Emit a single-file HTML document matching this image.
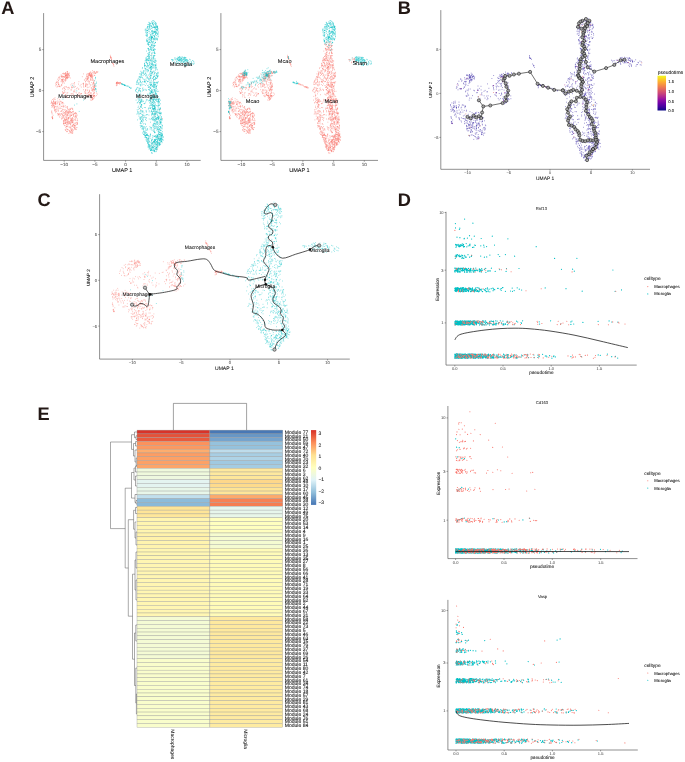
<!DOCTYPE html>
<html><head><meta charset="utf-8"><title>Figure</title>
<style>html,body{margin:0;padding:0;background:#fff}svg{display:block}</style></head>
<body>
<svg width="685" height="762" viewBox="0 0 685 762" text-rendering="geometricPrecision" font-family='"Liberation Sans", Arial, sans-serif'>
<rect width="685" height="762" fill="#fff"/>
<g style="mix-blend-mode:multiply">
<text x="1.2" y="14.0" font-size="18.20" text-anchor="start" fill="#231815" stroke="#231815" stroke-width="0.04" font-weight="bold" >A</text>
<text x="397.8" y="14.2" font-size="18.20" text-anchor="start" fill="#231815" stroke="#231815" stroke-width="0.04" font-weight="bold" >B</text>
<text x="37.6" y="206.3" font-size="18.20" text-anchor="start" fill="#231815" stroke="#231815" stroke-width="0.04" font-weight="bold" >C</text>
<text x="397.8" y="206.0" font-size="18.20" text-anchor="start" fill="#231815" stroke="#231815" stroke-width="0.04" font-weight="bold" >D</text>
<text x="37.6" y="419.8" font-size="18.20" text-anchor="start" fill="#231815" stroke="#231815" stroke-width="0.04" font-weight="bold" >E</text>
<path d="M43.6 13.1V160.4H200.7" stroke="#444" stroke-width="0.6" fill="none"/><text x="64.2" y="166.0" font-size="4.60" text-anchor="middle" fill="#4d4d4d" stroke="#4d4d4d" stroke-width="0.04" font-weight="normal" >−10</text><text x="94.9" y="166.0" font-size="4.60" text-anchor="middle" fill="#4d4d4d" stroke="#4d4d4d" stroke-width="0.04" font-weight="normal" >−5</text><text x="125.6" y="166.0" font-size="4.60" text-anchor="middle" fill="#4d4d4d" stroke="#4d4d4d" stroke-width="0.04" font-weight="normal" >0</text><text x="156.3" y="166.0" font-size="4.60" text-anchor="middle" fill="#4d4d4d" stroke="#4d4d4d" stroke-width="0.04" font-weight="normal" >5</text><text x="187.0" y="166.0" font-size="4.60" text-anchor="middle" fill="#4d4d4d" stroke="#4d4d4d" stroke-width="0.04" font-weight="normal" >10</text><text x="41.2" y="133.3" font-size="4.60" text-anchor="end" fill="#4d4d4d" stroke="#4d4d4d" stroke-width="0.04" font-weight="normal" >−5</text><text x="41.2" y="92.3" font-size="4.60" text-anchor="end" fill="#4d4d4d" stroke="#4d4d4d" stroke-width="0.04" font-weight="normal" >0</text><text x="41.2" y="51.3" font-size="4.60" text-anchor="end" fill="#4d4d4d" stroke="#4d4d4d" stroke-width="0.04" font-weight="normal" >5</text><path d="M64.2 160.4v1.4M94.9 160.4v1.4M125.6 160.4v1.4M156.3 160.4v1.4M187.0 160.4v1.4M43.6 131.6h-1.4M43.6 90.6h-1.4M43.6 49.6h-1.4" stroke="#444" stroke-width="0.5" fill="none"/><text x="122.2" y="172.1" font-size="5.50" text-anchor="middle" fill="#000" stroke="#000" stroke-width="0.04" font-weight="normal" >UMAP 1</text><text transform="translate(33.8 87.0) rotate(-90)" font-size="5.50" text-anchor="middle" stroke="#000" stroke-width="0.04">UMAP 2</text><path d="M59.1 77.1h0M61.3 76.8h0M58.0 86.2h0M63.2 77.6h0M61.3 75.9h0M65.9 80.5h0M63.0 82.1h0M67.4 73.3h0M58.4 82.6h0M56.4 82.5h0M62.8 80.7h0M57.3 82.9h0M61.1 74.8h0M66.8 79.0h0M62.5 73.6h0M60.2 86.7h0M59.2 77.5h0M59.3 86.6h0M63.3 73.8h0M66.9 77.8h0M56.8 81.3h0M61.7 85.3h0M64.5 83.1h0M61.8 80.1h0M61.2 81.0h0M64.7 74.2h0M57.3 86.2h0M58.4 84.5h0M66.5 77.5h0M61.5 79.7h0M63.9 73.9h0M55.6 83.2h0M65.3 81.2h0M65.6 75.9h0M67.2 73.3h0M66.5 75.2h0M59.0 84.4h0M62.6 80.8h0M56.4 84.7h0M62.4 79.4h0M61.1 85.8h0M62.2 79.2h0M56.1 84.5h0M62.0 76.3h0M66.4 77.2h0M57.7 81.8h0M62.3 82.1h0M62.7 76.6h0M59.2 86.3h0M58.5 77.9h0M63.6 76.6h0M59.8 79.2h0M67.6 71.5h0M59.0 86.2h0M57.0 87.2h0M66.0 78.7h0M67.8 72.8h0M56.5 82.8h0M68.3 73.7h0M58.4 80.2h0M65.3 75.2h0M64.9 80.4h0M64.0 76.5h0M62.6 81.0h0M58.5 84.3h0M68.3 77.3h0M58.6 83.8h0M61.7 84.4h0M60.0 76.3h0M64.6 77.4h0M62.1 76.2h0M65.7 79.3h0M61.8 85.0h0M55.7 85.8h0M61.8 79.7h0M65.8 73.6h0M62.6 79.6h0M61.6 76.9h0M66.4 78.1h0M65.9 78.0h0M62.0 76.0h0M60.0 78.4h0M62.8 83.4h0M63.8 81.1h0M65.9 74.6h0M64.8 79.6h0M65.5 79.9h0M59.6 86.1h0M63.5 79.0h0M69.4 73.1h0M62.2 77.3h0M68.7 74.8h0M65.6 78.6h0M61.1 81.7h0M65.7 72.5h0M67.7 75.0h0M63.4 81.7h0M58.5 80.8h0M57.7 79.2h0M68.3 74.8h0M67.9 74.6h0M65.5 78.0h0M65.6 73.1h0M67.2 74.1h0M67.5 75.6h0M67.4 76.6h0M69.1 75.5h0M67.4 78.4h0M67.5 77.1h0M66.1 73.9h0M65.0 76.2h0M68.1 73.7h0M66.1 75.3h0M67.5 77.9h0M63.2 79.4h0M68.0 75.7h0M64.6 77.0h0M66.3 76.5h0M66.9 71.8h0M65.6 75.6h0M65.6 77.0h0M65.4 76.3h0M66.0 75.2h0M67.3 77.5h0M70.3 78.0h0M67.6 71.8h0M65.7 73.4h0M69.5 75.2h0M63.7 73.2h0M67.1 76.8h0M69.2 77.2h0M68.8 76.9h0M67.9 77.8h0M66.3 77.5h0M65.7 75.5h0M66.7 75.5h0M69.2 76.1h0M63.7 76.4h0M67.1 74.0h0M68.8 74.1h0M66.6 74.7h0M64.4 73.5h0M67.7 74.9h0M66.3 75.7h0M65.8 74.8h0M76.5 92.9h0M77.3 87.8h0M80.9 93.9h0M83.5 83.4h0M69.4 88.2h0M66.2 86.5h0M73.8 91.0h0M72.4 87.6h0M79.0 94.8h0M78.7 89.2h0M73.4 95.3h0M83.8 87.2h0M76.4 88.7h0M79.4 95.6h0M64.6 88.1h0M62.9 92.7h0M81.3 93.7h0M73.5 94.1h0M63.8 93.1h0M70.9 84.9h0M83.5 85.0h0M82.9 83.7h0M81.3 87.1h0M63.8 87.5h0M83.4 89.7h0M80.1 85.8h0M65.0 92.3h0M65.4 96.8h0M85.4 90.0h0M78.8 89.0h0M71.1 93.9h0M65.4 94.8h0M72.0 97.7h0M65.4 89.4h0M77.1 95.0h0M74.9 89.9h0M75.4 86.6h0M63.0 93.4h0M71.7 86.8h0M81.1 84.4h0M64.6 88.7h0M66.9 95.1h0M63.1 92.9h0M66.2 87.3h0M67.8 92.7h0M64.4 92.0h0M85.5 86.5h0M73.6 91.9h0M78.6 96.5h0M64.3 90.4h0M67.7 97.5h0M74.5 82.5h0M74.5 91.2h0M70.9 89.9h0M67.4 96.9h0M71.9 93.8h0M62.7 89.1h0M78.9 81.7h0M85.8 90.2h0M80.2 94.1h0M67.7 87.7h0M64.9 86.6h0M81.3 93.5h0M75.0 92.1h0M72.0 83.7h0M78.4 93.1h0M71.8 87.9h0M79.5 92.8h0M83.6 83.3h0M85.8 89.7h0M68.8 87.3h0M85.7 91.0h0M74.2 84.0h0M68.8 87.7h0M74.3 87.3h0M65.6 95.0h0M74.1 86.0h0M70.9 95.5h0M72.2 93.8h0M76.5 95.6h0M71.5 89.9h0M68.1 89.3h0M73.9 83.7h0M62.4 91.6h0M63.5 93.2h0M72.9 86.0h0M67.0 93.1h0M78.5 84.1h0M62.9 88.4h0M71.8 87.4h0M89.2 94.8h0M85.7 78.2h0M88.2 87.3h0M89.0 94.0h0M87.5 84.3h0M85.7 84.7h0M93.8 82.7h0M92.6 79.9h0M87.0 95.2h0M93.4 80.0h0M90.4 79.7h0M85.5 85.4h0M91.3 88.4h0M92.4 86.2h0M89.8 95.3h0M86.0 78.7h0M91.2 77.1h0M85.5 81.3h0M90.3 85.1h0M88.1 76.8h0M87.7 96.7h0M85.1 93.6h0M89.9 86.9h0M87.7 79.4h0M85.5 81.9h0M88.6 95.4h0M89.0 75.5h0M89.1 84.1h0M94.6 87.6h0M86.8 79.7h0M93.1 94.3h0M84.8 80.0h0M92.0 90.5h0M91.8 96.3h0M88.0 78.3h0M90.9 84.9h0M87.7 90.7h0M86.8 78.8h0M86.6 77.0h0M88.4 92.6h0M84.3 80.0h0M88.6 80.2h0M92.8 95.1h0M90.4 95.3h0M90.8 95.6h0M87.4 79.5h0M93.3 87.3h0M85.6 86.6h0M87.4 78.3h0M92.5 77.7h0M90.9 95.8h0M87.6 96.5h0M92.5 89.0h0M91.7 82.5h0M93.3 83.0h0M93.4 93.5h0M89.0 76.1h0M87.7 81.1h0M92.7 78.5h0M83.6 86.2h0M90.4 76.3h0M93.7 82.4h0M93.7 88.9h0M91.9 79.3h0M86.6 80.6h0M90.6 76.5h0M90.8 93.0h0M89.5 91.0h0M93.9 91.6h0M83.6 84.3h0M89.5 90.2h0M91.0 96.0h0M91.5 94.0h0M90.9 80.4h0M85.7 85.7h0M87.8 89.8h0M87.7 78.6h0M89.6 91.4h0M85.9 93.4h0M90.9 97.0h0M89.0 92.6h0M86.3 83.7h0M92.2 80.4h0M89.2 82.1h0M86.9 86.0h0M91.4 87.6h0M90.5 75.7h0M90.7 93.8h0M88.9 75.5h0M84.5 91.8h0M91.7 89.9h0M86.8 84.5h0M89.3 83.2h0M87.2 76.6h0M89.0 94.8h0M86.5 95.7h0M85.8 93.0h0M89.6 81.3h0M89.2 94.4h0M91.0 92.5h0M87.1 85.1h0M88.7 81.7h0M85.2 92.3h0M90.1 95.5h0M85.4 83.9h0M87.2 87.7h0M89.0 92.1h0M92.4 90.0h0M93.5 81.2h0M87.7 93.2h0M92.3 75.0h0M86.7 76.1h0M88.9 74.5h0M91.4 77.4h0M91.5 75.5h0M87.1 73.9h0M87.9 77.5h0M91.6 73.8h0M88.1 73.5h0M92.2 76.3h0M94.6 75.5h0M90.3 79.7h0M91.3 76.5h0M90.8 78.5h0M92.6 72.8h0M94.4 80.7h0M91.2 74.8h0M82.3 76.7h0M89.5 72.8h0M87.7 75.0h0M89.6 74.7h0M88.8 73.8h0M92.2 77.8h0M92.5 76.7h0M89.1 73.3h0M90.0 74.3h0M91.7 74.3h0M88.5 77.1h0M91.5 74.0h0M90.7 75.7h0M91.9 75.4h0M86.4 74.8h0M91.0 74.0h0M87.6 76.7h0M90.6 76.1h0M89.6 73.6h0M90.8 72.0h0M90.5 72.3h0M92.4 70.7h0M89.9 75.5h0M93.0 76.2h0M88.7 74.9h0M90.8 77.8h0M90.5 75.9h0M89.8 75.0h0M89.4 73.4h0M91.1 75.6h0M90.1 73.4h0M91.8 73.0h0M89.6 75.0h0M94.8 75.3h0M94.0 73.7h0M88.9 77.8h0M91.5 76.5h0M88.2 78.4h0M92.8 75.1h0M90.0 74.5h0M90.5 75.1h0M91.2 75.7h0M83.6 73.9h0M94.4 90.0h0M93.3 83.9h0M92.9 89.6h0M94.3 95.4h0M94.8 83.6h0M94.6 86.3h0M93.8 85.8h0M96.4 93.0h0M93.8 93.0h0M94.4 90.0h0M92.7 84.2h0M94.8 86.6h0M94.3 92.9h0M92.5 91.0h0M93.3 89.4h0M96.4 95.6h0M94.7 85.3h0M94.6 92.8h0M94.8 85.2h0M93.1 95.6h0M93.2 88.0h0M93.3 95.9h0M93.6 90.2h0M94.2 95.6h0M94.9 89.3h0M94.8 84.8h0M95.1 86.5h0M97.3 94.1h0M93.4 82.9h0M94.2 87.3h0M94.7 89.8h0M93.4 89.0h0M93.7 86.4h0M94.4 87.2h0M93.1 84.0h0M91.5 95.6h0M93.6 96.6h0M92.8 99.1h0M91.0 97.6h0M91.6 96.1h0M90.4 100.0h0M92.4 97.9h0M93.5 96.0h0M94.1 96.1h0M95.1 96.2h0M94.4 95.8h0M92.4 99.5h0M91.2 98.6h0M92.9 99.2h0M92.3 97.4h0M92.2 99.8h0M92.2 98.0h0M94.4 97.8h0M93.3 98.6h0M93.8 96.3h0M90.8 95.6h0M94.6 95.7h0M92.4 97.8h0M91.7 100.3h0M92.9 97.9h0M94.0 73.1h0M94.6 72.1h0M97.9 71.8h0M95.4 73.5h0M93.6 72.0h0M94.2 71.4h0M96.9 71.8h0M96.0 73.0h0M96.8 71.5h0M97.1 72.6h0M95.2 72.4h0M94.2 72.0h0M96.8 72.4h0M95.2 73.4h0M61.7 106.5h0M62.3 118.3h0M64.4 115.6h0M67.3 106.8h0M59.4 104.4h0M63.4 120.4h0M55.8 103.7h0M59.6 113.4h0M61.4 101.8h0M62.2 117.4h0M62.4 114.3h0M59.8 117.3h0M65.1 119.3h0M57.8 101.0h0M55.5 103.9h0M61.7 118.9h0M57.5 113.4h0M58.9 107.7h0M71.6 119.2h0M66.0 107.6h0M57.4 103.8h0M61.0 111.5h0M63.0 112.8h0M65.1 114.3h0M59.3 104.1h0M68.2 119.1h0M59.5 104.5h0M68.4 109.6h0M67.0 119.4h0M68.3 113.6h0M55.7 102.5h0M60.7 114.0h0M54.7 107.7h0M63.1 115.8h0M55.8 104.7h0M56.0 101.4h0M60.2 101.6h0M56.2 108.1h0M52.8 103.6h0M55.7 103.8h0M54.5 110.9h0M57.9 106.1h0M56.5 111.6h0M55.9 103.7h0M60.3 115.4h0M63.9 109.4h0M59.8 103.5h0M61.8 106.2h0M65.5 120.3h0M52.5 104.3h0M68.7 121.4h0M51.7 102.4h0M66.4 118.0h0M58.2 114.4h0M67.1 122.4h0M62.2 103.9h0M68.8 118.4h0M62.2 102.9h0M61.1 111.3h0M52.7 106.6h0M59.8 102.9h0M70.5 114.8h0M65.6 113.5h0M68.8 117.8h0M53.8 103.8h0M52.5 103.2h0M69.5 114.0h0M70.0 117.7h0M71.6 120.2h0M56.3 106.7h0M59.4 114.5h0M67.1 122.0h0M55.7 102.1h0M58.5 114.5h0M64.9 106.7h0M72.1 118.9h0M53.1 104.4h0M60.7 101.2h0M60.7 108.0h0M68.0 113.0h0M55.6 111.6h0M63.7 115.3h0M58.0 115.1h0M70.7 113.0h0M63.8 103.8h0M67.5 108.6h0M66.8 116.3h0M60.0 106.0h0M70.4 112.1h0M62.0 116.7h0M67.4 107.2h0M70.3 116.0h0M57.8 98.7h0M63.4 111.8h0M54.1 99.3h0M55.2 99.5h0M61.5 103.0h0M57.5 106.9h0M61.2 114.1h0M59.6 99.7h0M63.2 105.7h0M53.7 107.9h0M55.0 97.8h0M63.3 107.1h0M63.8 113.5h0M62.9 109.7h0M58.0 102.1h0M62.7 102.4h0M61.8 118.8h0M55.4 109.8h0M62.1 111.0h0M63.0 106.6h0M62.2 114.3h0M58.5 110.2h0M65.4 111.9h0M62.4 109.2h0M63.2 118.0h0M57.3 102.9h0M66.7 110.8h0M66.7 112.0h0M62.7 102.6h0M56.9 109.3h0M65.5 111.4h0M66.3 110.9h0M63.3 116.0h0M63.5 106.2h0M57.1 110.8h0M62.5 115.4h0M58.7 114.9h0M58.0 108.9h0M53.9 98.5h0M55.7 112.7h0M59.1 102.0h0M59.3 116.2h0M58.6 111.2h0M67.1 112.7h0M71.3 120.6h0M56.0 109.9h0M53.8 100.1h0M52.7 105.8h0M54.8 109.9h0M55.7 102.2h0M67.6 112.2h0M59.2 108.6h0M62.9 102.4h0M53.5 101.1h0M64.3 112.7h0M69.6 121.5h0M65.7 109.8h0M70.7 120.8h0M61.4 113.6h0M61.0 108.5h0M52.0 103.1h0M67.0 106.8h0M68.9 117.7h0M52.5 99.5h0M64.9 112.5h0M64.7 110.1h0M72.1 118.0h0M51.5 102.0h0M54.9 110.0h0M66.8 117.3h0M65.2 105.6h0M61.8 110.5h0M55.6 106.5h0M71.1 120.0h0M60.0 104.6h0M65.1 114.5h0M58.3 113.5h0M55.1 110.1h0M69.7 131.8h0M72.3 108.4h0M68.6 129.9h0M68.2 123.1h0M72.3 120.7h0M72.7 111.8h0M71.1 115.5h0M65.5 112.1h0M76.1 129.6h0M69.3 130.5h0M64.9 119.6h0M68.4 118.3h0M77.2 118.7h0M71.6 112.6h0M75.3 128.8h0M67.2 115.0h0M69.7 109.3h0M73.0 122.6h0M71.9 108.2h0M72.6 131.3h0M67.5 115.7h0M67.5 114.6h0M68.9 115.7h0M70.0 111.6h0M70.1 108.6h0M69.6 112.1h0M66.5 119.3h0M65.9 117.8h0M75.4 119.9h0M66.9 115.7h0M72.9 129.5h0M70.8 132.1h0M75.0 113.0h0M71.0 118.8h0M65.7 130.2h0M67.6 126.6h0M75.3 118.2h0M68.7 112.2h0M63.6 121.8h0M70.0 123.4h0M64.4 125.6h0M66.9 129.4h0M74.7 127.2h0M74.0 126.8h0M72.3 111.8h0M74.8 129.0h0M71.8 112.4h0M77.7 120.7h0M71.7 130.6h0M74.8 125.9h0M76.2 113.4h0M70.7 123.1h0M76.8 114.9h0M75.1 125.6h0M68.0 119.8h0M64.5 120.1h0M73.8 124.5h0M68.9 112.4h0M65.4 123.4h0M76.5 113.3h0M73.3 111.2h0M65.8 122.8h0M74.6 128.8h0M66.5 113.2h0M73.5 120.8h0M71.1 112.9h0M67.6 120.9h0M73.0 119.2h0M73.3 115.0h0M70.9 118.4h0M72.4 125.7h0M67.8 118.4h0M74.1 113.5h0M66.0 122.9h0M68.5 122.9h0M65.2 129.7h0M70.2 132.3h0M65.1 125.4h0M76.3 117.6h0M65.4 127.2h0M68.1 124.5h0M64.4 121.1h0M73.4 114.7h0M71.6 115.3h0M67.9 126.0h0M71.5 132.8h0M74.9 117.2h0M71.1 133.2h0M63.6 117.0h0M65.7 130.1h0M71.8 129.8h0M75.4 116.0h0M69.9 131.1h0M70.6 124.9h0M64.4 118.7h0M70.3 109.2h0M67.7 123.6h0M67.0 124.9h0M65.8 115.0h0M63.5 123.0h0M70.3 128.8h0M72.5 132.8h0M72.5 122.1h0M76.0 122.5h0M74.6 119.9h0M76.3 127.8h0M73.0 124.8h0M72.9 121.0h0M71.8 128.8h0M76.7 124.7h0M76.9 122.3h0M73.5 115.2h0M75.2 113.2h0M68.0 122.8h0M74.9 125.4h0M63.9 123.4h0M67.7 121.2h0M72.9 126.0h0M66.8 124.9h0M72.2 126.4h0M66.4 126.7h0M65.9 121.9h0M65.0 120.8h0M70.9 122.8h0M75.4 112.7h0M68.2 113.9h0M72.2 119.0h0M67.5 129.6h0M68.1 117.8h0M73.4 124.7h0M67.2 111.3h0M72.4 122.7h0M67.9 109.1h0M74.1 123.2h0M75.3 127.0h0M70.0 116.5h0M63.4 123.5h0M77.1 115.2h0M66.3 128.3h0M69.0 127.1h0M66.3 119.0h0M65.5 116.8h0M66.8 120.7h0M72.0 130.7h0M72.8 109.1h0M72.1 125.3h0M69.9 127.6h0M64.9 113.2h0M77.4 122.9h0M69.5 122.2h0M68.3 121.2h0M64.8 122.9h0M67.0 110.9h0M63.5 123.2h0M72.9 118.3h0M66.7 126.5h0M67.8 113.0h0M67.0 131.2h0M66.6 126.5h0M72.1 121.1h0M70.5 124.5h0M75.9 120.5h0M72.6 117.6h0M65.4 120.7h0M65.2 123.4h0M65.5 119.6h0M70.0 130.9h0M71.5 121.6h0M76.3 116.8h0M69.7 122.7h0M69.4 111.9h0M68.4 117.7h0M75.1 123.3h0M76.7 116.1h0M72.5 109.4h0M63.7 121.2h0M70.6 131.9h0M75.8 123.8h0M77.2 122.9h0M72.4 122.5h0M70.9 123.2h0M64.1 117.2h0M69.3 110.1h0M73.8 127.5h0M70.6 127.6h0M68.9 133.5h0M71.1 127.0h0M73.9 124.2h0M63.8 124.6h0M70.4 109.5h0M77.4 120.0h0M71.1 108.3h0M66.6 131.6h0M67.5 114.9h0M71.8 114.8h0M74.4 113.7h0M75.1 119.2h0M66.8 124.2h0M67.6 129.3h0M77.3 124.5h0M71.7 130.4h0M73.0 114.6h0M71.5 115.5h0M77.2 123.4h0M69.2 110.8h0M67.3 122.5h0M72.9 132.1h0M69.3 123.8h0M72.8 120.0h0M66.7 119.7h0M64.3 123.3h0M65.5 123.1h0M75.3 113.9h0M77.5 123.8h0M63.3 120.9h0M67.5 131.6h0M71.1 129.6h0M70.6 111.3h0M70.9 120.9h0M69.1 123.4h0M74.8 125.6h0M73.9 125.7h0M74.5 127.5h0M70.8 120.0h0M76.0 129.5h0M75.2 116.7h0M70.0 115.8h0M73.3 130.3h0M75.3 115.4h0M71.8 131.8h0M72.7 133.5h0M74.7 125.7h0M70.7 121.0h0M70.0 126.7h0M73.0 113.7h0M73.4 116.5h0M75.2 116.5h0M68.5 111.3h0M68.6 112.2h0M72.3 121.1h0M71.4 122.6h0M71.7 119.7h0M64.7 119.0h0M72.1 128.9h0M66.4 114.8h0M66.0 122.1h0M75.0 128.6h0M77.0 127.5h0M73.4 111.9h0M72.1 126.3h0M51.7 105.3h0M54.6 105.1h0M51.7 105.7h0M54.4 107.3h0M53.5 103.5h0M52.2 102.9h0M54.2 101.7h0M54.5 108.7h0M54.5 102.9h0M54.6 106.9h0M54.5 103.5h0M51.4 101.0h0M52.0 107.4h0M53.8 106.2h0M53.7 105.2h0M53.6 102.2h0M53.1 102.1h0M54.4 106.8h0M54.4 102.8h0M53.4 101.4h0M55.6 102.4h0M51.0 103.3h0M53.0 105.3h0M53.7 105.4h0M55.6 103.7h0M53.1 115.3h0M52.5 118.2h0M52.4 116.7h0M51.6 111.9h0M52.7 118.7h0M52.6 118.5h0M52.7 117.7h0M51.8 110.9h0M52.1 117.2h0M52.0 113.0h0M52.3 117.2h0M52.1 114.0h0M51.8 112.2h0M52.5 118.7h0M52.7 118.3h0M52.0 117.1h0M116.6 82.5h0M117.6 82.1h0M120.6 82.9h0M120.2 82.4h0M118.1 83.0h0M120.1 83.1h0M121.2 83.7h0M120.3 83.1h0M116.7 82.5h0M119.9 82.8h0M118.3 83.2h0M118.4 82.9h0M117.2 82.8h0M117.2 82.6h0M121.5 83.8h0M118.6 83.4h0M117.1 82.1h0M118.7 82.8h0M119.3 82.5h0M116.5 83.0h0M119.7 84.1h0M119.6 83.4h0M116.6 83.5h0M117.3 83.0h0M117.6 83.5h0M116.8 85.3h0M117.1 85.0h0M116.2 83.7h0M116.8 83.4h0M116.3 83.0h0M116.9 84.6h0M116.3 85.7h0M111.5 59.7h0M111.7 58.9h0M110.8 56.9h0M111.3 58.0h0M111.0 57.8h0M110.9 57.5h0M110.5 57.8h0M110.8 58.0h0M110.4 56.5h0M111.4 59.6h0M110.3 57.0h0M110.3 55.3h0M113.7 64.7h0M112.7 63.1h0M113.4 64.3h0M113.3 65.1h0M114.0 66.3h0M113.1 63.5h0M112.5 63.2h0M140.5 109.8h0M157.9 145.7h0M139.4 108.4h0M150.7 101.1h0M158.6 137.9h0M158.3 99.2h0M154.8 116.2h0M153.0 99.0h0M162.5 118.6h0M157.3 143.1h0M153.6 80.1h0M151.3 59.2h0M157.1 148.9h0M155.2 113.0h0M152.6 37.9h0M156.2 27.0h0M151.7 54.9h0M149.7 76.6h0M160.2 109.3h0M139.3 103.0h0M153.0 142.6h0M155.2 31.6h0M152.4 146.6h0M152.9 72.3h0M154.4 108.9h0" stroke="#F8766D" stroke-width="0.56" stroke-linecap="round" fill="none" opacity="1.00"/><path d="M149.2 49.7h0M156.6 113.1h0M155.1 87.1h0M153.0 104.2h0M154.6 141.5h0M151.7 145.8h0M149.1 63.0h0M156.5 99.8h0M154.8 136.1h0M155.6 79.7h0M146.9 77.4h0M135.5 91.0h0M156.9 149.7h0M154.9 96.3h0M140.3 106.1h0M151.2 45.1h0M147.1 56.4h0M143.2 129.7h0M157.4 26.1h0M154.8 144.5h0M152.6 109.1h0M153.3 41.1h0M142.3 68.6h0M154.6 55.9h0M145.5 31.0h0M137.6 119.9h0M150.6 71.9h0M150.4 39.2h0M161.5 138.6h0M159.1 136.4h0M151.9 72.0h0M159.2 132.1h0M137.2 102.9h0M157.2 135.8h0M153.3 124.9h0M140.3 76.1h0M161.9 136.2h0M148.1 70.6h0M159.4 140.8h0M144.5 63.3h0M149.2 52.2h0M148.4 136.9h0M153.6 67.8h0M149.8 103.0h0M147.0 30.5h0M153.3 20.6h0M147.0 30.3h0M160.1 138.1h0M155.4 31.1h0M154.9 90.3h0M156.3 137.2h0M141.3 118.1h0M146.8 36.6h0M141.3 125.9h0M143.5 73.3h0M160.1 113.3h0M151.2 26.3h0M153.7 41.8h0M138.7 90.9h0M156.5 78.3h0M149.2 79.9h0M153.4 127.2h0M150.4 67.7h0M156.3 86.2h0M155.9 149.1h0M152.9 97.3h0M156.5 93.8h0M159.1 111.8h0M151.1 92.3h0M153.5 50.4h0M155.0 94.1h0M149.1 68.3h0M156.8 69.1h0M158.6 112.7h0M151.5 127.5h0M156.2 119.3h0M162.1 135.5h0M157.7 129.1h0M158.6 99.3h0M151.5 64.1h0M154.7 50.2h0M160.7 138.4h0M154.4 108.7h0M154.3 108.6h0M156.8 29.3h0M146.5 39.3h0M143.4 120.8h0M154.4 27.8h0M151.7 44.5h0M158.8 142.4h0M153.1 58.1h0M150.6 93.7h0M160.6 130.6h0M152.7 117.1h0M159.6 144.8h0M158.1 143.9h0M151.5 110.9h0M150.7 67.0h0M149.0 79.9h0M152.6 44.2h0M139.8 99.7h0M156.7 139.4h0M149.6 147.8h0M147.1 30.2h0M152.6 95.1h0M154.2 49.0h0M147.6 85.6h0M145.3 136.3h0M160.4 119.4h0M143.1 119.8h0M155.5 60.5h0M161.9 141.3h0M153.3 144.8h0M156.9 26.9h0M149.8 90.6h0M159.2 122.9h0M147.4 128.7h0M155.1 99.5h0M146.2 126.6h0M151.4 26.4h0M137.2 109.8h0M148.3 109.1h0M148.3 58.8h0M146.6 141.2h0M154.6 150.3h0M153.8 108.8h0M145.3 70.9h0M156.1 144.8h0M147.7 130.0h0M153.4 99.8h0M137.6 111.3h0M154.3 146.4h0M156.6 137.0h0M154.5 76.5h0M150.7 60.1h0M145.7 81.5h0M148.0 146.1h0M137.7 102.6h0M156.4 29.6h0M155.4 102.9h0M154.5 45.6h0M154.3 126.9h0M145.1 30.1h0M157.6 135.7h0M149.4 64.6h0M154.5 32.5h0M152.0 33.8h0M144.4 63.5h0M156.8 149.8h0M158.7 132.1h0M146.3 139.2h0M155.4 69.3h0M152.0 85.2h0M154.8 96.9h0M142.4 90.9h0M157.1 26.6h0M147.9 143.8h0M145.8 128.9h0M159.7 109.6h0M157.8 142.6h0M139.8 113.9h0M153.5 50.6h0M155.0 37.2h0M142.8 118.1h0M143.3 127.8h0M144.5 65.9h0M152.1 146.6h0M154.7 108.4h0M147.8 24.6h0M142.0 72.0h0M147.4 36.2h0M152.0 89.4h0M144.2 132.2h0M148.9 31.2h0M147.4 142.4h0M156.4 119.4h0M154.7 105.7h0M157.6 26.7h0M141.4 105.0h0M153.4 148.0h0M157.1 147.5h0M156.5 82.3h0M154.2 98.8h0M154.5 23.4h0M151.7 92.1h0M151.7 98.4h0M143.2 94.7h0M153.0 32.8h0M151.7 118.3h0M152.7 64.5h0M144.0 71.0h0M141.9 104.9h0M140.5 102.9h0M151.2 62.9h0M147.7 78.3h0M145.7 102.0h0M155.2 70.6h0M152.8 105.2h0M152.1 47.7h0M148.8 53.7h0M154.3 128.5h0M153.9 84.4h0M151.5 21.8h0M154.0 106.4h0M160.4 108.8h0M144.6 67.0h0M152.6 139.8h0M151.4 57.1h0M139.7 108.4h0M152.8 57.9h0M151.9 81.9h0M150.6 46.8h0M151.5 140.0h0M148.6 60.0h0M155.0 114.4h0M147.4 56.5h0M156.2 149.3h0M146.0 74.0h0M148.3 37.9h0M144.8 135.3h0M155.3 144.8h0M155.5 93.2h0M148.7 142.9h0M160.9 126.9h0M155.0 139.9h0M158.5 117.9h0M158.3 118.4h0M162.4 131.7h0M145.2 117.5h0M153.4 111.4h0M155.6 78.8h0M150.6 85.0h0M152.7 99.3h0M143.8 70.7h0M155.0 84.9h0M151.0 119.6h0M151.8 49.8h0M151.7 148.9h0M147.1 76.4h0M155.2 84.3h0M150.6 148.6h0M152.8 22.7h0M151.8 28.3h0M146.8 63.2h0M150.7 150.6h0M140.2 123.2h0M147.3 41.3h0M151.9 86.8h0M150.1 92.8h0M148.8 48.8h0M141.3 111.8h0M151.5 39.4h0M156.7 144.5h0M160.4 139.9h0M161.7 122.5h0M151.3 110.1h0M147.6 27.3h0M151.3 64.6h0M147.7 30.5h0M155.7 124.5h0M152.2 41.9h0M148.6 60.7h0M146.7 114.6h0M142.9 88.0h0M154.7 27.0h0M155.4 116.4h0M155.4 49.4h0M158.9 109.1h0M149.7 68.0h0M158.4 81.8h0M154.7 82.5h0M153.8 81.6h0M155.1 31.7h0M153.3 106.1h0M147.4 139.2h0M150.1 73.8h0M161.4 117.9h0M151.7 30.9h0M149.8 73.0h0M153.5 114.0h0M155.9 39.6h0M159.1 113.1h0M157.3 33.4h0M159.8 112.8h0M160.5 134.3h0M152.4 104.5h0M151.8 102.7h0M155.5 33.4h0M154.4 73.5h0M149.5 42.3h0M153.9 150.5h0M161.5 137.4h0M152.0 78.1h0M153.0 108.7h0M154.7 74.0h0M152.0 63.3h0M154.1 143.6h0M146.5 51.1h0M155.2 111.8h0M159.1 105.5h0M154.9 151.2h0M140.2 125.6h0M152.0 72.4h0M158.0 117.6h0M139.7 104.0h0M151.5 66.4h0M159.3 139.4h0M157.9 136.8h0M159.3 144.9h0M153.4 76.5h0M148.9 87.1h0M147.5 94.2h0M153.6 103.6h0M151.3 60.4h0M154.9 55.5h0M147.0 134.6h0M141.3 105.1h0M157.1 30.6h0M144.0 81.8h0M155.7 32.9h0M154.7 129.1h0M145.4 72.9h0M156.1 93.3h0M155.0 123.5h0M138.3 113.9h0M151.4 73.9h0M161.0 139.6h0M154.3 102.4h0M152.5 20.9h0M157.1 144.1h0M158.8 118.5h0M152.2 45.5h0M154.5 62.3h0M157.4 27.4h0M149.0 147.6h0M161.6 124.1h0M147.6 43.6h0M144.0 130.9h0M157.4 144.9h0M152.3 147.9h0M154.2 150.4h0M145.9 135.5h0M160.2 114.1h0M150.5 127.6h0M148.7 66.0h0M158.3 116.4h0M147.9 28.2h0M149.2 33.2h0M157.9 101.3h0M151.7 36.5h0M157.7 124.1h0M150.7 49.1h0M147.6 135.2h0M145.0 137.5h0M153.8 45.7h0M158.0 102.8h0M143.2 89.5h0M154.2 120.1h0M153.3 97.6h0M151.4 149.6h0M142.4 119.4h0M159.1 121.1h0M154.1 151.0h0M143.1 118.9h0M159.7 120.7h0M147.0 35.2h0M154.5 126.8h0M154.6 111.6h0M150.4 78.7h0M153.6 85.0h0M146.6 33.2h0M148.5 65.6h0M143.0 128.0h0M150.3 25.9h0M157.7 129.0h0M138.9 100.6h0M150.9 146.9h0M156.3 151.2h0M157.1 123.9h0M137.8 80.2h0M153.8 24.8h0M150.9 104.1h0M146.7 35.5h0M161.8 133.4h0M148.7 135.7h0M152.4 31.7h0M151.3 84.2h0M146.6 59.2h0M158.2 142.8h0M151.0 82.6h0M156.0 141.6h0M151.9 28.2h0M153.3 97.2h0M147.1 140.7h0M137.4 113.0h0M142.6 77.6h0M146.2 69.4h0M152.5 78.4h0M148.6 56.4h0M157.5 140.1h0M149.9 146.1h0M147.3 44.4h0M159.4 98.8h0M153.2 142.8h0M156.8 117.7h0M156.4 26.0h0M155.5 100.5h0M155.3 118.8h0M151.4 38.5h0M155.0 114.3h0M153.2 96.9h0M142.9 78.7h0M155.7 127.0h0M145.4 68.8h0M150.4 35.9h0M154.8 60.4h0M150.9 48.0h0M146.2 80.5h0M157.5 99.4h0M150.1 100.4h0M152.1 43.1h0M151.9 91.4h0M154.4 79.6h0M154.5 79.2h0M161.1 113.9h0M155.4 140.5h0M157.1 89.8h0M152.1 34.0h0M154.5 82.8h0M153.8 110.7h0M141.3 75.4h0M139.1 88.1h0M156.0 25.1h0M150.7 75.6h0M140.6 101.7h0M153.0 96.4h0M147.1 59.7h0M154.7 141.9h0M160.5 139.1h0M156.2 148.1h0M158.0 72.3h0M158.9 123.2h0M156.3 23.4h0M153.0 119.8h0M138.0 87.9h0M142.5 88.8h0M151.7 152.9h0M137.1 81.1h0M152.6 118.1h0M155.0 146.0h0M157.1 149.1h0M152.4 147.6h0M154.1 142.5h0M158.1 36.2h0M150.9 70.5h0M156.2 126.4h0M156.0 126.1h0M145.1 123.5h0M141.7 121.1h0M161.6 128.0h0M147.8 66.8h0M157.5 117.7h0M154.7 35.8h0M153.5 125.4h0M151.3 129.9h0M145.6 132.1h0M156.3 144.2h0M151.1 94.7h0M155.8 38.4h0M155.4 42.4h0M160.6 113.3h0M154.3 107.3h0M149.8 136.0h0M150.9 42.8h0M157.0 124.4h0M160.1 112.1h0M146.5 135.6h0M148.6 43.7h0M157.3 69.8h0M154.5 36.8h0M160.7 140.6h0M152.7 150.3h0M152.1 34.8h0M155.1 141.1h0M156.2 38.0h0M143.4 134.3h0M153.0 126.7h0M152.0 97.4h0M153.4 100.7h0M153.4 27.3h0M154.4 31.4h0M158.2 130.4h0M151.6 50.4h0M162.9 139.4h0M153.9 99.5h0M157.3 40.0h0M145.7 65.6h0M156.8 27.4h0M159.5 109.6h0M151.3 118.4h0M154.9 117.3h0M152.2 102.4h0M158.7 116.3h0M146.1 110.4h0M147.7 26.6h0M142.6 111.8h0M157.8 74.8h0M162.7 136.9h0M154.8 132.8h0M151.8 145.3h0M155.7 72.7h0M154.5 131.0h0M139.9 79.6h0M144.9 133.3h0M154.7 105.3h0M159.9 135.9h0M157.8 76.5h0M155.1 107.3h0M152.6 92.5h0M150.5 85.1h0M155.7 28.2h0M152.1 36.0h0M162.1 142.7h0M157.9 138.1h0M162.4 139.1h0M153.8 141.7h0M154.8 114.1h0M151.4 152.8h0M148.5 60.6h0M155.0 89.8h0M149.0 89.6h0M140.4 118.4h0M149.5 26.3h0M158.0 98.7h0M149.9 145.7h0M138.2 96.9h0M153.7 105.7h0M135.5 90.3h0M152.6 119.5h0M152.3 90.7h0M148.4 43.0h0M150.6 78.0h0M158.3 134.3h0M144.4 134.1h0M146.6 137.8h0M158.1 129.4h0M149.4 148.8h0M149.1 145.0h0M157.8 141.1h0M144.3 74.3h0M148.5 144.1h0M150.0 82.8h0M140.1 111.8h0M157.2 146.4h0M149.2 146.9h0M161.5 135.3h0M144.9 79.5h0M158.0 118.2h0M140.8 71.3h0M160.3 122.4h0M142.4 111.9h0M141.7 101.9h0M158.6 127.7h0M141.8 82.5h0M155.7 140.2h0M151.3 104.0h0M141.5 120.4h0M150.2 63.4h0M155.4 104.9h0M158.0 109.2h0M155.5 22.8h0M160.1 126.7h0M141.1 73.8h0M140.6 127.1h0M156.9 75.3h0M158.1 138.5h0M142.7 122.2h0M158.4 125.3h0M149.8 55.2h0M156.6 86.6h0M145.4 135.4h0M149.7 46.6h0M145.7 130.2h0M153.2 146.9h0M144.7 64.6h0M152.9 117.8h0M151.6 91.5h0M154.0 89.3h0M153.3 109.6h0M160.5 124.0h0M156.7 83.1h0M151.6 41.3h0M150.8 47.3h0M149.7 74.8h0M150.8 55.5h0M159.6 101.8h0M152.0 143.3h0M138.3 101.5h0M151.4 36.4h0M148.1 94.8h0M158.2 33.8h0M138.7 90.3h0M157.4 115.8h0M137.3 87.4h0M156.1 122.2h0M156.4 33.6h0M156.2 99.2h0M150.1 60.3h0M151.5 41.7h0M146.5 134.5h0M153.9 108.6h0M160.7 135.8h0M146.3 31.2h0M148.9 44.5h0M153.3 65.8h0M159.1 143.1h0M152.2 36.8h0M152.2 96.0h0M148.0 48.4h0M158.1 129.4h0M159.2 110.4h0M154.9 96.1h0M152.1 114.5h0M156.6 147.4h0M154.1 151.1h0M141.2 73.7h0M138.0 98.8h0M155.3 66.7h0M151.9 26.1h0M138.1 112.1h0M150.0 29.3h0M143.1 75.5h0M159.3 102.9h0M149.5 25.3h0M154.9 112.8h0M157.9 147.1h0M151.8 144.4h0M143.2 128.5h0M155.4 78.0h0M152.9 125.4h0M151.7 115.7h0M140.8 119.2h0M149.2 22.9h0M160.1 121.8h0M156.0 82.6h0M156.9 111.6h0M147.4 114.6h0M154.6 106.5h0M146.0 29.2h0M156.9 100.3h0M154.2 151.1h0M154.5 36.7h0M151.7 38.2h0M144.3 107.5h0M155.9 26.6h0M158.0 34.9h0M156.9 141.7h0M147.7 38.9h0M151.0 150.3h0M141.6 116.7h0M143.9 112.9h0M151.8 150.6h0M152.8 147.0h0M141.3 99.1h0M139.1 113.9h0M157.3 91.6h0M146.3 99.4h0M155.7 118.3h0M154.3 45.1h0M138.7 109.3h0M136.5 96.4h0M149.9 23.6h0M150.6 99.7h0M161.2 134.8h0M161.9 135.6h0M152.5 42.2h0M154.8 32.0h0M155.8 113.6h0M158.4 100.8h0M153.1 74.3h0M155.3 59.0h0M158.9 119.7h0M151.0 23.2h0M155.5 23.1h0M157.8 76.5h0M148.1 141.4h0M159.4 143.1h0M140.9 113.2h0M140.1 117.8h0M157.6 29.3h0M144.3 117.1h0M152.7 107.9h0M152.2 63.6h0M148.5 108.1h0M151.7 55.7h0M147.5 65.0h0M147.9 27.8h0M157.7 136.0h0M138.3 99.1h0M141.8 77.1h0M142.8 115.1h0M153.4 95.2h0M154.5 101.4h0M146.1 89.8h0M163.1 140.4h0M154.1 71.6h0M141.8 123.6h0M145.7 135.7h0M150.7 23.5h0M152.3 73.3h0M148.8 79.3h0M152.4 135.8h0M148.7 44.5h0M150.0 46.4h0M152.1 52.5h0M153.3 38.5h0M162.0 119.6h0M151.1 96.8h0M155.4 136.1h0M139.7 88.6h0M161.1 138.1h0M156.7 130.1h0M159.7 138.8h0M150.1 98.8h0M153.7 119.5h0M154.7 132.5h0M154.5 148.9h0M138.1 107.5h0M151.2 148.0h0M155.9 32.4h0M160.2 142.3h0M149.3 141.3h0M156.0 119.1h0M150.9 83.0h0M154.8 132.2h0M158.3 103.7h0M146.9 40.6h0M149.9 126.7h0M161.6 116.5h0M148.9 145.0h0M152.3 144.0h0M156.7 73.5h0M161.1 141.0h0M161.3 140.0h0M146.1 66.9h0M151.3 45.0h0M155.9 110.1h0M155.0 114.8h0M159.9 108.2h0M141.5 100.0h0M141.4 107.4h0M147.3 42.1h0M138.5 95.3h0M155.7 109.1h0M154.6 119.3h0M148.2 81.5h0M156.7 145.1h0M141.9 99.7h0M147.4 135.1h0M149.7 63.9h0M154.9 84.7h0M150.7 42.8h0M154.4 27.6h0M148.8 40.0h0M156.5 32.7h0M147.8 53.6h0M143.5 134.3h0M152.0 71.6h0M158.2 117.3h0M158.2 36.8h0M153.6 25.4h0M152.1 64.7h0M154.6 90.5h0M154.9 125.3h0M154.2 75.9h0M140.4 88.5h0M154.6 136.5h0M150.6 108.2h0M143.0 72.7h0M154.0 43.5h0M142.8 116.5h0M154.0 131.4h0M152.0 111.6h0M151.4 92.7h0M149.9 25.0h0M146.5 137.9h0M160.1 118.2h0M140.4 81.1h0M161.7 138.1h0M142.4 133.0h0M151.6 128.3h0M160.9 120.5h0M151.0 103.7h0M158.8 138.4h0M152.7 102.7h0M157.3 27.8h0M149.8 57.4h0M140.6 106.5h0M153.9 94.1h0M152.4 85.9h0M147.3 99.8h0M150.9 91.1h0M156.6 35.6h0M139.5 90.3h0M161.2 133.8h0M145.1 65.3h0M149.2 138.8h0M144.4 81.8h0M162.3 125.6h0M160.5 115.8h0M149.1 57.0h0M147.2 65.3h0M149.2 86.5h0M151.4 84.7h0M142.1 128.9h0M153.6 61.5h0M160.3 144.7h0M151.5 68.9h0M153.1 92.6h0M148.2 55.4h0M157.1 146.1h0M157.7 135.2h0M154.6 139.9h0M154.2 86.9h0M155.6 121.1h0M147.1 71.9h0M152.4 112.1h0M158.4 131.8h0M157.2 112.1h0M150.6 67.9h0M150.3 60.0h0M157.1 73.6h0M146.2 57.5h0M149.2 59.0h0M157.6 95.9h0M158.7 101.8h0M152.2 106.0h0M154.1 108.6h0M148.1 71.2h0M150.1 65.9h0M156.1 136.4h0M153.6 79.1h0M150.1 105.5h0M159.1 116.1h0M146.4 135.0h0M142.2 125.8h0M140.6 110.7h0M157.7 26.9h0M155.5 94.2h0M136.7 89.3h0M152.4 86.4h0M155.4 29.1h0M156.6 121.1h0M140.7 123.7h0M154.2 66.0h0M147.0 32.9h0M152.4 114.2h0M151.2 38.3h0M151.5 143.2h0M154.1 140.4h0M141.6 126.6h0M152.0 30.7h0M151.2 99.7h0M162.2 139.7h0M151.7 140.1h0M159.0 117.0h0M141.3 77.0h0M144.9 135.3h0M147.9 67.0h0M150.0 102.3h0M145.2 136.3h0M150.9 73.9h0M153.7 57.2h0M153.7 24.7h0M146.7 74.9h0M157.5 83.3h0M151.0 150.2h0M156.5 105.6h0M151.5 31.7h0M147.1 59.9h0M156.8 136.2h0M157.8 112.8h0M161.3 141.2h0M151.7 143.1h0M146.6 137.7h0M141.9 121.0h0M153.8 59.7h0M155.0 38.8h0M155.0 76.0h0M160.0 126.5h0M158.5 100.8h0M152.7 50.7h0M155.6 140.1h0M160.0 113.7h0M151.1 101.4h0M154.1 87.4h0M145.3 73.5h0M153.4 109.1h0M154.8 21.8h0M155.1 85.0h0M146.9 62.1h0M145.6 124.5h0M153.2 147.8h0M148.5 26.2h0M138.8 78.2h0M145.0 103.3h0M149.9 60.1h0M156.2 99.1h0M152.0 53.8h0M154.4 85.8h0M154.2 21.2h0M152.8 66.2h0M157.6 126.7h0M156.1 118.1h0M157.1 39.4h0M146.1 78.9h0M152.5 143.7h0M154.3 55.7h0M149.3 78.4h0M157.5 30.0h0M159.0 104.8h0M155.1 82.9h0M156.5 74.4h0M148.6 85.9h0M157.5 77.7h0M158.6 118.3h0M141.4 106.4h0M160.2 126.5h0M158.2 31.3h0M155.0 27.7h0M162.3 135.1h0M155.6 99.2h0M153.7 38.8h0M157.9 128.1h0M158.4 96.6h0M161.2 141.5h0M152.5 23.5h0M159.6 140.3h0M162.6 133.9h0M149.8 61.0h0M157.5 139.8h0M160.8 119.4h0M153.7 86.6h0M152.7 139.1h0M157.0 127.6h0M147.2 134.1h0M140.0 80.9h0M145.6 75.9h0M158.4 101.8h0M153.8 131.2h0M150.8 98.2h0M148.6 24.5h0M155.6 113.2h0M140.9 74.3h0M140.4 82.0h0M148.9 115.1h0M145.1 68.6h0M151.3 149.3h0M149.7 100.4h0M155.1 68.1h0M143.7 71.3h0M154.5 140.7h0M156.9 78.1h0M154.6 113.6h0M153.2 109.7h0M159.7 113.4h0M143.4 131.2h0M154.8 86.0h0M157.8 28.7h0M152.7 27.3h0M147.5 63.6h0M147.3 63.7h0M155.5 128.3h0M156.9 148.3h0M141.3 125.8h0M156.0 142.8h0M156.9 111.3h0M159.8 137.1h0M151.1 85.4h0M153.5 79.3h0M153.7 108.6h0M148.1 48.4h0M160.4 138.1h0M152.8 113.2h0M160.8 133.1h0M148.1 147.3h0M149.8 82.7h0M140.8 85.2h0M161.3 141.6h0M154.2 124.1h0M148.2 139.9h0M142.2 110.6h0M148.6 70.6h0M156.2 75.5h0M153.6 47.2h0M148.2 138.4h0M160.8 113.2h0M150.4 108.4h0M140.4 77.3h0M146.6 117.8h0M159.0 144.2h0M158.0 140.7h0M153.1 124.8h0M159.9 139.3h0M153.2 111.6h0M160.3 121.6h0M155.1 149.0h0M154.3 121.3h0M157.1 122.7h0M147.7 59.1h0M153.8 65.2h0M155.5 120.3h0M151.0 105.3h0M149.4 28.2h0M152.9 24.3h0M159.0 134.3h0M156.6 91.0h0M150.3 71.2h0M144.6 134.8h0M152.6 60.9h0M148.9 50.0h0M148.8 50.5h0M157.0 112.8h0M149.9 24.5h0M158.5 138.8h0M155.5 88.2h0M146.2 62.5h0M159.7 143.1h0M154.0 27.3h0M157.5 122.2h0M153.2 141.7h0M159.8 117.8h0M154.2 58.8h0M153.1 147.1h0M153.6 50.0h0M136.7 88.3h0M152.5 65.2h0M158.0 134.7h0M148.7 146.3h0M139.7 76.7h0M160.6 130.2h0M146.2 90.4h0M154.6 53.7h0M154.4 53.1h0M149.0 146.1h0M153.6 64.4h0M146.7 59.8h0M150.7 34.6h0M141.3 72.6h0M153.3 56.1h0M156.6 29.5h0M149.3 145.0h0M161.7 118.0h0M149.9 36.7h0M157.5 144.9h0M145.7 133.8h0M156.2 138.2h0M139.1 82.6h0M147.7 81.4h0M156.0 86.3h0M152.6 72.5h0M141.2 121.7h0M150.3 98.2h0M149.9 93.2h0M159.6 134.6h0M150.3 67.4h0M144.8 80.5h0M150.4 136.0h0M141.9 117.2h0M155.1 142.6h0M152.4 113.7h0M155.4 42.6h0M143.3 117.5h0M140.3 102.2h0M138.9 116.1h0M154.2 53.2h0M150.3 88.1h0M154.8 43.2h0M158.3 106.1h0M155.6 92.7h0M148.0 135.5h0M156.0 25.1h0M150.9 148.1h0M153.1 102.6h0M138.1 79.2h0M148.4 78.3h0M154.4 72.6h0M155.9 151.7h0M150.9 48.7h0M150.0 107.6h0M151.4 92.6h0M149.2 111.8h0M153.2 129.3h0M153.5 35.4h0M151.3 141.4h0M148.5 48.9h0M136.1 100.1h0M156.8 75.8h0M149.4 23.2h0M153.4 105.5h0M148.8 42.1h0M145.2 82.4h0M148.3 49.0h0M158.7 91.3h0M154.4 62.2h0M146.0 139.9h0M148.3 58.1h0M152.0 91.4h0M150.7 40.5h0M150.6 122.2h0M145.6 59.9h0M155.0 40.0h0M140.0 102.5h0M151.6 140.4h0M155.7 67.8h0M156.7 96.3h0M149.6 42.0h0M152.3 31.3h0M148.9 22.3h0M155.3 109.9h0M157.6 114.9h0M153.1 120.4h0M140.6 107.3h0M140.4 81.9h0M145.0 89.3h0M156.2 65.2h0M140.3 117.2h0M153.2 83.1h0M151.4 105.3h0M156.5 101.3h0M151.0 149.9h0M158.3 139.6h0M155.6 24.8h0M157.1 143.1h0M155.0 26.5h0M153.8 114.3h0M151.7 114.3h0M157.7 76.6h0M137.6 82.7h0M149.5 146.6h0M143.2 132.0h0M155.0 146.4h0M157.0 26.2h0M159.1 101.2h0M146.3 100.7h0M140.2 91.3h0M151.6 69.4h0M151.8 53.6h0M162.2 125.2h0M161.7 136.0h0M153.2 22.4h0M150.3 34.8h0M159.1 143.9h0M160.0 134.4h0M153.6 33.6h0M148.3 139.3h0M145.3 85.5h0M146.3 112.1h0M141.2 101.4h0M151.1 37.2h0M153.4 49.6h0M147.0 134.1h0M157.6 72.9h0M157.1 141.9h0M149.6 56.5h0M146.6 66.7h0M151.3 147.4h0M157.8 138.8h0M154.4 151.7h0M147.0 40.6h0M145.8 35.2h0M154.5 97.4h0M154.0 141.5h0M158.9 102.1h0M161.0 119.5h0M150.4 69.3h0M148.8 57.1h0M155.9 24.6h0M159.8 143.1h0M160.9 136.2h0M158.1 75.5h0M147.3 40.9h0M153.3 149.5h0M157.1 137.4h0M145.4 107.6h0M146.4 60.8h0M153.3 99.9h0M152.5 24.0h0M154.6 139.8h0M153.8 32.6h0M153.8 98.3h0M151.2 37.6h0M144.5 81.6h0M156.9 94.8h0M157.0 30.7h0M159.8 134.6h0M150.9 75.1h0M160.7 122.4h0M158.4 73.1h0M153.2 100.8h0M158.2 107.7h0M150.4 134.9h0M142.1 128.8h0M160.2 108.7h0M145.2 61.9h0M151.9 113.4h0M152.6 37.1h0M142.1 121.0h0M152.5 33.0h0M142.6 108.4h0M154.3 46.3h0M154.7 136.3h0M154.1 35.6h0M153.8 85.3h0M155.7 61.1h0M160.9 135.8h0M155.3 65.6h0M150.9 32.8h0M139.8 77.7h0M139.7 100.3h0M154.1 115.8h0M145.0 115.8h0M152.7 101.8h0M147.7 77.4h0M147.7 30.7h0M152.7 108.5h0M140.8 101.5h0M136.6 82.7h0M161.2 121.4h0M157.1 39.3h0M152.6 37.7h0M136.9 81.6h0M152.9 27.5h0M140.0 117.2h0M149.5 141.2h0M154.8 31.6h0M140.8 91.9h0M148.8 145.0h0M150.1 65.1h0M146.2 111.4h0M152.2 46.1h0M157.2 76.1h0M147.6 143.3h0M150.6 87.9h0M156.0 94.3h0M154.0 52.5h0M157.0 118.7h0M153.4 45.2h0M138.2 91.9h0M152.0 107.6h0M149.1 89.7h0M156.7 128.2h0M148.4 144.2h0M155.8 137.7h0M155.7 27.8h0M152.5 68.0h0M150.8 75.6h0M152.5 106.2h0M139.3 98.3h0M160.5 100.2h0M148.8 29.0h0M147.5 81.7h0M141.2 104.6h0M147.6 34.2h0M154.9 64.4h0M142.4 81.6h0M148.2 142.1h0M154.2 49.1h0M155.0 116.1h0M162.6 135.0h0M155.6 111.7h0M155.6 135.8h0M136.1 89.5h0M145.3 29.2h0M138.3 83.1h0M139.2 89.7h0M150.6 101.3h0M153.5 77.5h0M158.7 100.1h0M155.9 139.5h0M163.4 136.9h0M140.3 77.9h0M153.6 77.2h0M151.7 58.5h0M138.4 84.1h0M147.4 35.1h0M154.0 49.2h0M151.0 36.1h0M142.2 84.9h0M157.4 136.4h0M152.2 23.0h0M153.8 116.2h0M144.9 65.5h0M149.7 27.4h0M140.6 103.2h0M144.4 103.7h0M140.6 122.7h0M138.8 112.1h0M150.4 29.1h0M155.6 65.1h0M159.4 132.7h0M156.5 118.4h0M148.6 138.1h0M154.8 105.1h0M149.1 39.3h0M153.0 99.6h0M154.8 107.7h0M141.1 100.5h0M152.7 93.3h0M153.0 42.2h0M144.0 84.5h0M150.5 134.0h0M147.9 135.6h0M148.8 54.6h0M150.0 38.2h0M151.5 45.7h0M156.2 68.0h0M156.4 111.9h0M145.8 58.3h0M157.6 117.4h0M151.6 111.4h0M150.8 76.0h0M160.6 103.8h0M140.7 84.3h0M150.4 145.9h0M149.2 93.3h0M153.7 57.7h0M156.1 31.2h0M153.8 26.9h0M154.5 39.0h0M150.0 51.1h0M148.8 44.6h0M159.1 138.7h0M160.6 127.2h0M153.8 117.6h0M158.1 129.8h0M154.5 99.0h0M154.1 96.3h0M152.7 105.1h0M154.2 123.0h0M138.2 95.5h0M154.8 61.8h0M154.0 87.7h0M148.9 142.3h0M143.6 123.9h0M157.5 141.1h0M147.7 69.6h0M153.1 90.0h0M148.6 140.6h0M157.0 122.0h0M146.6 62.3h0M156.8 122.9h0M146.3 83.8h0M154.6 36.8h0M151.7 49.3h0M149.0 52.6h0M149.0 54.8h0M160.3 122.4h0M159.4 124.4h0M161.0 132.4h0M153.2 86.1h0M153.0 130.6h0M151.6 84.4h0M154.1 141.5h0M152.7 33.5h0M148.0 69.3h0M152.0 37.5h0M160.7 123.0h0M149.2 110.7h0M152.9 37.3h0M142.6 67.5h0M149.3 37.6h0M155.6 149.1h0M154.8 106.9h0M141.1 121.4h0M160.4 139.0h0M140.6 113.5h0M142.8 115.1h0M154.8 29.8h0M146.9 137.5h0M155.8 23.1h0M144.5 65.9h0M158.3 32.7h0M148.2 138.7h0M153.2 147.6h0M157.1 85.2h0M160.4 107.9h0M155.6 27.3h0M158.2 145.8h0M155.3 108.4h0M162.2 126.2h0M157.8 137.1h0M148.3 87.5h0M154.5 120.0h0M154.5 27.1h0M149.6 99.9h0M146.9 58.7h0M161.6 136.0h0M153.4 101.4h0M144.2 74.3h0M149.5 39.2h0M152.8 137.4h0M159.6 129.5h0M148.8 42.5h0M147.2 32.6h0M141.2 110.3h0M146.9 70.7h0M151.5 73.2h0M161.6 138.8h0M149.3 26.6h0M156.4 61.0h0M157.0 114.7h0M158.0 143.0h0M155.0 132.4h0M147.6 32.4h0M136.9 114.1h0M136.7 91.8h0M158.0 137.2h0M146.1 75.3h0M157.6 38.4h0M140.1 85.0h0M155.3 114.1h0M151.2 47.3h0M142.7 126.3h0M155.1 147.3h0M153.6 136.1h0M159.3 130.9h0M158.2 105.7h0M153.8 141.9h0M153.5 58.3h0M155.1 119.8h0M159.5 128.7h0M158.5 133.5h0M153.8 31.2h0M146.5 130.2h0M149.2 84.4h0M151.4 66.3h0M146.7 41.1h0M149.8 24.8h0M155.4 91.8h0M153.7 118.4h0M150.0 67.5h0M159.6 140.5h0M156.5 147.6h0M143.7 90.5h0M148.5 100.8h0M159.4 145.1h0M161.5 119.0h0M162.1 128.9h0M145.0 132.0h0M144.0 103.5h0M141.6 104.7h0M152.8 96.0h0M156.3 147.4h0M151.2 66.9h0M150.3 91.0h0M155.2 107.3h0M156.5 87.8h0M140.8 85.9h0M155.3 143.0h0M139.1 76.7h0M154.3 51.9h0M149.2 108.4h0M149.8 106.0h0M150.2 97.6h0M150.1 142.7h0M158.4 99.3h0M149.9 27.2h0M159.8 143.7h0M152.6 153.2h0M147.9 65.1h0M144.9 128.3h0M153.6 31.7h0M155.0 67.8h0M151.7 75.7h0M151.5 68.9h0M155.3 42.4h0M153.5 123.7h0M151.2 91.6h0M153.2 56.0h0M154.8 32.1h0M156.7 38.8h0M137.1 84.5h0M152.3 107.0h0M153.5 55.9h0M151.0 150.0h0M150.9 93.0h0M153.4 87.1h0M144.0 126.5h0M154.4 110.2h0M154.4 38.9h0M142.9 101.1h0M149.4 95.0h0M146.0 69.1h0M159.3 129.0h0M155.6 148.3h0M150.8 150.6h0M145.1 68.7h0M150.4 77.8h0M147.6 26.4h0M142.7 73.2h0M162.3 134.7h0M143.9 79.3h0M155.3 65.0h0M153.9 39.6h0M148.6 45.3h0M148.3 75.1h0M141.5 74.6h0M143.8 115.4h0M162.0 120.1h0M151.5 37.4h0M141.9 100.2h0M157.1 27.7h0M146.0 118.2h0M157.4 34.5h0M153.7 82.5h0M139.8 79.6h0M150.1 129.0h0M140.2 93.8h0M156.8 141.7h0M143.6 101.3h0M151.1 97.6h0M156.3 95.1h0M154.7 89.6h0M150.4 88.3h0M156.3 86.2h0M159.3 134.5h0M155.1 91.4h0M152.9 23.6h0M139.3 102.5h0M151.9 37.4h0M136.3 84.2h0M159.1 144.7h0M158.1 131.6h0M155.7 65.6h0M148.6 55.1h0M150.6 85.8h0M156.6 98.0h0M158.1 28.9h0M144.0 126.9h0M157.0 142.0h0M154.1 46.2h0M157.3 143.2h0M149.6 62.5h0M151.0 111.9h0M157.4 110.0h0M151.1 61.7h0M154.8 142.7h0M156.8 134.9h0M144.4 65.1h0M161.6 134.0h0M142.1 101.8h0M140.4 97.8h0M151.3 80.2h0M150.3 134.4h0M149.8 37.3h0M154.9 139.4h0M150.3 49.5h0M159.3 99.2h0M157.3 82.4h0M154.9 84.5h0M156.1 63.9h0M152.3 30.3h0M144.7 81.6h0M152.4 113.0h0M161.3 139.9h0M155.2 34.2h0M153.0 61.0h0M154.7 123.5h0M153.3 145.5h0M152.4 142.5h0M145.5 119.5h0M146.4 60.2h0M138.3 106.2h0M146.6 34.9h0M148.9 89.5h0M150.5 149.9h0M146.8 135.3h0M144.3 131.9h0M140.2 100.0h0M160.8 129.0h0M150.0 40.9h0M145.1 127.5h0M145.7 32.7h0M145.2 60.5h0M158.9 126.7h0M140.6 90.7h0M147.6 139.0h0M151.7 89.3h0M155.3 143.6h0M151.8 61.0h0M150.2 77.0h0M155.6 77.6h0M146.3 120.6h0M151.9 39.6h0M156.1 139.3h0M153.3 91.9h0M157.6 82.2h0M146.9 28.0h0M162.1 127.9h0M150.7 71.5h0M150.9 66.8h0M152.1 48.8h0M160.7 144.2h0M151.3 66.9h0M137.3 92.6h0M141.9 83.9h0M156.5 67.2h0M143.3 129.3h0M152.6 100.1h0M139.3 118.9h0M153.6 71.1h0M147.6 60.4h0M151.2 38.0h0M152.3 63.1h0M147.1 140.9h0M152.9 62.2h0M147.5 141.9h0M155.6 34.2h0M156.0 32.2h0M158.2 105.1h0M148.8 29.5h0M151.1 25.5h0M153.3 39.2h0M149.5 54.0h0M149.2 119.0h0M155.8 93.2h0M150.1 81.2h0M160.9 141.9h0M145.5 137.6h0M157.6 121.4h0M140.6 119.6h0M153.0 150.7h0M157.7 106.0h0M155.0 109.3h0M138.0 94.2h0M151.4 40.3h0M158.2 135.8h0M152.2 149.0h0M150.6 93.7h0M157.2 146.2h0M159.7 132.4h0M149.8 52.4h0M149.8 58.3h0M159.6 105.2h0M160.7 127.7h0M161.4 112.9h0M158.2 119.6h0M142.3 127.1h0M150.8 138.3h0M155.7 34.9h0M154.4 52.1h0M153.6 80.6h0M157.9 119.4h0M143.7 72.7h0M149.9 144.7h0M153.7 84.2h0M154.6 91.8h0M157.2 33.2h0M149.0 149.0h0M153.2 47.5h0M151.4 67.2h0M147.1 41.2h0M150.2 68.8h0M155.2 45.6h0M146.2 114.9h0M143.2 111.2h0M160.7 132.8h0M149.5 137.0h0M155.3 53.3h0M155.8 90.2h0M153.9 83.4h0M139.0 84.0h0M147.3 129.2h0M149.2 31.3h0M155.5 62.3h0M149.1 58.4h0M154.9 106.2h0M157.6 101.7h0M141.9 114.4h0M142.9 115.1h0M155.9 123.6h0M160.5 123.1h0M163.0 137.3h0M151.7 90.5h0M149.1 42.1h0M161.2 130.6h0M150.1 100.7h0M156.2 78.4h0M149.2 87.3h0M145.1 132.9h0M156.6 88.4h0M154.4 103.0h0M152.1 59.4h0M146.6 132.6h0M137.6 80.8h0M150.7 84.4h0M150.0 88.2h0M139.6 73.9h0M152.9 67.7h0M178.9 59.2h0M191.6 62.9h0M177.3 58.3h0M174.9 58.1h0M184.6 60.0h0M184.8 65.6h0M188.3 60.8h0M184.2 64.9h0M177.1 60.2h0M185.7 63.0h0M174.2 62.8h0M188.2 62.7h0M171.4 59.7h0M184.7 57.2h0M190.2 63.9h0M189.3 64.3h0M183.7 61.9h0M174.3 62.1h0M182.2 57.3h0M191.5 62.1h0M186.3 65.5h0M178.2 63.0h0M176.1 59.0h0M172.7 59.8h0M184.4 64.5h0M184.1 57.8h0M187.2 61.6h0M187.1 60.7h0M187.6 62.0h0M185.7 57.6h0M194.1 63.6h0M194.0 62.1h0M178.4 63.4h0M172.5 60.1h0M178.7 60.4h0M189.3 62.1h0M172.3 61.2h0M177.9 62.0h0M184.9 63.0h0M186.2 64.3h0M186.2 65.3h0M193.6 61.2h0M184.1 61.9h0M173.5 60.1h0M189.7 65.3h0M191.3 64.7h0M192.6 60.5h0M175.0 57.9h0M172.0 59.5h0M176.7 61.8h0M190.8 63.7h0M191.1 61.7h0M176.4 61.9h0M175.0 59.7h0M189.4 59.3h0M180.8 62.4h0M180.9 64.9h0M190.3 59.8h0M186.9 60.5h0M175.9 59.8h0M192.8 63.8h0M186.1 64.2h0M176.9 63.7h0M177.0 58.4h0M193.6 64.2h0M185.6 60.6h0M183.6 58.9h0M177.9 58.7h0M181.2 58.6h0M179.4 56.9h0M183.4 57.7h0M177.5 59.4h0M183.5 62.2h0M182.7 57.0h0M182.9 62.1h0M181.8 62.0h0M179.7 60.4h0M182.8 59.8h0M179.8 60.0h0M183.3 61.8h0M185.0 60.3h0M185.2 62.1h0M179.3 59.8h0M181.1 57.0h0M180.5 59.8h0M181.3 61.2h0M181.0 61.8h0M178.0 57.2h0M182.0 60.2h0M179.8 56.9h0M186.0 57.9h0M182.9 59.7h0M186.3 61.3h0M181.1 59.0h0M177.7 59.6h0M187.5 59.9h0M183.6 59.9h0M179.3 57.1h0M180.6 59.9h0M185.0 58.2h0M184.3 58.4h0M178.5 60.1h0M179.7 61.3h0M184.5 59.9h0M181.0 60.8h0M180.6 59.9h0M179.2 60.2h0M181.9 58.6h0M181.5 59.0h0M178.6 60.7h0M185.2 58.0h0M181.8 58.9h0M184.4 57.7h0M186.5 59.5h0M179.1 58.5h0M180.1 58.1h0M179.6 59.6h0M178.8 57.7h0M183.9 59.2h0M184.6 61.4h0M185.5 59.5h0M186.0 59.7h0M186.9 59.7h0M182.6 60.8h0M180.1 58.0h0M185.6 60.6h0M180.9 57.8h0M178.4 57.6h0M181.4 60.4h0M187.0 61.0h0M124.4 85.0h0M123.4 84.8h0M124.5 85.4h0M121.8 84.2h0M125.3 85.7h0M124.5 85.4h0M124.4 84.9h0M125.6 85.3h0M129.8 87.4h0M129.2 87.2h0M122.4 84.6h0M122.5 83.8h0M126.9 86.1h0M122.2 84.2h0M129.5 87.4h0M124.7 85.2h0M131.1 88.0h0M125.0 85.3h0M127.0 85.8h0M121.5 83.6h0M123.0 84.5h0M123.6 84.4h0M130.4 88.2h0M131.0 88.2h0M128.0 86.3h0M128.1 86.2h0M95.8 89.8h0M96.6 83.3h0M95.1 84.9h0M96.1 86.0h0M94.8 85.3h0M95.4 77.3h0M95.2 83.7h0M96.0 89.4h0M95.9 88.7h0M96.5 82.1h0M96.3 91.3h0M95.4 88.3h0M94.7 80.9h0M95.2 88.6h0M95.3 78.8h0M95.4 77.8h0M76.8 90.9h0M63.0 99.1h0M72.3 85.3h0M83.5 100.0h0M79.2 111.4h0M74.6 105.1h0M76.9 103.9h0M73.7 87.0h0" stroke="#00BFC4" stroke-width="0.56" stroke-linecap="round" fill="none" opacity="1.00"/>
<text x="107.4" y="63.3" font-size="5.60" text-anchor="middle" fill="#000" stroke="#000" stroke-width="0.04" font-weight="normal" >Macrophages</text>
<text x="75.3" y="97.8" font-size="5.60" text-anchor="middle" fill="#000" stroke="#000" stroke-width="0.04" font-weight="normal" >Macrophages</text>
<text x="146.9" y="98.4" font-size="5.60" text-anchor="middle" fill="#000" stroke="#000" stroke-width="0.04" font-weight="normal" >Microglia</text>
<text x="181.0" y="65.6" font-size="5.60" text-anchor="middle" fill="#000" stroke="#000" stroke-width="0.04" font-weight="normal" >Microglia</text>
<path d="M220.9 13.1V160.4H378.0" stroke="#444" stroke-width="0.6" fill="none"/><text x="241.5" y="166.0" font-size="4.60" text-anchor="middle" fill="#4d4d4d" stroke="#4d4d4d" stroke-width="0.04" font-weight="normal" >−10</text><text x="272.2" y="166.0" font-size="4.60" text-anchor="middle" fill="#4d4d4d" stroke="#4d4d4d" stroke-width="0.04" font-weight="normal" >−5</text><text x="302.9" y="166.0" font-size="4.60" text-anchor="middle" fill="#4d4d4d" stroke="#4d4d4d" stroke-width="0.04" font-weight="normal" >0</text><text x="333.6" y="166.0" font-size="4.60" text-anchor="middle" fill="#4d4d4d" stroke="#4d4d4d" stroke-width="0.04" font-weight="normal" >5</text><text x="364.3" y="166.0" font-size="4.60" text-anchor="middle" fill="#4d4d4d" stroke="#4d4d4d" stroke-width="0.04" font-weight="normal" >10</text><text x="218.5" y="133.3" font-size="4.60" text-anchor="end" fill="#4d4d4d" stroke="#4d4d4d" stroke-width="0.04" font-weight="normal" >−5</text><text x="218.5" y="92.3" font-size="4.60" text-anchor="end" fill="#4d4d4d" stroke="#4d4d4d" stroke-width="0.04" font-weight="normal" >0</text><text x="218.5" y="51.3" font-size="4.60" text-anchor="end" fill="#4d4d4d" stroke="#4d4d4d" stroke-width="0.04" font-weight="normal" >5</text><path d="M241.5 160.4v1.4M272.2 160.4v1.4M302.9 160.4v1.4M333.6 160.4v1.4M364.3 160.4v1.4M220.9 131.6h-1.4M220.9 90.6h-1.4M220.9 49.6h-1.4" stroke="#444" stroke-width="0.5" fill="none"/><text x="299.5" y="172.1" font-size="5.50" text-anchor="middle" fill="#000" stroke="#000" stroke-width="0.04" font-weight="normal" >UMAP 1</text><text transform="translate(211.1 87.0) rotate(-90)" font-size="5.50" text-anchor="middle" stroke="#000" stroke-width="0.04">UMAP 2</text><path d="M326.5 49.7h0M333.9 113.1h0M332.4 87.1h0M330.3 104.2h0M331.9 141.5h0M329.0 145.8h0M326.4 63.0h0M333.8 99.8h0M332.1 136.1h0M332.9 79.7h0M324.2 77.4h0M312.8 91.0h0M334.2 149.7h0M332.2 96.3h0M317.6 106.1h0M324.4 56.4h0M320.5 129.7h0M332.1 144.5h0M329.9 109.1h0M330.6 41.1h0M319.6 68.6h0M331.9 55.9h0M314.9 119.9h0M327.9 71.9h0M338.8 138.6h0M336.4 136.4h0M329.2 72.0h0M336.5 132.1h0M314.5 102.9h0M334.5 135.8h0M330.6 124.9h0M317.6 76.1h0M339.2 136.2h0M325.4 70.6h0M336.7 140.8h0M321.8 63.3h0M326.5 52.2h0M325.7 136.9h0M330.9 67.8h0M327.1 103.0h0M337.4 138.1h0M332.2 90.3h0M333.6 137.2h0M318.6 118.1h0M318.6 125.9h0M320.8 73.3h0M337.4 113.3h0M316.0 90.9h0M333.8 78.3h0M326.5 79.9h0M330.7 127.2h0M327.7 67.7h0M333.6 86.2h0M333.2 149.1h0M330.2 97.3h0M333.8 93.8h0M336.4 111.8h0M328.4 92.3h0M330.8 50.4h0M332.3 94.1h0M326.4 68.3h0M334.1 69.1h0M335.9 112.7h0M328.8 127.5h0M333.5 119.3h0M339.4 135.5h0M335.0 129.1h0M335.9 99.3h0M328.8 64.1h0M332.0 50.2h0M338.0 138.4h0M331.7 108.7h0M331.6 108.6h0M320.7 120.8h0M329.0 44.5h0M336.1 142.4h0M330.4 58.1h0M327.9 93.7h0M337.9 130.6h0M330.0 117.1h0M336.9 144.8h0M335.4 143.9h0M328.8 110.9h0M328.0 67.0h0M326.3 79.9h0M329.9 44.2h0M317.1 99.7h0M334.0 139.4h0M326.9 147.8h0M329.9 95.1h0M324.9 85.6h0M322.6 136.3h0M337.7 119.4h0M320.4 119.8h0M332.8 60.5h0M339.2 141.3h0M330.6 144.8h0M327.1 90.6h0M336.5 122.9h0M324.7 128.7h0M332.4 99.5h0M323.5 126.6h0M314.5 109.8h0M325.6 109.1h0M325.6 58.8h0M323.9 141.2h0M331.9 150.3h0M331.1 108.8h0M322.6 70.9h0M333.4 144.8h0M325.0 130.0h0M330.7 99.8h0M314.9 111.3h0M331.6 146.4h0M333.9 137.0h0M331.8 76.5h0M328.0 60.1h0M323.0 81.5h0M325.3 146.1h0M315.0 102.6h0M332.7 102.9h0M331.8 45.6h0M331.6 126.9h0M334.9 135.7h0M326.7 64.6h0M321.7 63.5h0M334.1 149.8h0M336.0 132.1h0M323.6 139.2h0M332.7 69.3h0M329.3 85.2h0M332.1 96.9h0M319.7 90.9h0M325.2 143.8h0M323.1 128.9h0M337.0 109.6h0M335.1 142.6h0M317.1 113.9h0M320.1 118.1h0M320.6 127.8h0M321.8 65.9h0M329.4 146.6h0M332.0 108.4h0M319.3 72.0h0M329.3 89.4h0M321.5 132.2h0M324.7 142.4h0M333.7 119.4h0M332.0 105.7h0M318.7 105.0h0M330.7 148.0h0M334.4 147.5h0M333.8 82.3h0M331.5 98.8h0M329.0 92.1h0M329.0 98.4h0M320.5 94.7h0M329.0 118.3h0M330.0 64.5h0M321.3 71.0h0M319.2 104.9h0M317.8 102.9h0M328.5 62.9h0M325.0 78.3h0M323.0 102.0h0M332.5 70.6h0M330.1 105.2h0M329.4 47.7h0M326.1 53.7h0M331.6 128.5h0M331.2 84.4h0M331.3 106.4h0M337.7 108.8h0M321.9 67.0h0M329.9 139.8h0M328.7 57.1h0M317.0 108.4h0M330.1 57.9h0M329.2 81.9h0M327.9 46.8h0M328.8 140.0h0M325.9 60.0h0M332.3 114.4h0M324.7 56.5h0M333.5 149.3h0M323.3 74.0h0M322.1 135.3h0M332.6 144.8h0M332.8 93.2h0M326.0 142.9h0M338.2 126.9h0M332.3 139.9h0M335.8 117.9h0M335.6 118.4h0M339.7 131.7h0M322.5 117.5h0M330.7 111.4h0M332.9 78.8h0M327.9 85.0h0M330.0 99.3h0M321.1 70.7h0M332.3 84.9h0M328.3 119.6h0M329.1 49.8h0M329.0 148.9h0M324.4 76.4h0M332.5 84.3h0M327.9 148.6h0M324.1 63.2h0M328.0 150.6h0M317.5 123.2h0M329.2 86.8h0M327.4 92.8h0M326.1 48.8h0M318.6 111.8h0M334.0 144.5h0M337.7 139.9h0M339.0 122.5h0M328.6 110.1h0M328.6 64.6h0M333.0 124.5h0M325.9 60.7h0M324.0 114.6h0M320.2 88.0h0M332.7 116.4h0M332.7 49.4h0M336.2 109.1h0M327.0 68.0h0M335.7 81.8h0M332.0 82.5h0M331.1 81.6h0M330.6 106.1h0M324.7 139.2h0M327.4 73.8h0M338.7 117.9h0M327.1 73.0h0M330.8 114.0h0M336.4 113.1h0M337.1 112.8h0M337.8 134.3h0M329.7 104.5h0M329.1 102.7h0M331.7 73.5h0M331.2 150.5h0M338.8 137.4h0M329.3 78.1h0M330.3 108.7h0M332.0 74.0h0M329.3 63.3h0M331.4 143.6h0M323.8 51.1h0M332.5 111.8h0M336.4 105.5h0M332.2 151.2h0M317.5 125.6h0M329.3 72.4h0M335.3 117.6h0M317.0 104.0h0M328.8 66.4h0M336.6 139.4h0M335.2 136.8h0M336.6 144.9h0M330.7 76.5h0M326.2 87.1h0M324.8 94.2h0M330.9 103.6h0M328.6 60.4h0M332.2 55.5h0M324.3 134.6h0M318.6 105.1h0M321.3 81.8h0M332.0 129.1h0M322.7 72.9h0M333.4 93.3h0M332.3 123.5h0M315.6 113.9h0M328.7 73.9h0M338.3 139.6h0M331.6 102.4h0M334.4 144.1h0M336.1 118.5h0M331.8 62.3h0M326.3 147.6h0M338.9 124.1h0M321.3 130.9h0M334.7 144.9h0M329.6 147.9h0M331.5 150.4h0M323.2 135.5h0M337.5 114.1h0M327.8 127.6h0M326.0 66.0h0M335.6 116.4h0M335.2 101.3h0M335.0 124.1h0M328.0 49.1h0M324.9 135.2h0M322.3 137.5h0M331.1 45.7h0M335.3 102.8h0M320.5 89.5h0M331.5 120.1h0M330.6 97.6h0M328.7 149.6h0M319.7 119.4h0M336.4 121.1h0M331.4 151.0h0M320.4 118.9h0M337.0 120.7h0M331.8 126.8h0M331.9 111.6h0M327.7 78.7h0M330.9 85.0h0M325.8 65.6h0M320.3 128.0h0M335.0 129.0h0M316.2 100.6h0M328.2 146.9h0M333.6 151.2h0M334.4 123.9h0M315.1 80.2h0M328.2 104.1h0M339.1 133.4h0M326.0 135.7h0M328.6 84.2h0M323.9 59.2h0M335.5 142.8h0M328.3 82.6h0M333.3 141.6h0M330.6 97.2h0M324.4 140.7h0M314.7 113.0h0M319.9 77.6h0M323.5 69.4h0M329.8 78.4h0M325.9 56.4h0M334.8 140.1h0M327.2 146.1h0M324.6 44.4h0M336.7 98.8h0M330.5 142.8h0M334.1 117.7h0M332.8 100.5h0M332.6 118.8h0M332.3 114.3h0M330.5 96.9h0M320.2 78.7h0M333.0 127.0h0M322.7 68.8h0M332.1 60.4h0M328.2 48.0h0M323.5 80.5h0M334.8 99.4h0M327.4 100.4h0M329.4 43.1h0M329.2 91.4h0M331.7 79.6h0M331.8 79.2h0M338.4 113.9h0M332.7 140.5h0M334.4 89.8h0M331.8 82.8h0M331.1 110.7h0M318.6 75.4h0M316.4 88.1h0M328.0 75.6h0M317.9 101.7h0M330.3 96.4h0M324.4 59.7h0M332.0 141.9h0M337.8 139.1h0M333.5 148.1h0M335.3 72.3h0M336.2 123.2h0M330.3 119.8h0M315.3 87.9h0M319.8 88.8h0M329.0 152.9h0M314.4 81.1h0M329.9 118.1h0M332.3 146.0h0M334.4 149.1h0M329.7 147.6h0M331.4 142.5h0M328.2 70.5h0M333.5 126.4h0M333.3 126.1h0M322.4 123.5h0M319.0 121.1h0M338.9 128.0h0M325.1 66.8h0M334.8 117.7h0M330.8 125.4h0M328.6 129.9h0M322.9 132.1h0M333.6 144.2h0M328.4 94.7h0M337.9 113.3h0M331.6 107.3h0M327.1 136.0h0M328.2 42.8h0M334.3 124.4h0M337.4 112.1h0M323.8 135.6h0M325.9 43.7h0M334.6 69.8h0M338.0 140.6h0M330.0 150.3h0M332.4 141.1h0M320.7 134.3h0M330.3 126.7h0M329.3 97.4h0M330.7 100.7h0M335.5 130.4h0M328.9 50.4h0M340.2 139.4h0M331.2 99.5h0M323.0 65.6h0M336.8 109.6h0M328.6 118.4h0M332.2 117.3h0M329.5 102.4h0M336.0 116.3h0M323.4 110.4h0M319.9 111.8h0M335.1 74.8h0M340.0 136.9h0M332.1 132.8h0M329.1 145.3h0M333.0 72.7h0M331.8 131.0h0M317.2 79.6h0M322.2 133.3h0M332.0 105.3h0M337.2 135.9h0M335.1 76.5h0M332.4 107.3h0M329.9 92.5h0M327.8 85.1h0M339.4 142.7h0M335.2 138.1h0M339.7 139.1h0M331.1 141.7h0M332.1 114.1h0M328.7 152.8h0M325.8 60.6h0M332.3 89.8h0M326.3 89.6h0M317.7 118.4h0M335.3 98.7h0M327.2 145.7h0M315.5 96.9h0M331.0 105.7h0M312.8 90.3h0M329.9 119.5h0M329.6 90.7h0M327.9 78.0h0M335.6 134.3h0M321.7 134.1h0M323.9 137.8h0M335.4 129.4h0M326.7 148.8h0M326.4 145.0h0M335.1 141.1h0M321.6 74.3h0M325.8 144.1h0M327.3 82.8h0M317.4 111.8h0M334.5 146.4h0M326.5 146.9h0M338.8 135.3h0M322.2 79.5h0M335.3 118.2h0M318.1 71.3h0M337.6 122.4h0M319.7 111.9h0M319.0 101.9h0M335.9 127.7h0M319.1 82.5h0M333.0 140.2h0M328.6 104.0h0M318.8 120.4h0M327.5 63.4h0M332.7 104.9h0M335.3 109.2h0M337.4 126.7h0M318.4 73.8h0M317.9 127.1h0M334.2 75.3h0M335.4 138.5h0M320.0 122.2h0M335.7 125.3h0M327.1 55.2h0M333.9 86.6h0M322.7 135.4h0M327.0 46.6h0M323.0 130.2h0M330.5 146.9h0M322.0 64.6h0M330.2 117.8h0M328.9 91.5h0M331.3 89.3h0M330.6 109.6h0M337.8 124.0h0M334.0 83.1h0M328.1 47.3h0M327.0 74.8h0M328.1 55.5h0M336.9 101.8h0M329.3 143.3h0M315.6 101.5h0M325.4 94.8h0M316.0 90.3h0M334.7 115.8h0M314.6 87.4h0M333.4 122.2h0M333.5 99.2h0M327.4 60.3h0M323.8 134.5h0M331.2 108.6h0M338.0 135.8h0M330.6 65.8h0M336.4 143.1h0M329.5 96.0h0M325.3 48.4h0M335.4 129.4h0M336.5 110.4h0M332.2 96.1h0M329.4 114.5h0M333.9 147.4h0M331.4 151.1h0M318.5 73.7h0M315.3 98.8h0M332.6 66.7h0M315.4 112.1h0M320.4 75.5h0M336.6 102.9h0M332.2 112.8h0M335.2 147.1h0M329.1 144.4h0M320.5 128.5h0M332.7 78.0h0M330.2 125.4h0M329.0 115.7h0M318.1 119.2h0M337.4 121.8h0M333.3 82.6h0M334.2 111.6h0M324.7 114.6h0M331.9 106.5h0M334.2 100.3h0M331.5 151.1h0M321.6 107.5h0M334.2 141.7h0M328.3 150.3h0M318.9 116.7h0M321.2 112.9h0M329.1 150.6h0M330.1 147.0h0M318.6 99.1h0M316.4 113.9h0M334.6 91.6h0M323.6 99.4h0M333.0 118.3h0M316.0 109.3h0M313.8 96.4h0M327.9 99.7h0M338.5 134.8h0M339.2 135.6h0M333.1 113.6h0M335.7 100.8h0M330.4 74.3h0M332.6 59.0h0M336.2 119.7h0M335.1 76.5h0M325.4 141.4h0M336.7 143.1h0M318.2 113.2h0M317.4 117.8h0M321.6 117.1h0M330.0 107.9h0M329.5 63.6h0M325.8 108.1h0M329.0 55.7h0M324.8 65.0h0M335.0 136.0h0M315.6 99.1h0M319.1 77.1h0M320.1 115.1h0M330.7 95.2h0M331.8 101.4h0M323.4 89.8h0M340.4 140.4h0M331.4 71.6h0M319.1 123.6h0M323.0 135.7h0M329.6 73.3h0M326.1 79.3h0M329.7 135.8h0M326.0 44.5h0M327.3 46.4h0M329.4 52.5h0M339.3 119.6h0M328.4 96.8h0M332.7 136.1h0M317.0 88.6h0M338.4 138.1h0M334.0 130.1h0M337.0 138.8h0M327.4 98.8h0M331.0 119.5h0M332.0 132.5h0M331.8 148.9h0M315.4 107.5h0M328.5 148.0h0M337.5 142.3h0M326.6 141.3h0M333.3 119.1h0M328.2 83.0h0M332.1 132.2h0M335.6 103.7h0M327.2 126.7h0M338.9 116.5h0M326.2 145.0h0M329.6 144.0h0M334.0 73.5h0M338.4 141.0h0M338.6 140.0h0M323.4 66.9h0M328.6 45.0h0M333.2 110.1h0M332.3 114.8h0M337.2 108.2h0M318.8 100.0h0M318.7 107.4h0M315.8 95.3h0M333.0 109.1h0M331.9 119.3h0M325.5 81.5h0M334.0 145.1h0M319.2 99.7h0M324.7 135.1h0M327.0 63.9h0M332.2 84.7h0M325.1 53.6h0M320.8 134.3h0M329.3 71.6h0M335.5 117.3h0M329.4 64.7h0M331.9 90.5h0M332.2 125.3h0M331.5 75.9h0M317.7 88.5h0M331.9 136.5h0M327.9 108.2h0M320.3 72.7h0M331.3 43.5h0M320.1 116.5h0M331.3 131.4h0M329.3 111.6h0M328.7 92.7h0M323.8 137.9h0M337.4 118.2h0M317.7 81.1h0M339.0 138.1h0M319.7 133.0h0M328.9 128.3h0M338.2 120.5h0M328.3 103.7h0M336.1 138.4h0M330.0 102.7h0M327.1 57.4h0M317.9 106.5h0M331.2 94.1h0M329.7 85.9h0M324.6 99.8h0M328.2 91.1h0M316.8 90.3h0M338.5 133.8h0M322.4 65.3h0M326.5 138.8h0M321.7 81.8h0M339.6 125.6h0M337.8 115.8h0M326.4 57.0h0M324.5 65.3h0M326.5 86.5h0M328.7 84.7h0M319.4 128.9h0M330.9 61.5h0M337.6 144.7h0M328.8 68.9h0M330.4 92.6h0M325.5 55.4h0M334.4 146.1h0M335.0 135.2h0M331.9 139.9h0M331.5 86.9h0M332.9 121.1h0M324.4 71.9h0M329.7 112.1h0M335.7 131.8h0M334.5 112.1h0M327.9 67.9h0M327.6 60.0h0M334.4 73.6h0M323.5 57.5h0M326.5 59.0h0M334.9 95.9h0M336.0 101.8h0M329.5 106.0h0M331.4 108.6h0M325.4 71.2h0M327.4 65.9h0M333.4 136.4h0M330.9 79.1h0M327.4 105.5h0M336.4 116.1h0M323.7 135.0h0M319.5 125.8h0M317.9 110.7h0M332.8 94.2h0M314.0 89.3h0M329.7 86.4h0M333.9 121.1h0M318.0 123.7h0M331.5 66.0h0M329.7 114.2h0M328.8 143.2h0M331.4 140.4h0M318.9 126.6h0M328.5 99.7h0M339.5 139.7h0M329.0 140.1h0M336.3 117.0h0M318.6 77.0h0M322.2 135.3h0M325.2 67.0h0M327.3 102.3h0M322.5 136.3h0M328.2 73.9h0M331.0 57.2h0M324.0 74.9h0M334.8 83.3h0M328.3 150.2h0M333.8 105.6h0M324.4 59.9h0M334.1 136.2h0M335.1 112.8h0M338.6 141.2h0M329.0 143.1h0M323.9 137.7h0M319.2 121.0h0M331.1 59.7h0M332.3 76.0h0M337.3 126.5h0M335.8 100.8h0M330.0 50.7h0M332.9 140.1h0M337.3 113.7h0M328.4 101.4h0M331.4 87.4h0M322.6 73.5h0M330.7 109.1h0M332.4 85.0h0M324.2 62.1h0M322.9 124.5h0M330.5 147.8h0M316.1 78.2h0M322.3 103.3h0M327.2 60.1h0M333.5 99.1h0M329.3 53.8h0M331.7 85.8h0M330.1 66.2h0M334.9 126.7h0M333.4 118.1h0M323.4 78.9h0M329.8 143.7h0M331.6 55.7h0M326.6 78.4h0M336.3 104.8h0M332.4 82.9h0M333.8 74.4h0M325.9 85.9h0M334.8 77.7h0M335.9 118.3h0M318.7 106.4h0M337.5 126.5h0M339.6 135.1h0M332.9 99.2h0M335.2 128.1h0M335.7 96.6h0M338.5 141.5h0M336.9 140.3h0M339.9 133.9h0M327.1 61.0h0M334.8 139.8h0M338.1 119.4h0M331.0 86.6h0M330.0 139.1h0M334.3 127.6h0M324.5 134.1h0M317.3 80.9h0M322.9 75.9h0M335.7 101.8h0M331.1 131.2h0M328.1 98.2h0M332.9 113.2h0M318.2 74.3h0M317.7 82.0h0M326.2 115.1h0M322.4 68.6h0M328.6 149.3h0M327.0 100.4h0M332.4 68.1h0M321.0 71.3h0M331.8 140.7h0M334.2 78.1h0M331.9 113.6h0M330.5 109.7h0M337.0 113.4h0M320.7 131.2h0M332.1 86.0h0M324.8 63.6h0M324.6 63.7h0M332.8 128.3h0M334.2 148.3h0M318.6 125.8h0M333.3 142.8h0M334.2 111.3h0M337.1 137.1h0M328.4 85.4h0M330.8 79.3h0M331.0 108.6h0M325.4 48.4h0M337.7 138.1h0M330.1 113.2h0M338.1 133.1h0M325.4 147.3h0M327.1 82.7h0M318.1 85.2h0M338.6 141.6h0M331.5 124.1h0M325.5 139.9h0M319.5 110.6h0M325.9 70.6h0M333.5 75.5h0M330.9 47.2h0M325.5 138.4h0M338.1 113.2h0M327.7 108.4h0M317.7 77.3h0M323.9 117.8h0M336.3 144.2h0M335.3 140.7h0M330.4 124.8h0M337.2 139.3h0M330.5 111.6h0M337.6 121.6h0M332.4 149.0h0M331.6 121.3h0M334.4 122.7h0M325.0 59.1h0M331.1 65.2h0M332.8 120.3h0M328.3 105.3h0M336.3 134.3h0M333.9 91.0h0M327.6 71.2h0M321.9 134.8h0M329.9 60.9h0M326.2 50.0h0M326.1 50.5h0M334.3 112.8h0M335.8 138.8h0M332.8 88.2h0M323.5 62.5h0M337.0 143.1h0M334.8 122.2h0M330.5 141.7h0M337.1 117.8h0M331.5 58.8h0M330.4 147.1h0M330.9 50.0h0M314.0 88.3h0M329.8 65.2h0M335.3 134.7h0M326.0 146.3h0M317.0 76.7h0M337.9 130.2h0M323.5 90.4h0M331.9 53.7h0M331.7 53.1h0M326.3 146.1h0M330.9 64.4h0M324.0 59.8h0M318.6 72.6h0M330.6 56.1h0M326.6 145.0h0M339.0 118.0h0M334.8 144.9h0M323.0 133.8h0M333.5 138.2h0M316.4 82.6h0M325.0 81.4h0M333.3 86.3h0M329.9 72.5h0M318.5 121.7h0M327.6 98.2h0M327.2 93.2h0M336.9 134.6h0M327.6 67.4h0M322.1 80.5h0M327.7 136.0h0M319.2 117.2h0M332.4 142.6h0M329.7 113.7h0M320.6 117.5h0M317.6 102.2h0M316.2 116.1h0M331.5 53.2h0M327.6 88.1h0M335.6 106.1h0M332.9 92.7h0M325.3 135.5h0M328.2 148.1h0M330.4 102.6h0M315.4 79.2h0M325.7 78.3h0M331.7 72.6h0M333.2 151.7h0M328.2 48.7h0M327.3 107.6h0M328.7 92.6h0M326.5 111.8h0M330.5 129.3h0M328.6 141.4h0M325.8 48.9h0M313.4 100.1h0M334.1 75.8h0M330.7 105.5h0M322.5 82.4h0M325.6 49.0h0M336.0 91.3h0M331.7 62.2h0M323.3 139.9h0M325.6 58.1h0M329.3 91.4h0M327.9 122.2h0M322.9 59.9h0M317.3 102.5h0M328.9 140.4h0M333.0 67.8h0M334.0 96.3h0M326.9 42.0h0M332.6 109.9h0M334.9 114.9h0M330.4 120.4h0M317.9 107.3h0M317.7 81.9h0M322.3 89.3h0M333.5 65.2h0M317.6 117.2h0M330.5 83.1h0M328.7 105.3h0M333.8 101.3h0M328.3 149.9h0M335.6 139.6h0M334.4 143.1h0M331.1 114.3h0M329.0 114.3h0M335.0 76.6h0M314.9 82.7h0M326.8 146.6h0M320.5 132.0h0M332.3 146.4h0M336.4 101.2h0M323.6 100.7h0M317.5 91.3h0M328.9 69.4h0M329.1 53.6h0M339.5 125.2h0M339.0 136.0h0M336.4 143.9h0M337.3 134.4h0M325.6 139.3h0M322.6 85.5h0M323.6 112.1h0M318.5 101.4h0M330.7 49.6h0M324.3 134.1h0M334.9 72.9h0M334.4 141.9h0M326.9 56.5h0M323.9 66.7h0M328.6 147.4h0M335.1 138.8h0M331.7 151.7h0M331.8 97.4h0M331.3 141.5h0M336.2 102.1h0M338.3 119.5h0M327.7 69.3h0M326.1 57.1h0M337.1 143.1h0M338.2 136.2h0M335.4 75.5h0M330.6 149.5h0M334.4 137.4h0M322.7 107.6h0M323.7 60.8h0M330.6 99.9h0M331.9 139.8h0M331.1 98.3h0M321.8 81.6h0M334.2 94.8h0M337.1 134.6h0M328.2 75.1h0M338.0 122.4h0M335.7 73.1h0M330.5 100.8h0M335.5 107.7h0M327.7 134.9h0M319.4 128.8h0M337.5 108.7h0M322.5 61.9h0M329.2 113.4h0M319.4 121.0h0M319.9 108.4h0M331.6 46.3h0M332.0 136.3h0M331.1 85.3h0M333.0 61.1h0M338.2 135.8h0M332.6 65.6h0M317.1 77.7h0M317.0 100.3h0M331.4 115.8h0M322.3 115.8h0M330.0 101.8h0M325.0 77.4h0M330.0 108.5h0M318.1 101.5h0M313.9 82.7h0M338.5 121.4h0M314.2 81.6h0M317.3 117.2h0M326.8 141.2h0M318.1 91.9h0M326.1 145.0h0M327.4 65.1h0M323.5 111.4h0M329.5 46.1h0M334.5 76.1h0M324.9 143.3h0M327.9 87.9h0M333.3 94.3h0M331.3 52.5h0M334.3 118.7h0M330.7 45.2h0M315.5 91.9h0M329.3 107.6h0M326.4 89.7h0M334.0 128.2h0M325.7 144.2h0M333.1 137.7h0M329.8 68.0h0M328.1 75.6h0M329.8 106.2h0M316.6 98.3h0M337.8 100.2h0M324.8 81.7h0M318.5 104.6h0M332.2 64.4h0M319.7 81.6h0M325.5 142.1h0M331.5 49.1h0M332.3 116.1h0M339.9 135.0h0M332.9 111.7h0M332.9 135.8h0M313.4 89.5h0M315.6 83.1h0M316.5 89.7h0M327.9 101.3h0M330.8 77.5h0M336.0 100.1h0M333.2 139.5h0M340.7 136.9h0M317.6 77.9h0M330.9 77.2h0M329.0 58.5h0M315.7 84.1h0M331.3 49.2h0M319.5 84.9h0M334.7 136.4h0M331.1 116.2h0M322.2 65.5h0M317.9 103.2h0M321.7 103.7h0M317.9 122.7h0M316.1 112.1h0M332.9 65.1h0M336.7 132.7h0M333.8 118.4h0M325.9 138.1h0M332.1 105.1h0M330.3 99.6h0M332.1 107.7h0M318.4 100.5h0M330.0 93.3h0M330.3 42.2h0M321.3 84.5h0M327.8 134.0h0M325.2 135.6h0M326.1 54.6h0M328.8 45.7h0M333.5 68.0h0M333.7 111.9h0M323.1 58.3h0M334.9 117.4h0M328.9 111.4h0M328.1 76.0h0M337.9 103.8h0M318.0 84.3h0M327.7 145.9h0M326.5 93.3h0M331.0 57.7h0M327.3 51.1h0M326.1 44.6h0M336.4 138.7h0M337.9 127.2h0M331.1 117.6h0M335.4 129.8h0M331.8 99.0h0M331.4 96.3h0M330.0 105.1h0M331.5 123.0h0M315.5 95.5h0M332.1 61.8h0M331.3 87.7h0M326.2 142.3h0M320.9 123.9h0M334.8 141.1h0M325.0 69.6h0M330.4 90.0h0M325.9 140.6h0M334.3 122.0h0M323.9 62.3h0M334.1 122.9h0M323.6 83.8h0M329.0 49.3h0M326.3 52.6h0M326.3 54.8h0M337.6 122.4h0M336.7 124.4h0M338.3 132.4h0M330.5 86.1h0M330.3 130.6h0M328.9 84.4h0M331.4 141.5h0M325.3 69.3h0M338.0 123.0h0M326.5 110.7h0M319.9 67.5h0M332.9 149.1h0M332.1 106.9h0M318.4 121.4h0M337.7 139.0h0M317.9 113.5h0M320.1 115.1h0M324.2 137.5h0M321.8 65.9h0M325.5 138.7h0M330.5 147.6h0M334.4 85.2h0M337.7 107.9h0M335.5 145.8h0M332.6 108.4h0M339.5 126.2h0M335.1 137.1h0M325.6 87.5h0M331.8 120.0h0M326.9 99.9h0M324.2 58.7h0M338.9 136.0h0M330.7 101.4h0M321.5 74.3h0M330.1 137.4h0M336.9 129.5h0M326.1 42.5h0M318.5 110.3h0M324.2 70.7h0M328.8 73.2h0M338.9 138.8h0M333.7 61.0h0M334.3 114.7h0M335.3 143.0h0M332.3 132.4h0M314.2 114.1h0M314.0 91.8h0M335.3 137.2h0M323.4 75.3h0M317.4 85.0h0M332.6 114.1h0M320.0 126.3h0M332.4 147.3h0M330.9 136.1h0M336.6 130.9h0M335.5 105.7h0M331.1 141.9h0M330.8 58.3h0M332.4 119.8h0M336.8 128.7h0M335.8 133.5h0M323.8 130.2h0M326.5 84.4h0M328.7 66.3h0M332.7 91.8h0M331.0 118.4h0M327.3 67.5h0M336.9 140.5h0M333.8 147.6h0M321.0 90.5h0M325.8 100.8h0M336.7 145.1h0M338.8 119.0h0M339.4 128.9h0M322.3 132.0h0M321.3 103.5h0M318.9 104.7h0M330.1 96.0h0M333.6 147.4h0M328.5 66.9h0M327.6 91.0h0M332.5 107.3h0M333.8 87.8h0M318.1 85.9h0M332.6 143.0h0M316.4 76.7h0M331.6 51.9h0M326.5 108.4h0M327.1 106.0h0M327.5 97.6h0M327.4 142.7h0M335.7 99.3h0M337.1 143.7h0M329.9 153.2h0M325.2 65.1h0M322.2 128.3h0M332.3 67.8h0M329.0 75.7h0M328.8 68.9h0M330.8 123.7h0M328.5 91.6h0M330.5 56.0h0M314.4 84.5h0M329.6 107.0h0M330.8 55.9h0M328.3 150.0h0M328.2 93.0h0M330.7 87.1h0M321.3 126.5h0M331.7 110.2h0M320.2 101.1h0M326.7 95.0h0M323.3 69.1h0M336.6 129.0h0M332.9 148.3h0M328.1 150.6h0M322.4 68.7h0M327.7 77.8h0M320.0 73.2h0M339.6 134.7h0M321.2 79.3h0M332.6 65.0h0M325.9 45.3h0M325.6 75.1h0M318.8 74.6h0M321.1 115.4h0M339.3 120.1h0M319.2 100.2h0M323.3 118.2h0M331.0 82.5h0M317.1 79.6h0M327.4 129.0h0M317.5 93.8h0M334.1 141.7h0M320.9 101.3h0M328.4 97.6h0M333.6 95.1h0M332.0 89.6h0M327.7 88.3h0M333.6 86.2h0M336.6 134.5h0M332.4 91.4h0M316.6 102.5h0M313.6 84.2h0M336.4 144.7h0M335.4 131.6h0M333.0 65.6h0M325.9 55.1h0M327.9 85.8h0M333.9 98.0h0M321.3 126.9h0M334.3 142.0h0M331.4 46.2h0M334.6 143.2h0M326.9 62.5h0M328.3 111.9h0M334.7 110.0h0M328.4 61.7h0M332.1 142.7h0M334.1 134.9h0M321.7 65.1h0M338.9 134.0h0M319.4 101.8h0M317.7 97.8h0M328.6 80.2h0M327.6 134.4h0M332.2 139.4h0M327.6 49.5h0M336.6 99.2h0M334.6 82.4h0M332.2 84.5h0M333.4 63.9h0M322.0 81.6h0M329.7 113.0h0M338.6 139.9h0M330.3 61.0h0M332.0 123.5h0M330.6 145.5h0M329.7 142.5h0M322.8 119.5h0M323.7 60.2h0M315.6 106.2h0M326.2 89.5h0M327.8 149.9h0M324.1 135.3h0M321.6 131.9h0M317.5 100.0h0M338.1 129.0h0M322.4 127.5h0M322.5 60.5h0M336.2 126.7h0M317.9 90.7h0M324.9 139.0h0M329.0 89.3h0M332.6 143.6h0M329.1 61.0h0M327.5 77.0h0M332.9 77.6h0M323.6 120.6h0M333.4 139.3h0M330.6 91.9h0M334.9 82.2h0M339.4 127.9h0M328.0 71.5h0M328.2 66.8h0M329.4 48.8h0M338.0 144.2h0M328.6 66.9h0M314.6 92.6h0M319.2 83.9h0M333.8 67.2h0M320.6 129.3h0M329.9 100.1h0M316.6 118.9h0M330.9 71.1h0M324.9 60.4h0M329.6 63.1h0M324.4 140.9h0M330.2 62.2h0M324.8 141.9h0M335.5 105.1h0M326.8 54.0h0M326.5 119.0h0M333.1 93.2h0M327.4 81.2h0M338.2 141.9h0M322.8 137.6h0M334.9 121.4h0M317.9 119.6h0M330.3 150.7h0M335.0 106.0h0M332.3 109.3h0M315.3 94.2h0M335.5 135.8h0M329.5 149.0h0M327.9 93.7h0M334.5 146.2h0M337.0 132.4h0M327.1 52.4h0M327.1 58.3h0M336.9 105.2h0M338.0 127.7h0M338.7 112.9h0M335.5 119.6h0M319.6 127.1h0M328.1 138.3h0M331.7 52.1h0M330.9 80.6h0M335.2 119.4h0M321.0 72.7h0M327.2 144.7h0M331.0 84.2h0M331.9 91.8h0M326.3 149.0h0M330.5 47.5h0M328.7 67.2h0M327.5 68.8h0M332.5 45.6h0M323.5 114.9h0M320.5 111.2h0M338.0 132.8h0M326.8 137.0h0M332.6 53.3h0M333.1 90.2h0M331.2 83.4h0M316.3 84.0h0M324.6 129.2h0M332.8 62.3h0M326.4 58.4h0M332.2 106.2h0M334.9 101.7h0M319.2 114.4h0M320.2 115.1h0M333.2 123.6h0M337.8 123.1h0M340.3 137.3h0M329.0 90.5h0M326.4 42.1h0M338.5 130.6h0M327.4 100.7h0M333.5 78.4h0M326.5 87.3h0M322.4 132.9h0M333.9 88.4h0M331.7 103.0h0M329.4 59.4h0M323.9 132.6h0M314.9 80.8h0M328.0 84.4h0M327.3 88.2h0M316.9 73.9h0M330.2 67.7h0M354.6 58.3h0M354.4 60.2h0M351.5 62.8h0M348.7 59.7h0M351.6 62.1h0M355.5 63.0h0M353.4 59.0h0M350.0 59.8h0M349.6 61.2h0M352.3 57.9h0M349.3 59.5h0M354.0 61.8h0M353.7 61.9h0M352.3 59.7h0M353.2 59.8h0M354.3 58.4h0M354.8 59.4h0M236.4 77.1h0M238.6 76.8h0M235.3 86.2h0M240.5 77.6h0M238.6 75.9h0M243.2 80.5h0M240.3 82.1h0M244.7 73.3h0M235.7 82.6h0M233.7 82.5h0M240.1 80.7h0M234.6 82.9h0M238.4 74.8h0M244.1 79.0h0M239.8 73.6h0M237.5 86.7h0M236.5 77.5h0M236.6 86.6h0M240.6 73.8h0M244.2 77.8h0M234.1 81.3h0M239.0 85.3h0M241.8 83.1h0M239.1 80.1h0M238.5 81.0h0M242.0 74.2h0M234.6 86.2h0M235.7 84.5h0M243.8 77.5h0M238.8 79.7h0M241.2 73.9h0M232.9 83.2h0M242.6 81.2h0M242.9 75.9h0M244.5 73.3h0M243.8 75.2h0M236.3 84.4h0M239.9 80.8h0M233.7 84.7h0M239.7 79.4h0M238.4 85.8h0M239.5 79.2h0M233.4 84.5h0M239.3 76.3h0M243.7 77.2h0M235.0 81.8h0M239.6 82.1h0M240.0 76.6h0M236.5 86.3h0M235.8 77.9h0M240.9 76.6h0M237.1 79.2h0M244.9 71.5h0M236.3 86.2h0M234.3 87.2h0M243.3 78.7h0M245.1 72.8h0M233.8 82.8h0M245.6 73.7h0M235.7 80.2h0M242.6 75.2h0M242.2 80.4h0M241.3 76.5h0M239.9 81.0h0M235.8 84.3h0M245.6 77.3h0M235.9 83.8h0M239.0 84.4h0M237.3 76.3h0M241.9 77.4h0M239.4 76.2h0M243.0 79.3h0M239.1 85.0h0M233.0 85.8h0M239.1 79.7h0M243.1 73.6h0M239.9 79.6h0M238.9 76.9h0M243.7 78.1h0M243.2 78.0h0M239.3 76.0h0M237.3 78.4h0M240.1 83.4h0M241.1 81.1h0M243.2 74.6h0M242.1 79.6h0M242.8 79.9h0M236.9 86.1h0M240.8 79.0h0M246.7 73.1h0M239.5 77.3h0M246.0 74.8h0M242.9 78.6h0M238.4 81.7h0M243.0 72.5h0M245.0 75.0h0M240.7 81.7h0M235.8 80.8h0M235.0 79.2h0M245.6 74.8h0M245.2 74.6h0M242.8 78.0h0M242.9 73.1h0M244.5 74.1h0M244.8 75.6h0M244.7 76.6h0M246.4 75.5h0M244.7 78.4h0M244.8 77.1h0M243.4 73.9h0M242.3 76.2h0M245.4 73.7h0M243.4 75.3h0M244.8 77.9h0M240.5 79.4h0M245.3 75.7h0M241.9 77.0h0M243.6 76.5h0M244.2 71.8h0M242.9 75.6h0M242.9 77.0h0M242.7 76.3h0M243.3 75.2h0M244.6 77.5h0M247.6 78.0h0M244.9 71.8h0M243.0 73.4h0M246.8 75.2h0M241.0 73.2h0M244.4 76.8h0M246.5 77.2h0M246.1 76.9h0M245.2 77.8h0M243.6 77.5h0M243.0 75.5h0M244.0 75.5h0M246.5 76.1h0M241.0 76.4h0M244.4 74.0h0M246.1 74.1h0M243.9 74.7h0M241.7 73.5h0M245.0 74.9h0M243.6 75.7h0M243.1 74.8h0M253.8 92.9h0M254.6 87.8h0M258.2 93.9h0M260.8 83.4h0M246.7 88.2h0M243.5 86.5h0M251.1 91.0h0M249.7 87.6h0M256.3 94.8h0M256.0 89.2h0M250.7 95.3h0M261.1 87.2h0M253.7 88.7h0M256.7 95.6h0M241.9 88.1h0M240.2 92.7h0M258.6 93.7h0M250.8 94.1h0M241.1 93.1h0M248.2 84.9h0M260.8 85.0h0M260.2 83.7h0M258.6 87.1h0M241.1 87.5h0M260.7 89.7h0M257.4 85.8h0M242.3 92.3h0M242.7 96.8h0M262.7 90.0h0M256.1 89.0h0M248.4 93.9h0M242.7 94.8h0M249.3 97.7h0M242.7 89.4h0M254.4 95.0h0M252.2 89.9h0M252.7 86.6h0M240.3 93.4h0M249.0 86.8h0M258.4 84.4h0M241.9 88.7h0M244.2 95.1h0M240.4 92.9h0M243.5 87.3h0M245.1 92.7h0M241.7 92.0h0M262.8 86.5h0M250.9 91.9h0M255.9 96.5h0M241.6 90.4h0M245.0 97.5h0M251.8 82.5h0M251.8 91.2h0M248.2 89.9h0M244.7 96.9h0M249.2 93.8h0M240.0 89.1h0M256.2 81.7h0M263.1 90.2h0M257.5 94.1h0M245.0 87.7h0M242.2 86.6h0M258.6 93.5h0M252.3 92.1h0M249.3 83.7h0M255.7 93.1h0M249.1 87.9h0M256.8 92.8h0M260.9 83.3h0M263.1 89.7h0M246.1 87.3h0M263.0 91.0h0M251.5 84.0h0M246.1 87.7h0M251.6 87.3h0M242.9 95.0h0M251.4 86.0h0M248.2 95.5h0M249.5 93.8h0M253.8 95.6h0M248.8 89.9h0M245.4 89.3h0M251.2 83.7h0M239.7 91.6h0M240.8 93.2h0M250.2 86.0h0M244.3 93.1h0M255.8 84.1h0M240.2 88.4h0M249.1 87.4h0M266.5 94.8h0M263.0 78.2h0M265.5 87.3h0M266.3 94.0h0M264.8 84.3h0M263.0 84.7h0M271.1 82.7h0M269.9 79.9h0M264.3 95.2h0M270.7 80.0h0M267.7 79.7h0M262.8 85.4h0M268.6 88.4h0M269.7 86.2h0M267.1 95.3h0M263.3 78.7h0M268.5 77.1h0M262.8 81.3h0M267.6 85.1h0M265.4 76.8h0M265.0 96.7h0M262.4 93.6h0M267.2 86.9h0M265.0 79.4h0M262.8 81.9h0M265.9 95.4h0M266.3 75.5h0M266.4 84.1h0M271.9 87.6h0M264.1 79.7h0M270.4 94.3h0M262.1 80.0h0M269.3 90.5h0M269.1 96.3h0M265.3 78.3h0M268.2 84.9h0M265.0 90.7h0M264.1 78.8h0M263.9 77.0h0M265.7 92.6h0M261.6 80.0h0M265.9 80.2h0M270.1 95.1h0M267.7 95.3h0M268.1 95.6h0M264.7 79.5h0M270.6 87.3h0M262.9 86.6h0M264.7 78.3h0M269.8 77.7h0M268.2 95.8h0M264.9 96.5h0M269.8 89.0h0M269.0 82.5h0M270.6 83.0h0M270.7 93.5h0M266.3 76.1h0M265.0 81.1h0M270.0 78.5h0M260.9 86.2h0M267.7 76.3h0M271.0 82.4h0M271.0 88.9h0M269.2 79.3h0M263.9 80.6h0M267.9 76.5h0M268.1 93.0h0M266.8 91.0h0M271.2 91.6h0M260.9 84.3h0M266.8 90.2h0M268.3 96.0h0M268.8 94.0h0M268.2 80.4h0M263.0 85.7h0M265.1 89.8h0M265.0 78.6h0M266.9 91.4h0M263.2 93.4h0M268.2 97.0h0M266.3 92.6h0M263.6 83.7h0M269.5 80.4h0M266.5 82.1h0M264.2 86.0h0M268.7 87.6h0M267.8 75.7h0M268.0 93.8h0M266.2 75.5h0M261.8 91.8h0M269.0 89.9h0M264.1 84.5h0M266.6 83.2h0M264.5 76.6h0M266.3 94.8h0M263.8 95.7h0M263.1 93.0h0M266.9 81.3h0M266.5 94.4h0M268.3 92.5h0M264.4 85.1h0M266.0 81.7h0M262.5 92.3h0M267.4 95.5h0M262.7 83.9h0M264.5 87.7h0M266.3 92.1h0M269.7 90.0h0M270.8 81.2h0M265.0 93.2h0M269.6 75.0h0M264.0 76.1h0M266.2 74.5h0M268.7 77.4h0M268.8 75.5h0M264.4 73.9h0M265.2 77.5h0M268.9 73.8h0M265.4 73.5h0M269.5 76.3h0M271.9 75.5h0M267.6 79.7h0M268.6 76.5h0M268.1 78.5h0M269.9 72.8h0M271.7 80.7h0M268.5 74.8h0M259.6 76.7h0M266.8 72.8h0M265.0 75.0h0M266.9 74.7h0M266.1 73.8h0M269.5 77.8h0M269.8 76.7h0M266.4 73.3h0M267.3 74.3h0M269.0 74.3h0M265.8 77.1h0M268.8 74.0h0M268.0 75.7h0M269.2 75.4h0M263.7 74.8h0M268.3 74.0h0M264.9 76.7h0M267.9 76.1h0M266.9 73.6h0M268.1 72.0h0M267.8 72.3h0M269.7 70.7h0M267.2 75.5h0M270.3 76.2h0M266.0 74.9h0M268.1 77.8h0M267.8 75.9h0M267.1 75.0h0M266.7 73.4h0M268.4 75.6h0M267.4 73.4h0M269.1 73.0h0M266.9 75.0h0M272.1 75.3h0M271.3 73.7h0M266.2 77.8h0M268.8 76.5h0M265.5 78.4h0M270.1 75.1h0M267.3 74.5h0M267.8 75.1h0M268.5 75.7h0M260.9 73.9h0M271.7 90.0h0M270.6 83.9h0M270.2 89.6h0M271.6 95.4h0M272.1 83.6h0M271.9 86.3h0M271.1 85.8h0M273.7 93.0h0M271.1 93.0h0M271.7 90.0h0M270.0 84.2h0M272.1 86.6h0M271.6 92.9h0M269.8 91.0h0M270.6 89.4h0M273.7 95.6h0M272.0 85.3h0M271.9 92.8h0M272.1 85.2h0M270.4 95.6h0M270.5 88.0h0M270.6 95.9h0M270.9 90.2h0M271.5 95.6h0M272.2 89.3h0M272.1 84.8h0M272.4 86.5h0M274.6 94.1h0M270.7 82.9h0M271.5 87.3h0M272.0 89.8h0M270.7 89.0h0M271.0 86.4h0M271.7 87.2h0M270.4 84.0h0M268.8 95.6h0M270.9 96.6h0M270.1 99.1h0M268.3 97.6h0M268.9 96.1h0M267.7 100.0h0M269.7 97.9h0M270.8 96.0h0M271.4 96.1h0M272.4 96.2h0M271.7 95.8h0M269.7 99.5h0M268.5 98.6h0M270.2 99.2h0M269.6 97.4h0M269.5 99.8h0M269.5 98.0h0M271.7 97.8h0M270.6 98.6h0M271.1 96.3h0M268.1 95.6h0M271.9 95.7h0M269.7 97.8h0M269.0 100.3h0M270.2 97.9h0M271.3 73.1h0M271.9 72.1h0M275.2 71.8h0M272.7 73.5h0M270.9 72.0h0M271.5 71.4h0M274.2 71.8h0M273.3 73.0h0M274.1 71.5h0M274.4 72.6h0M272.5 72.4h0M271.5 72.0h0M274.1 72.4h0M272.5 73.4h0M239.0 106.5h0M239.6 118.3h0M241.7 115.6h0M244.6 106.8h0M236.7 104.4h0M240.7 120.4h0M233.1 103.7h0M236.9 113.4h0M238.7 101.8h0M239.5 117.4h0M239.7 114.3h0M237.1 117.3h0M242.4 119.3h0M235.1 101.0h0M232.8 103.9h0M239.0 118.9h0M234.8 113.4h0M236.2 107.7h0M248.9 119.2h0M243.3 107.6h0M234.7 103.8h0M238.3 111.5h0M240.3 112.8h0M242.4 114.3h0M236.6 104.1h0M245.5 119.1h0M236.8 104.5h0M245.7 109.6h0M244.3 119.4h0M245.6 113.6h0M233.0 102.5h0M238.0 114.0h0M232.0 107.7h0M240.4 115.8h0M233.1 104.7h0M233.3 101.4h0M237.5 101.6h0M233.5 108.1h0M230.1 103.6h0M233.0 103.8h0M231.8 110.9h0M235.2 106.1h0M233.8 111.6h0M233.2 103.7h0M237.6 115.4h0M241.2 109.4h0M237.1 103.5h0M239.1 106.2h0M242.8 120.3h0M229.8 104.3h0M246.0 121.4h0M229.0 102.4h0M243.7 118.0h0M235.5 114.4h0M244.4 122.4h0M239.5 103.9h0M246.1 118.4h0M239.5 102.9h0M238.4 111.3h0M230.0 106.6h0M237.1 102.9h0M247.8 114.8h0M242.9 113.5h0M246.1 117.8h0M231.1 103.8h0M229.8 103.2h0M246.8 114.0h0M247.3 117.7h0M248.9 120.2h0M233.6 106.7h0M236.7 114.5h0M244.4 122.0h0M233.0 102.1h0M235.8 114.5h0M242.2 106.7h0M249.4 118.9h0M230.4 104.4h0M238.0 101.2h0M238.0 108.0h0M245.3 113.0h0M232.9 111.6h0M241.0 115.3h0M235.3 115.1h0M248.0 113.0h0M241.1 103.8h0M244.8 108.6h0M244.1 116.3h0M237.3 106.0h0M247.7 112.1h0M239.3 116.7h0M244.7 107.2h0M247.6 116.0h0M235.1 98.7h0M240.7 111.8h0M231.4 99.3h0M232.5 99.5h0M238.8 103.0h0M234.8 106.9h0M238.5 114.1h0M236.9 99.7h0M240.5 105.7h0M231.0 107.9h0M232.3 97.8h0M240.6 107.1h0M241.1 113.5h0M240.2 109.7h0M235.3 102.1h0M240.0 102.4h0M239.1 118.8h0M232.7 109.8h0M239.4 111.0h0M240.3 106.6h0M239.5 114.3h0M235.8 110.2h0M242.7 111.9h0M239.7 109.2h0M240.5 118.0h0M234.6 102.9h0M244.0 110.8h0M244.0 112.0h0M240.0 102.6h0M234.2 109.3h0M242.8 111.4h0M243.6 110.9h0M240.6 116.0h0M240.8 106.2h0M234.4 110.8h0M239.8 115.4h0M236.0 114.9h0M235.3 108.9h0M231.2 98.5h0M233.0 112.7h0M236.4 102.0h0M236.6 116.2h0M235.9 111.2h0M244.4 112.7h0M248.6 120.6h0M233.3 109.9h0M231.1 100.1h0M230.0 105.8h0M232.1 109.9h0M233.0 102.2h0M244.9 112.2h0M236.5 108.6h0M240.2 102.4h0M230.8 101.1h0M241.6 112.7h0M246.9 121.5h0M243.0 109.8h0M248.0 120.8h0M238.7 113.6h0M238.3 108.5h0M229.3 103.1h0M244.3 106.8h0M246.2 117.7h0M229.8 99.5h0M242.2 112.5h0M242.0 110.1h0M249.4 118.0h0M228.8 102.0h0M232.2 110.0h0M244.1 117.3h0M242.5 105.6h0M239.1 110.5h0M232.9 106.5h0M248.4 120.0h0M237.3 104.6h0M242.4 114.5h0M235.6 113.5h0M232.4 110.1h0M247.0 131.8h0M249.6 108.4h0M245.9 129.9h0M245.5 123.1h0M249.6 120.7h0M250.0 111.8h0M248.4 115.5h0M242.8 112.1h0M253.4 129.6h0M246.6 130.5h0M242.2 119.6h0M245.7 118.3h0M254.5 118.7h0M248.9 112.6h0M252.6 128.8h0M244.5 115.0h0M247.0 109.3h0M250.3 122.6h0M249.2 108.2h0M249.9 131.3h0M244.8 115.7h0M244.8 114.6h0M246.2 115.7h0M247.3 111.6h0M247.4 108.6h0M246.9 112.1h0M243.8 119.3h0M243.2 117.8h0M252.7 119.9h0M244.2 115.7h0M250.2 129.5h0M248.1 132.1h0M252.3 113.0h0M248.3 118.8h0M243.0 130.2h0M244.9 126.6h0M252.6 118.2h0M246.0 112.2h0M240.9 121.8h0M247.3 123.4h0M241.7 125.6h0M244.2 129.4h0M252.0 127.2h0M251.3 126.8h0M249.6 111.8h0M252.1 129.0h0M249.1 112.4h0M255.0 120.7h0M249.0 130.6h0M252.1 125.9h0M253.5 113.4h0M248.0 123.1h0M254.1 114.9h0M252.4 125.6h0M245.3 119.8h0M241.8 120.1h0M251.1 124.5h0M246.2 112.4h0M242.7 123.4h0M253.8 113.3h0M250.6 111.2h0M243.1 122.8h0M251.9 128.8h0M243.8 113.2h0M250.8 120.8h0M248.4 112.9h0M244.9 120.9h0M250.3 119.2h0M250.6 115.0h0M248.2 118.4h0M249.7 125.7h0M245.1 118.4h0M251.4 113.5h0M243.3 122.9h0M245.8 122.9h0M242.5 129.7h0M247.5 132.3h0M242.4 125.4h0M253.6 117.6h0M242.7 127.2h0M245.4 124.5h0M241.7 121.1h0M250.7 114.7h0M248.9 115.3h0M245.2 126.0h0M248.8 132.8h0M252.2 117.2h0M248.4 133.2h0M240.9 117.0h0M243.0 130.1h0M249.1 129.8h0M252.7 116.0h0M247.2 131.1h0M247.9 124.9h0M241.7 118.7h0M247.6 109.2h0M245.0 123.6h0M244.3 124.9h0M243.1 115.0h0M240.8 123.0h0M247.6 128.8h0M249.8 132.8h0M249.8 122.1h0M253.3 122.5h0M251.9 119.9h0M253.6 127.8h0M250.3 124.8h0M250.2 121.0h0M249.1 128.8h0M254.0 124.7h0M254.2 122.3h0M250.8 115.2h0M252.5 113.2h0M245.3 122.8h0M252.2 125.4h0M241.2 123.4h0M245.0 121.2h0M250.2 126.0h0M244.1 124.9h0M249.5 126.4h0M243.7 126.7h0M243.2 121.9h0M242.3 120.8h0M248.2 122.8h0M252.7 112.7h0M245.5 113.9h0M249.5 119.0h0M244.8 129.6h0M245.4 117.8h0M250.7 124.7h0M244.5 111.3h0M249.7 122.7h0M245.2 109.1h0M251.4 123.2h0M252.6 127.0h0M247.3 116.5h0M240.7 123.5h0M254.4 115.2h0M243.6 128.3h0M246.3 127.1h0M243.6 119.0h0M242.8 116.8h0M244.1 120.7h0M249.3 130.7h0M250.1 109.1h0M249.4 125.3h0M247.2 127.6h0M242.2 113.2h0M254.7 122.9h0M246.8 122.2h0M245.6 121.2h0M242.1 122.9h0M244.3 110.9h0M240.8 123.2h0M250.2 118.3h0M244.0 126.5h0M245.1 113.0h0M244.3 131.2h0M243.9 126.5h0M249.4 121.1h0M247.8 124.5h0M253.2 120.5h0M249.9 117.6h0M242.7 120.7h0M242.5 123.4h0M242.8 119.6h0M247.3 130.9h0M248.8 121.6h0M253.6 116.8h0M247.0 122.7h0M246.7 111.9h0M245.7 117.7h0M252.4 123.3h0M254.0 116.1h0M249.8 109.4h0M241.0 121.2h0M247.9 131.9h0M253.1 123.8h0M254.5 122.9h0M249.7 122.5h0M248.2 123.2h0M241.4 117.2h0M246.6 110.1h0M251.1 127.5h0M247.9 127.6h0M246.2 133.5h0M248.4 127.0h0M251.2 124.2h0M241.1 124.6h0M247.7 109.5h0M254.7 120.0h0M248.4 108.3h0M243.9 131.6h0M244.8 114.9h0M249.1 114.8h0M251.7 113.7h0M252.4 119.2h0M244.1 124.2h0M244.9 129.3h0M254.6 124.5h0M249.0 130.4h0M250.3 114.6h0M248.8 115.5h0M254.5 123.4h0M246.5 110.8h0M244.6 122.5h0M250.2 132.1h0M246.6 123.8h0M250.1 120.0h0M244.0 119.7h0M241.6 123.3h0M242.8 123.1h0M252.6 113.9h0M254.8 123.8h0M240.6 120.9h0M244.8 131.6h0M248.4 129.6h0M247.9 111.3h0M248.2 120.9h0M246.4 123.4h0M252.1 125.6h0M251.2 125.7h0M251.8 127.5h0M248.1 120.0h0M253.3 129.5h0M252.5 116.7h0M247.3 115.8h0M250.6 130.3h0M252.6 115.4h0M249.1 131.8h0M250.0 133.5h0M252.0 125.7h0M248.0 121.0h0M247.3 126.7h0M250.3 113.7h0M250.7 116.5h0M252.5 116.5h0M245.8 111.3h0M245.9 112.2h0M249.6 121.1h0M248.7 122.6h0M249.0 119.7h0M242.0 119.0h0M249.4 128.9h0M243.7 114.8h0M243.3 122.1h0M252.3 128.6h0M254.3 127.5h0M250.7 111.9h0M249.4 126.3h0M229.0 105.3h0M231.9 105.1h0M229.0 105.7h0M231.7 107.3h0M230.8 103.5h0M229.5 102.9h0M231.5 101.7h0M231.8 108.7h0M231.8 102.9h0M231.9 106.9h0M231.8 103.5h0M228.7 101.0h0M229.3 107.4h0M231.1 106.2h0M231.0 105.2h0M230.9 102.2h0M230.4 102.1h0M231.7 106.8h0M231.7 102.8h0M230.7 101.4h0M232.9 102.4h0M228.3 103.3h0M230.3 105.3h0M231.0 105.4h0M232.9 103.7h0M230.4 115.3h0M229.8 118.2h0M229.7 116.7h0M228.9 111.9h0M230.0 118.7h0M229.9 118.5h0M230.0 117.7h0M229.1 110.9h0M229.4 117.2h0M229.3 113.0h0M229.6 117.2h0M229.4 114.0h0M229.1 112.2h0M229.8 118.7h0M230.0 118.3h0M229.3 117.1h0M304.2 86.6h0M301.7 84.8h0M300.0 84.0h0M300.2 84.9h0M300.5 84.6h0M305.0 87.0h0M306.2 86.6h0M298.9 84.1h0M302.8 85.0h0M305.9 86.7h0M305.3 86.9h0M298.3 83.8h0M303.5 85.8h0M307.5 87.7h0M307.3 86.9h0M299.4 84.0h0M306.2 87.2h0M308.4 87.8h0M307.7 88.0h0M306.3 87.7h0M298.6 83.6h0M302.1 85.2h0M304.9 86.8h0M306.5 87.5h0M288.8 59.7h0M289.0 58.9h0M288.1 56.9h0M288.6 58.0h0M288.3 57.8h0M288.2 57.5h0M287.8 57.8h0M288.1 58.0h0M287.7 56.5h0M288.7 59.6h0M287.6 57.0h0M287.6 55.3h0M291.0 64.7h0M290.0 63.1h0M290.7 64.3h0M290.6 65.1h0M291.3 66.3h0M290.4 63.5h0M289.8 63.2h0" stroke="#F8766D" stroke-width="0.56" stroke-linecap="round" fill="none" opacity="1.00"/><path d="M328.5 45.1h0M334.7 26.1h0M322.8 31.0h0M327.7 39.2h0M324.3 30.5h0M330.6 20.6h0M324.3 30.3h0M332.7 31.1h0M324.1 36.6h0M328.5 26.3h0M331.0 41.8h0M334.1 29.3h0M323.8 39.3h0M331.7 27.8h0M324.4 30.2h0M331.5 49.0h0M334.2 26.9h0M328.7 26.4h0M333.7 29.6h0M322.4 30.1h0M331.8 32.5h0M329.3 33.8h0M334.4 26.6h0M330.8 50.6h0M332.3 37.2h0M325.1 24.6h0M324.7 36.2h0M326.2 31.2h0M334.9 26.7h0M331.8 23.4h0M330.3 32.8h0M328.8 21.8h0M325.6 37.9h0M330.1 22.7h0M329.1 28.3h0M324.6 41.3h0M328.8 39.4h0M324.9 27.3h0M325.0 30.5h0M329.5 41.9h0M332.0 27.0h0M332.4 31.7h0M329.0 30.9h0M333.2 39.6h0M334.6 33.4h0M332.8 33.4h0M326.8 42.3h0M334.4 30.6h0M333.0 32.9h0M329.8 20.9h0M329.5 45.5h0M334.7 27.4h0M324.9 43.6h0M325.2 28.2h0M326.5 33.2h0M329.0 36.5h0M324.3 35.2h0M323.9 33.2h0M327.6 25.9h0M331.1 24.8h0M324.0 35.5h0M329.7 31.7h0M329.2 28.2h0M333.7 26.0h0M328.7 38.5h0M327.7 35.9h0M329.4 34.0h0M333.3 25.1h0M333.6 23.4h0M335.4 36.2h0M332.0 35.8h0M333.1 38.4h0M332.7 42.4h0M331.8 36.8h0M329.4 34.8h0M333.5 38.0h0M330.7 27.3h0M331.7 31.4h0M334.6 40.0h0M334.1 27.4h0M325.0 26.6h0M333.0 28.2h0M329.4 36.0h0M326.8 26.3h0M325.7 43.0h0M332.8 22.8h0M328.9 41.3h0M328.7 36.4h0M335.5 33.8h0M333.7 33.6h0M328.8 41.7h0M323.6 31.2h0M326.2 44.5h0M329.5 36.8h0M329.2 26.1h0M327.3 29.3h0M326.8 25.3h0M326.5 22.9h0M323.3 29.2h0M331.8 36.7h0M329.0 38.2h0M333.2 26.6h0M335.3 34.9h0M325.0 38.9h0M331.6 45.1h0M327.2 23.6h0M329.8 42.2h0M332.1 32.0h0M328.3 23.2h0M332.8 23.1h0M334.9 29.3h0M325.2 27.8h0M328.0 23.5h0M330.6 38.5h0M333.2 32.4h0M324.2 40.6h0M324.6 42.1h0M328.0 42.8h0M331.7 27.6h0M326.1 40.0h0M333.8 32.7h0M335.5 36.8h0M330.9 25.4h0M327.2 25.0h0M334.6 27.8h0M333.9 35.6h0M335.0 26.9h0M332.7 29.1h0M324.3 32.9h0M328.5 38.3h0M329.3 30.7h0M331.0 24.7h0M328.8 31.7h0M332.3 38.8h0M332.1 21.8h0M325.8 26.2h0M331.5 21.2h0M334.4 39.4h0M334.8 30.0h0M335.5 31.3h0M332.3 27.7h0M331.0 38.8h0M329.8 23.5h0M325.9 24.5h0M335.1 28.7h0M330.0 27.3h0M326.7 28.2h0M330.2 24.3h0M327.2 24.5h0M331.3 27.3h0M328.0 34.6h0M333.9 29.5h0M327.2 36.7h0M332.7 42.6h0M332.1 43.2h0M333.3 25.1h0M330.8 35.4h0M326.7 23.2h0M326.1 42.1h0M328.0 40.5h0M332.3 40.0h0M329.6 31.3h0M326.2 22.3h0M332.9 24.8h0M332.3 26.5h0M334.3 26.2h0M330.5 22.4h0M327.6 34.8h0M330.9 33.6h0M328.4 37.2h0M324.3 40.6h0M323.1 35.2h0M333.2 24.6h0M324.6 40.9h0M329.8 24.0h0M331.1 32.6h0M328.5 37.6h0M334.3 30.7h0M329.9 37.1h0M329.8 33.0h0M331.4 35.6h0M328.2 32.8h0M325.0 30.7h0M334.4 39.3h0M329.9 37.7h0M330.2 27.5h0M332.1 31.6h0M333.0 27.8h0M326.1 29.0h0M324.9 34.2h0M322.6 29.2h0M324.7 35.1h0M328.3 36.1h0M329.5 23.0h0M327.0 27.4h0M327.7 29.1h0M326.4 39.3h0M327.3 38.2h0M333.4 31.2h0M331.1 26.9h0M331.8 39.0h0M331.9 36.8h0M330.0 33.5h0M329.3 37.5h0M330.2 37.3h0M326.6 37.6h0M332.1 29.8h0M333.1 23.1h0M335.6 32.7h0M332.9 27.3h0M331.8 27.1h0M326.8 39.2h0M324.5 32.6h0M326.6 26.6h0M324.9 32.4h0M334.9 38.4h0M328.5 47.3h0M331.1 31.2h0M324.0 41.1h0M327.1 24.8h0M327.2 27.2h0M330.9 31.7h0M332.6 42.4h0M332.1 32.1h0M334.0 38.8h0M331.7 38.9h0M324.9 26.4h0M331.2 39.6h0M328.8 37.4h0M334.4 27.7h0M334.7 34.5h0M330.2 23.6h0M329.2 37.4h0M335.4 28.9h0M327.1 37.3h0M329.6 30.3h0M332.5 34.2h0M323.9 34.9h0M327.3 40.9h0M323.0 32.7h0M329.2 39.6h0M324.2 28.0h0M328.5 38.0h0M332.9 34.2h0M333.3 32.2h0M326.1 29.5h0M328.4 25.5h0M330.6 39.2h0M328.7 40.3h0M333.0 34.9h0M334.5 33.2h0M324.4 41.2h0M326.5 31.3h0M356.2 59.2h0M368.9 62.9h0M352.2 58.1h0M361.9 60.0h0M362.1 65.6h0M365.6 60.8h0M361.5 64.9h0M363.0 63.0h0M365.5 62.7h0M362.0 57.2h0M367.5 63.9h0M366.6 64.3h0M361.0 61.9h0M359.5 57.3h0M368.8 62.1h0M363.6 65.5h0M361.7 64.5h0M361.4 57.8h0M364.5 61.6h0M364.4 60.7h0M364.9 62.0h0M363.0 57.6h0M371.4 63.6h0M371.3 62.1h0M355.7 63.4h0M349.8 60.1h0M356.0 60.4h0M366.6 62.1h0M355.2 62.0h0M362.2 63.0h0M363.5 64.3h0M363.5 65.3h0M370.9 61.2h0M361.4 61.9h0M350.8 60.1h0M367.0 65.3h0M368.6 64.7h0M369.9 60.5h0M368.1 63.7h0M368.4 61.7h0M366.7 59.3h0M358.1 62.4h0M358.2 64.9h0M367.6 59.8h0M364.2 60.5h0M370.1 63.8h0M363.4 64.2h0M354.2 63.7h0M370.9 64.2h0M362.9 60.6h0M360.9 58.9h0M355.2 58.7h0M358.5 58.6h0M356.7 56.9h0M360.7 57.7h0M360.8 62.2h0M360.0 57.0h0M360.2 62.1h0M359.1 62.0h0M357.0 60.4h0M360.1 59.8h0M357.1 60.0h0M360.6 61.8h0M362.3 60.3h0M362.5 62.1h0M356.6 59.8h0M358.4 57.0h0M357.8 59.8h0M358.6 61.2h0M358.3 61.8h0M355.3 57.2h0M359.3 60.2h0M357.1 56.9h0M363.3 57.9h0M360.2 59.7h0M363.6 61.3h0M358.4 59.0h0M355.0 59.6h0M364.8 59.9h0M360.9 59.9h0M356.6 57.1h0M357.9 59.9h0M362.3 58.2h0M361.6 58.4h0M355.8 60.1h0M357.0 61.3h0M361.8 59.9h0M358.3 60.8h0M357.9 59.9h0M356.5 60.2h0M359.2 58.6h0M358.8 59.0h0M355.9 60.7h0M362.5 58.0h0M359.1 58.9h0M361.7 57.7h0M363.8 59.5h0M356.4 58.5h0M357.4 58.1h0M356.9 59.6h0M356.1 57.7h0M361.2 59.2h0M361.9 61.4h0M362.8 59.5h0M363.3 59.7h0M364.2 59.7h0M359.9 60.8h0M357.4 58.0h0M362.9 60.6h0M358.2 57.8h0M355.7 57.6h0M358.7 60.4h0M364.3 61.0h0M247.9 72.4h0M244.3 71.0h0M244.3 71.9h0M246.1 74.9h0M244.3 73.8h0M245.8 71.3h0M245.3 70.4h0M246.4 74.5h0M244.4 73.3h0M244.5 73.6h0M246.3 73.0h0M246.6 74.6h0M244.1 75.8h0M242.8 74.2h0M245.3 73.8h0M245.3 70.1h0M243.8 73.9h0M244.6 74.9h0M247.1 73.5h0M247.0 75.3h0M247.8 69.7h0M244.1 73.4h0M245.1 72.5h0M243.5 72.7h0M246.3 74.4h0M242.2 74.5h0M244.7 72.2h0M244.4 75.3h0M246.1 72.8h0M246.3 73.3h0M246.7 72.6h0M242.9 73.1h0M246.3 73.4h0M247.3 74.2h0M246.2 75.4h0M245.3 74.3h0M243.9 75.6h0M245.6 72.7h0M244.4 75.4h0M244.1 72.2h0M264.3 71.9h0M263.3 74.0h0M268.4 71.6h0M266.0 76.5h0M263.8 72.4h0M266.7 75.8h0M266.0 74.0h0M267.0 71.7h0M262.2 72.6h0M265.8 74.8h0M266.3 74.9h0M268.6 74.1h0M263.8 74.8h0M266.7 73.7h0M267.0 74.8h0M269.2 77.3h0M271.8 76.0h0M264.7 72.7h0M269.3 71.6h0M270.2 73.5h0M267.1 73.7h0M267.0 76.0h0M270.5 70.1h0M267.0 75.2h0M265.9 78.8h0M265.5 75.9h0M266.9 77.1h0M262.8 73.0h0M270.8 79.8h0M266.7 72.5h0M264.4 78.1h0M267.1 75.2h0M265.6 70.6h0M270.3 73.0h0M266.8 75.4h0M269.0 75.2h0M270.3 71.5h0M265.7 72.7h0M270.5 73.0h0M264.9 75.2h0M266.3 74.3h0M267.1 75.4h0M268.9 71.2h0M265.8 78.2h0M267.9 74.5h0M268.0 76.2h0M267.7 76.7h0M269.5 70.4h0M265.0 80.9h0M266.0 75.8h0M267.5 74.4h0M268.2 67.8h0M265.9 75.4h0M268.1 79.0h0M268.9 76.0h0M264.0 76.5h0M268.2 72.4h0M269.9 73.4h0M265.5 73.1h0M267.0 68.7h0M262.6 70.4h0M268.9 73.4h0M267.0 75.8h0M265.0 78.2h0M271.7 72.1h0M268.7 73.5h0M262.9 75.1h0M267.5 71.5h0M265.0 73.7h0M266.7 74.3h0M273.8 72.1h0M274.9 73.4h0M276.3 71.1h0M273.7 71.7h0M273.6 72.6h0M277.0 72.2h0M276.7 72.2h0M276.0 72.4h0M276.6 71.3h0M275.6 72.7h0M274.4 72.9h0M275.5 72.0h0M273.9 71.8h0M274.1 71.3h0M249.8 84.3h0M261.7 79.8h0M251.4 83.6h0M243.2 87.6h0M251.3 82.6h0M241.8 87.2h0M244.9 87.3h0M261.3 74.9h0M260.2 79.2h0M257.5 78.7h0M241.3 87.1h0M254.1 81.3h0M251.1 81.9h0M253.1 78.4h0M250.1 84.4h0M249.6 86.3h0M263.2 77.1h0M255.6 84.4h0M254.9 80.9h0M253.6 82.8h0M248.0 84.2h0M249.7 86.0h0M263.3 79.2h0M261.7 80.7h0M243.0 87.9h0M258.7 78.5h0M256.3 81.2h0M254.9 82.1h0M247.9 82.4h0M262.0 77.9h0M255.3 85.6h0M260.6 80.8h0M242.1 86.4h0M252.7 81.8h0M246.2 85.0h0M248.0 83.1h0M249.7 86.1h0M253.6 82.2h0M242.3 88.7h0M249.5 84.7h0M258.3 77.2h0M259.5 80.8h0M256.3 77.3h0M257.0 83.0h0M259.9 79.0h0M259.5 76.0h0M257.8 82.4h0M261.9 76.8h0M262.2 83.2h0M261.3 82.4h0M256.8 80.8h0M259.8 77.6h0M257.8 77.3h0M260.4 79.4h0M259.8 83.3h0M264.0 80.9h0M262.9 77.6h0M263.4 78.5h0M229.1 101.3h0M229.2 102.7h0M229.4 108.4h0M229.9 107.6h0M230.4 102.3h0M230.9 107.3h0M231.1 102.0h0M228.4 98.7h0M231.2 107.3h0M230.1 108.2h0M229.7 104.1h0M230.3 106.8h0M229.8 107.1h0M230.1 102.8h0M229.9 101.5h0M230.4 103.6h0M230.7 107.9h0M229.8 109.3h0M229.8 105.8h0M230.5 105.8h0M229.3 104.8h0M229.7 103.2h0M229.1 108.6h0M228.6 101.5h0M228.8 105.8h0M229.0 102.2h0M229.4 101.3h0M229.3 103.8h0M230.4 102.0h0M228.9 105.6h0M229.0 112.3h0M228.7 111.9h0M228.8 111.7h0M229.5 113.8h0M228.7 111.9h0M228.6 111.3h0M228.7 112.1h0M228.4 111.9h0M294.8 83.1h0M292.9 82.3h0M297.0 83.2h0M296.9 83.9h0M297.5 83.4h0M296.5 81.4h0M297.9 82.9h0M294.8 82.7h0M293.2 82.2h0M296.8 83.6h0M296.4 83.0h0M293.6 82.2h0M295.3 83.7h0M293.3 82.8h0M294.3 82.7h0M297.3 83.3h0M296.8 83.4h0M293.8 82.4h0M288.5 56.5h0M288.6 58.5h0M288.7 58.3h0M288.3 57.0h0M288.6 58.1h0" stroke="#00BFC4" stroke-width="0.56" stroke-linecap="round" fill="none" opacity="1.00"/>
<text x="284.7" y="62.7" font-size="5.60" text-anchor="middle" fill="#000" stroke="#000" stroke-width="0.04" font-weight="normal" >Mcao</text>
<text x="252.6" y="103.0" font-size="5.60" text-anchor="middle" fill="#000" stroke="#000" stroke-width="0.04" font-weight="normal" >Mcao</text>
<text x="331.4" y="103.0" font-size="5.60" text-anchor="middle" fill="#000" stroke="#000" stroke-width="0.04" font-weight="normal" >Mcao</text>
<text x="359.7" y="65.4" font-size="5.60" text-anchor="middle" fill="#000" stroke="#000" stroke-width="0.04" font-weight="normal" >Sham</text>
<path d="M440.8 10.1V169.3H650.0" stroke="#444" stroke-width="0.6" fill="none"/><text x="467.6" y="174.3" font-size="3.90" text-anchor="middle" fill="#4d4d4d" stroke="#4d4d4d" stroke-width="0.04" font-weight="normal" >−10</text><text x="508.8" y="174.3" font-size="3.90" text-anchor="middle" fill="#4d4d4d" stroke="#4d4d4d" stroke-width="0.04" font-weight="normal" >−5</text><text x="550.0" y="174.3" font-size="3.90" text-anchor="middle" fill="#4d4d4d" stroke="#4d4d4d" stroke-width="0.04" font-weight="normal" >0</text><text x="591.2" y="174.3" font-size="3.90" text-anchor="middle" fill="#4d4d4d" stroke="#4d4d4d" stroke-width="0.04" font-weight="normal" >5</text><text x="632.4" y="174.3" font-size="3.90" text-anchor="middle" fill="#4d4d4d" stroke="#4d4d4d" stroke-width="0.04" font-weight="normal" >10</text><text x="438.4" y="138.8" font-size="3.90" text-anchor="end" fill="#4d4d4d" stroke="#4d4d4d" stroke-width="0.04" font-weight="normal" >−5</text><text x="438.4" y="94.8" font-size="3.90" text-anchor="end" fill="#4d4d4d" stroke="#4d4d4d" stroke-width="0.04" font-weight="normal" >0</text><text x="438.4" y="50.8" font-size="3.90" text-anchor="end" fill="#4d4d4d" stroke="#4d4d4d" stroke-width="0.04" font-weight="normal" >5</text><path d="M467.6 169.3v1.4M508.8 169.3v1.4M550.0 169.3v1.4M591.2 169.3v1.4M632.4 169.3v1.4M440.8 137.4h-1.4M440.8 93.4h-1.4M440.8 49.4h-1.4" stroke="#444" stroke-width="0.5" fill="none"/><text x="545.1" y="179.8" font-size="4.90" text-anchor="middle" fill="#000" stroke="#000" stroke-width="0.04" font-weight="normal" >UMAP 1</text><text transform="translate(431.5 89.9) rotate(-90)" font-size="4.40" text-anchor="middle" stroke="#000" stroke-width="0.04">UMAP 2</text>
<path d="M460.7 78.9h0M459.3 88.7h0M466.2 79.4h0M469.9 82.5h0M466.0 84.3h0M465.8 82.8h0M458.3 85.1h0M471.1 81.0h0M460.9 79.3h0M461.0 89.1h0M466.4 75.3h0M471.3 79.7h0M457.7 83.5h0M468.0 85.4h0M463.6 83.1h0M468.2 75.8h0M470.7 79.3h0M467.2 75.5h0M469.0 83.4h0M469.5 77.6h0M471.6 74.8h0M470.6 76.9h0M457.1 87.1h0M465.1 81.3h0M463.5 88.3h0M456.7 86.9h0M465.0 84.3h0M460.9 88.7h0M466.8 78.4h0M461.7 81.2h0M460.7 88.7h0M458.0 89.8h0M470.0 80.7h0M472.5 74.3h0M469.1 76.8h0M467.3 78.2h0M464.3 86.8h0M468.1 79.2h0M469.6 81.3h0M464.3 87.4h0M456.3 88.3h0M464.4 81.7h0M469.7 75.1h0M465.4 81.6h0M470.5 80.0h0M464.7 77.7h0M462.0 80.3h0M465.7 85.7h0M469.3 82.0h0M461.5 88.6h0M465.0 79.2h0M473.6 76.4h0M469.5 80.6h0M463.5 83.8h0M458.9 81.2h0M473.2 76.4h0M472.6 76.2h0M469.5 74.7h0M472.0 77.3h0M471.8 80.3h0M472.0 78.9h0M470.1 75.5h0M470.1 76.9h0M472.0 79.8h0M466.3 81.4h0M472.7 77.4h0M468.1 78.8h0M470.4 78.3h0M471.2 73.2h0M469.5 77.3h0M469.5 78.8h0M469.2 78.0h0M471.8 79.3h0M469.6 74.9h0M474.7 76.9h0M466.9 74.8h0M474.3 79.0h0M473.8 78.6h0M470.9 77.2h0M474.3 77.8h0M471.5 75.5h0M473.7 75.7h0M470.8 76.3h0M467.9 75.0h0M472.3 76.6h0M470.4 77.5h0M469.7 76.4h0M484.1 95.8h0M485.1 90.4h0M493.5 85.6h0M474.6 90.8h0M470.2 89.0h0M478.6 90.2h0M487.4 97.9h0M487.1 91.9h0M480.0 98.4h0M493.9 89.8h0M484.0 91.3h0M488.0 98.7h0M468.1 90.7h0M490.5 96.7h0M467.0 96.1h0M493.5 87.4h0M492.7 85.9h0M467.1 90.1h0M488.9 88.3h0M468.7 95.2h0M469.2 100.1h0M496.0 92.8h0M487.2 91.7h0M478.1 101.1h0M485.0 98.1h0M481.9 92.7h0M477.7 89.3h0M471.2 98.2h0M466.1 95.8h0M472.5 95.6h0M467.9 94.9h0M487.0 99.7h0M467.7 93.2h0M481.4 94.0h0M476.6 92.7h0M478.0 96.8h0M465.6 91.8h0M487.4 83.9h0M496.5 92.9h0M468.5 89.1h0M482.0 95.0h0M478.0 86.0h0M486.7 96.1h0M477.7 90.5h0M488.1 95.8h0M493.7 85.6h0M496.5 92.5h0M481.0 86.3h0M473.8 90.3h0M481.1 89.9h0M469.4 98.1h0M478.4 96.8h0M477.4 92.6h0M466.7 96.2h0M479.3 88.4h0M465.8 91.0h0M499.9 89.9h0M498.8 86.6h0M496.4 87.1h0M507.3 84.9h0M498.2 98.4h0M506.8 82.0h0M502.7 81.7h0M496.2 83.5h0M502.6 87.5h0M499.1 99.9h0M502.0 89.4h0M496.2 84.1h0M500.4 98.6h0M501.1 86.4h0M508.3 90.2h0M506.4 97.4h0M504.9 93.3h0M499.2 93.5h0M497.9 80.7h0M498.7 81.5h0M496.3 89.1h0M505.6 79.6h0M503.5 99.0h0M504.5 84.7h0M500.9 77.8h0M499.1 83.2h0M493.6 88.7h0M507.1 91.5h0M504.8 81.2h0M497.7 82.6h0M503.0 78.3h0M501.6 93.8h0M507.4 94.4h0M501.6 93.0h0M503.6 99.2h0M499.2 80.6h0M501.8 94.3h0M503.5 100.3h0M500.8 95.5h0M497.3 86.0h0M501.1 84.2h0M504.1 90.1h0M502.9 77.4h0M503.2 96.8h0M500.7 77.2h0M494.9 94.7h0M501.3 85.5h0M498.5 78.4h0M496.5 96.0h0M501.7 83.4h0M500.5 83.8h0M495.8 95.3h0M502.4 98.7h0M496.1 86.2h0M498.4 90.2h0M505.5 92.8h0M497.7 77.8h0M500.7 76.2h0M504.3 77.2h0M504.4 75.3h0M499.7 75.0h0M502.6 81.7h0M504.0 78.3h0M503.3 80.4h0M505.7 74.3h0M508.1 82.8h0M503.8 76.4h0M491.9 78.5h0M501.6 74.3h0M499.2 76.7h0M501.7 76.3h0M500.6 75.3h0M505.6 78.5h0M504.5 75.9h0M504.2 75.6h0M504.8 77.1h0M499.0 78.5h0M503.1 77.9h0M503.3 73.5h0M505.5 72.1h0M502.1 77.2h0M502.0 76.6h0M501.4 74.9h0M503.7 77.3h0M502.3 75.0h0M504.7 74.5h0M501.6 76.7h0M508.7 77.0h0M507.6 75.3h0M500.7 79.6h0M504.2 78.3h0M499.8 80.3h0M502.2 76.2h0M502.9 76.7h0M503.8 77.5h0M493.7 75.5h0M508.1 92.7h0M506.6 86.2h0M508.0 98.5h0M508.7 85.9h0M508.4 88.8h0M510.8 95.9h0M507.4 95.9h0M508.1 92.8h0M505.8 86.6h0M506.6 92.1h0M510.9 98.7h0M508.5 87.7h0M508.4 95.7h0M506.3 98.8h0M506.7 99.1h0M507.1 93.0h0M507.9 98.8h0M506.8 85.1h0M506.0 102.5h0M503.6 100.9h0M505.4 101.2h0M507.7 99.3h0M509.1 99.4h0M508.1 99.0h0M503.8 102.0h0M506.1 102.7h0M505.4 100.7h0M505.1 103.2h0M508.1 101.1h0M506.7 102.0h0M505.5 101.2h0M504.5 103.8h0M506.1 101.2h0M507.6 74.6h0M508.4 73.5h0M507.1 73.5h0M507.9 72.8h0M511.5 73.2h0M511.4 72.9h0M507.8 73.5h0M464.2 110.4h0M465.0 123.1h0M467.8 120.2h0M466.6 125.4h0M456.4 107.5h0M461.4 117.8h0M463.9 105.4h0M465.2 118.9h0M461.6 122.0h0M468.8 124.2h0M459.0 104.5h0M458.6 117.9h0M460.5 111.8h0M477.5 124.1h0M470.0 111.6h0M458.4 107.6h0M463.3 115.9h0M468.8 118.9h0M461.0 107.9h0M472.9 124.0h0M473.3 113.8h0M473.2 118.1h0M462.9 118.5h0M454.9 111.8h0M466.1 120.4h0M456.4 108.6h0M462.2 105.2h0M456.9 112.2h0M456.2 107.6h0M454.5 115.2h0M459.1 110.0h0M456.4 107.4h0M461.7 107.2h0M469.3 125.2h0M452.0 108.1h0M459.6 119.0h0M471.4 127.5h0M464.9 107.7h0M473.7 123.2h0M464.9 106.6h0M452.2 110.6h0M473.8 122.6h0M453.6 107.5h0M474.7 118.5h0M475.4 122.4h0M457.0 110.7h0M456.2 105.8h0M478.3 123.8h0M462.9 104.7h0M462.9 112.1h0M472.6 117.5h0M456.1 116.0h0M459.3 119.7h0M472.1 112.7h0M471.1 121.0h0M461.9 109.9h0M475.9 116.5h0M464.6 121.4h0M475.8 120.6h0M459.0 102.1h0M466.5 116.1h0M454.0 102.8h0M455.5 102.9h0M463.5 118.6h0M453.5 112.0h0M455.2 101.2h0M466.3 111.1h0M459.3 105.7h0M465.6 106.1h0M464.4 123.7h0M455.8 114.0h0M464.8 115.2h0M464.9 118.8h0M460.0 114.4h0M466.3 122.9h0M458.4 106.7h0M465.6 106.3h0M457.8 113.4h0M466.3 120.7h0M466.6 110.2h0M465.4 120.0h0M459.2 113.1h0M453.8 101.8h0M456.2 117.1h0M461.0 120.8h0M471.5 117.1h0M477.1 125.6h0M453.7 103.6h0M452.2 109.8h0M472.1 116.6h0M460.9 112.7h0M467.8 117.2h0M474.8 126.5h0M476.3 125.8h0M451.2 106.8h0M451.9 102.9h0M468.3 114.3h0M478.2 122.8h0M450.6 105.6h0M455.2 114.2h0M471.0 122.1h0M459.7 118.0h0M478.4 112.5h0M473.5 135.5h0M479.1 116.1h0M476.9 120.1h0M469.4 116.5h0M483.5 135.2h0M474.4 136.2h0M468.6 124.6h0M477.6 117.0h0M471.6 119.6h0M474.9 113.5h0M478.8 137.0h0M472.1 119.2h0M473.9 120.3h0M475.4 116.0h0M475.5 112.7h0M474.9 116.4h0M469.9 122.6h0M482.6 124.9h0M482.1 117.4h0M469.7 135.9h0M472.2 132.0h0M466.9 126.9h0M467.9 130.9h0M471.2 135.0h0M481.7 132.7h0M478.5 116.1h0M481.8 134.6h0M485.8 125.7h0M483.7 117.8h0M476.3 128.3h0M482.2 131.0h0M472.7 124.8h0M474.0 116.8h0M479.9 115.5h0M469.8 128.0h0M481.6 134.4h0M480.1 125.8h0M476.9 117.3h0M472.1 125.9h0M479.4 124.1h0M479.8 119.6h0M476.6 123.2h0M472.4 123.3h0M480.9 118.0h0M470.0 128.1h0M473.3 128.1h0M468.9 135.4h0M468.8 130.7h0M479.9 119.2h0M477.5 119.9h0M472.5 131.4h0M477.4 138.7h0M481.9 122.0h0M476.9 139.1h0M469.6 135.8h0M476.1 130.2h0M467.8 123.5h0M475.8 113.3h0M471.3 130.2h0M475.8 134.4h0M478.7 138.7h0M483.5 127.7h0M483.8 133.3h0M479.3 126.0h0M484.4 130.0h0M484.7 127.4h0M482.4 117.7h0M472.7 128.0h0M467.2 128.6h0M472.2 126.2h0M479.3 131.4h0M471.1 130.3h0M470.5 132.2h0M468.6 125.8h0M476.6 127.9h0M478.4 123.8h0M472.8 122.6h0M479.9 130.0h0M478.6 127.8h0M482.4 132.5h0M475.4 121.2h0M466.6 128.8h0M470.5 123.9h0M469.4 121.5h0M471.0 125.7h0M478.1 136.4h0M479.2 113.2h0M478.2 130.6h0M475.2 133.2h0M473.1 126.2h0M468.4 128.1h0M471.3 115.2h0M479.2 123.1h0M470.9 132.0h0M470.8 131.9h0M476.1 129.8h0M469.2 125.7h0M469.3 124.5h0M475.4 136.6h0M474.9 127.9h0M473.3 122.5h0M484.4 120.8h0M467.0 126.3h0M476.1 137.7h0M483.1 129.0h0M485.0 128.1h0M478.6 127.6h0M476.6 128.4h0M467.4 121.9h0M474.4 114.3h0M476.2 133.1h0M473.8 139.4h0M476.9 132.4h0M480.6 129.5h0M467.0 129.9h0M476.0 113.7h0M485.3 125.0h0M476.8 112.3h0M482.2 124.1h0M471.1 129.5h0M472.1 134.9h0M485.2 129.7h0M479.5 119.1h0M485.1 128.6h0M474.3 115.1h0M471.8 127.6h0M479.2 137.9h0M474.5 129.0h0M479.1 124.9h0M471.0 124.6h0M467.7 128.5h0M469.3 128.3h0M482.5 118.4h0M466.4 126.0h0M476.6 125.9h0M481.8 130.9h0M480.6 131.1h0M481.4 133.0h0M476.5 124.9h0M482.3 121.5h0M482.5 120.0h0M477.9 137.6h0M476.3 126.1h0M479.9 121.2h0M482.3 121.2h0M478.2 134.5h0M470.5 119.4h0M470.1 127.2h0M482.1 134.2h0M484.8 133.0h0M479.9 116.3h0M450.8 109.6h0M453.3 107.2h0M454.1 105.4h0M454.6 106.6h0M454.7 110.9h0M454.6 107.2h0M450.5 104.5h0M451.2 111.4h0M453.6 110.1h0M453.3 105.9h0M454.5 110.8h0M456.1 106.1h0M452.5 109.1h0M453.5 109.3h0M452.7 119.9h0M451.8 121.4h0M452.2 123.6h0M452.0 123.3h0M451.4 122.0h0M451.2 117.4h0M451.3 118.5h0M451.0 116.6h0M451.9 123.5h0M452.1 123.2h0M451.3 121.8h0M539.2 84.3h0M543.3 85.2h0M542.8 84.6h0M540.0 85.3h0M542.6 85.3h0M542.9 85.3h0M538.1 84.7h0M542.3 85.1h0M540.4 85.1h0M538.8 85.1h0M538.7 84.9h0M540.7 85.6h0M540.7 85.1h0M542.0 85.7h0M537.9 85.7h0M538.2 87.8h0M538.3 85.7h0M537.5 85.3h0M538.4 87.0h0M531.4 59.4h0M530.8 58.4h0M530.4 58.2h0M529.7 58.2h0M530.2 58.4h0M529.6 56.9h0M529.4 57.4h0M529.5 55.5h0M534.0 65.6h0M533.6 65.2h0M533.5 66.0h0M534.4 67.4h0M532.4 64.0h0M581.7 49.6h0M589.5 89.7h0M588.9 148.0h0M581.6 63.8h0M589.3 142.2h0M592.1 156.8h0M589.3 99.5h0M569.8 110.0h0M584.3 44.5h0M592.7 24.2h0M589.2 151.3h0M586.3 113.3h0M587.1 40.3h0M583.6 73.3h0M598.2 144.9h0M594.9 142.6h0M585.3 73.5h0M595.1 137.9h0M565.6 106.6h0M592.4 141.9h0M569.7 77.8h0M595.4 147.2h0M575.4 64.2h0M580.5 143.1h0M587.5 68.9h0M582.5 106.7h0M578.7 28.9h0M587.2 18.3h0M596.3 144.4h0M590.1 29.6h0M571.0 122.9h0M578.4 35.5h0M571.1 131.3h0M596.3 117.8h0M567.6 93.7h0M591.5 80.2h0M587.3 132.7h0M583.3 68.8h0M590.7 156.2h0M591.4 96.8h0M584.2 95.3h0M587.5 50.3h0M589.4 97.1h0M584.8 133.0h0M593.1 134.7h0M584.7 65.0h0M589.1 50.1h0M597.1 144.7h0M588.6 112.9h0M588.5 112.7h0M573.8 125.8h0M585.1 43.9h0M594.5 149.0h0M583.6 96.7h0M596.9 136.3h0M595.6 151.6h0M593.6 150.6h0M583.7 68.1h0M586.3 43.6h0M591.7 145.8h0M582.2 154.8h0M579.6 88.1h0M573.5 124.7h0M592.0 25.1h0M582.5 93.4h0M595.1 128.1h0M579.2 134.3h0M589.6 103.0h0M565.5 114.0h0M578.2 147.7h0M589.0 157.5h0M587.9 112.9h0M576.4 72.3h0M591.0 151.5h0M587.2 103.2h0M566.2 115.6h0M588.5 153.3h0M591.6 143.2h0M588.8 78.3h0M583.6 60.7h0M580.0 153.0h0M589.9 106.6h0M588.8 45.1h0M588.6 132.3h0M585.5 32.5h0M575.3 64.4h0M591.8 157.0h0M585.4 87.7h0M589.2 100.2h0M572.6 93.7h0M579.9 150.5h0M595.7 113.8h0M593.3 149.3h0M569.0 118.4h0M587.4 50.4h0M573.8 133.3h0M575.3 66.9h0M572.0 73.5h0M579.2 35.0h0M585.5 92.1h0M581.3 29.6h0M591.3 124.3h0M589.1 109.6h0M592.9 24.8h0M571.2 108.8h0M587.3 155.0h0M592.3 154.5h0M591.5 84.4h0M588.8 21.2h0M585.0 95.0h0M585.1 101.7h0M573.7 97.8h0M571.9 108.8h0M570.0 106.6h0M584.4 63.7h0M577.0 105.6h0M589.7 71.9h0M586.4 109.1h0M585.5 47.4h0M588.5 134.0h0M584.8 19.6h0M575.5 68.1h0M584.6 57.4h0M586.5 58.3h0M585.3 84.1h0M583.6 46.4h0M584.8 146.4h0M589.4 118.9h0M580.4 36.8h0M590.1 96.2h0M581.0 149.5h0M589.4 146.3h0M594.1 122.7h0M590.2 80.7h0M586.4 102.7h0M574.5 72.1h0M589.4 87.3h0M585.0 156.0h0M589.7 86.7h0M586.5 20.6h0M583.7 157.8h0M569.6 128.4h0M579.1 40.5h0M582.9 95.8h0M581.1 48.5h0M571.1 116.2h0M584.7 38.5h0M591.7 151.3h0M598.5 127.6h0M584.4 114.3h0M579.6 25.5h0M579.6 28.9h0M590.4 129.7h0M585.7 41.1h0M580.9 61.4h0M578.3 119.2h0M573.2 90.6h0M589.1 25.2h0M589.9 49.2h0M582.3 69.1h0M594.1 83.9h0M589.1 84.7h0M587.8 83.7h0M589.6 30.2h0M579.3 145.6h0M598.1 122.7h0M595.0 117.5h0M592.6 32.0h0M595.9 117.2h0M585.1 106.4h0M588.7 75.0h0M598.2 143.6h0M585.4 80.0h0M586.8 112.8h0M588.3 150.3h0M589.8 116.1h0M595.0 109.4h0M589.3 158.4h0M569.6 130.9h0M593.5 122.3h0M584.7 67.5h0M587.3 78.3h0M581.3 89.7h0M587.5 107.3h0M584.5 61.0h0M571.1 109.0h0M589.5 128.7h0M567.0 118.4h0M597.5 146.0h0M594.5 123.4h0M592.7 25.6h0M581.4 154.6h0M579.5 43.0h0M592.6 151.7h0M585.9 154.9h0M577.2 141.6h0M583.4 133.2h0M593.9 121.1h0M579.9 26.4h0M581.7 31.8h0M593.1 129.3h0M576.0 143.8h0M593.5 106.5h0M588.4 125.0h0M572.5 124.3h0M588.3 158.2h0M573.5 123.7h0M588.7 132.3h0M588.9 115.9h0M583.2 80.7h0M578.1 31.8h0M580.8 66.6h0M573.3 133.5h0M583.1 23.9h0M593.0 134.6h0M591.2 158.4h0M592.3 129.1h0M566.4 82.3h0M587.8 22.7h0M583.9 107.9h0M581.1 141.8h0M586.0 30.2h0M578.2 59.7h0M590.8 148.1h0M587.1 100.5h0M565.8 117.4h0M572.9 79.5h0M586.1 80.3h0M579.1 43.9h0M595.4 102.2h0M587.0 149.4h0M591.8 122.5h0M589.4 118.8h0M587.1 100.1h0M573.2 80.6h0M576.6 70.0h0M583.3 34.7h0M585.2 94.3h0M588.8 81.1h0M597.6 118.4h0M592.3 92.5h0M585.6 32.7h0M588.8 85.0h0M571.1 77.1h0M583.6 77.3h0M570.1 105.3h0M586.8 99.7h0M578.9 60.2h0M589.0 148.5h0M596.8 145.5h0M591.1 155.2h0M593.5 73.8h0M594.6 128.4h0M566.7 90.6h0M572.7 91.4h0M585.0 160.3h0M592.3 156.2h0M586.0 154.6h0M588.2 149.1h0M593.7 35.1h0M584.0 71.8h0M591.1 131.8h0M590.7 131.5h0M576.2 128.7h0M598.3 133.5h0M579.7 67.9h0M592.8 122.5h0M589.1 34.6h0M584.5 135.5h0M584.2 97.8h0M589.9 41.6h0M582.5 142.2h0M583.9 42.2h0M578.1 141.7h0M580.9 43.1h0M592.5 71.1h0M588.8 35.6h0M597.1 147.0h0M589.6 147.6h0M591.1 36.9h0M585.4 100.7h0M587.3 25.5h0M584.9 50.3h0M587.9 102.9h0M577.0 66.5h0M591.9 25.6h0M584.5 123.2h0M589.3 122.1h0M585.7 106.0h0M593.3 76.4h0M599.7 143.1h0M589.1 138.7h0M590.3 74.2h0M588.7 136.8h0M576.0 139.3h0M589.0 109.2h0M593.2 78.2h0M586.3 95.4h0M598.9 149.3h0M589.2 118.6h0M589.4 92.6h0M582.1 24.4h0M587.7 109.7h0M563.3 93.1h0M585.8 93.5h0M580.6 42.3h0M593.9 140.3h0M581.9 155.9h0M593.2 147.6h0M575.0 75.9h0M592.4 153.3h0M581.6 153.8h0M575.9 81.5h0M570.4 72.7h0M572.6 116.3h0M571.6 105.5h0M594.3 133.2h0M571.8 84.8h0M590.4 146.7h0M571.4 125.3h0M583.0 64.2h0M593.5 113.4h0M596.3 132.2h0M570.1 132.5h0M593.6 144.8h0M572.9 127.3h0M582.5 55.4h0M576.6 141.4h0M587.1 153.9h0M586.6 122.6h0M584.9 94.4h0M588.1 92.0h0M587.2 113.8h0M591.8 85.3h0M584.9 40.5h0M583.8 47.0h0M595.7 105.4h0M585.4 149.9h0M584.6 35.3h0M567.6 93.0h0M592.7 120.4h0M565.7 90.0h0M591.3 32.2h0M584.8 40.9h0M578.0 140.5h0M597.0 142.0h0M577.7 29.7h0M581.2 43.9h0M585.6 99.1h0M593.6 135.1h0M595.0 114.6h0M589.4 99.3h0M585.6 119.1h0M591.6 154.4h0M588.2 158.4h0M566.6 102.2h0M566.8 116.5h0M582.8 27.6h0M595.3 106.6h0M589.4 117.2h0M585.2 151.2h0M585.0 120.3h0M581.6 20.8h0M596.3 126.9h0M590.8 84.8h0M579.2 119.1h0M589.0 110.4h0M577.3 27.5h0M588.7 35.6h0M585.0 37.1h0M575.1 111.6h0M590.7 24.7h0M593.5 33.6h0M592.0 148.2h0M579.6 37.9h0M585.1 157.8h0M586.5 153.9h0M571.1 102.6h0M568.1 118.4h0M577.8 102.9h0M590.3 123.1h0M588.5 44.6h0M567.6 113.5h0M583.6 103.2h0M589.1 30.6h0M590.5 118.1h0M584.1 21.0h0M590.1 20.9h0M580.2 147.9h0M595.4 149.8h0M569.4 122.6h0M575.1 121.9h0M586.4 112.0h0M585.8 64.4h0M580.0 26.0h0M593.1 142.1h0M573.0 119.7h0M587.4 98.3h0M600.3 146.8h0M588.3 73.0h0M583.7 21.4h0M586.0 142.0h0M581.0 43.9h0M582.7 46.0h0M585.5 52.5h0M587.1 37.5h0M598.9 124.6h0M584.2 100.1h0M590.0 142.3h0M597.6 144.4h0M591.7 135.8h0M582.8 102.2h0M587.7 124.5h0M589.0 138.4h0M588.8 156.0h0M584.4 155.0h0M581.9 147.8h0M590.9 124.0h0M583.9 85.2h0M589.2 138.0h0M578.6 39.8h0M582.6 132.1h0M598.2 121.2h0M585.9 150.7h0M591.8 75.0h0M597.7 147.5h0M577.5 68.0h0M584.5 44.5h0M589.5 119.4h0M596.0 112.2h0M571.2 111.4h0M579.2 41.4h0M591.7 151.8h0M571.9 103.2h0M582.3 64.7h0M589.4 87.0h0M583.7 42.1h0M588.7 25.8h0M591.4 31.3h0M593.7 122.1h0M587.6 23.4h0M588.9 93.3h0M588.4 77.6h0M589.0 142.7h0M584.7 95.7h0M598.4 144.4h0M572.5 138.9h0M597.4 125.5h0M584.1 107.4h0M594.6 144.7h0M586.4 106.4h0M582.4 57.8h0M570.2 110.5h0M587.9 97.2h0M586.0 88.4h0M579.2 103.2h0M583.9 93.9h0M591.6 34.4h0M568.6 93.1h0M576.1 66.2h0M581.6 145.1h0M599.2 130.9h0M581.5 57.4h0M579.0 66.2h0M581.7 89.0h0M584.6 87.0h0M572.1 134.5h0M587.6 62.2h0M580.3 55.6h0M592.3 152.9h0M588.9 146.3h0M590.3 126.1h0M578.9 73.3h0M586.0 116.5h0M594.0 137.6h0M583.5 69.1h0M583.1 60.6h0M592.2 75.1h0M577.6 57.9h0M581.7 59.5h0M588.3 112.7h0M580.1 72.6h0M582.9 66.9h0M590.9 142.5h0M582.9 109.4h0M578.0 141.0h0M572.3 131.2h0M590.1 97.3h0M564.9 92.0h0M586.0 88.9h0M590.0 27.4h0M570.3 128.9h0M585.9 118.7h0M584.4 37.3h0M588.3 146.9h0M585.0 146.6h0M594.8 121.7h0M571.0 78.8h0M575.9 141.3h0M576.3 142.4h0M587.8 57.5h0M587.7 22.6h0M592.8 85.5h0M591.4 109.5h0M578.8 60.5h0M597.9 147.7h0M585.1 149.7h0M571.9 126.0h0M589.5 37.8h0M589.5 77.8h0M584.2 105.0h0M588.3 89.9h0M576.5 75.0h0M587.3 113.3h0M578.6 62.9h0M587.0 154.8h0M567.8 80.1h0M582.7 60.6h0M585.4 54.0h0M588.7 88.2h0M588.4 18.9h0M586.5 67.2h0M592.9 132.2h0M592.2 38.5h0M577.5 80.8h0M586.1 150.4h0M588.5 55.9h0M581.7 80.3h0M592.8 28.4h0M594.8 108.6h0M589.6 85.1h0M591.5 76.0h0M580.8 88.4h0M594.3 123.2h0M590.3 102.6h0M593.3 133.7h0M594.0 99.9h0M597.8 148.1h0M586.2 21.4h0M599.7 139.8h0M592.8 146.2h0M586.4 145.5h0M569.3 82.9h0M587.8 137.0h0M580.9 22.5h0M584.4 156.4h0M582.3 103.9h0M589.6 69.3h0M574.3 72.7h0M588.8 147.2h0M592.0 80.0h0M588.9 118.1h0M595.8 117.9h0M573.9 137.0h0M593.2 27.0h0M586.4 25.5h0M579.1 64.6h0M590.1 133.9h0M590.8 149.4h0M587.5 81.3h0M587.7 112.7h0M580.1 48.1h0M596.6 144.4h0M597.3 139.0h0M582.5 84.9h0M597.9 148.1h0M588.3 129.4h0M572.3 114.9h0M580.9 71.9h0M587.6 46.9h0M597.2 117.7h0M578.2 122.6h0M594.9 150.9h0M593.5 147.2h0M586.9 130.1h0M596.0 145.6h0M596.6 126.6h0M589.6 156.1h0M588.5 126.3h0M592.3 127.8h0M579.6 59.6h0M587.8 66.1h0M590.2 125.2h0M591.6 93.8h0M586.3 61.6h0M581.3 49.8h0M581.1 50.4h0M592.2 117.2h0M582.6 22.5h0M590.1 90.8h0M577.6 63.2h0M588.1 25.5h0M592.8 127.3h0M587.1 148.2h0M595.9 122.5h0M588.4 59.3h0M587.6 49.8h0M586.1 66.2h0M593.5 140.7h0M581.0 153.2h0M569.0 78.5h0M588.9 53.8h0M587.6 65.3h0M578.3 60.4h0M583.6 33.3h0M571.1 74.1h0M587.1 56.3h0M581.8 151.8h0M582.6 35.5h0M576.9 139.8h0M568.2 84.8h0M590.8 88.7h0M586.3 74.0h0M570.9 126.7h0M582.6 96.2h0M575.7 82.6h0M583.3 142.2h0M589.6 149.2h0M590.0 41.9h0M573.7 122.3h0M567.8 120.8h0M588.4 53.2h0M589.2 42.5h0M590.8 23.1h0M584.0 155.1h0M588.7 74.0h0M590.7 159.0h0M584.0 48.4h0M582.7 111.7h0M584.6 95.5h0M581.7 116.1h0M587.0 135.0h0M584.5 147.9h0M580.8 48.7h0M591.9 77.5h0M587.3 109.4h0M580.5 48.8h0M594.4 94.1h0M577.4 146.3h0M585.5 94.2h0M583.6 39.6h0M583.5 127.3h0M589.5 39.1h0M569.4 106.2h0M590.4 68.9h0M591.8 99.5h0M585.8 29.8h0M581.3 20.1h0M589.9 114.2h0M592.9 119.5h0M586.9 125.4h0M570.1 111.3h0M591.1 66.1h0M587.1 85.3h0M591.5 104.9h0M584.0 157.0h0M593.9 146.0h0M590.2 22.7h0M592.2 149.7h0M589.5 24.6h0M587.9 118.8h0M593.1 78.4h0M573.6 137.9h0M589.4 153.3h0M594.9 104.8h0M577.8 104.3h0M569.5 94.1h0M584.9 70.6h0M598.5 142.2h0M583.1 33.5h0M587.6 32.2h0M576.5 87.9h0M570.9 104.9h0M584.2 36.0h0M587.3 49.4h0M592.3 148.5h0M582.2 56.8h0M578.2 67.7h0M593.2 145.1h0M588.6 159.0h0M578.7 39.7h0M577.2 34.0h0M588.7 100.7h0M588.1 148.0h0M581.2 57.4h0M590.7 22.5h0M579.1 40.1h0M592.2 143.6h0M576.6 111.7h0M578.0 61.4h0M587.1 103.4h0M589.0 146.2h0M587.9 31.1h0M587.9 101.7h0M584.4 36.5h0M591.9 97.9h0M592.1 29.1h0M597.2 127.5h0M587.1 104.3h0M593.8 111.8h0M583.3 141.0h0M572.1 134.4h0M576.3 62.6h0M585.3 117.9h0M586.2 36.0h0M572.2 126.0h0M572.8 112.5h0M588.6 45.9h0M588.2 34.4h0M587.8 87.7h0M590.4 61.7h0M597.4 141.9h0M589.8 66.5h0M583.9 31.3h0M569.0 79.6h0M568.9 103.8h0M588.3 120.4h0M586.4 105.4h0M579.7 79.2h0M579.6 29.1h0M586.4 112.6h0M592.3 38.4h0M586.2 36.6h0M586.6 25.7h0M569.3 121.9h0M581.1 151.8h0M582.9 66.0h0M577.7 115.7h0M585.7 45.6h0M592.4 77.8h0M579.6 150.0h0M583.5 90.5h0M590.8 97.4h0M592.1 123.6h0M587.3 44.6h0M567.0 94.7h0M585.4 111.6h0M591.7 133.8h0M590.4 26.0h0M583.9 77.3h0M596.8 103.7h0M579.4 83.9h0M570.9 108.5h0M579.6 32.9h0M589.3 65.3h0M572.5 83.8h0M589.4 120.8h0M564.1 92.3h0M576.4 27.5h0M567.1 85.4h0M587.4 79.4h0M569.8 79.7h0M567.2 86.4h0M584.1 34.9h0M572.3 87.3h0M592.7 142.6h0M585.6 20.9h0M575.9 66.5h0M570.1 106.9h0M575.3 107.5h0M570.1 127.9h0M567.7 116.5h0M590.3 66.1h0M589.1 108.9h0M589.2 111.7h0M570.8 104.0h0M586.7 41.5h0M583.4 140.0h0M581.1 54.8h0M582.7 37.1h0M591.0 69.2h0M577.2 58.8h0M584.8 115.7h0M583.9 77.7h0M570.2 86.6h0M583.2 152.7h0M587.7 58.1h0M594.9 145.0h0M597.0 132.7h0M593.7 135.5h0M588.3 99.5h0M586.4 109.0h0M588.4 128.1h0M567.0 98.6h0M589.2 62.5h0M588.1 90.3h0M581.3 148.9h0M592.8 147.6h0M587.0 92.7h0M580.8 147.0h0M578.1 63.0h0M591.9 128.1h0M577.8 86.1h0M581.3 52.6h0M581.4 55.0h0M596.5 127.6h0M595.4 129.7h0M586.8 136.3h0M588.3 148.0h0M580.1 70.6h0M585.4 36.4h0M581.7 115.0h0M586.6 36.2h0M590.3 156.2h0M596.7 145.4h0M589.2 28.1h0M578.5 143.7h0M590.5 21.0h0M575.3 66.9h0M587.0 154.6h0M592.3 87.6h0M590.3 25.5h0M593.7 152.6h0M589.8 112.5h0M599.1 131.6h0M593.2 143.3h0M580.5 90.1h0M588.8 124.9h0M588.8 25.3h0M598.4 142.1h0M575.0 75.9h0M595.6 135.1h0M581.1 41.7h0M579.0 31.1h0M584.8 74.7h0M581.8 24.7h0M592.1 119.3h0M589.5 138.3h0M579.5 31.0h0M565.2 118.6h0M564.9 94.7h0M593.0 37.4h0M569.5 87.4h0M584.3 46.9h0M572.9 131.7h0M587.6 142.2h0M593.7 109.6h0M589.6 124.7h0M578.1 135.9h0M581.6 86.8h0M584.7 67.3h0M590.0 94.6h0M582.7 68.6h0M591.4 154.6h0M598.2 123.9h0M599.0 134.5h0M574.6 107.2h0M584.4 68.0h0M568.2 78.5h0M581.7 112.5h0M583.1 100.9h0M582.9 149.3h0M586.2 160.5h0M579.9 66.1h0M587.5 30.2h0M589.5 68.9h0M584.7 70.1h0M589.8 41.6h0M587.5 128.9h0M589.2 30.6h0M565.5 86.8h0M585.9 111.0h0M587.5 56.2h0M584.1 157.2h0M588.7 37.9h0M573.3 104.6h0M581.9 98.1h0M577.4 70.3h0M590.2 155.4h0M583.8 157.8h0M583.3 79.7h0M579.6 24.5h0M572.9 74.7h0M599.3 140.7h0M589.9 65.9h0M588.0 38.7h0M571.3 76.2h0M598.9 125.1h0M584.8 36.3h0M569.0 81.6h0M582.8 134.7h0M569.6 96.9h0M574.2 104.9h0M584.2 100.9h0M591.2 98.2h0M591.2 88.7h0M595.3 140.5h0M586.7 21.5h0M568.3 106.2h0M594.9 151.5h0M593.6 137.4h0M590.4 66.6h0M583.5 88.3h0M591.6 101.4h0M593.6 27.2h0M589.2 149.3h0M575.3 66.0h0M598.4 139.9h0M569.9 101.2h0M584.5 82.3h0M583.1 140.5h0M589.3 145.8h0M595.2 102.6h0M589.4 86.9h0M591.0 64.7h0M575.7 83.7h0M586.0 117.5h0M597.9 146.3h0M589.7 32.8h0M589.1 128.7h0M576.7 124.4h0M567.0 110.1h0M578.1 33.6h0M575.1 137.7h0M597.2 134.6h0M576.2 133.0h0M577.0 31.2h0M579.5 145.3h0M589.8 150.3h0M585.1 61.7h0M583.0 78.8h0M585.3 38.6h0M598.9 133.4h0M583.7 72.9h0M583.9 67.9h0M585.6 48.6h0M565.7 95.6h0M571.9 86.2h0M591.5 68.3h0M586.2 103.6h0M587.5 72.5h0M584.4 37.0h0M579.4 148.4h0M593.7 108.9h0M581.1 27.8h0M582.1 54.1h0M590.6 96.1h0M576.8 143.9h0M570.2 124.6h0M586.7 157.9h0M593.0 109.9h0M589.5 113.5h0M593.7 141.9h0M592.4 153.0h0M595.7 138.3h0M582.5 58.7h0M595.6 109.0h0M597.0 133.2h0M598.1 117.3h0M572.5 132.5h0M588.7 52.1h0M587.6 82.7h0M574.3 74.2h0M588.9 94.7h0M581.5 156.1h0M587.1 47.2h0M584.6 68.3h0M583.0 70.0h0M589.7 45.1h0M577.6 119.5h0M573.6 115.6h0M597.1 138.7h0M589.8 53.4h0M590.6 92.9h0M568.0 86.3h0M579.1 134.8h0M581.7 29.8h0M581.6 58.8h0M589.3 110.2h0M593.0 105.3h0M571.9 118.9h0M573.2 119.7h0M590.7 128.9h0M596.8 128.2h0M600.2 143.5h0M585.0 93.3h0M581.5 41.4h0M597.8 136.3h0M591.1 80.3h0M576.2 138.8h0M591.6 91.1h0M585.6 59.9h0M578.2 138.5h0M583.7 86.8h0M582.7 90.9h0M621.6 59.7h0M629.2 60.6h0M629.5 66.6h0M634.2 61.4h0M619.1 60.7h0M630.7 63.8h0M615.2 63.5h0M611.5 60.2h0M629.3 57.6h0M636.7 64.7h0M628.0 62.6h0M615.3 62.8h0M626.0 57.6h0M638.5 62.8h0M631.5 66.4h0M620.6 63.8h0M628.9 65.3h0M632.7 62.3h0M632.5 61.3h0M620.8 64.2h0M613.0 60.7h0M612.7 61.9h0M620.1 62.7h0M629.6 63.8h0M631.3 65.1h0M641.2 61.8h0M628.6 62.6h0M614.3 60.7h0M636.0 66.2h0M639.9 61.1h0M618.5 62.5h0M637.5 64.5h0M638.0 62.4h0M618.1 62.6h0M616.3 60.2h0M635.7 59.8h0M624.0 63.1h0M632.3 61.1h0M617.5 60.3h0M640.2 64.7h0M631.3 65.1h0M641.2 65.1h0M630.5 61.2h0M620.1 59.2h0M624.6 59.1h0M627.6 58.1h0M619.6 59.9h0M626.9 62.8h0M625.5 62.7h0M622.6 61.0h0M622.7 60.6h0M627.4 62.5h0M622.1 60.4h0M624.4 57.3h0M624.7 61.9h0M624.3 62.5h0M620.3 57.6h0M625.7 60.8h0M626.9 60.2h0M622.1 57.4h0M629.7 58.6h0M628.7 58.9h0M622.6 62.0h0M629.0 60.5h0M624.4 61.4h0M622.0 60.8h0M625.6 59.1h0M625.0 59.5h0M630.1 58.5h0M625.4 59.4h0M629.0 58.1h0M631.8 60.0h0M623.1 58.5h0M621.3 58.0h0M628.3 59.7h0M630.4 60.0h0M632.2 60.3h0M626.5 61.5h0M623.1 58.4h0M630.6 61.2h0M632.4 61.6h0M548.3 87.4h0M547.1 87.2h0M548.5 87.8h0M548.6 87.8h0M549.9 87.7h0M545.6 87.0h0M555.2 89.9h0M548.8 87.6h0M557.4 90.6h0M549.2 87.7h0M551.9 88.3h0M546.5 86.9h0M547.3 86.8h0M557.2 90.8h0M553.2 88.8h0M553.3 88.7h0" stroke="#2b1a9e" stroke-width="0.54" stroke-linecap="round" fill="none" opacity="1.00"/>
<path d="M590.3 79.4h0M585.7 41.1h0M545.6 87.0h0M584.4 37.0h0M575.9 81.5h0M577.0 66.5h0M589.6 30.2h0M477.7 90.5h0M496.0 92.8h0M592.5 149.8h0M466.8 78.4h0M460.9 88.7h0M504.5 92.6h0M452.1 123.2h0M564.8 84.9h0M478.7 138.7h0M588.4 89.5h0M582.8 103.9h0M493.5 85.6h0M457.2 84.8h0M581.5 41.4h0M502.7 81.7h0M502.9 76.7h0M617.5 60.3h0M588.3 89.9h0M585.2 36.3h0M583.6 77.3h0M503.6 100.9h0M503.3 80.4h0M573.8 133.3h0" stroke="#b12a90" stroke-width="0.66" stroke-linecap="round" fill="none" opacity="1.00"/>
<path d="M598.2 141.3h0M493.4 92.5h0M480.1 125.8h0M586.0 108.3h0M582.4 76.4h0M641.8 62.8h0M590.7 24.7h0M573.9 137.0h0M584.7 67.5h0M595.4 149.8h0M544.1 86.0h0M582.3 25.6h0M465.8 113.9h0M470.1 127.2h0M579.6 25.5h0M480.2 94.8h0M628.6 62.6h0M571.0 78.8h0" stroke="#e16462" stroke-width="0.66" stroke-linecap="round" fill="none" opacity="1.00"/>
<path d="M548.5 87.3h0M503.1 77.4h0M593.0 105.3h0M476.9 117.3h0M581.7 31.8h0M478.4 96.8h0M500.9 77.8h0M468.9 135.4h0M590.1 20.9h0M588.0 85.7h0M593.4 104.9h0M591.1 155.2h0" stroke="#fca636" stroke-width="0.66" stroke-linecap="round" fill="none" opacity="1.00"/>
<path d="M467.5 116.9L470.7 118.3L473.7 115.7L476.3 117.4L478.9 116.2L481.2 118.0L482.1 112.5L483.3 106.4M483.3 106.4L478.9 100.3M483.3 106.4L490.3 105.5L502.6 103.1M502.6 103.1L506.1 100.8L505.7 97.3L507.8 94.7L508.2 90.6L506.4 86.8L505.7 83.3L503.4 80.1L504.7 78.2L505.2 75.9M505.2 75.9L509.6 75.8L513.9 74.5L518.9 73.7L530.1 71.9L537.6 83.8L542.9 85.9L548.1 87.7L554.2 89.9L563.0 90.3M562.8 90.4L565.4 93.4L568.9 91.6L571.2 91.0L573.3 89.9L576.8 90.8L580.3 92.5L581.2 93.4M585.9 19.0L582.4 20.8L580.4 21.7L578.9 23.4L578.0 26.9L581.5 28.7L585.0 27.4L585.9 24.7L587.7 22.5L589.4 20.8L587.7 23.2L587.2 26.2L585.0 28.4L584.2 31.3L583.3 33.0L583.3 35.3L582.4 37.4L584.2 40.9L582.8 42.9L582.4 45.3L584.1 46.7L585.0 48.8L583.3 50.3L582.4 52.3L584.1 53.8L585.0 55.8L582.5 57.2L580.7 59.3L580.9 61.7L579.6 63.9L579.8 66.3L579.8 69.0L578.9 71.6L578.0 75.1L578.9 77.1L580.7 78.6L582.4 82.1M585.0 55.8L585.9 61.9L587.7 67.2M587.7 67.2L594.3 71.6L606.1 68.1L614.3 64.9L620.6 60.2L624.5 59.8M578.5 75.9L579.6 78.2L581.9 79.7L582.9 82.0L581.6 84.0L581.2 86.4L582.0 89.9L581.2 93.4L580.3 96.9L583.8 97.8L585.9 99.7L587.3 102.2L586.4 104.7L586.4 107.4L585.9 110.9L588.2 114.4L589.9 117.0L591.6 118.5L592.6 120.6L591.7 124.1L594.3 126.7L593.8 128.9L594.3 131.1L595.5 133.1L595.7 135.4L595.8 137.8L596.9 139.8L597.0 142.1L596.1 144.2L595.2 147.7L593.1 149.1L591.7 151.2L589.1 154.2M589.1 154.2L593.0 149.1L589.7 152.4L586.5 155.7L587.1 160.1M580.3 96.9L576.8 97.8L575.9 101.3L571.5 101.3L569.7 103.7L569.0 106.7L567.2 109.2L568.0 112.7L570.1 116.5L568.7 118.4L568.0 120.6L568.9 124.9L571.7 125.6L574.2 127.0L575.6 129.3L577.7 131.1L578.9 133.1L579.4 135.4L580.3 139.8L582.6 140.9L585.2 141.2L587.9 140.3L590.8 140.2L593.3 140.4L595.7 139.8" stroke="#111" stroke-width="0.6" fill="none"/>
<g fill="#a6a6a6" fill-opacity="0.85" stroke="#1a1a1a" stroke-width="0.6"><circle cx="467.5" cy="116.9" r="1.55"/><circle cx="470.7" cy="118.3" r="1.55"/><circle cx="473.7" cy="115.7" r="1.55"/><circle cx="476.3" cy="117.4" r="1.55"/><circle cx="478.9" cy="116.2" r="1.55"/><circle cx="481.2" cy="118.0" r="1.55"/><circle cx="482.1" cy="112.5" r="1.55"/><circle cx="483.3" cy="106.4" r="1.55"/><circle cx="478.9" cy="100.3" r="1.55"/><circle cx="490.3" cy="105.5" r="1.55"/><circle cx="502.6" cy="103.1" r="1.55"/><circle cx="506.1" cy="100.8" r="1.55"/><circle cx="505.7" cy="97.3" r="1.55"/><circle cx="507.8" cy="94.7" r="1.55"/><circle cx="508.2" cy="90.6" r="1.55"/><circle cx="506.4" cy="86.8" r="1.55"/><circle cx="505.7" cy="83.3" r="1.55"/><circle cx="503.4" cy="80.1" r="1.55"/><circle cx="504.7" cy="78.2" r="1.55"/><circle cx="505.2" cy="75.9" r="1.55"/><circle cx="509.6" cy="75.8" r="1.55"/><circle cx="513.9" cy="74.5" r="1.55"/><circle cx="518.9" cy="73.7" r="1.55"/><circle cx="530.1" cy="71.9" r="1.55"/><circle cx="537.6" cy="83.8" r="1.55"/><circle cx="542.9" cy="85.9" r="1.55"/><circle cx="548.1" cy="87.7" r="1.55"/><circle cx="554.2" cy="89.9" r="1.55"/><circle cx="563.0" cy="90.3" r="1.55"/><circle cx="562.8" cy="90.4" r="1.55"/><circle cx="565.4" cy="93.4" r="1.55"/><circle cx="568.9" cy="91.6" r="1.55"/><circle cx="571.2" cy="91.0" r="1.55"/><circle cx="573.3" cy="89.9" r="1.55"/><circle cx="576.8" cy="90.8" r="1.55"/><circle cx="580.3" cy="92.5" r="1.55"/><circle cx="581.2" cy="93.4" r="1.55"/><circle cx="585.9" cy="19.0" r="1.55"/><circle cx="582.4" cy="20.8" r="1.55"/><circle cx="580.4" cy="21.7" r="1.55"/><circle cx="578.9" cy="23.4" r="1.55"/><circle cx="578.0" cy="26.9" r="1.55"/><circle cx="581.5" cy="28.7" r="1.55"/><circle cx="585.0" cy="27.4" r="1.55"/><circle cx="585.9" cy="24.7" r="1.55"/><circle cx="587.7" cy="22.5" r="1.55"/><circle cx="589.4" cy="20.8" r="1.55"/><circle cx="587.7" cy="23.2" r="1.55"/><circle cx="587.2" cy="26.2" r="1.55"/><circle cx="585.0" cy="28.4" r="1.55"/><circle cx="584.2" cy="31.3" r="1.55"/><circle cx="583.3" cy="33.0" r="1.55"/><circle cx="583.3" cy="35.3" r="1.55"/><circle cx="582.4" cy="37.4" r="1.55"/><circle cx="584.2" cy="40.9" r="1.55"/><circle cx="582.8" cy="42.9" r="1.55"/><circle cx="582.4" cy="45.3" r="1.55"/><circle cx="584.1" cy="46.7" r="1.55"/><circle cx="585.0" cy="48.8" r="1.55"/><circle cx="583.3" cy="50.3" r="1.55"/><circle cx="582.4" cy="52.3" r="1.55"/><circle cx="584.1" cy="53.8" r="1.55"/><circle cx="585.0" cy="55.8" r="1.55"/><circle cx="582.5" cy="57.2" r="1.55"/><circle cx="580.7" cy="59.3" r="1.55"/><circle cx="580.9" cy="61.7" r="1.55"/><circle cx="579.6" cy="63.9" r="1.55"/><circle cx="579.8" cy="66.3" r="1.55"/><circle cx="579.8" cy="69.0" r="1.55"/><circle cx="578.9" cy="71.6" r="1.55"/><circle cx="578.0" cy="75.1" r="1.55"/><circle cx="578.9" cy="77.1" r="1.55"/><circle cx="580.7" cy="78.6" r="1.55"/><circle cx="582.4" cy="82.1" r="1.55"/><circle cx="585.9" cy="61.9" r="1.55"/><circle cx="587.7" cy="67.2" r="1.55"/><circle cx="594.3" cy="71.6" r="1.55"/><circle cx="606.1" cy="68.1" r="1.55"/><circle cx="614.3" cy="64.9" r="1.55"/><circle cx="620.6" cy="60.2" r="1.55"/><circle cx="624.5" cy="59.8" r="1.55"/><circle cx="578.5" cy="75.9" r="1.55"/><circle cx="579.6" cy="78.2" r="1.55"/><circle cx="581.9" cy="79.7" r="1.55"/><circle cx="582.9" cy="82.0" r="1.55"/><circle cx="581.6" cy="84.0" r="1.55"/><circle cx="581.2" cy="86.4" r="1.55"/><circle cx="582.0" cy="89.9" r="1.55"/><circle cx="580.3" cy="96.9" r="1.55"/><circle cx="583.8" cy="97.8" r="1.55"/><circle cx="585.9" cy="99.7" r="1.55"/><circle cx="587.3" cy="102.2" r="1.55"/><circle cx="586.4" cy="104.7" r="1.55"/><circle cx="586.4" cy="107.4" r="1.55"/><circle cx="585.9" cy="110.9" r="1.55"/><circle cx="588.2" cy="114.4" r="1.55"/><circle cx="589.9" cy="117.0" r="1.55"/><circle cx="591.6" cy="118.5" r="1.55"/><circle cx="592.6" cy="120.6" r="1.55"/><circle cx="591.7" cy="124.1" r="1.55"/><circle cx="594.3" cy="126.7" r="1.55"/><circle cx="593.8" cy="128.9" r="1.55"/><circle cx="594.3" cy="131.1" r="1.55"/><circle cx="595.5" cy="133.1" r="1.55"/><circle cx="595.7" cy="135.4" r="1.55"/><circle cx="595.8" cy="137.8" r="1.55"/><circle cx="596.9" cy="139.8" r="1.55"/><circle cx="597.0" cy="142.1" r="1.55"/><circle cx="596.1" cy="144.2" r="1.55"/><circle cx="595.2" cy="147.7" r="1.55"/><circle cx="593.1" cy="149.1" r="1.55"/><circle cx="591.7" cy="151.2" r="1.55"/><circle cx="589.1" cy="154.2" r="1.55"/><circle cx="593.0" cy="149.1" r="1.55"/><circle cx="589.7" cy="152.4" r="1.55"/><circle cx="586.5" cy="155.7" r="1.55"/><circle cx="587.1" cy="160.1" r="1.55"/><circle cx="576.8" cy="97.8" r="1.55"/><circle cx="575.9" cy="101.3" r="1.55"/><circle cx="571.5" cy="101.3" r="1.55"/><circle cx="569.7" cy="103.7" r="1.55"/><circle cx="569.0" cy="106.7" r="1.55"/><circle cx="567.2" cy="109.2" r="1.55"/><circle cx="568.0" cy="112.7" r="1.55"/><circle cx="570.1" cy="116.5" r="1.55"/><circle cx="568.7" cy="118.4" r="1.55"/><circle cx="568.0" cy="120.6" r="1.55"/><circle cx="568.9" cy="124.9" r="1.55"/><circle cx="571.7" cy="125.6" r="1.55"/><circle cx="574.2" cy="127.0" r="1.55"/><circle cx="575.6" cy="129.3" r="1.55"/><circle cx="577.7" cy="131.1" r="1.55"/><circle cx="578.9" cy="133.1" r="1.55"/><circle cx="579.4" cy="135.4" r="1.55"/><circle cx="580.3" cy="139.8" r="1.55"/><circle cx="582.6" cy="140.9" r="1.55"/><circle cx="585.2" cy="141.2" r="1.55"/><circle cx="587.9" cy="140.3" r="1.55"/><circle cx="590.8" cy="140.2" r="1.55"/><circle cx="593.3" cy="140.4" r="1.55"/><circle cx="595.7" cy="139.8" r="1.55"/></g>
<defs><linearGradient id="pl" x1="0" y1="1" x2="0" y2="0"><stop offset="0.0" stop-color="#0d0887"/><stop offset="0.1" stop-color="#41049d"/><stop offset="0.2" stop-color="#6a00a8"/><stop offset="0.3" stop-color="#8f0da4"/><stop offset="0.4" stop-color="#b12a90"/><stop offset="0.5" stop-color="#cc4778"/><stop offset="0.6" stop-color="#e16462"/><stop offset="0.7" stop-color="#f2844b"/><stop offset="0.8" stop-color="#fca636"/><stop offset="0.9" stop-color="#fcce25"/><stop offset="1.0" stop-color="#f0f921"/></linearGradient></defs>
<rect x="657.5" y="75.7" width="8.5" height="34.8" fill="url(#pl)"/>
<text x="657.8" y="73.5" font-size="4.95" text-anchor="start" fill="#000" stroke="#000" stroke-width="0.04" font-weight="normal" >pseudotime</text>
<text x="668.2" y="83.2" font-size="4.20" text-anchor="start" fill="#000" stroke="#000" stroke-width="0.04" font-weight="normal" >1.5</text>
<text x="668.2" y="92.8" font-size="4.20" text-anchor="start" fill="#000" stroke="#000" stroke-width="0.04" font-weight="normal" >1.0</text>
<text x="668.2" y="102.5" font-size="4.20" text-anchor="start" fill="#000" stroke="#000" stroke-width="0.04" font-weight="normal" >0.5</text>
<text x="668.2" y="111.9" font-size="4.20" text-anchor="start" fill="#000" stroke="#000" stroke-width="0.04" font-weight="normal" >0.0</text>
<path d="M99.6 194.2V359.1H349.8" stroke="#444" stroke-width="0.6" fill="none"/><text x="132.4" y="364.3" font-size="4.20" text-anchor="middle" fill="#4d4d4d" stroke="#4d4d4d" stroke-width="0.04" font-weight="normal" >−10</text><text x="181.2" y="364.3" font-size="4.20" text-anchor="middle" fill="#4d4d4d" stroke="#4d4d4d" stroke-width="0.04" font-weight="normal" >−5</text><text x="230.0" y="364.3" font-size="4.20" text-anchor="middle" fill="#4d4d4d" stroke="#4d4d4d" stroke-width="0.04" font-weight="normal" >0</text><text x="278.8" y="364.3" font-size="4.20" text-anchor="middle" fill="#4d4d4d" stroke="#4d4d4d" stroke-width="0.04" font-weight="normal" >5</text><text x="327.6" y="364.3" font-size="4.20" text-anchor="middle" fill="#4d4d4d" stroke="#4d4d4d" stroke-width="0.04" font-weight="normal" >10</text><text x="97.2" y="327.6" font-size="4.20" text-anchor="end" fill="#4d4d4d" stroke="#4d4d4d" stroke-width="0.04" font-weight="normal" >−5</text><text x="97.2" y="281.8" font-size="4.20" text-anchor="end" fill="#4d4d4d" stroke="#4d4d4d" stroke-width="0.04" font-weight="normal" >0</text><text x="97.2" y="236.1" font-size="4.20" text-anchor="end" fill="#4d4d4d" stroke="#4d4d4d" stroke-width="0.04" font-weight="normal" >5</text><path d="M132.4 359.1v1.4M181.2 359.1v1.4M230.0 359.1v1.4M278.8 359.1v1.4M327.6 359.1v1.4M99.6 326.1h-1.4M99.6 280.3h-1.4M99.6 234.6h-1.4" stroke="#444" stroke-width="0.5" fill="none"/><text x="224.4" y="370.3" font-size="5.10" text-anchor="middle" fill="#000" stroke="#000" stroke-width="0.04" font-weight="normal" >UMAP 1</text><text transform="translate(90.4 277.6) rotate(-90)" font-size="4.60" text-anchor="middle" stroke="#000" stroke-width="0.04">UMAP 2</text>
<path d="M124.2 265.3h0M127.8 264.9h0M137.6 261.0h0M123.2 271.3h0M120.0 271.3h0M130.2 269.2h0M136.5 267.4h0M129.8 261.4h0M126.0 275.9h0M124.6 275.8h0M131.0 261.5h0M136.7 266.1h0M120.6 270.0h0M128.4 274.4h0M128.5 268.5h0M127.7 269.6h0M121.5 275.4h0M128.1 268.1h0M131.9 261.7h0M134.1 269.9h0M137.1 261.0h0M136.0 263.1h0M124.1 273.4h0M129.8 269.3h0M129.5 267.8h0M127.5 275.0h0M119.5 273.5h0M129.4 270.9h0M130.0 264.7h0M131.5 264.7h0M125.5 267.6h0M124.2 275.4h0M135.3 267.1h0M138.2 260.4h0M139.0 261.5h0M123.2 268.7h0M134.2 263.1h0M133.6 268.9h0M132.1 264.5h0M138.9 265.5h0M123.5 272.7h0M128.5 273.4h0M125.7 264.4h0M129.0 264.2h0M134.7 267.7h0M128.5 274.0h0M128.6 268.2h0M134.9 261.3h0M135.0 266.2h0M128.9 264.0h0M125.7 266.7h0M130.1 272.3h0M135.2 262.4h0M133.3 268.0h0M131.3 267.3h0M139.5 262.7h0M127.5 270.4h0M134.7 260.1h0M131.1 270.3h0M122.0 267.6h0M139.0 262.7h0M138.4 262.5h0M134.6 260.8h0M137.2 261.9h0M137.4 264.7h0M140.2 263.5h0M137.4 266.7h0M138.5 261.5h0M135.3 263.2h0M137.6 266.2h0M133.0 265.1h0M135.7 264.6h0M134.6 263.5h0M134.3 264.3h0M137.4 265.7h0M131.6 260.9h0M137.0 265.0h0M140.4 265.3h0M139.8 265.0h0M135.7 265.7h0M134.8 263.4h0M136.3 263.4h0M137.0 261.7h0M139.7 261.9h0M136.2 262.5h0M132.8 261.2h0M138.0 262.8h0M134.9 262.7h0M151.9 282.8h0M153.2 277.2h0M159.0 283.9h0M163.1 272.2h0M140.6 277.6h0M145.5 277.0h0M155.9 285.0h0M155.5 278.7h0M147.1 285.5h0M151.8 278.2h0M156.6 285.8h0M147.2 284.2h0M131.7 283.1h0M143.0 273.9h0M162.2 272.5h0M133.7 282.1h0M166.0 279.6h0M143.4 284.0h0M144.8 288.3h0M134.3 278.9h0M153.0 285.2h0M149.3 279.5h0M150.3 275.8h0M130.5 283.4h0M144.3 276.1h0M159.3 273.4h0M133.0 278.2h0M136.7 285.3h0M130.7 282.8h0M135.5 276.6h0M132.8 281.9h0M155.4 286.9h0M132.5 280.1h0M137.9 288.0h0M148.7 271.3h0M148.8 281.0h0M137.5 287.3h0M144.7 283.8h0M130.0 278.6h0M166.7 279.8h0M137.9 277.1h0M149.5 282.0h0M144.7 272.6h0M144.4 277.3h0M156.7 282.8h0M166.7 279.3h0M139.6 276.7h0M166.5 280.7h0M148.3 272.9h0M134.6 285.2h0M148.1 275.1h0M143.0 285.8h0M145.2 283.8h0M144.0 279.5h0M138.6 278.8h0M147.8 272.6h0M129.5 281.5h0M146.3 275.1h0M155.2 273.0h0M144.4 276.7h0M172.1 285.0h0M169.4 273.2h0M178.8 268.4h0M174.0 268.1h0M175.5 277.8h0M177.2 275.4h0M173.1 285.6h0M175.4 265.2h0M166.2 270.0h0M173.9 274.1h0M169.7 287.1h0M165.6 283.7h0M173.2 276.1h0M166.3 270.6h0M171.2 285.7h0M180.6 277.0h0M168.4 268.1h0M178.4 284.4h0M176.2 286.6h0M170.2 266.6h0M174.8 273.9h0M169.8 280.4h0M168.3 267.1h0M170.8 282.5h0M177.8 285.3h0M174.7 285.9h0M169.3 267.9h0M178.6 276.6h0M166.4 275.8h0M169.3 266.6h0M177.4 265.9h0M174.9 286.1h0M169.6 286.8h0M177.4 278.6h0M176.1 271.3h0M178.6 271.8h0M178.9 283.5h0M179.3 271.1h0M179.2 278.4h0M176.4 267.6h0M168.0 269.1h0M174.3 264.6h0M175.0 286.3h0M175.8 284.1h0M174.9 268.9h0M169.9 279.5h0M169.8 266.9h0M172.9 281.2h0M171.8 282.5h0M167.6 272.6h0M172.1 270.8h0M168.4 275.1h0M175.7 276.9h0M174.2 263.6h0M174.6 283.9h0M171.6 263.5h0M164.7 281.6h0M176.1 279.5h0M172.4 272.1h0M172.1 284.5h0M175.0 282.5h0M168.8 274.2h0M173.6 285.8h0M168.9 277.0h0M171.9 282.0h0M177.3 279.6h0M178.9 269.8h0M169.7 283.2h0M168.1 264.1h0M171.7 262.4h0M175.7 265.6h0M175.8 263.5h0M175.9 261.5h0M170.4 261.2h0M180.8 263.4h0M173.9 268.1h0M175.5 264.6h0M177.5 260.4h0M175.3 262.6h0M172.7 260.5h0M169.8 262.9h0M172.8 262.6h0M171.5 261.5h0M176.8 266.0h0M177.4 264.8h0M172.0 261.0h0M173.4 262.1h0M171.0 265.2h0M175.7 261.8h0M174.5 263.7h0M176.4 263.3h0M167.8 262.7h0M169.6 264.8h0M174.3 259.8h0M173.2 263.4h0M171.4 262.7h0M174.6 266.0h0M174.2 263.8h0M173.1 262.9h0M173.5 261.1h0M172.7 262.9h0M181.1 263.3h0M179.8 261.5h0M171.6 266.0h0M175.7 264.6h0M170.5 266.6h0M177.9 263.0h0M173.4 262.4h0M175.3 263.7h0M163.3 261.7h0M180.4 279.6h0M178.6 272.8h0M178.1 279.1h0M180.2 285.6h0M181.0 272.5h0M180.8 275.5h0M179.5 274.9h0M179.5 282.9h0M177.7 273.2h0M180.3 282.8h0M177.5 280.7h0M183.6 285.9h0M181.0 274.3h0M178.3 285.9h0M178.5 277.4h0M179.2 279.9h0M180.1 285.9h0M181.2 278.8h0M181.1 273.8h0M181.5 275.7h0M185.0 284.2h0M180.1 276.7h0M178.8 278.5h0M179.4 275.6h0M180.5 276.5h0M175.7 285.9h0M179.2 287.0h0M177.9 289.8h0M175.9 286.4h0M174.0 290.8h0M177.2 288.4h0M178.9 286.3h0M181.6 286.5h0M180.4 286.1h0M175.3 289.2h0M177.1 287.9h0M176.9 288.6h0M178.7 289.3h0M174.7 285.8h0M177.3 288.4h0M176.1 291.1h0M178.0 288.4h0M179.8 260.8h0M181.9 261.2h0M179.2 259.6h0M184.7 260.2h0M180.0 259.6h0M184.2 260.0h0M181.7 261.1h0M132.6 308.2h0M137.3 298.4h0M124.7 295.7h0M131.2 313.6h0M119.1 294.9h0M125.1 305.7h0M128.0 292.8h0M129.2 310.2h0M122.2 291.9h0M118.5 295.1h0M135.3 299.3h0M121.5 295.1h0M127.3 303.7h0M133.8 306.8h0M124.6 295.3h0M124.9 295.8h0M139.1 301.5h0M139.0 306.0h0M118.9 293.6h0M126.8 306.4h0M117.3 299.4h0M119.1 296.1h0M126.0 292.6h0M119.7 299.9h0M114.3 294.8h0M118.9 295.1h0M119.2 294.9h0M125.4 294.7h0M128.6 297.7h0M134.4 313.4h0M113.9 295.6h0M139.5 314.6h0M112.5 293.5h0M136.0 310.9h0M122.9 306.9h0M136.9 315.8h0M129.2 295.1h0M129.2 294.0h0M114.2 298.1h0M125.3 294.0h0M142.5 307.3h0M115.9 295.0h0M113.8 294.4h0M140.8 306.4h0M119.8 298.3h0M124.8 306.9h0M137.0 315.3h0M123.3 306.9h0M126.9 292.1h0M138.4 305.3h0M131.6 307.9h0M137.7 300.4h0M125.6 297.5h0M142.3 304.3h0M128.9 309.4h0M142.1 308.6h0M131.1 303.9h0M116.3 290.0h0M118.1 290.2h0M121.7 298.5h0M127.6 306.5h0M125.1 290.4h0M115.7 299.6h0M117.7 288.4h0M130.9 298.7h0M130.3 301.6h0M130.0 293.5h0M128.6 311.8h0M118.4 301.8h0M130.4 298.2h0M123.4 302.1h0M134.3 304.1h0M129.6 301.0h0M136.4 302.8h0M136.4 304.2h0M130.0 293.7h0M120.8 301.1h0M134.4 303.5h0M135.8 303.0h0M130.9 308.7h0M131.2 297.7h0M121.1 302.8h0M122.5 300.7h0M118.9 305.0h0M124.3 293.0h0M123.6 303.3h0M137.0 304.9h0M115.9 290.9h0M114.1 297.3h0M117.5 301.8h0M118.9 293.2h0M137.7 304.4h0M124.4 300.4h0M130.3 293.4h0M132.6 305.0h0M141.0 314.7h0M134.8 301.7h0M142.7 313.9h0M127.3 300.2h0M113.0 294.2h0M136.9 298.4h0M113.7 290.2h0M133.5 304.8h0M133.2 302.1h0M112.2 293.0h0M118.7 298.1h0M143.4 313.1h0M133.8 307.0h0M118.0 302.1h0M141.2 326.3h0M145.2 300.2h0M138.8 316.6h0M146.0 303.9h0M143.4 308.1h0M151.3 323.8h0M140.5 324.8h0M139.1 311.2h0M144.2 304.8h0M141.1 301.2h0M146.4 316.0h0M144.7 299.9h0M137.6 308.3h0M137.7 307.1h0M139.9 308.3h0M141.6 303.8h0M141.7 300.4h0M141.0 304.2h0M136.1 312.3h0M135.2 310.7h0M150.2 313.0h0M142.8 326.6h0M143.2 311.8h0M134.8 324.5h0M137.8 320.4h0M139.5 304.4h0M141.7 316.9h0M132.7 319.3h0M136.6 323.6h0M149.1 321.2h0M147.9 320.7h0M145.3 303.9h0M149.3 323.2h0M144.5 304.6h0M153.9 313.9h0M144.4 325.0h0M149.3 319.6h0M151.5 305.7h0M152.4 307.4h0M149.7 319.3h0M138.4 312.9h0M132.9 313.2h0M147.6 318.1h0M134.3 316.9h0M151.9 305.6h0M146.9 303.3h0M149.0 322.9h0M136.1 305.6h0M146.8 307.5h0M143.0 311.3h0M145.4 319.4h0M138.1 311.4h0M148.2 305.9h0M135.2 316.4h0M141.9 326.8h0M138.6 318.2h0M132.6 314.4h0M138.2 319.8h0M144.0 327.4h0M149.4 310.0h0M143.4 327.8h0M131.5 309.7h0M134.8 324.4h0M141.5 325.4h0M142.5 318.6h0M132.7 311.6h0M142.1 301.0h0M137.9 317.1h0M136.8 318.6h0M135.0 307.5h0M131.3 316.5h0M145.5 327.4h0M145.6 315.5h0M151.2 315.9h0M149.0 313.0h0M151.6 321.8h0M146.3 314.2h0M144.5 322.9h0M152.3 318.3h0M152.6 315.6h0M147.2 307.7h0M149.9 305.6h0M137.9 314.4h0M146.3 319.8h0M136.6 318.6h0M145.1 320.2h0M135.9 320.6h0M135.1 315.2h0M133.6 314.0h0M143.1 316.2h0M150.2 304.9h0M138.7 306.3h0M137.6 323.8h0M138.6 310.7h0M146.9 318.3h0M145.4 316.1h0M138.3 301.0h0M148.1 316.7h0M141.7 309.2h0M131.2 317.1h0M152.9 307.7h0M135.8 322.3h0M134.5 309.5h0M136.5 313.9h0M144.8 325.0h0M144.9 319.0h0M153.4 316.4h0M140.8 315.5h0M139.0 314.4h0M133.4 316.4h0M136.3 320.4h0M138.1 305.3h0M136.9 325.6h0M136.2 320.4h0M145.0 314.3h0M142.4 318.2h0M145.8 310.5h0M134.4 312.6h0M141.7 325.2h0M141.1 316.2h0M140.6 304.1h0M139.1 310.5h0M149.8 316.8h0M152.3 308.8h0M145.6 301.3h0M142.5 326.3h0M145.4 315.8h0M143.0 316.7h0M132.2 309.9h0M140.5 302.0h0M147.6 321.4h0M139.8 328.1h0M147.7 317.8h0M131.7 318.2h0M142.3 301.4h0M143.4 300.0h0M136.3 326.1h0M137.7 307.4h0M144.6 307.3h0M148.6 306.0h0M136.5 317.8h0M137.8 323.5h0M146.4 307.1h0M144.0 308.0h0M140.3 302.8h0M146.2 326.6h0M140.5 317.3h0M146.0 313.1h0M136.4 312.8h0M132.5 316.8h0M134.4 316.6h0M153.5 317.3h0M143.4 323.8h0M142.5 303.3h0M143.1 314.1h0M149.2 319.3h0M148.7 321.5h0M151.1 323.7h0M149.9 309.5h0M141.6 308.4h0M146.9 324.6h0M150.1 308.0h0M145.9 328.1h0M149.1 319.5h0M142.7 314.3h0M146.4 306.0h0M147.0 309.2h0M149.8 309.2h0M139.2 303.4h0M143.8 316.0h0M145.0 323.0h0M149.6 322.7h0M152.7 321.4h0M147.0 304.1h0M112.5 296.7h0M117.1 296.5h0M112.5 297.2h0M115.4 294.6h0M113.3 294.1h0M116.4 292.7h0M117.1 300.5h0M117.2 298.5h0M117.0 294.7h0M112.1 291.9h0M113.0 299.0h0M115.8 297.7h0M115.7 296.6h0M115.5 293.3h0M114.8 293.1h0M116.9 298.4h0M116.9 293.9h0M115.2 292.4h0M118.8 293.5h0M111.4 294.4h0M115.7 296.8h0M118.7 295.0h0M114.8 307.8h0M113.8 311.1h0M113.6 309.4h0M112.3 304.1h0M114.1 311.7h0M113.9 311.4h0M112.6 302.9h0M113.2 310.0h0M113.0 305.3h0M113.5 310.0h0M113.1 306.4h0M112.7 304.4h0M113.8 311.6h0M114.1 311.2h0M113.1 309.8h0M215.7 271.3h0M217.2 270.8h0M222.1 271.7h0M221.5 271.1h0M218.1 271.8h0M221.3 271.9h0M223.0 272.6h0M221.6 271.9h0M215.9 271.3h0M220.9 271.7h0M218.5 272.0h0M218.6 271.7h0M216.7 271.6h0M216.7 271.4h0M223.4 272.7h0M218.9 272.2h0M216.6 270.9h0M219.0 271.6h0M219.9 271.3h0M215.6 271.8h0M220.6 273.0h0M220.5 272.3h0M215.7 272.3h0M216.9 271.8h0M217.3 272.4h0M216.0 274.4h0M216.5 274.1h0M215.1 272.6h0M216.1 272.3h0M215.2 271.8h0M216.2 273.6h0M215.1 274.9h0M207.6 245.8h0M208.0 244.9h0M206.4 242.7h0M207.2 244.0h0M206.8 243.7h0M206.7 243.4h0M205.9 243.7h0M206.5 243.9h0M205.8 242.3h0M207.5 245.7h0M205.6 242.8h0M205.7 240.9h0M211.1 251.4h0M209.5 249.6h0M210.6 251.0h0M210.4 251.8h0M211.5 253.2h0M210.1 250.1h0M209.1 249.8h0" stroke="#F8766D" stroke-width="0.48" stroke-linecap="round" fill="none" opacity="1.00"/>
<path d="M267.6 234.7h0M279.2 305.4h0M276.8 276.4h0M273.5 295.5h0M276.1 337.1h0M271.5 341.9h0M267.4 249.6h0M277.7 268.1h0M263.9 265.5h0M245.7 280.8h0M279.8 346.2h0M253.4 297.6h0M264.2 242.2h0M258.0 323.9h0M280.6 208.3h0M272.9 301.0h0M256.6 255.7h0M276.2 241.5h0M261.6 213.8h0M287.0 333.9h0M271.8 259.6h0M248.4 294.0h0M280.2 330.7h0M274.1 318.6h0M253.3 264.1h0M287.6 331.1h0M265.7 258.0h0M283.7 336.3h0M260.0 249.9h0M267.6 237.4h0M266.2 331.9h0M274.4 254.8h0M268.5 294.2h0M264.0 213.2h0M274.0 202.2h0M264.0 213.0h0M284.9 333.3h0M277.4 214.0h0M276.5 279.9h0M254.9 311.0h0M263.6 220.1h0M255.0 319.7h0M258.5 261.0h0M270.6 208.5h0M274.7 225.8h0M250.9 280.6h0M279.2 266.6h0M267.6 268.4h0M274.2 321.2h0M269.4 254.7h0M278.8 275.4h0M273.5 287.8h0M279.1 283.8h0M283.3 303.9h0M270.5 282.2h0M274.4 235.5h0M276.7 284.2h0M267.4 255.4h0M279.6 256.4h0M271.2 321.5h0M278.6 312.3h0M288.0 330.5h0M281.0 323.3h0M271.2 250.8h0M276.3 235.2h0M285.8 333.6h0M279.6 211.9h0M263.3 223.1h0M258.2 314.0h0M275.8 210.2h0M271.5 228.8h0M282.8 338.1h0M285.6 324.9h0M281.7 339.8h0M269.9 253.9h0M267.2 268.4h0M272.9 228.5h0M252.5 290.5h0M279.4 334.7h0M268.1 344.1h0M264.2 212.9h0M265.0 274.8h0M261.3 331.3h0M285.3 312.5h0M257.8 312.9h0M287.7 336.9h0M274.0 340.7h0M279.8 209.3h0M283.4 316.3h0M264.6 322.8h0M276.9 290.3h0M262.8 320.5h0M271.1 208.6h0M266.0 300.9h0M266.1 244.8h0M274.9 300.6h0M278.5 340.8h0M265.2 324.3h0M274.1 290.5h0M249.1 303.4h0M279.3 332.1h0M276.0 264.6h0M269.8 246.3h0M261.9 270.1h0M278.9 212.2h0M277.3 294.0h0M276.0 230.1h0M275.7 320.8h0M280.9 330.6h0M267.9 251.3h0M259.9 250.1h0M279.5 346.4h0M282.6 326.6h0M276.4 287.4h0M265.4 339.7h0M284.2 301.6h0M281.2 338.4h0M252.6 306.3h0M274.3 235.6h0M276.7 220.7h0M257.3 311.0h0M260.0 252.8h0M272.1 342.8h0M265.3 206.6h0M272.0 279.0h0M259.6 326.7h0M276.3 297.1h0M280.8 208.9h0M255.2 296.3h0M280.1 343.8h0M279.1 271.0h0M271.4 281.9h0M271.5 289.0h0M273.5 215.8h0M271.6 311.2h0M253.7 294.0h0M270.7 249.4h0M265.1 266.6h0M262.0 293.0h0M273.2 296.6h0M272.0 232.5h0M266.9 239.1h0M275.0 273.4h0M275.2 297.9h0M285.3 300.6h0M260.2 254.0h0M252.4 300.2h0M271.8 270.6h0M269.7 231.4h0M271.2 335.4h0M266.6 246.2h0M278.6 345.8h0M262.5 261.8h0M260.6 330.2h0M277.2 340.8h0M277.5 283.2h0M266.7 338.7h0M286.0 320.8h0M276.7 335.3h0M282.2 310.8h0M282.0 311.3h0M288.5 326.2h0M261.1 310.3h0M274.2 303.5h0M277.7 267.1h0M273.1 290.0h0M259.0 258.1h0M276.7 274.0h0M270.4 312.7h0M271.6 234.7h0M271.4 345.4h0M277.0 273.3h0M269.7 345.0h0M273.3 204.6h0M271.6 210.8h0M263.6 249.7h0M270.0 347.2h0M253.2 316.7h0M271.8 276.1h0M269.0 282.7h0M266.9 233.6h0M255.0 304.0h0M271.1 223.2h0M279.4 340.5h0M285.4 335.3h0M270.8 302.1h0M265.0 209.7h0M270.9 251.3h0M277.8 318.1h0M272.3 225.9h0M266.6 247.0h0M263.5 307.1h0M276.3 209.4h0M277.3 309.1h0M277.3 234.3h0M282.9 301.0h0M276.3 271.2h0M274.0 297.6h0M264.7 334.5h0M268.9 261.5h0M287.0 310.8h0M271.5 213.7h0M268.5 260.6h0M274.4 306.4h0M283.2 305.4h0M284.3 305.0h0M285.5 329.0h0M272.7 295.8h0M275.8 261.2h0M268.0 226.4h0M287.0 332.5h0M273.5 300.4h0M276.3 261.8h0M272.0 249.8h0M275.4 339.4h0M277.1 303.9h0M252.4 295.3h0M271.2 253.3h0M281.3 331.9h0M264.9 284.3h0M274.5 294.8h0M270.8 246.6h0M276.6 241.1h0M264.0 329.4h0M255.0 296.5h0M280.1 213.3h0M259.2 270.5h0M276.3 323.2h0M261.5 260.6h0M276.8 317.1h0M271.1 261.7h0M286.3 335.0h0M272.3 230.0h0M287.2 317.7h0M265.0 227.9h0M280.5 340.9h0M272.5 344.3h0M262.2 330.4h0M285.0 306.6h0M269.5 321.6h0M265.4 210.6h0M267.6 216.3h0M271.4 219.9h0M281.0 317.6h0M269.8 234.0h0M260.8 332.7h0M274.8 230.2h0M281.6 293.9h0M258.0 279.1h0M275.5 313.2h0M274.1 288.1h0M271.1 346.1h0M256.6 312.4h0M283.3 314.3h0M275.3 347.7h0M257.9 311.8h0M284.2 313.9h0M276.1 303.7h0M269.4 267.0h0M274.5 274.0h0M263.3 216.2h0M266.4 252.4h0M257.6 322.0h0M269.3 208.1h0M281.0 323.1h0M251.1 291.4h0M270.2 343.2h0M278.8 347.9h0M280.1 317.5h0M249.5 268.7h0M274.8 206.8h0M270.2 295.4h0M263.5 218.9h0M287.6 328.1h0M266.8 330.6h0M270.8 273.1h0M263.4 245.3h0M281.8 338.6h0M270.3 271.4h0M271.7 210.7h0M264.2 336.2h0M248.7 305.3h0M262.8 256.6h0M272.8 266.7h0M266.5 242.1h0M280.7 335.5h0M268.6 342.2h0M264.4 228.8h0M283.7 289.5h0M273.9 338.6h0M278.9 208.2h0M277.5 291.4h0M277.3 311.8h0M271.1 222.1h0M273.9 287.3h0M257.4 267.0h0M277.9 320.9h0M261.5 255.9h0M269.4 219.3h0M262.7 269.0h0M280.7 290.2h0M275.8 268.1h0M277.4 336.0h0M280.1 279.4h0M274.9 302.8h0M255.0 263.4h0M251.5 277.5h0M278.3 207.3h0M273.6 286.8h0M264.3 245.8h0M276.2 337.5h0M285.4 334.4h0M282.9 316.7h0M278.8 205.3h0M273.6 312.9h0M249.8 277.3h0M271.4 349.8h0M248.2 269.7h0M272.9 311.0h0M276.7 342.1h0M280.1 345.6h0M272.6 343.9h0M275.2 338.2h0M270.3 257.9h0M278.2 319.9h0M261.1 317.0h0M255.6 314.3h0M287.2 322.0h0M276.3 219.2h0M274.3 319.2h0M270.9 324.1h0M261.7 326.6h0M277.3 226.5h0M285.7 305.7h0M275.5 299.0h0M268.5 331.0h0M270.2 227.0h0M279.9 318.1h0M263.3 330.6h0M280.3 257.1h0M276.0 220.2h0M285.8 336.1h0M273.0 346.9h0M272.1 218.0h0M258.4 329.0h0M273.6 320.6h0M274.2 291.5h0M275.8 214.2h0M281.8 324.7h0M271.3 235.4h0M289.2 334.8h0M280.4 223.8h0M262.0 252.4h0M279.6 209.8h0M283.9 301.5h0M270.8 311.3h0M276.6 310.1h0M272.2 293.4h0M282.6 309.0h0M281.2 262.7h0M288.9 332.0h0M271.7 341.3h0M277.8 260.3h0M260.7 328.0h0M276.2 296.7h0M281.1 264.5h0M273.0 282.4h0M269.6 274.1h0M277.8 210.6h0M288.0 338.4h0M281.3 333.3h0M288.5 334.4h0M274.8 337.3h0M276.4 306.5h0M271.0 349.7h0M276.7 279.5h0M253.5 311.3h0M268.0 208.6h0M274.7 297.2h0M272.9 312.6h0M269.7 266.2h0M259.8 328.8h0M263.4 332.9h0M281.7 323.5h0M267.3 341.0h0M281.2 336.6h0M259.7 262.1h0M266.3 340.0h0M280.2 342.6h0M287.0 330.1h0M260.6 267.9h0M281.5 311.1h0M254.2 258.8h0M256.7 304.1h0M255.6 292.9h0M282.4 321.7h0M255.8 271.3h0M255.3 313.5h0M277.3 296.3h0M277.6 204.6h0M284.8 320.6h0M254.6 261.6h0M253.8 321.0h0M279.8 263.2h0M281.6 333.7h0M257.1 315.5h0M282.1 319.0h0M268.4 240.8h0M268.4 231.2h0M262.0 324.5h0M260.3 251.3h0M273.4 310.6h0M271.4 281.4h0M274.1 301.5h0M285.4 317.6h0M279.5 271.9h0M271.4 225.3h0M270.0 232.0h0M268.3 262.7h0M270.0 241.1h0M250.2 292.5h0M271.0 219.9h0M281.8 216.9h0M250.8 279.9h0M280.6 308.4h0M248.5 276.7h0M278.4 315.6h0M278.9 216.7h0M278.6 289.9h0M268.9 246.5h0M271.2 225.7h0M263.2 329.3h0M285.7 330.8h0M262.9 214.0h0M267.0 228.8h0M274.1 252.7h0M283.3 338.9h0M272.3 220.3h0M283.3 302.3h0M276.6 286.5h0M272.1 307.0h0M275.3 347.9h0M249.9 304.3h0M268.8 211.9h0M257.8 263.5h0M283.6 294.0h0M268.0 207.4h0M276.6 305.0h0M281.4 343.3h0M271.7 340.4h0M258.0 322.6h0M254.2 312.2h0M267.4 204.8h0M278.3 271.3h0M279.7 303.8h0M264.6 307.1h0M276.2 298.0h0M262.3 211.7h0M279.8 291.2h0M275.4 347.8h0M275.9 220.2h0M271.4 221.8h0M278.2 208.9h0M279.8 337.3h0M270.4 346.9h0M259.0 305.1h0M271.6 347.3h0M255.0 289.8h0M263.0 290.1h0M275.6 229.5h0M247.3 286.8h0M268.6 205.5h0M269.8 290.5h0M286.6 329.6h0M287.8 330.5h0M276.4 215.0h0M277.9 306.0h0M277.2 245.1h0M282.9 312.8h0M281.2 264.5h0M265.7 337.0h0M283.7 338.9h0M280.9 211.9h0M259.8 309.9h0M273.1 299.6h0M272.3 250.1h0M266.4 299.8h0M271.6 241.4h0M264.8 251.7h0M265.5 210.2h0M281.0 331.0h0M255.8 265.2h0M257.3 307.7h0M275.9 292.4h0M262.5 279.4h0M275.4 259.1h0M262.0 330.6h0M272.4 261.0h0M272.6 330.8h0M252.4 278.1h0M286.4 333.3h0M284.3 334.1h0M268.9 289.4h0M249.9 299.1h0M270.7 344.3h0M278.2 215.4h0M285.0 338.0h0M267.7 336.9h0M278.4 312.1h0M270.2 271.8h0M276.5 326.7h0M268.7 320.6h0M287.1 309.2h0M267.0 340.9h0M272.5 339.9h0M279.5 261.2h0M286.5 336.6h0M286.8 335.5h0M262.6 253.9h0M278.2 302.1h0M276.8 307.3h0M255.2 290.7h0M264.5 226.2h0M250.5 285.5h0M276.1 312.3h0M266.0 270.1h0M256.0 290.5h0M264.7 329.9h0M268.3 250.5h0M276.6 273.7h0M269.9 226.9h0M265.2 239.0h0M258.5 329.1h0M272.0 259.1h0M281.8 310.1h0M274.5 207.5h0M276.1 280.2h0M253.5 278.0h0M276.2 331.5h0M269.7 300.0h0M257.7 260.3h0M271.1 282.7h0M268.7 207.1h0M284.8 311.1h0M287.3 333.3h0M256.7 327.6h0M271.3 322.3h0M282.8 333.6h0M273.1 293.8h0M280.3 210.2h0M268.4 243.2h0M274.9 284.2h0M264.5 290.5h0M252.1 280.0h0M286.6 328.5h0M261.0 252.0h0M267.5 334.1h0M259.9 270.5h0M267.3 242.8h0M264.4 252.1h0M267.6 275.7h0M271.0 273.7h0M256.2 323.0h0M274.5 247.8h0M271.2 256.1h0M273.7 282.5h0M265.9 241.0h0M275.5 276.2h0M277.7 314.3h0M272.6 304.3h0M282.1 326.2h0M280.2 304.3h0M280.0 261.3h0M267.5 245.0h0M282.6 292.8h0M272.3 297.5h0M275.4 300.4h0M269.0 252.8h0M278.4 331.4h0M274.5 267.5h0M268.9 296.9h0M283.3 308.7h0M263.1 329.8h0M253.8 302.7h0M281.1 209.2h0M277.5 284.4h0M247.7 278.8h0M277.4 211.6h0M279.2 314.3h0M254.0 317.2h0M275.4 252.8h0M264.0 215.9h0M272.5 306.6h0M271.1 339.0h0M275.4 335.9h0M255.4 320.5h0M272.0 213.5h0M270.7 290.4h0M271.5 335.6h0M283.1 309.7h0M254.9 265.1h0M268.8 293.3h0M270.2 261.7h0M274.7 206.7h0M263.6 262.8h0M279.1 297.0h0M264.2 246.0h0M279.5 331.2h0M281.2 305.1h0M286.7 336.8h0M271.5 338.9h0M263.4 332.8h0M255.9 314.2h0M276.8 222.4h0M282.4 291.7h0M273.1 235.8h0M277.7 335.5h0M270.5 292.3h0M275.3 276.7h0M261.4 261.2h0M274.1 301.0h0M261.8 318.1h0M273.9 344.2h0M266.3 208.4h0M251.0 266.5h0M260.9 294.5h0M268.7 246.2h0M278.6 289.8h0M271.9 239.3h0M275.8 274.9h0M273.2 253.0h0M280.8 320.6h0M278.4 310.9h0M262.5 267.2h0M267.6 266.6h0M283.0 296.1h0M279.1 262.2h0M266.5 275.1h0M280.7 265.9h0M282.5 311.3h0M255.2 297.9h0M284.9 320.4h0M276.8 210.1h0M277.8 289.9h0M274.6 222.5h0M282.1 287.0h0M286.6 337.1h0M288.8 328.6h0M268.5 247.2h0M285.9 312.4h0M273.1 334.4h0M280.0 321.5h0M252.9 269.4h0M282.1 292.8h0M266.6 206.6h0M254.4 262.1h0M253.6 270.7h0M267.1 307.7h0M260.9 255.7h0M270.8 345.8h0M275.9 336.2h0M279.8 266.4h0M276.1 306.0h0M273.9 301.6h0M284.3 305.8h0M258.3 325.6h0M276.4 275.2h0M273.1 209.7h0M264.8 250.2h0M264.5 250.3h0M277.5 322.4h0M279.7 344.6h0M255.0 319.6h0M278.3 338.6h0M279.8 303.4h0M274.6 300.4h0M273.3 305.5h0M265.8 343.5h0M268.5 271.5h0M254.2 274.2h0M286.7 337.2h0M275.4 317.7h0M265.9 335.3h0M256.4 302.7h0M265.9 333.7h0M285.9 305.6h0M253.5 265.5h0M263.3 310.6h0M281.5 336.2h0M273.7 318.5h0M284.5 334.6h0M285.2 314.9h0M276.9 345.5h0M280.0 316.1h0M265.1 245.1h0M274.8 252.0h0M277.6 313.4h0M270.4 296.7h0M267.9 210.7h0M273.4 206.3h0M283.1 329.1h0M279.2 280.7h0M260.3 329.6h0M273.0 247.2h0M267.1 234.9h0M268.6 206.6h0M282.3 334.1h0M277.5 277.6h0M275.1 209.7h0M280.7 315.5h0M273.9 337.3h0M284.4 310.6h0M273.8 343.4h0M274.5 235.0h0M247.7 277.7h0M266.8 342.4h0M252.5 264.8h0M262.7 280.1h0M276.1 239.1h0M275.7 238.4h0M267.1 342.2h0M274.6 251.1h0M274.0 241.8h0M267.6 341.1h0M287.3 310.8h0M278.7 333.4h0M251.5 271.3h0M265.2 270.0h0M272.9 260.1h0M254.8 315.0h0M269.3 288.7h0M268.6 283.2h0M284.1 329.3h0M269.2 254.4h0M260.5 269.1h0M269.5 331.0h0M255.9 310.0h0M276.9 338.4h0M272.7 306.1h0M277.3 226.7h0M253.4 293.3h0M251.1 308.8h0M275.4 238.5h0M269.3 277.5h0M276.4 227.4h0M282.0 297.6h0M277.7 282.6h0M265.6 330.4h0M278.4 207.2h0M270.3 344.4h0M266.2 266.6h0M278.2 348.5h0M268.7 299.3h0M271.0 282.5h0M267.5 304.0h0M273.9 323.5h0M274.4 218.7h0M270.8 337.0h0M266.5 233.8h0M246.7 290.9h0M279.6 263.8h0M267.8 205.1h0M274.2 296.9h0M266.9 226.2h0M266.1 233.9h0M282.6 281.0h0M275.8 248.6h0M266.1 244.1h0M269.7 315.6h0M261.7 246.1h0M276.7 223.8h0M271.4 335.8h0M277.9 254.8h0M279.5 286.7h0M268.1 226.1h0M272.4 214.1h0M267.1 204.0h0M277.3 301.9h0M280.9 307.4h0M253.8 298.9h0M253.6 270.6h0M260.8 278.9h0M278.7 251.9h0M273.9 271.9h0M271.1 296.7h0M282.0 335.0h0M280.0 338.8h0M271.5 306.8h0M281.1 264.7h0M249.1 271.5h0M258.0 326.5h0M276.7 342.5h0M279.9 208.4h0M283.2 292.1h0M271.3 256.6h0M288.1 318.9h0M287.4 331.0h0M269.2 218.0h0M283.3 339.8h0M266.1 334.6h0M261.4 274.6h0M263.0 304.3h0M254.8 292.3h0M264.1 328.8h0M280.8 260.6h0M280.1 337.6h0M268.1 242.3h0M263.4 253.6h0M270.9 343.7h0M281.2 334.1h0M275.7 348.5h0M264.0 224.5h0M262.2 218.5h0M275.9 287.8h0M286.2 312.6h0M269.4 256.5h0M266.9 242.9h0M278.2 206.6h0M286.1 331.1h0M281.6 263.5h0M261.5 299.3h0M263.1 247.1h0M276.2 335.2h0M274.8 215.6h0M274.9 288.9h0M270.8 221.1h0M260.1 270.3h0M279.9 213.5h0M284.3 329.4h0M270.2 263.0h0M285.9 315.7h0M282.1 260.8h0M273.9 291.7h0M281.8 299.4h0M269.5 329.8h0M261.2 248.3h0M272.8 220.6h0M256.3 314.2h0M272.7 216.0h0M257.0 300.2h0M275.7 230.9h0M276.3 331.3h0M274.8 274.3h0M277.9 247.3h0M277.1 252.4h0M270.1 215.8h0M252.5 265.9h0M252.4 291.1h0M275.3 308.4h0M260.9 308.4h0M265.2 265.6h0M265.1 213.5h0M273.1 300.3h0M247.5 271.5h0M272.9 221.2h0M248.0 270.3h0M273.3 209.9h0M252.9 310.0h0M268.0 336.7h0M254.2 281.8h0M266.8 341.0h0M269.0 251.8h0M280.3 264.1h0M265.0 339.2h0M269.7 277.3h0M278.3 284.5h0M275.1 237.8h0M279.9 311.7h0M274.2 229.6h0M250.1 281.7h0M271.9 299.2h0M267.3 279.3h0M277.9 210.2h0M272.8 255.1h0M272.8 297.8h0M251.8 288.9h0M266.9 211.6h0M264.8 270.4h0M265.0 217.4h0M276.6 251.1h0M256.6 270.3h0M265.9 337.8h0M276.7 308.8h0M288.8 329.8h0M277.6 303.9h0M246.7 279.1h0M261.3 211.8h0M250.2 271.9h0M251.5 279.3h0M269.8 292.3h0M282.7 290.9h0M290.1 332.0h0M253.4 266.1h0M274.5 265.3h0M271.5 244.5h0M250.3 273.1h0M264.7 218.4h0M275.2 234.1h0M270.4 219.5h0M256.4 274.0h0M280.6 331.4h0M272.2 204.9h0M274.8 308.8h0M268.3 209.8h0M259.9 294.9h0M253.8 316.1h0M251.0 304.3h0M269.4 211.7h0M277.8 251.9h0M283.7 327.3h0M279.2 311.3h0M276.4 296.5h0M267.4 223.1h0M273.5 290.3h0M276.4 299.4h0M273.1 283.4h0M273.5 226.3h0M259.3 273.5h0M265.5 330.5h0M266.9 240.2h0M271.1 230.2h0M279.0 304.0h0M262.2 244.3h0M280.9 310.2h0M271.3 303.5h0M270.1 264.0h0M285.6 295.0h0M269.3 342.0h0M267.5 283.4h0M274.6 243.6h0M274.8 209.3h0M275.9 222.7h0M268.8 236.2h0M266.8 229.0h0M283.2 333.9h0M285.7 321.2h0M275.3 286.6h0M273.1 296.5h0M275.5 316.4h0M250.1 285.7h0M276.4 248.2h0M267.0 338.0h0M258.6 317.5h0M280.6 336.6h0M265.1 256.9h0M273.8 279.6h0M280.0 315.3h0M263.3 248.7h0M263.0 272.7h0M276.0 220.3h0M267.1 237.8h0M285.1 315.8h0M283.8 318.1h0M286.3 326.9h0M273.8 275.3h0M275.4 337.0h0M273.0 216.6h0M271.9 221.0h0M285.8 316.5h0M267.6 302.8h0M273.3 220.8h0M257.0 254.5h0M267.7 221.2h0M277.7 345.6h0M253.8 305.8h0M276.4 212.4h0M260.0 252.7h0M281.9 215.6h0M273.8 343.9h0M280.1 274.3h0M285.3 299.6h0M277.8 209.7h0M281.8 341.8h0M288.1 320.1h0M281.1 332.2h0M266.1 276.9h0M275.9 209.5h0M263.9 244.7h0M287.3 330.9h0M274.3 292.3h0M268.0 223.0h0M273.3 332.5h0M284.0 323.7h0M266.8 226.6h0M264.4 215.6h0M254.7 302.3h0M263.9 258.1h0M271.2 260.8h0M287.2 334.1h0M267.7 208.9h0M279.0 247.3h0M279.8 307.2h0M281.5 338.8h0M264.9 215.4h0M248.0 306.5h0M281.5 332.3h0M253.0 274.1h0M277.2 306.5h0M257.2 320.1h0M283.6 325.3h0M281.8 297.2h0M274.8 337.5h0M276.9 312.9h0M282.2 328.1h0M267.5 273.4h0M271.1 253.2h0M268.5 206.9h0M274.7 311.3h0M268.8 254.6h0M284.1 336.0h0M258.8 280.2h0M283.8 341.1h0M287.0 312.0h0M288.0 323.1h0M259.2 294.7h0M255.5 296.1h0M269.3 280.7h0M277.2 338.8h0M251.5 264.8h0M267.6 300.2h0M268.4 297.5h0M269.2 288.1h0M269.0 338.5h0M282.1 290.0h0M268.6 209.6h0M272.9 350.1h0M260.7 322.4h0M276.8 254.8h0M271.4 263.7h0M271.1 256.0h0M277.1 226.5h0M274.4 317.2h0M270.6 281.5h0M273.9 241.7h0M279.4 222.4h0M248.3 273.5h0M272.5 298.6h0M274.4 241.6h0M270.4 346.6h0M270.3 283.0h0M259.2 320.3h0M275.7 302.1h0M275.8 222.6h0M257.5 292.0h0M267.8 285.2h0M262.5 256.3h0M277.6 344.7h0M261.0 255.9h0M269.4 266.1h0M257.2 260.9h0M288.4 329.5h0M266.1 263.0h0M258.9 307.9h0M287.9 313.2h0M271.2 220.9h0M256.0 291.0h0M262.5 311.1h0M280.6 217.7h0M274.7 271.2h0M252.5 268.0h0M268.9 323.2h0M253.2 283.9h0M279.6 337.4h0M258.6 292.2h0M278.8 285.3h0M276.2 279.2h0M269.4 277.7h0M283.6 329.3h0M273.4 205.5h0M251.7 293.6h0M271.7 220.9h0M247.0 273.1h0M283.2 340.7h0M277.8 252.4h0M269.7 274.9h0M281.6 211.5h0M259.3 320.9h0M280.0 337.6h0M275.3 230.7h0M280.4 339.0h0M280.5 302.0h0M270.5 248.0h0M276.4 338.4h0M279.5 329.7h0M259.9 251.8h0M253.6 288.4h0M270.8 268.7h0M276.6 334.7h0M269.3 234.4h0M283.5 289.9h0M280.4 271.2h0M278.5 250.5h0M272.4 213.0h0M260.4 270.2h0M286.8 335.3h0M273.5 247.2h0M276.3 317.0h0M274.0 341.5h0M261.7 312.6h0M263.1 246.4h0M263.3 218.2h0M267.0 279.1h0M269.6 346.5h0M253.2 290.8h0M268.8 224.9h0M261.9 215.6h0M261.2 246.7h0M283.0 320.6h0M253.9 280.4h0M265.0 334.3h0M271.5 278.9h0M269.1 265.1h0M277.7 265.8h0M263.0 313.8h0M271.8 223.4h0M278.4 334.6h0M274.0 281.8h0M280.8 270.9h0M263.9 210.4h0M288.0 321.9h0M269.9 259.0h0M272.2 233.7h0M255.9 272.8h0M258.1 323.4h0M272.8 290.9h0M251.8 311.9h0M274.4 258.5h0M264.9 246.6h0M270.7 221.6h0M272.4 249.7h0M273.4 248.6h0M277.7 217.4h0M266.8 212.1h0M278.1 283.2h0M269.0 269.8h0M286.0 337.6h0M261.7 332.8h0M253.9 312.7h0M276.8 301.2h0M249.8 284.3h0M271.0 224.2h0M281.8 330.8h0M272.3 345.5h0M269.7 283.8h0M280.2 342.3h0M268.5 237.7h0M284.1 296.6h0M286.9 305.2h0M281.8 312.7h0M256.6 321.0h0M270.0 333.5h0M275.8 237.4h0M281.4 312.4h0M258.8 260.4h0M276.1 281.7h0M280.3 216.2h0M269.0 255.9h0M277.1 230.1h0M262.7 307.5h0M258.0 303.3h0M285.8 327.4h0M275.0 272.3h0M264.5 323.4h0M267.5 214.1h0M277.5 248.7h0M267.4 244.3h0M276.5 297.8h0M255.9 306.8h0M257.5 307.6h0M278.2 317.2h0M285.5 316.5h0M289.5 332.4h0M267.4 226.2h0M286.6 325.0h0M278.6 266.6h0M267.5 276.7h0M261.0 327.5h0M275.7 294.1h0M268.7 277.7h0M314.8 245.3h0M334.9 249.4h0M312.1 244.2h0M324.1 252.4h0M329.7 247.1h0M311.9 246.3h0M325.6 249.6h0M329.5 249.2h0M302.8 245.8h0M323.9 243.1h0M322.4 248.3h0M307.3 248.5h0M320.0 243.1h0M334.8 248.5h0M326.6 252.2h0M313.6 249.5h0M304.9 245.9h0M323.4 251.1h0M327.9 247.9h0M327.8 246.9h0M328.6 248.4h0M325.5 243.5h0M338.8 248.5h0M313.9 249.9h0M304.6 246.3h0M314.4 246.6h0M304.3 247.5h0M313.1 248.3h0M338.0 247.5h0M323.0 248.3h0M306.2 246.3h0M331.8 252.0h0M334.4 251.4h0M336.5 246.8h0M303.8 245.6h0M333.7 250.3h0M334.2 248.1h0M308.5 245.8h0M331.5 245.4h0M317.7 248.8h0M317.9 251.6h0M332.8 245.9h0M327.5 246.7h0M310.0 245.9h0M336.9 250.4h0M311.8 244.4h0M338.1 250.8h0M315.5 242.6h0M322.1 248.6h0M321.1 248.5h0M319.4 248.3h0M324.5 246.5h0M324.8 248.5h0M315.3 245.9h0M317.3 246.0h0M318.5 247.5h0M318.0 248.2h0M313.3 243.1h0M319.7 246.4h0M326.0 243.8h0M321.1 245.8h0M312.9 245.7h0M322.2 246.0h0M317.5 246.0h0M323.3 244.4h0M314.1 246.2h0M316.0 247.7h0M323.6 246.1h0M318.1 247.0h0M315.2 246.4h0M324.8 244.0h0M319.4 245.0h0M326.9 245.6h0M315.0 244.5h0M314.5 243.5h0M326.0 245.8h0M327.4 245.8h0M320.7 247.1h0M318.6 246.6h0M327.6 247.3h0M228.0 274.0h0M226.6 273.8h0M228.2 274.4h0M223.9 273.2h0M229.5 274.8h0M228.3 274.5h0M228.2 274.0h0M229.9 274.4h0M236.7 276.7h0M235.7 276.5h0M224.8 273.6h0M225.1 272.7h0M232.1 275.3h0M224.6 273.2h0M236.2 276.7h0M228.6 274.3h0M238.7 277.4h0M229.1 274.4h0M232.2 275.0h0M223.5 272.5h0M225.8 273.5h0M226.8 273.4h0M237.7 277.6h0M238.5 277.6h0M233.8 275.6h0M233.9 275.4h0M182.6 279.4h0M183.9 272.2h0M181.5 274.0h0M183.1 275.2h0M181.0 274.4h0M182.0 265.4h0M181.7 272.7h0M183.0 279.0h0M182.8 278.2h0M183.8 270.8h0M183.5 281.1h0M181.9 277.7h0M180.9 269.5h0M181.7 278.0h0M181.8 267.1h0M182.0 266.0h0M152.5 280.6h0M130.5 289.8h0M145.2 274.4h0M163.0 290.8h0M156.3 303.5h0M148.9 296.5h0M152.6 295.2h0M147.5 276.3h0" stroke="#00BFC4" stroke-width="0.48" stroke-linecap="round" fill="none" opacity="1.00"/>
<path d="M132.1 304.7C132.5 304.9 133.5 305.8 134.3 306.0C135.2 306.2 136.3 306.1 137.2 305.7C138.2 305.3 139.1 303.7 140.1 303.5C141.2 303.3 142.7 303.7 143.8 304.2C144.9 304.7 146.0 306.3 146.7 306.4C147.4 306.5 147.8 306.2 148.2 305.0C148.6 303.7 148.8 300.9 149.1 299.1C149.3 297.3 149.5 295.1 149.6 294.3M145.0 287.7C145.3 288.2 145.9 289.3 146.7 290.4C147.5 291.5 149.1 293.6 149.6 294.3M149.6 294.3C151.8 294.0 158.4 293.3 162.8 292.6C167.2 291.8 173.6 290.6 175.9 289.6C178.3 288.7 176.2 287.8 176.9 286.7C177.7 285.6 179.8 284.5 180.3 283.1C180.8 281.7 180.6 279.7 180.0 278.2C179.4 276.8 177.3 275.9 176.9 274.6C176.5 273.3 177.9 271.9 177.5 270.7C177.1 269.4 174.9 268.3 174.6 267.0C174.3 265.7 173.7 263.7 175.9 262.8C178.1 261.8 183.6 261.8 187.6 261.2C191.6 260.6 196.8 259.4 200.0 259.1C203.2 258.8 204.8 258.6 206.6 259.4C208.3 260.1 209.2 262.0 210.5 263.8C211.8 265.7 212.5 268.9 214.5 270.4C216.4 271.9 219.5 272.1 222.3 273.0C225.2 273.9 227.6 274.9 231.5 275.6C235.5 276.4 243.1 276.7 246.0 277.5C248.8 278.2 246.9 279.9 248.6 280.1C250.4 280.3 253.7 279.1 256.5 278.5C259.2 277.9 263.7 276.8 265.2 276.4M275.3 204.9C274.5 204.7 272.3 203.4 270.9 203.9C269.4 204.3 267.6 206.2 266.5 207.5C265.4 208.9 264.4 210.8 264.3 211.9C264.2 213.0 264.7 214.0 265.8 214.1C266.9 214.2 269.7 212.5 270.9 212.6C272.0 212.7 272.4 213.8 272.6 214.8C272.8 215.8 272.2 217.4 272.0 218.5C271.9 219.6 272.2 220.3 271.6 221.4C271.0 222.5 269.1 223.9 268.7 225.0C268.3 226.1 268.8 227.1 269.4 228.0C270.1 228.8 272.1 229.2 272.6 230.1C273.1 231.1 273.0 232.8 272.3 233.8C271.7 234.8 269.2 235.0 268.7 236.0C268.2 237.0 268.5 238.7 269.1 239.6C269.7 240.6 271.7 240.6 272.3 241.8C272.9 243.0 272.7 246.1 272.8 246.9M272.8 246.9C273.2 247.9 273.6 250.9 275.3 252.8C276.9 254.6 279.1 257.9 282.6 258.2C286.0 258.4 291.6 255.5 295.7 254.2C299.8 253.0 305.0 251.4 307.4 250.6C309.8 249.8 308.8 250.3 310.0 249.6C311.2 248.8 313.2 246.9 314.7 246.2C316.2 245.5 318.3 245.6 319.1 245.5M272.8 246.9C272.3 246.7 271.1 245.6 270.1 245.5C269.2 245.4 268.0 245.5 267.2 246.2C266.5 246.9 266.0 248.3 265.8 249.9C265.5 251.4 266.1 253.7 265.8 255.7C265.4 257.6 263.1 259.5 263.6 261.5C264.1 263.6 268.0 266.2 268.7 268.1C269.4 270.0 268.3 271.3 267.7 273.2C267.1 275.1 265.4 277.5 265.0 279.3C264.7 281.2 264.9 283.0 265.8 284.2C266.6 285.3 268.8 285.3 270.1 286.1C271.5 286.9 272.9 287.8 273.8 289.0C274.6 290.2 275.4 291.8 275.3 293.4C275.1 294.9 273.3 296.9 273.1 298.5C272.8 300.0 272.8 301.5 273.8 302.8C274.8 304.2 277.7 305.3 278.9 306.5C280.1 307.7 280.9 308.9 281.1 310.1C281.3 311.4 280.0 312.6 280.4 313.8C280.7 315.0 282.9 316.0 283.3 317.4C283.6 318.9 282.3 321.1 282.6 322.6C282.8 324.0 284.7 324.9 284.7 326.2C284.7 327.5 282.4 328.9 282.6 330.1C282.7 331.4 285.1 332.5 285.5 333.5C285.8 334.5 285.6 335.5 284.7 336.4C283.9 337.4 281.7 338.1 280.4 339.3C279.0 340.6 277.7 342.0 276.7 343.7C275.7 345.4 274.9 348.6 274.5 349.6M265.8 284.2C265.0 284.4 263.1 284.6 261.4 285.3C259.7 286.0 257.1 286.9 255.5 288.2C254.0 289.6 252.6 291.9 251.9 293.4C251.2 294.8 250.9 295.1 251.2 297.0C251.4 299.0 253.1 302.5 253.4 305.0C253.6 307.6 252.0 310.9 252.6 312.3C253.2 313.8 255.5 312.9 257.0 313.8C258.5 314.6 260.2 316.1 261.4 317.4C262.6 318.8 263.6 320.1 264.3 321.8C265.0 323.5 264.4 326.3 265.8 327.7C267.1 329.0 270.4 329.4 272.3 329.9C274.3 330.3 275.8 330.1 277.4 330.1C279.1 330.2 281.5 330.1 282.3 330.1" stroke="#1a1a1a" stroke-width="0.75" fill="none" stroke-linejoin="round"/>
<g fill="#c4c4c4" stroke="#222" stroke-width="0.6"><circle cx="132.1" cy="304.7" r="1.65"/><circle cx="145.0" cy="287.7" r="1.65"/><circle cx="275.3" cy="204.9" r="1.65"/><circle cx="319.1" cy="245.5" r="1.65"/><circle cx="274.5" cy="349.6" r="1.65"/></g>
<g fill="#111"><circle cx="149.9" cy="294.3" r="1.25"/><circle cx="272.8" cy="247.2" r="1.25"/><circle cx="309.9" cy="249.6" r="1.25"/><circle cx="265.0" cy="279.8" r="1.25"/><circle cx="265.8" cy="284.2" r="1.25"/><circle cx="282.3" cy="330.1" r="1.25"/></g>
<text x="200.0" y="248.8" font-size="5.00" text-anchor="middle" fill="#000" stroke="#000" stroke-width="0.04" font-weight="normal" >Macrophages</text>
<text x="137.7" y="295.7" font-size="5.00" text-anchor="middle" fill="#000" stroke="#000" stroke-width="0.04" font-weight="normal" >Macrophages</text>
<text x="319.5" y="252.0" font-size="5.00" text-anchor="middle" fill="#000" stroke="#000" stroke-width="0.04" font-weight="normal" >Microglia</text>
<text x="265.2" y="288.0" font-size="5.00" text-anchor="middle" fill="#000" stroke="#000" stroke-width="0.04" font-weight="normal" >Microglia</text>
<path d="M446.0 211.8V365.1H636.7" stroke="#444" stroke-width="0.6" fill="none"/><text x="454.8" y="370.0" font-size="4.00" text-anchor="middle" fill="#4d4d4d" stroke="#4d4d4d" stroke-width="0.04" font-weight="normal" >0.0</text><text x="503.0" y="370.0" font-size="4.00" text-anchor="middle" fill="#4d4d4d" stroke="#4d4d4d" stroke-width="0.04" font-weight="normal" >0.5</text><text x="551.2" y="370.0" font-size="4.00" text-anchor="middle" fill="#4d4d4d" stroke="#4d4d4d" stroke-width="0.04" font-weight="normal" >1.0</text><text x="599.4" y="370.0" font-size="4.00" text-anchor="middle" fill="#4d4d4d" stroke="#4d4d4d" stroke-width="0.04" font-weight="normal" >1.5</text><text x="443.6" y="324.3" font-size="4.00" text-anchor="end" fill="#4d4d4d" stroke="#4d4d4d" stroke-width="0.04" font-weight="normal" >1</text><text x="443.6" y="271.7" font-size="4.00" text-anchor="end" fill="#4d4d4d" stroke="#4d4d4d" stroke-width="0.04" font-weight="normal" >3</text><text x="443.6" y="213.9" font-size="4.00" text-anchor="end" fill="#4d4d4d" stroke="#4d4d4d" stroke-width="0.04" font-weight="normal" >10</text><path d="M454.8 365.1v1.4M503.0 365.1v1.4M551.2 365.1v1.4M599.4 365.1v1.4M446.0 322.9h-1.4M446.0 270.2h-1.4M446.0 212.5h-1.4" stroke="#444" stroke-width="0.5" fill="none"/><text x="541.4" y="374.4" font-size="4.70" text-anchor="middle" fill="#000" stroke="#000" stroke-width="0.04" font-weight="normal" >pseudotime</text><text transform="translate(438.5 289.5) rotate(-90)" font-size="4.70" text-anchor="middle" stroke="#000" stroke-width="0.04">Expression</text><text x="541.4" y="210.0" font-size="4.20" text-anchor="middle" fill="#1a1a1a" stroke="#1a1a1a" stroke-width="0.04" font-weight="normal" >Rnf13</text><path d="M459.2 355.4h0M476.4 357.3h0M455.7 355.6h0M457.0 357.7h0M456.2 357.0h0M460.4 357.6h0M468.4 356.8h0M461.5 356.9h0M470.5 354.4h0M457.3 355.5h0M483.2 357.2h0M480.9 357.6h0M507.4 354.5h0M488.3 357.2h0M480.6 358.1h0M465.0 357.9h0M465.5 355.9h0M471.4 356.5h0M480.2 356.3h0M455.5 355.0h0M464.3 356.0h0M475.8 358.2h0M461.2 355.3h0M513.9 355.7h0M464.2 356.6h0M461.7 358.3h0M478.7 354.8h0M466.4 355.8h0M457.7 355.7h0M456.0 355.1h0M461.3 356.0h0M462.1 356.5h0M470.8 356.2h0M513.1 356.7h0M465.4 357.6h0M454.9 356.4h0M460.9 355.6h0M456.0 354.7h0M455.0 354.2h0M459.5 357.9h0M465.6 354.6h0M472.4 355.6h0M459.3 355.5h0M458.1 355.5h0M455.9 357.6h0M471.6 355.2h0M466.5 354.6h0M464.4 354.9h0M478.6 358.1h0M456.5 355.8h0M460.6 355.5h0M474.5 357.3h0M491.8 358.0h0M456.6 356.2h0M467.0 355.1h0M455.0 355.5h0M456.2 356.5h0M457.4 355.0h0M481.2 355.2h0M537.9 355.1h0M459.2 357.6h0M460.8 357.4h0M476.4 354.5h0M468.2 355.5h0M460.1 357.7h0M458.2 357.1h0M521.6 355.0h0M456.5 357.3h0M456.6 355.0h0M488.5 354.1h0M481.0 354.0h0M471.8 356.2h0M461.1 358.0h0M463.6 354.6h0M473.3 354.2h0M461.2 355.9h0M490.7 355.6h0M471.1 357.7h0M488.9 354.3h0M456.3 358.0h0M469.1 355.1h0M475.6 354.0h0M456.9 356.6h0M511.6 356.6h0M466.7 356.6h0M462.2 356.8h0M496.4 356.6h0M459.9 354.1h0M496.4 356.8h0M471.9 356.5h0M456.7 354.9h0M457.0 355.8h0M507.7 355.0h0M475.0 357.7h0M458.6 355.2h0M468.0 354.7h0M457.0 357.4h0M459.0 357.3h0M457.5 357.6h0M504.2 356.9h0M472.8 355.8h0M456.8 356.0h0M457.4 356.4h0M459.1 356.5h0M514.0 355.1h0M478.2 357.3h0M457.4 354.1h0M461.7 354.8h0M460.8 355.1h0M460.8 356.2h0M456.3 357.9h0M487.5 356.1h0M464.9 358.2h0M464.8 358.0h0M466.7 354.6h0M460.5 355.2h0M479.1 354.6h0M457.2 357.3h0M470.4 354.3h0M457.2 355.4h0M463.2 357.3h0M483.9 356.0h0M459.9 356.7h0M474.1 354.5h0M459.2 357.1h0M458.2 357.3h0M465.1 357.9h0M546.1 355.8h0M457.2 354.7h0M467.1 356.0h0M456.3 355.7h0M470.3 357.4h0M460.8 356.8h0M463.6 356.9h0M470.6 356.8h0M461.0 354.6h0M503.6 354.2h0M467.7 355.7h0M482.4 357.6h0M458.9 356.8h0M456.1 357.4h0M493.0 357.1h0M488.2 357.7h0M467.5 358.2h0M474.4 357.5h0M456.5 354.1h0M465.2 358.0h0M465.6 355.0h0M475.2 355.3h0M493.6 354.6h0M472.3 356.7h0M471.7 354.1h0M463.6 357.4h0M461.1 355.3h0M465.5 357.2h0M455.8 357.9h0M464.2 357.0h0M479.0 355.8h0M469.8 356.7h0M534.2 357.7h0M460.3 357.0h0M488.7 355.1h0M469.7 354.0h0M473.0 357.8h0M464.5 356.7h0M459.4 354.3h0M473.6 356.4h0M482.6 356.5h0M467.8 355.2h0M455.7 357.8h0M457.1 355.0h0M475.4 354.6h0M487.6 355.3h0M456.0 355.4h0M485.2 356.8h0M459.3 354.5h0M469.7 354.4h0M478.8 357.0h0M498.7 357.7h0M458.1 354.4h0M498.3 355.0h0M460.1 355.2h0M468.1 357.2h0M456.0 355.3h0M463.0 356.6h0M475.5 354.7h0M456.4 356.9h0M455.4 357.2h0M461.7 354.6h0M463.4 356.5h0M493.4 354.9h0M461.9 357.3h0M455.0 355.2h0M457.5 356.9h0M461.3 356.8h0M473.9 356.5h0M476.3 354.9h0M470.0 355.5h0M460.6 356.0h0M457.9 355.9h0M468.5 357.0h0M462.1 355.4h0M486.9 357.3h0M456.6 355.9h0M470.7 357.2h0M507.6 357.0h0M467.1 358.0h0M459.3 355.5h0M516.9 358.3h0M470.9 356.2h0M504.2 355.8h0M498.1 357.0h0M494.8 355.1h0M457.0 358.1h0M458.3 357.2h0M480.9 356.8h0M461.5 355.2h0M460.2 357.5h0M477.9 357.9h0M467.9 357.4h0M462.2 357.9h0M462.6 354.4h0M461.6 357.2h0M456.4 357.7h0M478.6 354.3h0M459.1 356.3h0M460.3 355.0h0M474.5 354.1h0M468.0 358.0h0M456.2 357.6h0M455.1 356.7h0M466.0 357.2h0M490.7 356.9h0M472.3 356.0h0M473.9 354.5h0M475.5 355.2h0M470.6 356.2h0M467.5 356.5h0M472.8 355.3h0M459.3 354.5h0M460.8 355.5h0M458.1 354.8h0M456.0 358.0h0M496.9 354.9h0M465.0 355.7h0M455.0 356.3h0M462.7 355.1h0M481.6 356.1h0M460.5 356.4h0M460.5 354.2h0M482.4 358.1h0M457.0 356.3h0M454.9 354.6h0M458.9 354.7h0M470.7 357.1h0M471.7 356.1h0M458.9 355.1h0M455.7 355.6h0M456.3 356.1h0M464.9 355.0h0M455.0 355.8h0M477.2 356.9h0M469.0 354.8h0M480.1 354.2h0M508.9 357.6h0M480.0 354.3h0M460.1 356.7h0M463.2 356.3h0M454.8 358.2h0M470.6 354.8h0M473.6 357.8h0M476.8 354.5h0M455.6 354.7h0M483.8 356.8h0M473.0 354.5h0M501.0 357.4h0M461.5 355.8h0M458.9 358.1h0M475.8 356.7h0M472.6 355.1h0M471.8 355.7h0M466.3 357.9h0M455.2 355.5h0M467.8 354.2h0M480.2 354.6h0M459.4 357.3h0M459.2 357.2h0M474.5 356.0h0M456.8 355.0h0M457.0 354.9h0M461.7 355.7h0M459.0 354.5h0M485.3 355.9h0M472.7 354.1h0M455.5 358.2h0M462.6 358.1h0M455.1 355.1h0M482.5 357.6h0M455.8 355.9h0M519.0 356.9h0M468.4 356.8h0M460.2 357.1h0M484.9 355.9h0M472.2 354.6h0M455.3 355.9h0M471.6 355.9h0M454.9 357.2h0M458.4 356.9h0M488.0 358.2h0M481.0 355.7h0M465.2 356.7h0M457.9 354.3h0M480.9 354.5h0M455.7 355.1h0M484.9 355.2h0M479.0 355.9h0M460.5 355.0h0M480.0 358.0h0M469.3 355.8h0M485.1 355.6h0M459.9 357.4h0M459.8 355.3h0M468.5 354.1h0M464.4 357.8h0M460.0 355.4h0M458.2 356.0h0M461.4 355.7h0M476.3 357.4h0M459.2 357.2h0M477.1 355.0h0M485.6 355.9h0M459.1 354.3h0M470.3 357.2h0M457.2 354.2h0M463.4 355.7h0M478.6 354.6h0M528.6 357.6h0M480.8 357.9h0M461.3 355.2h0M475.1 357.7h0M463.6 354.7h0M457.5 357.0h0M476.6 356.6h0M461.3 355.5h0M468.0 354.8h0M477.8 356.5h0M465.4 357.4h0M475.6 358.3h0M483.2 355.4h0M465.0 355.1h0M473.1 354.1h0M468.3 355.1h0M495.8 357.1h0M460.5 354.5h0M459.3 356.8h0M471.7 355.3h0M466.0 355.0h0M488.9 356.1h0M472.7 355.9h0M464.4 355.9h0M464.7 356.4h0M478.4 354.3h0M490.6 356.5h0M466.3 355.4h0M476.6 355.1h0M455.4 358.2h0M481.2 355.3h0M462.8 357.9h0M539.2 356.6h0M456.4 354.1h0M506.1 355.1h0M527.7 354.3h0M464.4 356.3h0M459.2 357.9h0M460.5 354.2h0M456.8 354.1h0M459.1 354.1h0M460.1 355.2h0M455.3 354.7h0M487.2 358.1h0M465.8 357.3h0M465.5 358.0h0M468.0 356.5h0M504.8 357.5h0M484.2 357.0h0M468.4 356.8h0M459.8 355.2h0M457.8 356.0h0M460.0 357.5h0M465.9 354.7h0M457.8 357.6h0M460.6 356.0h0M466.6 354.7h0M455.3 355.2h0M455.0 357.8h0M456.1 356.0h0M468.1 357.9h0M458.8 356.0h0M483.2 357.9h0M458.9 355.2h0M468.0 354.5h0M470.1 354.2h0M458.1 356.0h0M457.6 356.6h0M456.2 357.3h0M464.7 357.8h0M479.7 354.9h0M476.5 356.1h0M469.7 356.7h0M538.9 356.0h0M470.7 357.6h0M463.9 354.0h0M461.7 357.5h0M472.7 356.8h0M463.3 357.1h0M487.8 354.5h0M475.5 354.9h0M455.6 356.7h0M480.3 357.2h0M546.9 356.8h0M470.4 356.5h0M507.9 356.8h0M466.4 354.6h0M507.2 355.9h0M470.7 355.4h0M465.5 357.1h0M499.2 357.1h0M461.5 357.0h0M482.2 357.9h0M480.6 356.9h0M522.3 355.6h0M456.3 354.4h0M457.8 356.0h0M458.6 357.6h0M476.8 357.4h0M473.7 354.9h0M467.2 358.1h0M488.6 354.3h0M475.3 354.4h0M476.1 357.0h0M460.1 356.6h0M465.1 357.5h0M465.3 354.8h0M463.0 356.1h0M469.6 355.6h0M456.2 355.7h0M471.3 354.1h0M457.1 355.9h0M468.3 355.6h0M486.1 357.7h0M475.0 357.7h0M462.7 355.5h0M488.9 355.6h0M504.4 357.4h0M474.7 357.5h0M461.6 356.2h0M464.1 356.4h0M474.4 357.0h0M459.1 355.2h0M461.8 356.4h0M457.1 354.0h0M455.6 355.7h0M460.3 356.6h0M465.1 356.4h0M486.3 355.1h0M498.2 356.8h0M460.2 356.5h0M456.1 356.4h0M460.7 354.2h0M467.8 357.9h0M472.9 355.5h0M496.8 355.2h0M455.7 354.4h0M492.6 357.8h0M455.3 358.2h0M459.5 357.5h0M456.2 358.0h0M488.2 355.4h0M460.2 356.0h0M463.6 354.7h0M465.3 355.8h0M461.0 358.0h0M455.7 356.8h0M458.3 356.3h0M459.1 356.3h0M479.8 356.7h0M457.9 356.6h0M456.2 355.9h0M458.7 356.2h0M465.8 354.4h0M479.5 355.9h0M461.2 356.9h0M469.2 354.9h0M462.7 355.2h0M458.0 357.4h0M463.7 354.6h0M467.2 354.8h0M455.8 357.5h0M461.8 354.5h0M488.1 355.3h0M458.7 357.9h0M455.5 355.8h0M456.9 357.5h0M524.8 354.9h0M455.7 357.9h0M456.7 355.4h0M471.9 355.7h0M468.7 358.0h0M466.3 354.5h0M461.3 358.2h0M459.0 356.8h0M467.7 356.7h0M459.5 354.0h0M483.4 356.7h0M471.0 357.5h0M462.1 355.7h0M466.0 354.3h0M482.4 354.3h0M458.2 355.8h0M459.6 357.5h0M456.6 354.2h0M455.1 355.7h0M485.3 355.7h0M476.2 355.7h0M467.0 356.2h0M475.3 356.3h0M479.6 354.9h0M458.4 357.4h0M497.2 356.2h0M490.8 358.1h0M486.2 357.0h0M458.4 354.7h0M507.8 358.2h0M456.9 356.5h0M465.7 355.4h0M457.5 355.0h0M479.4 354.3h0M462.7 355.2h0M465.8 355.5h0M468.2 356.5h0M459.5 354.8h0M462.5 355.6h0M460.8 355.8h0M485.5 354.3h0M479.1 356.0h0M477.4 356.2h0M470.2 357.9h0M553.9 355.8h0M467.3 356.9h0M455.9 356.9h0M466.8 354.7h0M456.8 354.7h0M471.0 354.1h0M473.8 358.3h0M460.9 354.4h0M458.0 357.8h0M464.4 355.6h0M455.3 354.3h0M456.4 358.1h0M491.7 355.7h0M477.7 357.0h0M456.9 355.8h0M457.3 357.2h0M473.1 354.7h0M461.1 357.1h0M468.5 357.9h0M458.2 356.9h0M461.3 357.4h0M478.5 358.2h0M468.4 357.4h0M493.2 356.0h0M460.6 356.4h0M467.9 357.3h0M457.3 356.7h0M463.7 354.3h0M493.7 354.2h0M456.0 357.5h0M469.9 354.9h0M474.1 357.5h0M455.9 355.2h0M466.0 355.1h0M460.7 357.2h0M457.4 355.4h0M463.6 355.4h0M458.8 354.3h0M461.9 357.6h0M479.7 354.6h0M455.7 357.1h0M464.7 355.5h0M464.3 356.2h0M470.8 355.4h0M480.4 356.4h0M466.2 355.3h0M491.3 355.9h0M457.9 354.0h0M482.4 354.0h0M502.6 356.2h0M497.5 357.5h0M458.1 358.3h0M477.0 357.4h0M465.3 356.2h0M456.6 356.8h0M475.3 356.9h0M455.7 357.1h0M458.7 358.2h0M459.6 355.5h0M488.8 355.9h0M476.6 357.3h0M457.0 357.8h0M468.9 354.1h0M456.8 357.8h0M485.7 357.9h0M456.8 354.7h0M458.9 357.2h0M465.8 355.2h0M475.3 355.1h0M465.6 358.2h0M466.4 357.8h0M485.2 357.3h0M461.5 355.9h0M474.3 358.2h0M460.1 358.2h0M466.6 357.1h0M462.4 354.2h0M459.4 357.4h0M455.9 357.6h0M471.3 356.7h0M469.6 354.1h0M456.0 357.7h0M468.7 354.9h0M503.1 357.5h0M465.1 354.3h0M465.6 354.1h0M492.1 357.1h0M459.7 355.0h0M478.7 356.2h0M465.2 357.9h0M468.3 354.7h0M455.5 356.0h0M472.4 355.9h0M464.6 354.9h0M462.8 355.2h0M493.5 358.0h0M458.9 354.5h0M461.5 354.1h0M460.1 357.9h0M463.2 357.8h0M459.0 356.9h0M458.1 356.0h0M477.3 355.8h0M456.6 354.0h0M527.4 355.9h0M480.9 356.3h0M471.6 357.8h0M463.9 354.3h0M462.4 357.7h0M467.1 356.2h0M468.1 357.1h0M481.2 355.3h0M471.1 355.4h0M459.3 355.2h0M461.8 355.9h0M458.1 356.6h0M467.3 357.6h0M508.2 354.7h0M473.0 355.9h0M460.4 356.3h0M461.5 357.5h0M460.9 357.0h0M455.3 356.7h0M493.4 356.9h0M465.3 357.5h0M460.2 357.6h0M460.1 356.4h0M471.3 354.5h0M461.6 355.8h0M483.0 355.1h0M463.9 355.5h0M458.3 355.8h0M455.1 355.6h0M485.0 354.8h0M468.6 356.4h0M504.8 355.8h0M493.8 358.2h0M458.3 356.1h0M464.9 354.1h0M472.1 354.9h0M454.8 354.6h0M490.7 356.8h0M467.6 355.4h0M457.9 356.0h0M458.5 355.3h0M461.5 355.2h0M475.9 358.0h0M471.5 356.4h0M479.0 355.2h0M490.5 354.6h0M473.6 354.3h0M464.4 355.4h0M473.7 356.6h0M491.9 355.9h0M462.2 357.5h0M467.6 358.3h0M511.2 356.4h0M467.0 357.4h0M471.9 354.4h0M461.4 357.2h0M466.8 357.8h0M516.6 357.3h0M484.8 354.4h0M459.9 356.5h0M463.4 357.6h0M461.1 356.3h0M456.2 356.4h0M455.0 357.4h0M513.5 355.1h0M491.1 357.0h0M457.2 354.5h0M510.9 355.6h0M476.1 357.4h0M475.3 355.8h0M459.8 356.4h0M454.9 356.9h0M455.5 358.1h0M487.2 356.0h0M455.4 356.4h0M485.3 354.1h0M466.4 354.8h0M476.0 355.1h0M459.1 354.9h0M460.9 356.2h0M456.9 354.8h0M471.9 356.4h0M537.8 357.5h0M477.1 354.3h0M458.8 356.1h0M465.2 354.2h0M457.9 354.6h0M473.8 356.5h0M481.6 355.7h0M460.8 357.9h0M472.6 356.4h0M457.5 357.2h0M472.1 355.6h0M516.0 357.7h0M581.3 356.6h0M476.1 354.5h0M521.2 356.9h0M542.6 354.3h0M460.1 355.9h0M553.6 356.6h0M469.2 354.6h0M617.7 358.1h0M458.1 356.3h0M598.2 354.9h0M486.2 356.4h0M500.2 356.7h0M615.4 356.4h0M600.3 355.3h0M516.1 354.9h0M549.6 355.7h0M611.7 356.7h0M607.4 354.1h0M555.3 356.9h0M488.9 355.1h0M551.9 358.2h0M570.9 356.6h0M533.9 355.0h0M470.2 356.7h0M503.9 354.4h0M468.9 356.4h0M475.7 354.9h0M510.7 357.4h0M545.3 356.0h0M467.6 321.6h0M469.5 324.2h0M459.3 322.1h0M459.1 322.4h0M456.6 323.9h0M479.5 324.9h0M490.9 321.2h0M461.1 323.3h0M481.2 322.5h0M472.5 321.5h0M481.3 322.2h0M470.7 324.1h0M476.4 321.9h0M455.7 323.2h0M470.6 322.7h0M485.5 320.8h0M570.9 324.4h0M472.7 324.5h0M462.3 324.3h0M463.8 322.6h0M460.6 322.6h0M503.2 323.6h0M460.4 325.0h0M475.4 322.9h0M463.7 322.0h0M469.0 322.8h0M470.3 323.2h0M464.5 323.5h0M468.9 324.8h0M501.5 323.2h0M466.0 324.3h0M465.2 322.8h0M457.6 322.7h0M461.7 324.6h0M458.9 322.0h0M463.2 322.1h0M455.4 323.1h0M464.8 321.2h0M455.5 323.0h0M460.6 323.5h0M482.7 325.0h0M470.1 321.2h0M473.1 320.9h0M455.7 323.7h0M472.2 324.6h0M470.5 321.1h0M469.7 322.0h0M466.8 323.5h0M456.3 324.5h0M505.2 323.6h0M463.1 324.8h0M457.4 324.0h0M471.6 323.3h0M456.2 322.4h0M456.6 323.8h0M458.0 324.4h0M462.4 323.2h0M458.8 323.8h0M465.5 322.5h0M455.6 324.4h0M455.1 322.4h0M487.7 323.3h0M472.2 323.0h0M467.6 324.7h0M495.4 323.8h0M459.4 323.3h0M489.0 323.8h0M460.0 323.8h0M456.9 322.2h0M456.0 322.1h0M458.1 323.4h0M470.7 321.4h0M483.0 324.2h0M463.7 324.1h0M462.5 323.5h0M470.9 322.2h0M456.1 323.9h0M496.1 324.5h0M465.3 323.8h0M463.2 323.2h0M468.4 322.0h0M468.8 321.5h0M473.9 324.3h0M458.2 323.4h0M460.1 321.8h0M463.0 321.6h0M468.2 323.5h0M459.1 324.0h0M471.0 322.8h0M539.2 321.8h0M455.4 323.7h0M466.3 321.5h0M474.8 323.2h0M460.6 320.8h0M463.1 321.3h0M461.6 323.8h0M478.4 322.7h0M458.6 324.7h0M457.6 323.5h0M466.2 321.1h0M485.5 323.7h0M461.4 324.2h0M465.6 322.2h0M470.2 321.4h0M479.8 323.5h0M455.7 322.4h0M458.1 322.0h0M460.7 324.7h0M468.6 321.1h0M468.9 322.1h0M460.1 322.8h0M462.3 323.3h0M455.6 321.9h0M496.7 323.3h0M462.1 321.2h0M468.1 323.0h0M469.8 321.1h0M475.3 322.4h0M470.9 323.8h0M466.3 321.6h0M473.2 321.4h0M455.3 324.9h0M455.8 321.0h0M461.0 321.9h0M456.4 324.5h0M460.9 324.0h0M456.2 323.6h0M457.4 323.2h0M469.1 321.0h0M491.1 323.5h0M481.8 322.4h0M476.9 322.0h0M461.5 323.2h0M455.6 321.8h0M469.6 325.0h0M476.2 323.3h0M480.7 324.0h0M464.3 321.2h0M460.9 321.5h0M458.8 321.5h0M454.9 323.1h0M455.1 323.6h0M467.2 321.2h0M456.6 322.9h0M466.4 323.6h0M461.8 322.5h0M497.1 321.1h0M460.7 321.2h0M522.6 320.8h0M477.5 322.1h0M471.0 321.4h0M464.3 324.8h0M480.8 323.5h0M516.6 321.2h0M457.7 323.6h0M458.7 322.9h0M465.5 324.3h0M475.7 322.2h0M461.5 322.9h0M481.5 323.0h0M474.4 321.4h0M461.6 324.3h0M468.7 321.4h0M464.1 322.7h0M463.4 323.2h0M509.6 322.2h0M464.4 323.9h0M475.1 323.0h0M468.6 323.7h0M469.5 324.0h0M507.7 324.7h0M477.0 322.9h0M461.0 322.5h0M465.4 324.7h0M484.4 324.9h0M465.3 324.5h0M492.5 324.7h0M464.1 323.5h0M472.0 323.0h0M470.0 321.3h0M472.4 321.4h0M457.1 324.5h0M466.8 322.0h0M477.2 322.8h0M459.2 322.6h0M458.7 322.4h0M464.2 322.0h0M457.9 323.0h0M458.7 322.0h0M479.7 321.7h0M466.2 324.2h0M478.5 323.3h0M468.5 322.2h0M473.3 321.7h0M462.6 322.4h0M466.7 321.9h0M485.7 321.2h0M458.7 321.4h0M471.5 321.3h0M481.3 322.4h0M459.5 324.7h0M474.6 324.9h0M465.9 321.2h0M466.0 320.8h0M458.6 323.6h0M477.8 323.0h0M456.0 321.9h0M467.4 322.7h0M460.9 320.9h0M470.5 323.6h0M487.1 324.1h0M470.2 321.1h0M458.2 325.0h0M455.4 324.7h0M495.9 325.0h0M469.7 324.4h0M462.8 321.9h0M457.0 322.3h0M457.1 324.1h0M467.9 321.6h0M461.2 324.8h0M463.4 321.6h0M477.6 322.1h0M458.5 324.2h0M473.1 322.5h0M455.2 323.4h0M468.9 324.8h0M458.9 322.0h0M455.7 321.9h0M457.3 321.2h0M468.0 323.7h0M460.8 323.7h0M460.7 321.3h0M462.2 323.8h0M466.6 322.9h0M463.4 323.2h0M476.4 323.3h0M460.7 322.5h0M476.4 323.8h0M455.3 321.7h0M465.2 324.5h0M470.7 322.4h0M473.0 324.1h0M462.5 323.4h0M461.2 322.7h0M472.6 322.8h0M463.1 323.0h0M461.3 322.5h0M496.0 323.2h0M458.3 322.8h0M494.3 324.4h0M457.9 321.9h0M455.6 324.0h0M461.7 324.4h0M466.7 324.3h0M474.8 321.1h0M470.0 324.2h0M469.0 323.6h0M468.2 324.3h0M461.7 323.3h0M457.7 321.7h0M459.6 323.5h0M457.2 321.3h0M462.8 322.1h0M468.2 320.8h0M470.2 322.4h0M455.8 323.4h0M484.2 322.5h0M466.1 322.0h0M493.6 321.2h0M456.4 322.3h0M460.5 324.1h0M460.4 324.7h0M462.2 321.1h0M489.6 321.3h0M477.5 322.3h0M465.0 323.2h0M464.1 321.0h0M483.3 321.1h0M481.2 324.3h0M461.7 325.0h0M470.4 322.6h0M465.0 324.2h0M455.7 323.8h0M466.4 324.1h0M474.7 322.6h0M457.1 324.7h0M455.1 321.3h0M463.3 323.5h0M456.0 321.8h0M466.0 324.4h0M469.3 324.3h0M466.7 324.1h0M464.3 324.5h0M489.3 323.5h0M474.7 321.5h0M457.9 322.2h0M482.6 320.8h0M486.5 322.5h0M459.1 323.5h0M455.8 323.7h0M465.6 323.8h0M461.6 321.9h0M493.9 324.7h0M466.8 323.1h0M476.2 321.6h0M484.1 324.8h0M491.0 323.6h0M457.7 323.7h0M477.9 320.8h0M498.4 323.1h0M456.4 323.9h0M459.7 323.6h0M461.6 321.7h0M493.5 323.9h0M464.7 324.6h0M469.5 321.7h0M458.2 323.2h0M491.7 321.0h0M457.7 321.5h0M474.6 322.4h0M458.1 322.3h0M457.4 324.5h0M457.8 322.0h0M459.6 321.4h0M462.3 321.2h0M476.3 323.1h0M465.8 322.5h0M457.0 323.4h0M475.6 322.5h0M463.5 322.5h0M474.1 320.8h0M464.4 322.0h0M460.9 322.2h0M457.6 324.1h0M455.5 320.9h0M459.7 323.8h0M469.4 324.3h0M467.7 321.8h0M455.7 322.4h0M472.4 321.9h0M456.3 322.6h0M473.4 324.7h0M457.5 323.7h0M468.3 321.2h0M461.9 325.0h0M459.6 323.7h0M473.8 324.2h0M476.3 324.4h0M514.1 324.7h0M468.7 324.1h0M457.9 324.0h0M471.1 323.6h0M521.1 322.5h0M462.3 324.5h0M456.9 320.8h0M455.8 322.9h0M465.2 324.6h0M458.6 322.4h0M462.8 321.2h0M462.9 321.6h0M460.2 321.9h0M464.3 325.0h0M465.4 323.1h0M461.5 323.4h0M481.7 322.0h0M455.4 323.6h0M457.3 320.9h0M463.1 323.0h0M459.0 321.0h0M498.4 323.6h0M460.9 320.9h0M456.1 321.6h0M471.0 323.9h0M470.6 322.5h0M458.5 323.8h0M475.2 323.1h0M469.4 322.7h0M490.7 323.3h0M495.7 320.8h0M500.3 320.8h0M469.7 324.8h0M458.5 323.7h0M492.4 321.5h0M465.3 323.7h0M482.1 324.7h0M505.6 324.3h0M472.7 323.5h0M481.5 323.0h0M459.7 323.4h0M461.4 321.5h0M456.2 322.7h0M461.9 324.5h0M470.1 322.3h0M457.7 321.9h0M482.5 323.0h0M459.2 324.2h0M469.2 324.5h0M486.1 325.0h0M474.0 324.9h0M475.3 323.1h0M463.3 323.7h0M457.7 322.4h0M462.4 322.3h0M455.3 321.6h0M507.9 322.1h0M465.9 321.6h0M464.3 322.0h0M464.0 321.1h0M472.7 323.0h0M475.2 323.3h0M469.5 322.1h0M481.7 322.8h0M461.8 321.3h0M465.8 321.0h0M481.7 324.8h0M472.9 323.9h0M456.7 322.6h0M507.6 321.6h0M456.3 323.6h0M471.3 323.3h0M466.5 323.4h0M458.3 325.0h0M476.5 324.7h0M456.3 322.6h0M468.9 324.9h0M503.0 324.9h0M458.4 322.5h0M489.4 322.9h0M462.0 324.6h0M462.2 322.9h0M483.9 321.2h0M461.5 324.4h0M493.5 321.9h0M457.0 322.2h0M476.8 322.1h0M454.9 323.8h0M463.7 322.1h0M473.4 322.6h0M462.5 324.5h0M469.1 322.6h0M458.3 324.7h0M461.3 324.7h0M462.3 322.7h0M455.0 321.7h0M463.2 324.8h0M456.9 323.1h0M467.6 322.3h0M475.0 321.0h0M498.9 322.7h0M474.9 320.9h0M457.1 323.4h0M582.9 322.4h0M611.8 322.0h0M457.3 321.7h0M560.7 324.0h0M550.6 320.8h0M502.9 321.1h0M609.1 320.9h0M493.0 325.0h0M617.9 322.1h0M521.5 323.5h0M539.6 324.1h0M479.0 322.4h0M486.0 322.4h0M469.6 322.0h0M503.3 324.9h0M598.1 321.3h0M572.0 321.0h0M517.7 322.0h0M484.2 322.3h0M457.2 321.7h0M506.5 322.0h0M470.0 324.8h0M573.7 324.0h0M570.9 321.9h0M504.0 324.7h0M489.5 325.0h0M468.1 322.5h0M481.6 324.8h0M519.3 289.2h0M465.7 288.0h0M458.9 288.8h0M460.3 291.7h0M464.7 290.7h0M455.7 290.5h0M468.6 288.2h0M458.3 289.7h0M459.3 289.6h0M479.2 291.5h0M459.4 290.4h0M460.2 288.8h0M455.3 288.6h0M455.1 288.0h0M455.6 289.7h0M484.8 290.2h0M466.6 289.2h0M459.8 291.6h0M464.4 290.8h0M458.6 289.9h0M493.7 289.2h0M485.6 290.3h0M455.3 290.5h0M455.2 290.7h0M457.4 288.9h0M457.2 289.2h0M472.0 288.5h0M492.9 288.1h0M475.4 288.8h0M461.4 288.6h0M466.1 288.7h0M463.7 289.6h0M464.8 289.2h0M493.1 290.7h0M481.1 290.6h0M461.0 291.3h0M494.7 289.7h0M510.5 291.0h0M475.8 287.8h0M458.4 288.6h0M455.7 287.9h0M459.8 289.6h0M476.3 289.6h0M456.8 288.5h0M477.2 287.7h0M472.3 290.8h0M461.7 291.5h0M469.4 288.3h0M454.8 290.7h0M479.3 289.0h0M458.0 290.1h0M489.9 291.8h0M464.8 288.7h0M459.4 291.3h0M479.2 288.4h0M456.4 290.9h0M468.8 288.2h0M457.8 288.4h0M474.3 289.4h0M462.8 288.4h0M455.5 291.0h0M457.6 287.7h0M460.1 289.0h0M455.8 290.0h0M461.4 291.0h0M470.8 291.7h0M459.7 289.8h0M456.3 288.3h0M501.4 288.5h0M481.1 290.1h0M468.5 291.1h0M471.7 290.6h0M463.8 291.7h0M476.1 289.5h0M488.2 291.6h0M459.2 288.4h0M485.7 288.6h0M471.8 291.3h0M502.9 287.6h0M476.3 291.2h0M481.8 289.1h0M463.1 291.2h0M505.4 291.3h0M457.6 288.0h0M463.3 288.8h0M475.5 290.3h0M472.7 289.0h0M469.2 289.6h0M500.3 289.1h0M467.8 290.2h0M456.3 288.2h0M456.2 289.2h0M465.5 291.3h0M462.2 288.7h0M464.7 289.6h0M466.4 290.9h0M461.8 290.5h0M457.3 289.5h0M472.5 287.8h0M463.3 291.2h0M456.2 291.5h0M471.8 290.9h0M467.1 290.8h0M460.6 291.3h0M455.6 291.3h0M458.9 289.6h0M489.1 289.2h0M480.4 289.5h0M456.0 288.1h0M470.8 288.3h0M474.6 290.7h0M455.9 290.5h0M463.3 290.0h0M458.5 288.2h0M462.3 289.1h0M486.8 291.6h0M468.5 291.6h0M463.1 288.8h0M455.0 289.1h0M455.2 288.3h0M487.2 289.1h0M480.3 289.4h0M456.5 288.7h0M517.2 287.8h0M464.4 289.4h0M462.3 287.8h0M470.1 289.1h0M488.2 290.8h0M487.4 287.9h0M460.9 290.0h0M456.6 290.0h0M473.8 290.0h0M463.6 289.7h0M461.9 290.2h0M470.2 288.7h0M491.2 288.7h0M479.0 290.9h0M464.9 288.3h0M465.3 291.1h0M477.4 291.4h0M470.1 290.0h0M469.4 288.7h0M467.0 289.4h0M470.7 289.7h0M458.5 290.5h0M459.0 289.4h0M460.3 288.4h0M459.3 288.8h0M482.6 291.6h0M455.7 288.4h0M462.4 288.6h0M463.5 287.7h0M462.2 290.1h0M462.1 289.5h0M466.7 291.1h0M463.0 290.3h0M462.9 290.3h0M475.5 290.5h0M484.1 289.5h0M460.0 288.8h0M462.6 287.6h0M466.0 289.2h0M502.5 287.6h0M462.4 288.4h0M468.8 289.1h0M458.5 289.8h0M465.7 289.2h0M497.7 288.4h0M475.7 290.8h0M460.0 288.9h0M461.7 289.0h0M454.8 288.5h0M457.9 287.8h0M457.0 290.8h0M458.8 289.5h0M465.9 289.9h0M456.2 291.3h0M466.3 291.3h0M521.6 290.0h0M456.2 291.6h0M458.5 289.8h0M512.5 291.3h0M459.8 289.5h0M467.0 288.7h0M459.0 289.7h0M455.5 288.2h0M462.6 289.2h0M465.2 288.5h0M458.2 289.5h0M478.8 287.9h0M465.1 289.4h0M467.5 290.0h0M460.3 291.8h0M474.5 291.8h0M471.8 290.3h0M467.0 289.5h0M457.4 290.7h0M482.3 291.5h0M473.0 290.5h0M498.2 288.3h0M467.6 290.1h0M472.3 289.7h0M470.4 291.5h0M477.5 290.4h0M462.7 291.7h0M460.9 287.7h0M468.4 290.5h0M456.9 288.5h0M471.2 289.5h0M478.7 291.8h0M463.1 288.5h0M474.1 291.2h0M512.2 288.1h0M470.2 288.5h0M469.6 288.0h0M478.6 291.0h0M479.6 289.8h0M461.1 290.6h0M456.6 287.9h0M461.4 289.5h0M501.2 290.3h0M469.7 287.9h0M545.2 287.9h0M474.3 290.3h0M566.0 288.7h0M621.5 289.9h0M615.1 291.3h0M582.2 291.2h0M514.2 290.6h0M486.1 291.7h0M493.2 288.6h0M470.6 269.4h0M479.4 270.8h0M457.9 268.4h0M461.3 270.7h0M456.3 268.7h0M489.1 270.8h0M470.5 269.3h0M461.1 270.5h0M475.0 271.1h0M457.4 269.0h0M458.4 268.7h0M460.1 271.7h0M460.1 272.2h0M457.9 270.6h0M456.6 268.4h0M463.4 270.6h0M457.7 269.5h0M470.9 268.8h0M464.6 271.3h0M480.0 271.8h0M473.9 270.4h0M475.7 270.5h0M455.2 268.1h0M460.0 271.8h0M466.6 272.1h0M473.2 271.7h0M455.7 270.4h0M481.5 271.9h0M463.8 270.2h0M480.2 269.7h0M474.7 270.2h0M454.8 268.2h0M456.9 270.3h0M466.7 270.6h0M473.6 268.4h0M462.4 270.1h0M506.1 271.4h0M456.9 270.2h0M455.1 271.9h0M458.1 271.3h0M457.2 270.5h0M459.8 271.8h0M484.4 269.6h0M456.9 270.6h0M487.9 270.8h0M460.4 269.2h0M464.7 272.3h0M484.4 269.4h0M471.2 272.0h0M481.8 269.1h0M463.4 268.1h0M459.9 271.2h0M468.6 270.6h0M464.6 268.5h0M467.6 270.5h0M476.7 270.2h0M475.2 270.1h0M487.9 271.5h0M499.7 269.6h0M459.7 271.2h0M458.1 271.5h0M458.4 269.1h0M479.3 269.4h0M477.7 270.7h0M458.6 268.9h0M475.8 268.1h0M480.6 270.7h0M454.8 271.1h0M506.5 268.5h0M469.4 270.5h0M470.4 270.1h0M482.3 270.3h0M458.0 272.1h0M456.1 268.3h0M456.5 268.9h0M462.4 268.4h0M474.5 270.7h0M470.0 271.8h0M454.9 270.4h0M455.2 268.2h0M472.4 270.2h0M519.0 268.5h0M470.8 268.4h0M462.6 269.4h0M454.8 271.7h0M458.2 271.1h0M485.9 272.3h0M464.2 270.1h0M470.3 268.9h0M459.7 268.4h0M465.2 269.8h0M455.2 270.7h0M490.3 270.9h0M473.8 272.2h0M456.0 269.7h0M458.4 268.5h0M470.1 271.8h0M479.4 268.8h0M456.7 268.7h0M457.5 271.1h0M459.3 271.9h0M464.8 269.0h0M458.2 270.6h0M491.4 268.2h0M457.3 271.0h0M466.7 268.7h0M466.6 269.4h0M470.8 270.5h0M469.4 270.1h0M495.2 271.4h0M465.3 268.2h0M461.8 268.9h0M457.8 272.2h0M467.0 272.2h0M461.8 268.9h0M464.3 269.3h0M481.2 270.6h0M457.9 271.7h0M457.6 270.3h0M463.1 268.2h0M462.4 271.0h0M469.8 270.7h0M457.3 269.7h0M471.0 270.4h0M459.7 269.1h0M457.9 269.4h0M456.1 270.6h0M467.7 269.5h0M481.7 268.7h0M457.4 271.8h0M463.2 270.3h0M467.7 271.8h0M466.4 270.6h0M468.5 268.4h0M461.1 268.2h0M465.7 268.8h0M480.1 269.7h0M462.1 268.8h0M457.0 269.6h0M469.5 272.0h0M458.5 268.1h0M460.5 268.4h0M456.8 271.1h0M574.3 271.2h0M572.6 269.2h0M485.7 268.4h0M470.1 269.5h0M479.4 271.1h0M561.5 269.3h0M612.9 270.0h0M458.3 255.9h0M460.9 256.4h0M461.8 258.2h0M471.3 256.4h0M480.7 256.1h0M457.4 254.5h0M471.6 255.7h0M459.5 256.3h0M460.2 256.3h0M456.0 255.1h0M468.0 254.7h0M464.7 255.3h0M465.3 257.1h0M465.0 256.7h0M462.6 258.0h0M471.6 255.4h0M463.8 258.5h0M463.0 257.9h0M456.3 256.4h0M462.8 255.8h0M461.8 255.2h0M459.6 256.7h0M489.9 255.1h0M462.7 255.8h0M505.4 254.6h0M466.2 257.2h0M456.4 256.9h0M469.6 257.2h0M462.5 257.9h0M460.3 256.6h0M456.6 255.9h0M458.2 255.4h0M499.7 256.5h0M514.6 256.2h0M455.2 256.2h0M462.2 255.4h0M459.4 255.1h0M462.7 257.7h0M455.3 258.5h0M484.4 257.2h0M486.7 256.9h0M456.7 255.0h0M460.5 256.2h0M576.9 258.3h0M554.6 258.4h0M498.2 254.6h0M472.5 247.4h0M466.2 243.6h0M474.5 245.0h0M456.3 244.9h0M475.4 245.3h0M456.3 246.1h0M468.2 245.8h0M494.5 245.1h0M461.3 245.0h0M464.5 246.6h0M469.6 244.9h0M486.6 246.6h0M462.0 245.7h0M455.6 244.6h0M459.2 246.8h0M459.6 245.9h0M463.9 246.3h0M462.3 243.9h0M463.1 245.6h0M480.8 245.8h0M458.9 245.4h0M483.7 245.2h0M470.0 244.2h0M469.9 245.7h0M463.5 246.9h0M458.4 246.1h0M456.7 244.9h0M463.5 244.4h0M461.2 245.2h0M455.8 244.9h0M458.1 244.4h0M462.0 245.3h0M457.6 245.1h0M460.6 245.9h0M473.8 247.2h0M456.6 245.1h0M460.1 246.5h0M455.8 244.3h0M460.2 244.6h0M456.0 247.3h0M466.8 246.8h0M536.2 246.7h0M484.1 247.1h0M464.1 238.8h0M474.3 236.2h0M464.3 238.4h0M469.5 235.7h0M457.0 237.2h0M459.9 237.7h0M481.2 238.5h0M492.3 236.2h0M471.6 239.0h0M467.4 238.1h0M507.9 238.8h0M459.4 229.5h0M455.5 227.9h0M459.8 228.2h0M455.4 223.6h0M472.9 223.2h0M464.6 219.1h0" stroke="#00BFC4" stroke-width="1.24" stroke-linecap="round" fill="none" opacity="1.00"/><path d="M465.2 354.9h0M527.9 355.0h0M458.4 355.5h0M474.4 357.2h0M511.6 354.0h0M467.2 357.6h0M472.4 354.1h0M500.1 354.2h0M531.0 357.5h0M459.3 357.0h0M476.8 355.7h0M460.0 358.1h0M512.1 355.1h0M517.3 357.5h0M473.5 354.8h0M477.3 357.1h0M469.8 356.4h0M458.2 357.5h0M477.0 355.7h0M476.9 356.7h0M501.9 356.7h0M498.6 354.1h0M514.6 354.8h0M484.8 354.1h0M489.4 355.7h0M462.5 355.2h0M525.0 358.0h0M470.9 358.0h0M517.1 356.8h0M518.2 357.0h0M514.5 354.8h0M465.7 357.6h0M498.4 354.6h0M487.9 356.9h0M470.4 357.9h0M479.0 357.8h0M508.3 355.6h0M534.1 357.4h0M472.3 356.7h0M504.2 358.3h0M494.7 357.2h0M477.8 354.3h0M481.5 357.8h0M483.3 355.7h0M457.2 356.1h0M509.1 358.2h0M476.0 355.2h0M551.8 356.3h0M456.6 354.3h0M486.9 357.6h0M520.2 357.3h0M464.0 355.7h0M523.1 356.0h0M506.0 358.2h0M522.7 355.6h0M466.5 355.9h0M479.7 354.7h0M516.5 356.5h0M463.5 356.9h0M530.3 354.0h0M483.2 354.3h0M503.7 356.4h0M485.0 354.5h0M467.5 354.8h0M503.4 357.9h0M475.5 356.7h0M474.9 357.4h0M466.3 357.9h0M513.9 357.3h0M543.2 357.9h0M498.0 357.2h0M489.0 358.1h0M484.9 355.8h0M472.7 357.7h0M487.1 355.1h0M491.3 355.9h0M476.9 354.3h0M460.2 354.9h0M524.2 354.5h0M472.7 357.9h0M481.6 354.0h0M463.9 355.2h0M481.5 354.9h0M474.2 355.4h0M496.1 358.0h0M459.3 356.4h0M526.3 357.4h0M488.2 356.6h0M528.1 357.7h0M489.6 355.3h0M463.2 356.2h0M496.0 357.7h0M471.4 354.2h0M470.9 354.4h0M456.5 357.0h0M481.5 357.4h0M487.7 357.4h0M458.7 356.8h0M469.5 356.6h0M462.2 357.6h0M519.9 356.8h0M486.0 354.7h0M466.0 356.7h0M496.5 356.8h0M510.3 355.6h0M472.3 354.6h0M473.0 355.9h0M469.8 356.5h0M459.7 357.3h0M458.4 354.1h0M472.6 354.6h0M595.5 355.5h0M465.3 355.0h0M490.8 358.2h0M475.2 356.4h0M568.0 355.9h0M480.5 356.8h0M488.7 357.6h0M481.3 357.1h0M492.1 355.2h0M505.7 355.4h0M485.7 354.5h0M506.8 354.2h0M468.4 355.7h0M510.5 355.2h0M477.2 354.9h0M533.1 354.4h0M461.3 356.4h0M526.4 357.8h0M515.3 355.8h0M460.3 354.8h0M468.9 354.9h0M515.3 357.9h0M479.7 354.7h0M491.0 356.6h0M497.4 358.1h0M496.3 356.3h0M464.7 355.8h0M493.9 355.9h0M479.2 354.8h0M487.4 355.3h0M478.8 357.5h0M487.3 358.0h0M510.6 356.6h0M455.7 357.7h0M493.0 354.5h0M460.8 357.2h0M480.1 357.2h0M461.3 354.7h0M501.0 355.5h0M506.4 357.4h0M472.0 355.8h0M539.4 354.7h0M468.7 355.8h0M485.6 356.0h0M468.8 356.9h0M498.4 355.0h0M517.1 355.5h0M513.7 357.9h0M572.5 355.1h0M525.6 354.5h0M494.2 355.7h0M575.4 356.9h0M607.0 355.5h0M595.0 357.2h0M539.0 355.2h0M514.2 356.3h0M580.7 356.5h0M526.7 354.7h0M526.9 354.9h0M538.8 354.2h0M585.3 355.4h0M507.9 356.8h0M581.8 357.0h0M527.2 355.9h0M615.1 356.9h0M492.2 354.6h0M580.2 354.8h0M573.2 356.9h0M573.0 357.5h0M548.7 357.3h0M538.6 357.9h0M572.0 358.0h0M593.4 358.2h0M579.2 354.3h0M587.5 355.1h0M480.2 321.5h0M480.4 323.7h0M478.3 322.0h0M464.4 323.4h0M462.3 325.0h0M512.8 322.8h0M537.1 321.3h0M501.3 322.3h0M456.0 322.5h0M482.1 322.8h0M511.1 321.5h0M454.9 324.9h0M498.4 323.9h0M507.6 322.6h0M469.0 322.6h0M502.0 324.3h0M476.9 320.9h0M474.5 324.6h0M473.0 321.6h0M499.4 322.6h0M477.2 321.6h0M477.9 322.6h0M512.6 324.6h0M514.7 324.1h0M474.9 324.3h0M507.3 321.1h0M509.8 322.2h0M515.1 323.3h0M473.4 323.4h0M482.5 321.5h0M473.7 322.6h0M469.8 323.2h0M488.9 323.7h0M470.9 321.4h0M537.8 324.3h0M464.6 322.0h0M467.1 323.1h0M478.5 322.5h0M482.8 324.7h0M482.1 321.6h0M494.5 323.8h0M466.9 321.6h0M466.1 323.6h0M481.5 324.8h0M462.4 321.9h0M508.7 323.4h0M466.4 322.8h0M478.9 320.8h0M474.4 323.0h0M490.6 322.0h0M468.1 323.9h0M463.7 321.9h0M489.7 323.0h0M480.8 322.1h0M520.5 324.6h0M463.1 323.0h0M474.5 321.2h0M487.5 322.7h0M558.2 321.2h0M470.5 322.3h0M464.3 323.4h0M483.2 322.1h0M514.9 323.6h0M485.0 324.7h0M468.0 322.4h0M489.1 322.2h0M493.7 322.3h0M461.9 324.6h0M482.4 321.2h0M557.2 324.6h0M563.0 323.0h0M619.0 323.0h0M598.3 324.6h0M618.2 322.3h0M491.9 323.8h0M541.9 323.5h0M625.0 324.0h0M537.5 322.3h0M566.8 321.3h0M568.7 324.8h0M608.4 324.8h0M499.1 322.5h0M612.7 321.9h0M561.0 323.5h0M560.5 324.5h0M467.5 288.6h0M469.1 289.1h0M526.0 290.7h0M473.2 290.8h0M468.7 288.1h0M462.5 291.2h0M462.6 289.8h0M471.8 291.2h0M458.5 289.9h0M479.6 289.0h0M458.5 290.5h0M458.2 291.4h0M473.7 291.6h0M460.6 291.1h0M483.2 288.8h0M458.5 291.7h0M476.3 289.9h0M541.2 288.8h0M615.8 291.2h0M473.2 268.3h0M475.1 272.1h0M457.1 268.3h0M481.6 271.4h0M499.2 268.7h0M506.6 269.0h0M464.5 268.5h0M463.6 268.3h0M477.0 269.2h0M456.4 269.1h0M456.4 269.6h0M473.5 269.5h0M460.0 269.0h0M501.5 269.7h0M511.1 271.7h0M484.6 269.0h0M469.4 269.7h0M485.7 270.3h0M572.1 271.9h0M471.6 255.2h0M455.5 257.0h0M454.9 230.4h0" stroke="#F8766D" stroke-width="1.10" stroke-linecap="round" fill="none" opacity="1.00"/><path d="M454.9 339.9C455.2 339.3 456.0 337.4 457.0 336.5C458.0 335.6 458.8 334.9 461.0 334.2C463.2 333.5 466.0 332.9 470.0 332.2C474.0 331.5 480.0 330.6 485.0 330.0C490.0 329.4 495.0 328.9 500.0 328.6C505.0 328.3 510.0 328.2 515.0 328.2C520.0 328.2 524.2 328.3 530.0 328.8C535.8 329.3 542.5 329.9 550.0 331.0C557.5 332.1 566.7 333.6 575.0 335.3C583.3 337.0 591.2 338.9 600.0 341.0C608.8 343.1 623.2 346.5 627.8 347.6" stroke="#111" stroke-width="0.75" fill="none"/><text x="644.3" y="280.3" font-size="4.80" text-anchor="start" fill="#000" stroke="#000" stroke-width="0.04" font-weight="normal" >celltype</text><circle cx="647.8" cy="286.6" r="0.55" fill="#F8766D"/><circle cx="647.8" cy="293.9" r="0.55" fill="#00BFC4"/><text x="654.2" y="288.1" font-size="4.20" text-anchor="start" fill="#000" stroke="#000" stroke-width="0.04" font-weight="normal" >Macrophages</text><text x="654.2" y="295.4" font-size="4.20" text-anchor="start" fill="#000" stroke="#000" stroke-width="0.04" font-weight="normal" >Microglia</text>
<path d="M447.9 406.0V558.6H637.5" stroke="#444" stroke-width="0.6" fill="none"/><text x="455.6" y="563.5" font-size="4.00" text-anchor="middle" fill="#4d4d4d" stroke="#4d4d4d" stroke-width="0.04" font-weight="normal" >0.0</text><text x="504.0" y="563.5" font-size="4.00" text-anchor="middle" fill="#4d4d4d" stroke="#4d4d4d" stroke-width="0.04" font-weight="normal" >0.5</text><text x="552.3" y="563.5" font-size="4.00" text-anchor="middle" fill="#4d4d4d" stroke="#4d4d4d" stroke-width="0.04" font-weight="normal" >1.0</text><text x="600.7" y="563.5" font-size="4.00" text-anchor="middle" fill="#4d4d4d" stroke="#4d4d4d" stroke-width="0.04" font-weight="normal" >1.5</text><text x="445.5" y="521.6" font-size="4.00" text-anchor="end" fill="#4d4d4d" stroke="#4d4d4d" stroke-width="0.04" font-weight="normal" >1</text><text x="445.5" y="472.8" font-size="4.00" text-anchor="end" fill="#4d4d4d" stroke="#4d4d4d" stroke-width="0.04" font-weight="normal" >3</text><text x="445.5" y="419.3" font-size="4.00" text-anchor="end" fill="#4d4d4d" stroke="#4d4d4d" stroke-width="0.04" font-weight="normal" >10</text><path d="M455.6 558.6v1.4M504.0 558.6v1.4M552.3 558.6v1.4M600.7 558.6v1.4M447.9 520.2h-1.4M447.9 471.4h-1.4M447.9 417.9h-1.4" stroke="#444" stroke-width="0.5" fill="none"/><text x="542.0" y="567.9" font-size="4.70" text-anchor="middle" fill="#000" stroke="#000" stroke-width="0.04" font-weight="normal" >pseudotime</text><text transform="translate(440.4 483.3) rotate(-90)" font-size="4.70" text-anchor="middle" stroke="#000" stroke-width="0.04">Expression</text><text x="542.0" y="404.0" font-size="4.20" text-anchor="middle" fill="#1a1a1a" stroke="#1a1a1a" stroke-width="0.04" font-weight="normal" >Cd163</text><path d="M479.4 551.2h0M457.2 549.0h0M460.6 552.3h0M479.8 551.5h0M532.3 550.3h0M467.7 550.3h0M477.3 550.4h0M455.9 552.0h0M460.5 549.8h0M463.3 551.9h0M472.2 551.2h0M461.9 550.1h0M488.4 549.3h0M479.2 553.1h0M463.8 551.9h0M462.8 553.1h0M506.7 552.1h0M511.9 552.7h0M459.1 552.8h0M478.4 552.6h0M501.1 551.2h0M461.2 549.1h0M464.0 549.3h0M479.6 550.9h0M469.6 549.1h0M459.9 550.7h0M460.6 549.9h0M456.1 552.5h0M543.1 551.0h0M456.5 553.0h0M473.4 552.8h0M484.9 550.8h0M460.8 549.9h0M464.1 550.3h0M480.3 553.0h0M481.6 552.1h0M458.0 550.9h0M474.6 552.1h0M483.9 552.2h0M487.7 552.8h0M468.6 551.1h0M501.7 551.0h0M500.3 549.4h0M462.6 552.3h0M477.6 550.5h0M479.9 553.0h0M481.1 549.6h0M467.5 550.0h0M481.4 550.4h0M462.9 552.4h0M488.2 552.7h0M457.8 549.8h0M478.2 552.1h0M470.5 549.0h0M460.0 551.1h0M464.1 550.2h0M468.0 552.1h0M459.9 549.0h0M460.9 549.6h0M461.5 552.6h0M463.5 552.1h0M506.2 551.1h0M461.4 551.7h0M525.3 549.9h0M492.2 549.1h0M457.1 553.1h0M520.7 550.6h0M458.0 551.8h0M485.9 552.0h0M470.6 552.2h0M479.5 550.1h0M460.6 552.3h0M488.0 551.0h0M476.4 550.5h0M461.7 552.0h0M464.3 549.0h0M465.3 550.8h0M455.6 553.1h0M458.9 551.2h0M470.6 550.3h0M458.1 549.8h0M477.8 551.9h0M483.4 552.6h0M465.1 552.9h0M468.6 550.7h0M457.6 552.0h0M479.1 552.6h0M458.6 552.2h0M458.7 552.1h0M486.4 550.8h0M455.9 552.7h0M456.2 552.2h0M508.9 550.1h0M464.3 551.7h0M455.9 552.5h0M488.3 550.3h0M499.6 549.4h0M459.8 550.1h0M458.4 551.9h0M470.5 550.6h0M459.5 552.3h0M478.6 551.3h0M459.3 552.2h0M477.0 552.9h0M472.0 551.9h0M471.1 549.2h0M474.2 552.2h0M520.3 549.2h0M461.1 549.5h0M487.2 552.5h0M482.6 551.9h0M479.2 550.0h0M469.1 552.2h0M457.8 550.3h0M456.6 551.2h0M463.7 553.0h0M455.8 549.6h0M491.5 552.5h0M461.8 549.4h0M472.5 549.4h0M455.8 551.0h0M466.4 553.0h0M561.0 549.5h0M457.6 549.9h0M504.2 551.2h0M487.9 549.8h0M464.5 550.0h0M461.0 548.9h0M489.3 549.2h0M456.7 552.4h0M466.8 549.9h0M471.0 550.0h0M474.8 551.1h0M474.4 549.0h0M466.1 551.4h0M457.0 552.2h0M471.9 551.8h0M455.9 552.4h0M482.6 552.5h0M477.2 551.2h0M466.3 552.5h0M491.7 550.2h0M476.9 552.8h0M477.9 552.4h0M471.3 552.9h0M465.6 552.6h0M465.5 552.0h0M523.7 550.5h0M495.2 552.4h0M485.3 551.9h0M467.5 550.5h0M458.5 550.6h0M501.0 551.6h0M471.7 550.5h0M493.6 549.8h0M470.8 549.4h0M458.0 549.2h0M465.8 551.1h0M458.5 550.4h0M471.7 551.9h0M474.9 550.4h0M477.5 552.5h0M485.0 551.6h0M458.0 551.4h0M474.4 552.1h0M497.6 553.0h0M497.1 548.9h0M489.0 551.6h0M462.7 551.9h0M469.1 549.0h0M457.6 550.1h0M461.3 550.8h0M481.2 550.4h0M465.3 550.3h0M456.3 550.0h0M458.3 551.3h0M462.6 549.8h0M457.9 552.7h0M460.9 552.5h0M465.9 552.6h0M468.9 550.8h0M493.5 550.0h0M480.8 551.6h0M517.1 553.0h0M462.9 550.8h0M456.5 552.1h0M471.0 549.3h0M478.9 552.0h0M457.4 549.7h0M475.0 552.5h0M501.3 551.9h0M467.1 550.7h0M524.8 551.8h0M469.7 552.9h0M507.9 551.4h0M501.8 552.1h0M478.7 553.1h0M462.0 551.7h0M464.2 551.9h0M497.3 549.9h0M480.3 550.6h0M470.9 551.8h0M485.1 550.2h0M477.0 550.7h0M471.2 552.1h0M464.9 551.6h0M500.8 551.7h0M462.9 551.2h0M519.5 549.1h0M489.7 551.9h0M491.2 551.5h0M462.9 550.5h0M459.9 550.9h0M500.0 552.1h0M465.4 549.2h0M455.7 551.1h0M462.9 550.8h0M462.1 551.6h0M466.2 552.3h0M458.6 550.9h0M459.9 552.7h0M456.9 552.9h0M516.1 549.2h0M457.1 553.1h0M466.7 550.5h0M477.6 549.5h0M480.8 549.0h0M457.6 550.0h0M489.2 550.1h0M470.9 551.6h0M469.6 551.9h0M465.3 551.9h0M461.9 552.9h0M463.8 552.0h0M490.6 550.4h0M475.6 550.6h0M585.2 551.7h0M457.3 549.9h0M485.4 552.8h0M458.8 551.7h0M458.9 551.6h0M463.3 551.1h0M459.4 552.1h0M480.9 551.4h0M463.0 552.7h0M480.8 551.3h0M474.3 550.4h0M484.5 549.3h0M457.7 550.6h0M471.7 551.9h0M480.9 551.3h0M458.9 549.3h0M466.7 550.5h0M458.8 549.5h0M470.9 549.0h0M487.1 551.6h0M487.0 550.9h0M460.4 551.5h0M458.0 550.6h0M531.4 548.9h0M480.8 552.5h0M456.8 549.9h0M522.9 553.1h0M480.1 551.3h0M467.6 549.2h0M469.9 551.0h0M477.2 552.4h0M516.6 552.2h0M461.1 550.9h0M478.1 549.8h0M489.8 553.0h0M473.9 550.7h0M474.0 549.8h0M479.3 550.4h0M482.4 549.1h0M464.1 549.0h0M458.7 552.2h0M468.4 551.9h0M472.5 552.0h0M489.7 550.0h0M472.0 549.4h0M465.6 552.2h0M460.8 549.7h0M462.3 551.5h0M462.2 550.9h0M491.7 549.0h0M461.8 550.8h0M481.1 550.1h0M486.3 552.2h0M478.7 552.1h0M474.8 552.0h0M482.9 552.6h0M456.5 549.8h0M473.5 549.7h0M465.8 552.5h0M501.5 550.8h0M463.5 550.6h0M492.5 550.4h0M464.7 550.0h0M478.1 552.3h0M519.9 550.4h0M463.7 550.2h0M461.8 551.8h0M480.1 552.1h0M514.4 551.2h0M457.4 550.2h0M463.7 551.9h0M456.3 550.0h0M464.4 551.8h0M477.6 553.0h0M461.0 550.7h0M495.1 551.6h0M460.5 549.7h0M459.8 551.8h0M466.3 550.7h0M457.7 551.7h0M477.6 550.3h0M490.7 548.9h0M536.1 549.6h0M478.5 549.0h0M458.2 551.2h0M489.9 549.2h0M460.9 549.9h0M461.9 548.9h0M473.5 551.9h0M472.0 552.5h0M457.1 550.7h0M462.0 552.1h0M553.6 553.0h0M459.4 549.6h0M483.4 549.8h0M462.5 550.4h0M465.4 549.3h0M477.4 549.4h0M478.7 551.5h0M463.3 552.8h0M460.7 549.0h0M474.9 549.0h0M483.0 549.5h0M489.0 551.1h0M485.8 552.4h0M462.2 550.7h0M485.6 550.3h0M455.7 550.2h0M456.4 549.0h0M550.6 549.8h0M459.0 550.3h0M459.9 549.7h0M461.8 551.2h0M489.8 550.5h0M485.4 551.7h0M477.0 550.4h0M467.1 552.1h0M456.9 550.1h0M458.9 552.1h0M457.9 552.3h0M456.4 552.3h0M483.7 551.1h0M490.4 552.6h0M504.5 549.5h0M467.0 549.9h0M466.5 550.7h0M466.8 550.8h0M457.2 550.0h0M463.7 550.8h0M474.2 549.4h0M464.7 550.6h0M527.3 549.9h0M467.1 550.5h0M455.9 548.9h0M461.4 550.7h0M456.5 552.1h0M486.1 549.2h0M458.8 552.6h0M473.7 549.1h0M467.3 550.7h0M470.5 550.4h0M511.1 550.4h0M462.0 549.3h0M467.4 551.1h0M466.3 552.0h0M489.3 550.2h0M461.0 549.0h0M459.2 550.5h0M459.1 550.5h0M471.2 552.3h0M474.2 551.8h0M456.3 548.9h0M460.1 549.7h0M470.3 549.3h0M469.8 551.3h0M474.0 552.7h0M486.8 552.3h0M476.8 552.2h0M457.1 550.6h0M492.5 550.6h0M457.3 553.0h0M462.7 549.0h0M474.5 552.7h0M465.3 549.1h0M469.5 551.2h0M526.5 549.8h0M471.2 551.2h0M486.5 551.9h0M514.0 549.8h0M456.6 552.3h0M483.9 551.2h0M493.3 552.6h0M455.7 553.0h0M484.0 551.4h0M487.6 549.4h0M459.3 552.9h0M458.6 549.1h0M472.6 551.1h0M494.4 551.7h0M489.8 551.2h0M478.4 552.4h0M467.4 550.6h0M456.0 550.8h0M461.5 549.5h0M511.1 552.4h0M484.8 552.9h0M505.7 552.7h0M489.0 548.8h0M461.2 552.7h0M458.9 549.9h0M457.0 551.8h0M457.4 550.3h0M482.0 552.8h0M508.3 553.0h0M529.7 550.5h0M468.1 552.4h0M459.9 551.5h0M466.2 549.2h0M522.2 549.9h0M472.3 550.3h0M463.5 551.8h0M460.5 550.4h0M458.6 552.5h0M462.4 552.7h0M462.7 551.9h0M473.8 550.4h0M458.9 552.3h0M470.7 552.3h0M457.3 551.9h0M474.0 550.7h0M464.7 549.7h0M456.2 551.5h0M477.3 552.4h0M460.1 550.5h0M458.3 550.6h0M481.3 550.1h0M455.9 549.0h0M474.0 552.1h0M477.2 553.1h0M485.2 551.0h0M459.4 550.0h0M502.5 551.6h0M458.3 550.4h0M464.3 551.3h0M469.8 551.1h0M472.2 551.3h0M483.2 552.9h0M462.6 550.9h0M460.3 552.2h0M475.3 550.6h0M465.2 550.2h0M458.1 550.1h0M457.4 550.4h0M479.3 549.1h0M471.7 549.0h0M508.0 549.1h0M472.8 549.5h0M459.6 549.6h0M456.7 551.1h0M531.4 550.7h0M458.3 551.0h0M456.2 552.4h0M516.2 551.6h0M470.4 552.4h0M478.1 550.9h0M497.1 550.7h0M482.5 551.0h0M487.0 552.5h0M477.2 553.0h0M458.1 551.1h0M496.7 553.1h0M463.7 550.5h0M471.6 549.7h0M469.8 549.0h0M457.3 551.1h0M481.8 552.7h0M456.2 549.7h0M466.2 551.4h0M483.8 549.1h0M482.5 549.8h0M458.5 552.7h0M458.7 551.5h0M483.9 552.8h0M462.8 551.3h0M481.5 551.0h0M489.3 549.7h0M469.8 550.2h0M461.9 549.8h0M522.4 549.4h0M460.4 552.1h0M464.7 550.5h0M456.8 552.8h0M458.6 552.8h0M485.4 550.7h0M495.7 550.8h0M464.9 551.4h0M468.7 553.0h0M486.9 549.8h0M460.8 551.7h0M465.0 552.7h0M456.0 552.1h0M459.5 551.9h0M490.4 551.8h0M496.5 553.0h0M463.7 551.6h0M477.0 552.3h0M474.1 552.3h0M460.8 549.3h0M462.1 551.4h0M544.4 552.4h0M461.1 552.8h0M476.6 549.3h0M462.8 551.7h0M457.9 552.9h0M479.3 549.4h0M493.7 550.6h0M459.1 549.3h0M483.2 549.9h0M488.9 551.4h0M479.1 550.1h0M488.1 549.8h0M481.1 550.5h0M456.0 549.5h0M455.8 550.3h0M460.1 548.9h0M458.1 551.0h0M456.3 549.7h0M464.7 551.3h0M463.0 549.5h0M473.5 549.2h0M462.4 550.4h0M460.6 553.0h0M457.3 552.9h0M456.3 550.4h0M475.1 552.8h0M571.4 551.9h0M490.1 552.3h0M463.9 549.2h0M470.1 550.2h0M462.4 553.1h0M474.2 552.1h0M473.6 549.6h0M456.0 549.9h0M481.8 551.2h0M459.4 551.3h0M478.4 550.5h0M465.6 551.9h0M475.2 552.8h0M497.5 551.4h0M463.7 549.2h0M469.7 549.7h0M459.5 550.7h0M473.9 549.2h0M457.3 549.7h0M460.6 552.8h0M466.2 549.9h0M528.3 553.1h0M505.0 552.9h0M462.3 550.5h0M458.5 552.1h0M459.5 549.5h0M457.8 550.9h0M472.1 551.7h0M459.4 549.9h0M480.8 549.7h0M502.1 552.7h0M463.9 551.9h0M471.5 550.0h0M592.3 549.8h0M504.3 552.9h0M457.6 549.0h0M456.5 551.1h0M471.6 550.9h0M467.3 550.8h0M562.2 549.3h0M459.0 550.9h0M458.1 550.6h0M462.0 551.2h0M460.4 551.9h0M464.5 552.8h0M467.8 550.3h0M500.3 548.9h0M475.5 550.6h0M501.6 549.6h0M455.7 550.7h0M457.4 550.4h0M470.6 551.6h0M482.7 549.3h0M525.3 552.0h0M505.3 551.1h0M536.5 550.9h0M486.2 549.7h0M462.8 549.4h0M481.1 550.4h0M472.6 550.3h0M464.1 552.1h0M471.0 551.0h0M497.6 550.5h0M458.6 549.2h0M495.0 553.0h0M461.3 551.5h0M457.0 549.4h0M462.1 551.2h0M460.9 552.7h0M462.7 553.0h0M477.4 548.9h0M476.9 552.3h0M457.0 550.9h0M456.9 553.0h0M501.0 549.4h0M456.1 550.2h0M489.2 550.0h0M461.2 550.5h0M456.8 550.8h0M474.1 552.7h0M511.1 551.4h0M474.6 550.2h0M468.5 550.8h0M462.6 550.6h0M459.7 551.0h0M470.0 551.5h0M479.3 550.0h0M469.4 550.1h0M459.9 551.4h0M483.9 549.0h0M482.8 549.7h0M457.4 552.0h0M458.5 550.2h0M468.9 552.7h0M471.0 551.2h0M492.0 552.0h0M492.2 551.3h0M478.4 551.7h0M492.5 550.5h0M459.2 551.1h0M458.1 549.8h0M502.0 549.2h0M461.1 549.9h0M459.4 550.0h0M461.0 550.1h0M500.1 549.0h0M467.2 549.6h0M469.2 551.7h0M457.6 549.2h0M481.9 549.4h0M467.8 552.5h0M461.9 553.1h0M462.2 552.9h0M475.0 551.5h0M482.6 551.1h0M467.8 549.8h0M476.1 550.3h0M488.9 550.1h0M471.7 550.4h0M502.2 552.2h0M491.5 551.2h0M457.0 549.6h0M460.4 552.5h0M456.6 551.4h0M457.3 551.0h0M495.7 549.4h0M502.8 549.8h0M477.7 552.5h0M469.3 551.4h0M487.7 552.9h0M457.2 552.9h0M521.1 552.5h0M501.5 549.7h0M492.4 550.2h0M466.5 551.3h0M495.9 552.8h0M520.6 549.7h0M483.5 549.7h0M477.2 551.7h0M458.4 550.4h0M460.7 549.5h0M480.6 553.0h0M472.3 552.8h0M484.1 549.2h0M466.4 552.3h0M458.5 548.9h0M495.4 552.4h0M475.3 553.1h0M495.9 550.4h0M516.8 551.8h0M479.3 551.5h0M458.1 548.9h0M476.2 549.7h0M493.6 550.1h0M459.7 550.1h0M495.4 551.7h0M465.4 549.9h0M493.7 548.9h0M467.7 551.9h0M459.0 549.2h0M456.2 552.1h0M456.5 550.5h0M461.3 549.7h0M539.5 552.9h0M471.4 550.0h0M472.5 549.8h0M465.6 552.7h0M489.2 552.6h0M456.1 549.7h0M458.8 552.9h0M476.3 552.4h0M457.5 551.5h0M456.2 551.3h0M469.5 552.0h0M490.4 551.7h0M470.3 551.2h0M477.8 549.2h0M465.3 550.4h0M458.4 552.1h0M494.0 551.8h0M494.5 551.8h0M469.8 552.4h0M457.4 550.0h0M457.6 552.1h0M460.8 551.3h0M464.1 552.2h0M456.2 551.1h0M469.7 551.9h0M456.5 551.8h0M484.3 549.5h0M498.0 551.0h0M488.3 553.1h0M477.5 550.5h0M459.8 550.4h0M471.0 551.0h0M508.5 550.9h0M477.4 551.1h0M463.1 552.8h0M478.6 550.6h0M476.2 549.7h0M460.4 552.2h0M460.5 551.2h0M467.7 549.9h0M455.9 550.5h0M580.2 551.1h0M458.8 551.1h0M466.7 551.2h0M455.7 551.0h0M466.1 552.6h0M481.8 551.0h0M463.7 549.6h0M455.6 552.2h0M532.8 551.6h0M455.9 552.0h0M464.4 550.1h0M467.3 550.0h0M466.2 551.0h0M459.7 552.4h0M520.1 549.9h0M473.2 550.3h0M465.2 550.9h0M466.2 551.8h0M480.5 551.1h0M503.0 549.0h0M459.5 551.3h0M464.7 551.8h0M468.4 549.3h0M465.2 550.3h0M473.0 552.6h0M463.1 549.8h0M476.2 552.4h0M456.8 552.7h0M475.6 550.7h0M458.2 550.3h0M495.8 551.2h0M462.4 551.3h0M477.3 552.1h0M464.9 549.5h0M460.0 551.6h0M457.4 548.9h0M458.5 552.0h0M470.6 549.6h0M466.8 550.1h0M488.2 552.4h0M484.3 551.2h0M470.5 549.5h0M461.7 548.9h0M470.5 552.9h0M469.3 549.9h0M467.3 551.2h0M467.7 551.1h0M478.2 550.2h0M456.0 549.1h0M484.8 552.6h0M494.1 550.7h0M506.4 551.1h0M489.3 551.3h0M541.2 552.6h0M456.7 550.0h0M471.0 549.8h0M475.7 550.7h0M473.8 553.0h0M468.6 551.7h0M457.7 550.2h0M489.4 551.8h0M457.8 549.2h0M456.4 551.6h0M516.1 552.6h0M477.6 552.6h0M460.0 549.3h0M465.7 550.8h0M466.5 552.9h0M548.7 552.9h0M508.2 552.8h0M504.9 551.5h0M462.9 552.5h0M465.1 551.1h0M460.3 549.1h0M461.5 552.4h0M469.7 549.9h0M457.8 549.5h0M479.0 551.0h0M455.8 552.7h0M463.4 550.4h0M483.4 549.1h0M476.5 551.2h0M482.8 551.1h0M471.2 552.5h0M455.7 551.5h0M463.2 549.6h0M478.0 549.6h0M462.2 549.0h0M469.4 553.0h0M484.2 552.8h0M456.4 551.3h0M455.8 551.9h0M482.0 552.2h0M514.0 552.0h0M474.2 551.0h0M462.1 549.8h0M561.1 549.3h0M457.2 553.1h0M460.7 550.1h0M461.7 551.4h0M484.2 551.8h0M465.8 550.9h0M460.0 552.1h0M468.3 550.9h0M456.3 551.8h0M460.6 550.9h0M482.7 552.4h0M514.7 549.3h0M470.7 552.2h0M465.1 552.4h0M462.1 552.5h0M489.2 552.2h0M456.1 551.1h0M467.0 553.0h0M460.0 550.8h0M489.3 552.5h0M504.7 552.0h0M488.1 552.6h0M555.7 550.9h0M493.5 550.5h0M462.4 552.9h0M459.7 552.5h0M458.2 551.3h0M470.6 552.6h0M466.0 552.9h0M464.6 550.9h0M470.7 549.4h0M462.0 550.3h0M461.2 551.2h0M484.0 549.5h0M463.7 552.2h0M472.6 550.1h0M465.7 552.4h0M464.5 549.1h0M465.2 552.2h0M523.9 549.8h0M511.2 549.6h0M512.0 548.9h0M457.6 552.2h0M456.8 551.6h0M480.5 550.4h0M493.0 550.5h0M498.5 549.1h0M484.4 550.5h0M471.9 551.3h0M474.4 551.6h0M462.5 551.4h0M525.5 552.7h0M505.2 549.6h0M465.8 550.3h0M469.8 549.6h0M458.3 549.7h0M461.4 549.4h0M461.7 549.5h0M479.0 549.1h0M482.5 552.5h0M471.4 549.1h0M479.3 549.7h0M469.5 550.6h0M470.8 549.6h0M459.4 551.6h0M496.6 550.8h0M480.6 553.1h0M464.2 552.3h0M458.7 550.9h0M456.7 553.0h0M471.9 549.0h0M485.4 552.8h0M543.1 549.4h0M498.2 552.1h0M512.1 551.7h0M467.8 549.7h0M490.9 551.7h0M459.6 551.1h0M461.0 550.8h0M478.0 552.9h0M489.1 550.2h0M553.0 552.3h0M479.7 550.4h0M460.1 550.7h0M464.7 552.1h0M456.9 550.3h0M463.0 550.2h0M489.5 550.5h0M466.7 551.4h0M455.7 550.1h0M460.2 550.9h0M479.0 550.8h0M456.4 551.3h0M456.6 550.1h0M459.7 550.2h0M456.9 549.5h0M478.2 549.5h0M468.4 551.3h0M461.1 553.1h0M491.3 552.1h0M484.5 549.0h0M504.5 552.3h0M464.6 550.9h0M472.7 552.5h0M494.1 552.8h0M472.2 549.4h0M465.0 550.4h0M462.7 551.3h0M464.3 552.1h0M461.1 552.0h0M480.9 552.3h0M482.4 550.4h0M459.7 550.2h0M480.0 549.4h0M465.6 549.1h0M574.4 550.8h0M462.2 550.1h0M460.7 551.9h0M465.9 549.3h0M470.7 549.6h0M496.7 551.4h0M472.9 551.8h0M469.7 550.6h0M471.9 552.2h0M472.3 550.0h0M459.2 552.3h0M456.6 551.6h0M459.5 550.2h0M457.5 551.7h0M467.3 552.5h0M466.6 551.8h0M471.6 551.9h0M475.1 549.2h0M463.1 550.6h0M489.0 549.3h0M468.5 551.4h0M471.2 551.5h0M461.6 551.7h0M457.8 549.9h0M486.1 550.6h0M529.9 550.8h0M462.9 549.3h0M472.3 552.7h0M465.0 549.2h0M471.5 552.6h0M483.3 551.8h0M476.9 549.4h0M465.3 550.7h0M461.0 553.1h0M501.1 552.0h0M472.5 551.3h0M456.2 553.0h0M479.5 550.7h0M470.1 552.0h0M472.5 549.1h0M462.9 550.9h0M499.9 552.1h0M486.6 551.7h0M463.2 552.0h0M481.2 552.2h0M463.1 549.8h0M495.4 548.9h0M463.5 550.2h0M473.2 549.4h0M484.0 552.9h0M504.2 550.0h0M472.8 550.5h0M456.4 549.2h0M474.0 552.7h0M462.0 549.8h0M464.6 551.7h0M455.7 548.9h0M480.2 550.6h0M476.5 550.1h0M459.6 550.9h0M457.3 550.5h0M483.7 552.3h0M468.3 550.8h0M456.0 548.9h0M475.1 552.8h0M469.8 549.1h0M494.1 551.7h0M474.8 552.8h0M516.7 548.9h0M478.3 549.6h0M472.8 550.8h0M490.8 552.3h0M472.9 551.8h0M463.6 551.5h0M465.9 549.5h0M471.4 550.0h0M462.1 548.9h0M458.3 552.0h0M502.3 552.0h0M475.7 549.9h0M466.6 549.4h0M525.6 550.9h0M472.6 550.2h0M467.3 552.1h0M457.5 549.7h0M461.6 551.9h0M508.4 549.0h0M456.5 549.8h0M546.9 550.9h0M541.4 551.0h0M458.8 549.4h0M459.8 549.0h0M465.2 551.4h0M464.2 552.3h0M464.1 552.6h0M515.2 552.3h0M487.0 549.8h0M474.3 549.9h0M462.4 551.6h0M467.2 551.5h0M459.8 550.0h0M497.7 551.9h0M462.5 549.8h0M475.3 550.1h0M464.9 548.9h0M456.7 551.1h0M477.9 551.3h0M487.4 550.2h0M456.0 550.0h0M460.5 551.5h0M476.9 551.3h0M459.0 549.8h0M469.4 551.2h0M494.4 552.4h0M465.8 551.6h0M483.6 551.6h0M463.6 551.4h0M458.1 552.0h0M464.3 549.1h0M463.2 550.1h0M456.3 551.0h0M504.7 550.8h0M478.8 551.7h0M458.0 551.1h0M493.1 550.7h0M475.8 553.1h0M487.9 549.7h0M464.0 549.5h0M455.8 552.1h0M474.9 552.1h0M467.0 551.8h0M489.8 552.0h0M482.6 550.2h0M462.0 552.8h0M495.4 549.1h0M461.9 549.9h0M475.5 549.4h0M458.3 552.7h0M457.7 552.0h0M473.1 550.0h0M484.2 552.4h0M462.7 551.9h0M486.5 551.0h0M462.6 550.1h0M489.5 553.0h0M507.3 553.0h0M457.9 549.7h0M460.2 549.6h0M491.2 548.9h0M479.7 551.2h0M515.5 551.1h0M480.7 549.1h0M464.7 551.3h0M463.1 551.1h0M468.8 551.6h0M478.6 552.3h0M458.9 550.8h0M457.3 553.1h0M493.7 552.0h0M456.5 550.7h0M488.5 553.1h0M479.1 552.0h0M475.8 550.4h0M479.8 551.2h0M506.8 549.7h0M487.7 549.8h0M485.9 551.6h0M464.8 552.0h0M487.6 550.1h0M461.4 550.2h0M523.2 552.2h0M481.8 551.1h0M465.2 552.2h0M477.7 553.1h0M457.8 550.5h0M498.3 550.5h0M471.1 549.8h0M472.9 549.7h0M478.9 552.7h0M460.9 549.8h0M467.4 549.6h0M460.9 551.4h0M505.0 551.4h0M489.3 550.2h0M491.0 552.0h0M461.6 550.0h0M512.7 550.8h0M489.4 553.0h0M498.4 551.9h0M477.2 551.3h0M466.0 549.4h0M468.2 549.8h0M467.6 551.1h0M463.7 550.4h0M498.8 551.3h0M533.8 552.3h0M578.1 551.1h0M520.1 551.4h0M483.2 551.7h0M556.6 552.3h0M515.2 549.0h0M481.5 552.3h0M605.4 551.7h0M560.3 551.1h0M490.5 549.1h0M495.6 550.4h0M458.7 549.2h0M622.3 551.0h0M600.5 549.3h0M607.7 550.0h0M513.4 549.3h0M581.8 549.0h0M514.6 549.2h0M621.1 552.6h0M494.5 552.1h0M491.9 550.2h0M495.5 552.0h0M486.6 551.1h0M518.0 550.1h0M468.7 552.3h0M466.2 521.7h0M462.1 518.6h0M493.0 518.7h0M522.9 519.9h0M529.6 518.3h0M457.3 520.2h0M506.7 521.7h0M504.2 521.9h0M457.5 521.4h0M457.4 520.6h0M461.3 518.5h0M459.4 519.7h0M464.3 518.1h0M498.5 520.0h0M457.1 521.7h0M469.6 519.9h0M468.4 489.1h0M461.8 487.4h0M457.5 491.2h0M457.8 490.1h0M459.1 489.8h0M460.6 488.6h0M457.3 456.9h0M461.9 458.6h0M464.5 458.7h0M456.6 447.2h0M459.2 447.7h0M455.7 438.8h0" stroke="#00BFC4" stroke-width="1.24" stroke-linecap="round" fill="none" opacity="1.00"/><path d="M529.4 549.0h0M472.5 551.7h0M535.6 550.6h0M470.2 550.7h0M500.9 551.6h0M504.3 551.9h0M546.8 552.0h0M472.5 548.9h0M560.2 549.0h0M507.8 551.0h0M494.7 549.5h0M471.3 551.9h0M486.5 549.6h0M469.4 550.2h0M480.0 549.6h0M474.6 553.1h0M474.6 551.8h0M496.1 550.4h0M486.7 551.7h0M523.8 553.0h0M503.8 549.7h0M507.2 550.2h0M459.5 550.5h0M481.1 551.8h0M489.3 553.1h0M458.7 550.2h0M581.6 549.6h0M502.9 550.2h0M504.2 549.6h0M503.7 549.7h0M481.1 551.8h0M466.1 550.9h0M521.6 549.8h0M501.0 550.5h0M523.4 549.7h0M492.8 550.7h0M475.1 551.0h0M592.0 549.0h0M518.0 551.3h0M467.7 551.2h0M516.2 549.0h0M460.9 551.2h0M497.7 550.1h0M472.2 548.9h0M471.8 551.2h0M481.0 549.8h0M465.5 553.1h0M486.7 552.2h0M548.2 551.8h0M552.9 552.0h0M478.3 549.5h0M493.6 552.5h0M529.4 552.9h0M468.9 552.6h0M493.1 552.0h0M525.1 549.5h0M522.9 549.6h0M515.0 550.8h0M501.8 551.5h0M497.1 550.4h0M516.4 550.7h0M526.5 552.6h0M546.0 551.3h0M507.9 549.3h0M524.5 549.2h0M491.0 549.8h0M474.5 552.1h0M471.7 552.5h0M525.4 551.6h0M523.3 551.9h0M483.8 551.2h0M466.2 552.4h0M504.2 553.1h0M474.0 553.1h0M474.4 553.1h0M543.0 549.1h0M520.6 549.7h0M479.9 550.1h0M477.0 549.7h0M545.8 552.0h0M577.5 550.2h0M492.7 550.4h0M483.0 550.4h0M455.9 549.2h0M531.5 549.5h0M469.4 550.2h0M475.6 552.0h0M475.0 549.9h0M525.9 549.8h0M531.9 552.7h0M478.2 552.6h0M474.9 552.7h0M470.2 551.9h0M526.2 553.0h0M489.0 552.2h0M494.5 550.9h0M482.3 550.8h0M464.4 549.0h0M519.6 549.3h0M463.2 550.2h0M510.2 552.5h0M529.4 549.6h0M493.7 549.4h0M480.6 550.4h0M472.6 549.8h0M478.1 549.3h0M586.1 549.1h0M510.9 552.9h0M468.3 551.3h0M509.8 552.3h0M574.1 548.9h0M477.0 551.3h0M500.4 551.0h0M476.1 549.7h0M509.4 552.4h0M463.4 549.6h0M484.2 549.1h0M524.6 549.9h0M502.7 549.6h0M474.2 550.0h0M519.6 549.2h0M493.3 551.0h0M459.1 550.6h0M481.7 552.1h0M483.2 549.0h0M471.8 552.8h0M501.8 551.3h0M468.8 550.8h0M474.8 551.8h0M460.6 551.5h0M573.5 549.6h0M490.0 552.3h0M478.6 551.8h0M492.3 551.8h0M472.4 551.2h0M519.8 552.1h0M526.2 553.1h0M475.7 550.7h0M491.6 549.3h0M494.3 550.6h0M465.2 552.5h0M481.3 549.5h0M473.7 552.0h0M523.9 549.0h0M477.2 550.1h0M474.9 551.3h0M471.8 550.8h0M481.2 551.2h0M480.1 549.5h0M517.1 552.7h0M510.9 551.6h0M483.2 551.5h0M536.3 552.6h0M529.1 552.1h0M547.1 548.9h0M465.0 551.7h0M526.8 550.4h0M526.0 550.5h0M487.4 552.2h0M505.4 549.4h0M495.3 550.0h0M525.5 551.4h0M528.8 550.0h0M469.2 552.5h0M499.0 549.5h0M468.2 551.8h0M477.5 549.9h0M495.3 549.2h0M508.7 551.7h0M461.2 551.8h0M498.0 550.8h0M469.0 550.8h0M465.9 551.7h0M460.1 553.0h0M582.1 552.4h0M556.9 552.3h0M524.5 548.9h0M474.3 551.4h0M491.6 551.0h0M536.5 548.9h0M496.8 551.0h0M462.7 550.6h0M492.4 551.1h0M510.1 552.2h0M481.4 551.7h0M505.2 550.7h0M463.2 551.2h0M500.1 553.1h0M564.7 550.8h0M532.7 548.9h0M470.5 549.2h0M476.2 549.8h0M481.8 552.8h0M479.0 549.8h0M476.0 550.4h0M522.5 549.9h0M514.6 550.1h0M523.6 549.0h0M469.4 549.7h0M500.8 552.2h0M515.8 551.0h0M506.2 550.4h0M526.7 549.8h0M457.5 549.2h0M491.9 551.1h0M552.5 549.2h0M513.4 551.3h0M504.3 552.6h0M462.5 550.0h0M520.7 549.0h0M476.1 551.6h0M507.0 553.0h0M525.4 549.9h0M533.0 551.9h0M463.9 551.0h0M461.7 551.0h0M503.6 549.3h0M463.6 550.0h0M538.8 549.8h0M470.5 549.3h0M486.9 551.8h0M506.0 550.5h0M456.1 550.6h0M523.8 549.2h0M505.2 549.8h0M493.6 550.1h0M495.8 551.8h0M472.7 549.3h0M499.8 551.4h0M494.7 549.1h0M537.7 553.0h0M518.6 549.4h0M484.2 551.9h0M502.7 552.5h0M464.8 549.4h0M483.7 550.8h0M522.5 551.8h0M471.7 549.4h0M457.3 553.0h0M469.5 552.6h0M514.5 549.6h0M516.6 550.4h0M483.0 549.2h0M549.7 551.4h0M495.1 549.0h0M471.2 552.8h0M520.9 549.4h0M472.1 549.8h0M560.6 549.7h0M477.6 552.1h0M495.4 552.6h0M496.9 552.2h0M472.5 550.0h0M534.1 550.9h0M492.8 551.2h0M520.4 553.0h0M498.4 549.3h0M517.1 552.5h0M501.1 550.9h0M468.8 549.7h0M496.5 552.5h0M480.7 553.0h0M480.0 551.5h0M482.6 549.0h0M489.4 551.6h0M532.4 551.7h0M515.0 551.2h0M477.5 550.9h0M493.3 549.4h0M467.9 550.4h0M483.3 553.0h0M535.0 549.0h0M492.2 553.0h0M476.9 550.0h0M484.8 553.1h0M472.1 550.8h0M534.5 553.0h0M459.1 552.3h0M498.0 552.5h0M519.4 549.3h0M502.1 552.8h0M490.1 553.0h0M489.0 550.4h0M565.5 549.3h0M464.7 551.9h0M537.3 552.5h0M482.5 549.2h0M467.5 549.4h0M470.7 550.6h0M504.0 552.4h0M481.2 552.3h0M463.4 552.5h0M489.9 552.7h0M502.7 552.6h0M479.8 552.0h0M476.9 552.1h0M510.4 549.0h0M531.7 551.8h0M468.4 552.2h0M466.2 553.1h0M484.5 551.8h0M492.5 551.7h0M603.2 549.5h0M498.9 549.5h0M466.3 552.0h0M496.0 552.9h0M563.1 548.9h0M527.0 552.7h0M486.2 552.6h0M507.9 549.3h0M465.9 551.0h0M483.9 549.7h0M478.4 550.2h0M488.9 549.0h0M468.2 552.5h0M542.4 549.4h0M495.4 549.6h0M464.0 549.6h0M505.9 551.0h0M494.6 552.2h0M481.4 552.7h0M488.3 550.8h0M463.8 550.9h0M537.6 550.7h0M461.4 552.1h0M475.7 550.8h0M537.5 551.5h0M474.6 552.1h0M494.5 549.8h0M499.7 550.4h0M481.8 548.9h0M492.4 549.1h0M488.1 552.5h0M548.3 551.6h0M517.9 550.6h0M478.0 549.6h0M506.0 551.9h0M493.9 552.0h0M540.6 552.1h0M594.3 552.9h0M595.2 551.8h0M616.8 552.7h0M535.4 549.8h0M594.4 549.9h0M592.1 552.3h0M610.1 550.2h0M507.6 550.1h0M523.5 551.5h0M512.4 549.9h0M540.6 551.7h0M538.1 551.3h0M557.5 549.0h0M525.8 549.9h0M575.5 550.1h0M538.2 549.9h0M574.8 549.2h0M537.8 551.1h0M492.9 552.8h0M619.4 550.2h0M552.3 551.9h0M570.5 551.5h0M591.2 552.0h0M581.0 550.7h0M489.4 549.7h0M585.5 549.1h0M501.6 550.1h0M545.0 551.7h0M510.0 550.9h0M511.6 549.7h0M589.9 549.1h0M533.1 551.7h0M585.6 552.2h0M475.9 520.4h0M468.1 520.9h0M462.1 521.5h0M489.0 521.7h0M456.5 522.1h0M474.5 518.7h0M459.2 519.9h0M472.5 521.9h0M457.0 521.1h0M480.3 521.4h0M467.9 521.3h0M530.3 521.4h0M496.6 521.9h0M478.1 518.5h0M471.5 521.5h0M474.0 519.8h0M496.0 522.3h0M496.5 520.6h0M467.7 521.0h0M479.5 521.9h0M469.7 522.1h0M462.3 518.4h0M509.8 518.7h0M461.4 520.2h0M482.6 521.4h0M484.1 519.3h0M478.4 520.5h0M460.5 519.3h0M466.1 519.9h0M455.9 520.5h0M466.5 520.3h0M461.7 520.0h0M461.9 518.9h0M456.0 518.8h0M455.9 520.1h0M500.8 519.6h0M468.3 522.3h0M469.4 520.3h0M465.6 520.3h0M481.0 518.8h0M511.5 520.7h0M472.5 521.7h0M463.8 518.6h0M470.6 521.8h0M462.4 519.9h0M458.4 519.6h0M478.6 518.5h0M497.1 519.6h0M458.3 520.1h0M458.0 519.8h0M502.1 522.3h0M467.7 521.4h0M460.2 519.5h0M490.1 519.9h0M529.3 518.1h0M468.0 518.4h0M480.0 520.2h0M474.4 520.7h0M459.1 522.0h0M497.1 521.9h0M470.2 518.2h0M536.7 520.6h0M508.0 520.3h0M511.8 521.9h0M481.1 518.1h0M519.2 520.2h0M472.1 518.6h0M467.4 519.9h0M508.3 521.0h0M488.7 519.6h0M456.7 519.1h0M482.5 522.2h0M457.8 521.9h0M507.8 521.8h0M533.8 520.4h0M509.8 519.1h0M535.6 520.6h0M474.4 521.4h0M494.2 518.6h0M515.0 518.9h0M479.7 520.4h0M457.4 487.5h0M467.4 490.4h0M461.2 490.9h0M457.3 490.5h0M461.8 491.3h0M457.1 491.2h0M465.5 489.7h0M457.5 491.0h0M463.3 490.2h0M474.3 489.6h0M469.9 487.8h0M475.0 487.8h0M465.3 488.7h0M457.0 489.9h0M462.9 491.2h0M460.8 488.5h0M465.4 488.1h0M473.7 490.5h0M479.4 488.0h0M461.3 489.5h0M456.6 489.7h0M463.4 488.5h0M480.4 491.3h0M459.1 489.7h0M469.1 491.2h0M459.0 488.7h0M458.5 490.7h0M470.7 489.8h0M457.1 489.8h0M459.2 491.4h0M493.0 489.6h0M479.7 488.7h0M463.1 488.8h0M509.1 489.0h0M505.6 489.5h0M534.9 489.2h0M526.7 491.0h0M473.2 470.0h0M456.0 472.5h0M458.9 469.9h0M465.7 471.9h0M458.5 470.0h0M458.6 471.5h0M462.7 473.0h0M471.1 470.3h0M456.6 473.1h0M455.9 472.1h0M460.4 470.4h0M461.7 472.4h0M456.3 469.4h0M473.0 470.4h0M461.9 471.4h0M461.8 469.9h0M461.0 471.8h0M456.8 472.4h0M467.3 472.0h0M465.2 469.3h0M475.6 472.9h0M462.3 470.4h0M462.6 470.6h0M457.5 470.2h0M459.2 469.4h0M460.3 473.5h0M459.6 473.1h0M465.8 471.4h0M461.1 469.4h0M474.2 472.7h0M460.2 473.4h0M456.8 471.2h0M456.9 469.4h0M458.0 473.2h0M464.2 470.2h0M486.5 473.1h0M457.5 469.3h0M466.7 473.2h0M530.7 472.7h0M497.4 469.7h0M470.5 471.6h0M512.1 473.3h0M532.7 472.4h0M492.8 472.2h0M500.8 470.7h0M487.9 470.5h0M455.8 456.8h0M463.1 457.3h0M460.6 457.3h0M471.1 458.6h0M460.1 456.7h0M459.3 460.0h0M462.4 460.2h0M463.4 459.3h0M459.5 460.0h0M462.0 457.1h0M463.8 459.6h0M458.0 460.7h0M460.4 458.7h0M456.4 460.4h0M470.2 456.6h0M456.7 458.4h0M469.6 456.8h0M459.8 460.6h0M466.9 460.3h0M458.7 456.7h0M507.7 457.0h0M465.0 456.9h0M464.1 448.5h0M467.1 448.3h0M466.4 449.0h0M460.0 449.3h0M456.5 450.7h0M470.6 448.2h0M463.6 448.7h0M457.4 449.8h0M464.2 447.7h0M460.1 449.5h0M492.7 447.4h0M502.4 447.0h0M462.8 441.8h0M457.4 440.6h0M473.4 440.9h0M464.8 441.6h0M460.8 441.8h0M462.1 441.6h0M462.7 440.3h0M465.4 441.4h0M459.4 442.2h0M488.7 440.1h0M465.1 432.1h0M457.0 431.9h0M467.6 434.4h0M456.5 434.6h0M470.9 433.2h0M460.1 434.8h0M480.2 434.6h0M458.9 429.2h0M462.3 429.1h0M474.8 429.7h0M464.4 425.7h0M458.7 423.9h0M459.1 422.5h0M461.2 422.7h0M495.3 423.3h0M469.9 411.7h0" stroke="#F8766D" stroke-width="1.10" stroke-linecap="round" fill="none" opacity="1.00"/><path d="M455.6 551.4L629 551.6" stroke="#111" stroke-width="0.75" fill="none"/><text x="644.3" y="474.5" font-size="4.80" text-anchor="start" fill="#000" stroke="#000" stroke-width="0.04" font-weight="normal" >celltype</text><circle cx="647.8" cy="480.8" r="0.55" fill="#F8766D"/><circle cx="647.8" cy="488.1" r="0.55" fill="#00BFC4"/><text x="654.2" y="482.3" font-size="4.20" text-anchor="start" fill="#000" stroke="#000" stroke-width="0.04" font-weight="normal" >Macrophages</text><text x="654.2" y="489.6" font-size="4.20" text-anchor="start" fill="#000" stroke="#000" stroke-width="0.04" font-weight="normal" >Microglia</text>
<path d="M447.9 599.9V750.0H637.8" stroke="#444" stroke-width="0.6" fill="none"/><text x="456.0" y="754.9" font-size="4.00" text-anchor="middle" fill="#4d4d4d" stroke="#4d4d4d" stroke-width="0.04" font-weight="normal" >0.0</text><text x="504.2" y="754.9" font-size="4.00" text-anchor="middle" fill="#4d4d4d" stroke="#4d4d4d" stroke-width="0.04" font-weight="normal" >0.5</text><text x="552.4" y="754.9" font-size="4.00" text-anchor="middle" fill="#4d4d4d" stroke="#4d4d4d" stroke-width="0.04" font-weight="normal" >1.0</text><text x="600.6" y="754.9" font-size="4.00" text-anchor="middle" fill="#4d4d4d" stroke="#4d4d4d" stroke-width="0.04" font-weight="normal" >1.5</text><text x="445.5" y="712.3" font-size="4.00" text-anchor="end" fill="#4d4d4d" stroke="#4d4d4d" stroke-width="0.04" font-weight="normal" >1</text><text x="445.5" y="664.4" font-size="4.00" text-anchor="end" fill="#4d4d4d" stroke="#4d4d4d" stroke-width="0.04" font-weight="normal" >3</text><text x="445.5" y="611.9" font-size="4.00" text-anchor="end" fill="#4d4d4d" stroke="#4d4d4d" stroke-width="0.04" font-weight="normal" >10</text><path d="M456.0 750.0v1.4M504.2 750.0v1.4M552.4 750.0v1.4M600.6 750.0v1.4M447.9 710.9h-1.4M447.9 663.0h-1.4M447.9 610.5h-1.4" stroke="#444" stroke-width="0.5" fill="none"/><text x="542.6" y="759.3" font-size="4.70" text-anchor="middle" fill="#000" stroke="#000" stroke-width="0.04" font-weight="normal" >pseudotime</text><text transform="translate(440.4 676.0) rotate(-90)" font-size="4.70" text-anchor="middle" stroke="#000" stroke-width="0.04">Expression</text><text x="542.6" y="597.9" font-size="4.20" text-anchor="middle" fill="#1a1a1a" stroke="#1a1a1a" stroke-width="0.04" font-weight="normal" >Vasp</text><path d="M492.3 741.8h0M490.0 741.5h0M456.8 740.4h0M459.3 740.7h0M475.5 742.5h0M481.7 740.7h0M456.1 739.2h0M472.1 741.0h0M467.3 739.6h0M457.0 741.1h0M473.1 741.3h0M461.3 740.7h0M469.3 739.2h0M484.8 739.5h0M460.1 741.5h0M464.8 742.3h0M466.1 741.5h0M478.6 741.3h0M464.3 742.8h0M461.8 740.7h0M503.0 742.3h0M460.5 741.6h0M460.0 741.4h0M457.9 740.8h0M472.5 742.8h0M475.7 741.4h0M457.7 739.4h0M489.1 743.1h0M468.1 742.9h0M459.0 741.8h0M504.9 743.1h0M458.1 742.1h0M471.4 740.3h0M456.7 742.2h0M473.8 741.6h0M465.2 739.9h0M477.7 741.4h0M464.4 743.1h0M485.8 743.1h0M501.8 742.9h0M468.4 740.0h0M462.5 740.5h0M478.1 739.8h0M470.5 740.5h0M461.5 743.0h0M490.1 739.8h0M488.9 739.9h0M456.2 740.3h0M461.2 740.2h0M463.3 740.6h0M461.9 742.5h0M462.3 740.5h0M461.2 742.1h0M493.0 742.5h0M464.7 739.0h0M463.0 742.7h0M467.8 740.3h0M464.2 742.9h0M456.4 739.3h0M469.6 741.2h0M537.8 742.0h0M460.2 741.8h0M463.7 739.1h0M476.3 739.9h0M483.8 739.3h0M462.1 742.9h0M487.4 740.0h0M477.3 742.7h0M559.5 740.0h0M489.0 742.1h0M463.1 742.4h0M468.8 741.0h0M474.4 742.8h0M521.5 739.1h0M472.6 742.3h0M480.7 742.9h0M476.1 739.9h0M475.0 741.2h0M474.9 743.1h0M470.5 742.4h0M463.9 742.4h0M472.5 740.2h0M497.6 741.9h0M549.3 743.0h0M525.4 741.8h0M480.0 743.2h0M466.6 740.9h0M494.5 740.1h0M469.2 742.1h0M461.3 742.3h0M461.5 739.9h0M460.1 740.5h0M470.4 739.4h0M477.4 740.8h0M494.3 740.6h0M468.4 743.0h0M489.6 742.4h0M462.3 742.9h0M478.3 740.3h0M469.5 740.0h0M474.5 740.4h0M462.0 739.4h0M467.9 739.0h0M470.7 741.6h0M458.1 740.6h0M488.6 740.5h0M459.7 740.7h0M456.9 739.4h0M494.7 739.1h0M473.7 739.3h0M495.7 739.2h0M481.0 741.8h0M472.8 741.2h0M461.2 739.3h0M467.2 740.5h0M462.4 739.3h0M456.4 741.3h0M461.6 742.2h0M522.7 739.6h0M471.0 742.7h0M463.3 742.4h0M461.7 743.3h0M479.0 741.2h0M462.9 741.3h0M456.5 739.0h0M460.1 742.9h0M462.6 742.4h0M468.7 742.4h0M489.2 742.0h0M456.2 739.9h0M482.0 741.3h0M490.3 742.0h0M464.8 739.6h0M476.5 742.6h0M483.6 740.6h0M466.3 742.6h0M462.3 743.2h0M500.4 739.1h0M478.9 743.2h0M489.8 741.8h0M467.0 742.1h0M473.7 741.0h0M475.1 740.5h0M504.1 739.5h0M466.5 741.7h0M456.0 743.2h0M462.9 741.0h0M525.0 741.0h0M456.7 742.2h0M458.4 739.3h0M463.2 741.8h0M490.3 739.5h0M461.9 743.2h0M480.2 742.5h0M467.3 742.9h0M467.8 739.4h0M480.3 742.2h0M460.4 742.3h0M463.5 740.0h0M503.0 743.2h0M458.9 739.5h0M459.0 742.0h0M473.4 743.0h0M484.0 742.6h0M464.9 742.8h0M473.3 740.9h0M510.5 742.8h0M475.6 742.9h0M552.3 741.6h0M458.0 741.8h0M457.9 739.3h0M526.1 740.2h0M477.8 743.2h0M478.1 741.9h0M462.6 743.0h0M462.4 742.4h0M458.2 741.9h0M477.9 740.6h0M459.9 741.4h0M518.3 740.1h0M467.5 739.9h0M464.7 741.2h0M497.0 741.2h0M491.5 742.3h0M459.8 740.6h0M460.5 740.1h0M494.2 739.8h0M502.4 741.2h0M470.8 740.7h0M457.7 740.5h0M470.2 742.1h0M517.1 741.5h0M466.6 740.9h0M479.0 740.1h0M481.1 740.0h0M456.6 742.0h0M459.7 739.2h0M459.0 741.3h0M462.9 741.9h0M481.0 743.0h0M458.7 742.6h0M460.4 741.4h0M457.1 741.1h0M473.5 741.8h0M466.0 742.1h0M481.9 742.6h0M463.4 740.4h0M485.6 740.5h0M463.3 741.4h0M457.4 742.2h0M478.1 741.7h0M478.6 743.2h0M496.4 741.2h0M492.7 740.8h0M474.9 741.9h0M466.7 743.3h0M471.9 741.9h0M467.0 741.4h0M471.5 741.5h0M479.0 739.1h0M466.4 739.1h0M457.0 741.4h0M462.4 740.0h0M466.5 742.2h0M482.3 741.4h0M471.6 742.4h0M515.3 742.2h0M461.3 742.5h0M483.9 742.6h0M523.0 741.4h0M479.5 742.9h0M471.1 741.4h0M571.7 742.7h0M468.0 741.4h0M457.4 742.7h0M464.0 739.8h0M472.0 741.1h0M475.4 739.5h0M461.2 742.2h0M467.3 740.8h0M456.2 740.9h0M479.4 741.6h0M463.1 739.6h0M475.9 739.8h0M498.2 740.5h0M511.8 742.9h0M480.6 741.6h0M519.6 742.0h0M475.5 742.5h0M460.7 740.5h0M496.4 741.0h0M456.1 742.8h0M475.4 741.8h0M485.5 742.4h0M459.1 741.4h0M480.8 740.4h0M464.3 741.3h0M508.1 740.1h0M470.5 742.2h0M458.7 741.8h0M458.2 740.3h0M489.4 741.7h0M467.2 742.5h0M465.0 739.7h0M472.7 741.2h0M456.7 740.7h0M465.9 739.4h0M464.6 741.2h0M456.2 739.0h0M456.2 740.2h0M475.3 739.7h0M464.6 740.1h0M462.9 741.9h0M462.6 741.6h0M456.7 742.9h0M463.6 741.0h0M483.4 740.7h0M471.4 743.0h0M460.2 739.7h0M479.5 739.8h0M508.8 741.3h0M463.0 740.7h0M461.0 739.2h0M460.7 739.1h0M471.1 741.8h0M463.0 742.2h0M487.5 741.9h0M460.8 739.3h0M462.0 739.5h0M464.0 742.4h0M463.5 740.8h0M510.9 742.7h0M475.0 739.2h0M481.1 742.3h0M470.1 740.2h0M463.3 739.1h0M463.0 739.8h0M460.0 741.9h0M468.2 740.1h0M458.2 739.4h0M461.1 740.8h0M474.5 742.0h0M491.7 741.0h0M467.2 739.2h0M468.8 741.5h0M459.2 741.0h0M461.4 741.5h0M464.4 742.5h0M475.0 741.0h0M457.3 739.3h0M473.9 741.9h0M482.5 740.9h0M464.2 739.6h0M464.0 740.8h0M463.2 740.2h0M456.0 740.1h0M461.6 741.6h0M458.2 739.6h0M501.7 739.1h0M475.5 739.2h0M464.6 742.2h0M556.4 742.3h0M461.1 741.4h0M551.0 740.4h0M485.0 742.6h0M479.7 741.9h0M489.1 741.0h0M458.6 741.5h0M472.5 742.8h0M476.7 740.7h0M541.6 742.5h0M456.3 742.8h0M472.8 739.1h0M473.4 742.3h0M468.0 740.5h0M458.8 739.5h0M492.0 741.6h0M460.2 742.8h0M479.5 742.1h0M456.7 742.8h0M457.4 741.2h0M486.7 741.0h0M458.0 742.3h0M456.4 741.7h0M470.2 742.3h0M487.0 740.6h0M465.7 741.4h0M461.7 742.2h0M457.1 741.8h0M464.1 739.6h0M463.7 741.1h0M459.3 739.3h0M485.0 740.0h0M493.5 739.3h0M469.4 739.6h0M485.9 742.1h0M500.4 740.8h0M480.2 740.4h0M477.6 739.8h0M484.9 740.5h0M480.0 741.5h0M464.2 739.9h0M475.0 739.3h0M460.7 742.0h0M457.8 742.0h0M475.8 742.0h0M465.5 742.4h0M463.7 740.9h0M456.6 739.9h0M470.4 742.8h0M467.2 740.9h0M461.4 742.6h0M469.1 739.3h0M461.6 739.1h0M475.8 739.5h0M466.2 742.9h0M477.2 741.8h0M461.4 742.5h0M511.4 743.2h0M493.5 742.1h0M508.0 742.5h0M497.4 741.9h0M480.3 739.8h0M483.6 742.0h0M464.1 741.3h0M466.3 742.2h0M464.3 741.8h0M474.6 742.9h0M457.2 740.1h0M475.8 740.5h0M504.7 739.1h0M502.1 742.8h0M458.0 739.6h0M470.0 741.6h0M456.7 742.8h0M481.3 741.0h0M467.3 741.6h0M466.5 742.7h0M469.2 739.0h0M483.4 740.9h0M467.2 740.1h0M469.2 741.7h0M476.8 740.5h0M464.9 739.6h0M458.3 742.6h0M458.1 742.7h0M485.8 739.7h0M497.7 741.9h0M459.2 739.0h0M461.5 739.4h0M516.8 740.9h0M482.0 739.8h0M511.7 741.8h0M463.6 741.9h0M457.3 739.8h0M463.0 743.2h0M543.2 742.3h0M501.8 743.0h0M461.3 739.5h0M460.1 739.2h0M511.5 739.1h0M460.9 741.7h0M483.0 743.2h0M462.8 742.2h0M458.6 740.0h0M474.5 742.2h0M459.9 740.7h0M473.5 739.6h0M456.5 739.0h0M509.1 739.7h0M457.2 740.3h0M458.8 739.8h0M474.1 739.2h0M461.8 741.6h0M460.0 740.0h0M519.1 741.4h0M480.2 742.4h0M464.3 740.3h0M506.0 742.5h0M465.7 740.2h0M473.8 742.3h0M459.2 739.8h0M505.2 739.6h0M467.6 742.3h0M484.0 742.0h0M466.3 740.8h0M485.6 742.6h0M459.0 742.1h0M504.4 739.2h0M461.1 741.3h0M493.8 740.4h0M467.9 740.7h0M457.2 739.9h0M474.2 742.6h0M457.4 741.3h0M470.9 743.0h0M475.5 740.5h0M472.4 742.0h0M459.3 741.2h0M476.8 739.9h0M457.7 740.5h0M482.9 740.9h0M468.5 739.7h0M458.1 739.3h0M460.6 741.3h0M466.8 740.5h0M490.2 742.7h0M456.2 740.2h0M461.3 739.1h0M480.0 740.1h0M472.5 739.7h0M480.0 741.4h0M472.1 742.7h0M487.9 739.9h0M484.1 742.2h0M476.8 739.0h0M477.7 741.4h0M472.7 740.4h0M521.6 743.2h0M468.5 739.6h0M456.2 741.8h0M461.6 741.3h0M461.8 743.1h0M470.9 742.8h0M484.2 741.4h0M484.6 739.9h0M472.9 741.8h0M485.4 739.1h0M475.6 740.9h0M462.7 741.5h0M463.2 741.9h0M512.9 740.0h0M468.9 741.8h0M456.2 740.2h0M480.8 743.0h0M462.5 741.5h0M481.1 740.3h0M499.0 740.7h0M459.8 739.2h0M463.0 741.0h0M493.5 739.3h0M480.7 740.9h0M511.6 742.7h0M476.9 740.7h0M476.1 739.4h0M466.5 742.0h0M466.3 739.5h0M456.7 739.9h0M456.2 743.2h0M542.9 740.9h0M480.4 742.4h0M475.2 741.6h0M462.5 740.1h0M482.4 740.4h0M458.0 739.4h0M510.0 739.1h0M495.5 739.1h0M479.5 742.1h0M486.4 741.9h0M464.6 740.9h0M460.5 741.1h0M470.8 741.8h0M477.5 740.1h0M501.6 741.4h0M463.5 742.1h0M458.9 739.9h0M487.8 742.0h0M472.4 741.8h0M476.6 742.6h0M456.2 741.8h0M471.4 742.0h0M502.6 740.4h0M462.4 739.3h0M469.4 742.3h0M463.3 740.4h0M456.7 742.4h0M534.8 740.8h0M474.1 740.9h0M509.9 741.1h0M459.9 740.6h0M466.6 740.7h0M461.3 742.9h0M498.5 739.2h0M458.6 740.6h0M465.8 741.7h0M472.8 742.0h0M492.1 741.3h0M480.1 740.5h0M474.1 742.0h0M462.3 739.1h0M469.7 740.5h0M465.6 742.6h0M457.0 741.8h0M477.8 742.1h0M456.3 739.7h0M462.4 743.1h0M464.3 739.3h0M475.7 740.0h0M456.3 741.2h0M459.2 740.8h0M461.8 739.9h0M457.1 741.8h0M471.4 742.3h0M474.4 743.2h0M470.7 741.3h0M465.2 739.1h0M468.3 742.2h0M459.3 741.5h0M466.0 741.1h0M460.0 739.0h0M456.8 739.8h0M483.5 742.7h0M456.4 740.7h0M482.2 741.7h0M456.9 742.3h0M478.8 739.5h0M494.4 740.4h0M526.2 739.5h0M458.6 739.0h0M504.1 739.3h0M523.7 740.6h0M481.5 742.5h0M463.5 739.7h0M458.1 739.4h0M463.1 741.2h0M461.6 739.8h0M457.3 740.9h0M459.5 741.6h0M486.2 742.1h0M468.1 739.6h0M496.0 740.4h0M463.3 740.4h0M474.6 740.4h0M464.6 741.4h0M461.8 743.2h0M499.0 742.6h0M496.4 739.2h0M477.7 743.0h0M466.3 741.4h0M466.0 740.8h0M457.9 742.7h0M463.8 742.4h0M459.7 740.5h0M472.6 739.0h0M484.6 742.4h0M481.9 741.6h0M471.5 742.7h0M479.3 740.5h0M466.0 742.9h0M476.5 741.9h0M464.9 742.9h0M460.1 740.5h0M481.5 740.9h0M496.6 741.6h0M458.1 741.5h0M484.7 741.7h0M464.6 739.2h0M506.9 742.6h0M474.0 739.5h0M473.7 742.5h0M459.7 739.1h0M522.7 739.9h0M486.2 741.1h0M468.1 741.3h0M480.7 739.5h0M477.1 740.1h0M459.8 740.6h0M498.8 740.7h0M502.5 743.0h0M463.5 740.3h0M456.0 739.8h0M482.3 741.6h0M464.1 742.2h0M498.0 741.1h0M476.3 740.8h0M468.0 739.2h0M471.8 740.9h0M476.6 740.4h0M488.3 743.0h0M456.0 741.2h0M458.8 742.3h0M551.2 740.8h0M490.6 740.5h0M526.1 741.1h0M537.4 741.7h0M544.9 740.4h0M567.4 741.3h0M483.4 741.0h0M522.1 742.6h0M558.6 739.6h0M495.1 743.0h0M463.1 740.2h0M462.5 740.6h0M499.2 739.5h0M562.3 740.3h0M470.5 741.9h0M524.8 740.4h0M540.4 740.6h0M462.5 741.5h0M561.8 742.5h0M514.4 741.0h0M508.4 739.2h0M459.4 740.2h0M462.2 740.1h0M520.2 740.2h0M465.0 739.7h0M496.8 741.8h0M456.3 739.6h0M493.2 742.3h0M481.9 739.3h0M473.3 742.3h0M553.0 740.1h0M527.2 739.4h0M460.0 740.0h0M542.4 741.4h0M466.2 742.3h0M559.6 743.0h0M457.1 742.9h0M526.1 741.7h0M496.6 739.4h0M459.2 740.8h0M468.1 743.0h0M512.5 741.6h0M487.6 741.1h0M484.1 742.0h0M462.9 740.5h0M519.5 743.0h0M487.3 741.4h0M568.3 741.8h0M518.4 741.7h0M515.7 742.4h0M524.2 739.3h0M521.7 739.9h0M552.8 740.7h0M503.8 743.1h0M485.6 740.1h0M532.3 739.7h0M501.4 741.3h0M544.4 742.6h0M480.9 743.2h0M461.0 740.1h0M482.8 739.5h0M470.8 741.7h0M481.5 742.8h0M568.4 742.3h0M480.3 740.8h0M597.4 741.0h0M578.1 739.9h0M542.6 740.8h0M466.0 713.0h0M496.9 711.2h0M472.8 709.0h0M458.7 711.9h0M472.5 709.6h0M456.6 712.8h0M482.3 711.5h0M474.5 710.5h0M469.4 712.2h0M462.3 712.1h0M475.2 711.9h0M461.2 709.7h0M460.9 709.7h0M460.6 711.1h0M457.1 710.7h0M474.8 712.2h0M504.6 712.5h0M495.1 710.5h0M458.5 709.1h0M456.8 710.6h0M456.8 711.6h0M465.9 711.7h0M498.6 712.3h0M456.7 710.0h0M475.7 711.0h0M459.3 711.4h0M473.1 711.0h0M460.1 709.8h0M457.5 711.9h0M461.6 712.1h0M467.1 711.3h0M459.7 711.5h0M477.4 712.9h0M473.4 710.3h0M475.7 712.8h0M490.0 708.8h0M496.7 710.1h0M475.0 710.7h0M491.3 709.4h0M470.6 712.1h0M467.2 712.1h0M465.0 710.0h0M460.3 712.1h0M469.3 712.3h0M457.5 710.9h0M478.6 708.9h0M482.3 709.1h0M459.2 711.3h0M459.8 711.5h0M492.9 712.0h0M521.3 712.2h0M494.2 712.7h0M456.3 711.2h0M485.9 709.8h0M485.5 712.5h0M469.9 712.0h0M460.2 712.6h0M457.1 710.8h0M510.3 712.3h0M460.8 710.4h0M483.2 709.5h0M463.2 710.9h0M458.1 709.7h0M469.1 712.6h0M492.0 709.4h0M524.0 712.0h0M458.0 710.9h0M471.8 713.0h0M494.4 710.8h0M545.3 710.0h0M466.9 711.7h0M456.8 709.7h0M463.1 713.0h0M465.8 711.9h0M477.9 710.2h0M463.4 712.6h0M514.7 710.6h0M461.8 710.4h0M492.7 712.3h0M534.0 709.1h0M460.1 709.3h0M467.4 710.3h0M471.0 711.5h0M457.5 711.1h0M462.4 712.6h0M534.4 712.3h0M480.2 711.2h0M516.0 709.6h0M485.9 709.8h0M458.3 711.3h0M477.2 711.8h0M468.8 711.0h0M462.8 709.1h0M470.5 712.8h0M470.5 712.8h0M496.7 710.8h0M487.0 712.2h0M517.5 710.9h0M460.4 712.1h0M515.0 712.7h0M465.2 712.3h0M495.0 711.2h0M464.3 709.6h0M475.3 712.3h0M456.1 712.5h0M462.9 710.3h0M466.7 713.0h0M469.4 709.2h0M466.9 709.7h0M472.2 711.3h0M482.6 710.1h0M478.9 712.0h0M463.3 711.1h0M516.1 710.4h0M459.4 711.1h0M489.2 710.2h0M463.3 710.0h0M464.1 708.9h0M478.5 712.2h0M466.1 708.8h0M487.3 711.4h0M482.6 711.6h0M457.4 711.7h0M562.6 709.3h0M463.7 708.9h0M521.3 708.9h0M457.9 712.9h0M457.1 710.0h0M457.6 712.7h0M555.1 711.7h0M457.4 712.1h0M469.6 710.8h0M491.1 709.4h0M462.0 709.8h0M483.0 711.4h0M462.3 712.5h0M466.4 711.0h0M461.9 709.2h0M472.0 711.9h0M483.8 710.9h0M492.9 711.9h0M478.1 712.2h0M463.5 709.6h0M456.8 711.7h0M491.6 710.3h0M490.7 708.9h0M468.8 710.7h0M456.6 710.8h0M470.1 711.2h0M460.2 711.9h0M472.1 709.6h0M457.9 712.1h0M461.3 712.5h0M466.3 709.0h0M458.9 713.0h0M483.0 709.9h0M459.9 709.1h0M462.8 712.2h0M457.8 711.1h0M456.0 710.6h0M470.9 711.2h0M483.0 712.9h0M456.3 711.6h0M461.0 711.2h0M459.1 710.3h0M480.5 712.4h0M480.4 710.2h0M457.8 712.7h0M461.2 711.0h0M477.2 712.3h0M503.9 712.7h0M478.6 710.1h0M467.5 709.5h0M476.1 712.4h0M477.4 708.8h0M475.0 711.1h0M461.8 711.7h0M460.0 709.0h0M471.0 710.2h0M463.5 711.4h0M470.2 712.3h0M480.8 712.8h0M459.3 709.2h0M460.6 708.9h0M472.6 709.2h0M463.8 709.5h0M499.3 711.8h0M459.6 711.4h0M467.9 709.6h0M473.4 711.2h0M462.4 713.0h0M462.5 708.8h0M471.7 711.8h0M466.6 711.3h0M467.8 710.8h0M460.7 711.6h0M482.8 712.9h0M461.8 711.1h0M463.6 710.7h0M507.5 710.0h0M490.2 709.3h0M473.2 710.9h0M462.9 711.2h0M472.5 712.1h0M456.7 711.3h0M460.8 708.8h0M463.3 709.2h0M462.4 709.7h0M461.7 711.0h0M467.0 712.0h0M466.7 709.4h0M458.5 709.7h0M459.1 711.8h0M459.0 713.0h0M484.9 712.9h0M459.2 711.9h0M458.1 709.7h0M466.2 708.9h0M459.6 712.7h0M472.0 710.1h0M486.1 711.3h0M487.6 711.0h0M482.7 710.8h0M456.7 712.9h0M468.2 709.9h0M458.8 712.4h0M489.8 711.4h0M468.0 709.3h0M456.1 709.8h0M463.6 712.5h0M459.4 711.6h0M457.7 709.1h0M474.2 709.3h0M473.9 709.3h0M491.8 709.6h0M490.5 711.8h0M462.4 709.3h0M507.6 710.3h0M461.5 709.6h0M467.7 712.5h0M457.2 709.8h0M462.3 711.9h0M490.8 712.8h0M461.2 709.7h0M473.2 710.8h0M471.9 711.7h0M467.6 711.2h0M479.9 712.0h0M457.9 712.4h0M458.4 710.3h0M478.8 710.3h0M459.6 712.9h0M462.6 712.3h0M464.8 711.5h0M519.6 711.0h0M458.6 708.8h0M461.4 712.0h0M466.4 712.3h0M456.2 709.1h0M457.0 710.9h0M503.8 709.9h0M476.6 712.7h0M461.9 709.1h0M489.0 712.0h0M464.3 710.2h0M462.5 712.7h0M469.4 711.2h0M462.7 709.9h0M457.9 710.8h0M464.3 712.4h0M456.2 711.2h0M481.3 710.1h0M459.0 710.9h0M467.8 711.2h0M497.3 709.3h0M472.8 711.8h0M468.0 712.6h0M468.8 712.7h0M456.8 711.3h0M497.0 709.7h0M530.3 710.0h0M483.3 709.1h0M458.4 711.1h0M466.6 711.4h0M458.7 711.1h0M458.0 709.9h0M473.8 710.1h0M467.1 711.2h0M461.5 711.9h0M504.3 713.0h0M460.9 709.0h0M471.5 711.0h0M466.8 710.6h0M464.0 709.4h0M475.6 708.9h0M460.5 712.0h0M466.7 711.1h0M469.9 712.1h0M469.8 711.1h0M481.3 710.0h0M461.9 710.7h0M460.8 711.7h0M459.3 710.5h0M459.0 711.9h0M459.3 711.1h0M465.1 711.3h0M468.0 711.4h0M464.1 709.6h0M462.9 710.2h0M462.2 711.9h0M467.1 710.5h0M456.9 709.0h0M459.5 712.5h0M463.1 710.1h0M488.4 709.0h0M472.8 710.3h0M469.9 712.0h0M472.3 711.7h0M472.0 710.0h0M461.4 709.5h0M467.8 709.0h0M467.7 711.9h0M481.2 711.4h0M479.2 709.6h0M459.0 710.5h0M516.6 711.4h0M459.8 712.6h0M484.1 710.2h0M465.6 712.8h0M461.3 712.6h0M464.2 711.5h0M479.4 709.9h0M472.8 711.9h0M473.9 710.2h0M483.7 712.6h0M506.0 709.7h0M457.8 711.8h0M470.4 711.6h0M470.0 711.4h0M481.2 710.7h0M491.8 711.6h0M502.6 711.8h0M459.5 712.6h0M519.6 709.8h0M476.6 711.6h0M459.6 712.6h0M467.5 709.0h0M460.9 709.4h0M456.2 709.6h0M456.8 712.2h0M461.6 712.6h0M457.9 711.1h0M505.1 711.5h0M472.1 710.0h0M457.2 709.8h0M485.4 711.3h0M459.7 713.0h0M460.0 711.7h0M476.8 709.5h0M467.8 709.8h0M457.4 712.8h0M470.4 710.7h0M492.4 711.6h0M459.6 709.1h0M458.6 713.0h0M474.4 712.1h0M466.4 708.8h0M467.5 709.6h0M485.0 711.6h0M458.6 711.1h0M464.7 712.3h0M481.0 710.6h0M463.7 712.4h0M463.0 711.5h0M463.8 710.4h0M475.7 709.5h0M491.4 710.9h0M456.6 711.5h0M482.6 711.6h0M468.2 708.8h0M457.7 709.8h0M457.5 712.2h0M467.8 711.2h0M490.3 710.3h0M457.5 712.3h0M457.6 709.6h0M466.4 709.4h0M492.1 710.6h0M479.3 711.4h0M463.0 709.0h0M468.3 712.3h0M470.3 710.2h0M477.5 712.3h0M494.2 712.5h0M456.1 710.5h0M461.9 710.7h0M469.6 711.9h0M465.9 712.4h0M460.1 709.3h0M480.8 710.0h0M456.9 709.1h0M458.6 709.0h0M461.9 709.8h0M461.4 709.4h0M508.7 712.8h0M473.1 710.9h0M521.8 710.3h0M469.3 711.8h0M473.4 711.4h0M473.7 709.7h0M471.7 712.0h0M478.4 710.2h0M470.8 712.3h0M470.2 710.4h0M463.9 712.0h0M461.5 711.5h0M466.2 709.0h0M468.6 709.9h0M482.3 711.3h0M501.7 712.6h0M465.8 712.1h0M509.1 710.1h0M467.9 709.1h0M468.8 710.9h0M457.9 710.7h0M469.4 709.9h0M512.7 710.1h0M461.2 711.2h0M486.3 710.9h0M463.5 712.8h0M460.4 711.1h0M490.3 708.9h0M481.5 711.0h0M457.2 710.4h0M470.6 710.5h0M481.9 711.4h0M466.4 709.1h0M576.3 710.6h0M472.5 709.4h0M504.8 710.2h0M472.7 711.8h0M461.3 709.3h0M461.8 709.5h0M478.2 712.3h0M472.4 708.8h0M566.2 712.8h0M487.5 710.8h0M473.3 708.9h0M501.7 710.6h0M477.0 710.0h0M460.8 710.1h0M456.0 709.7h0M462.8 710.7h0M490.1 709.0h0M498.0 709.3h0M462.3 709.2h0M498.1 711.1h0M503.2 710.2h0M489.8 709.3h0M464.1 712.6h0M456.6 710.0h0M486.4 711.7h0M463.8 709.4h0M464.7 710.8h0M458.4 710.2h0M485.3 712.4h0M459.1 711.5h0M477.9 711.7h0M478.6 710.7h0M478.9 708.9h0M484.4 709.6h0M499.9 712.6h0M473.1 711.2h0M461.1 711.4h0M485.0 709.4h0M481.0 710.8h0M457.7 713.0h0M464.5 711.2h0M491.1 711.8h0M469.1 711.3h0M480.6 710.6h0M461.7 712.7h0M491.0 712.7h0M475.2 710.6h0M466.9 711.0h0M462.9 709.9h0M466.2 712.0h0M469.6 709.0h0M481.6 710.2h0M458.7 709.7h0M464.6 710.7h0M456.9 708.9h0M472.5 711.2h0M456.2 711.7h0M465.4 709.6h0M486.4 711.2h0M476.8 711.0h0M458.5 712.3h0M480.3 712.3h0M483.0 712.1h0M468.2 710.7h0M462.0 709.4h0M471.0 709.3h0M471.8 710.5h0M488.3 712.7h0M481.4 711.6h0M456.1 710.0h0M512.3 710.8h0M460.5 709.3h0M458.0 709.3h0M457.1 711.7h0M542.2 711.1h0M524.0 711.9h0M495.4 708.8h0M566.1 712.0h0M523.2 709.4h0M570.3 710.8h0M501.8 711.0h0M568.5 712.4h0M475.5 711.2h0M522.1 712.7h0M568.9 711.5h0M499.7 711.2h0M557.3 712.9h0M465.9 711.1h0M556.2 709.0h0M494.4 709.9h0M513.6 711.8h0M457.3 709.8h0M495.7 711.8h0M491.7 710.9h0M561.2 710.5h0M510.7 712.5h0M500.8 709.7h0M481.0 712.1h0M573.1 710.4h0M487.3 712.3h0M544.4 708.8h0M464.7 712.0h0M532.3 712.8h0M456.4 711.0h0M469.4 708.9h0M492.4 712.4h0M466.4 711.1h0M487.0 712.7h0M544.2 709.0h0M489.2 709.9h0M513.2 709.9h0M571.6 710.3h0M521.4 709.5h0M556.2 712.6h0M472.0 710.3h0M457.6 679.0h0M457.3 678.6h0M456.9 681.1h0M469.9 682.7h0M457.7 680.1h0M463.7 681.2h0M468.3 679.5h0M467.0 682.5h0M479.9 678.6h0M522.4 682.7h0M466.9 679.3h0M459.1 680.3h0M490.5 682.6h0M488.0 682.7h0M460.1 679.5h0M462.7 680.5h0M457.8 678.6h0M456.6 682.3h0M485.7 680.9h0M461.4 682.5h0M471.1 678.6h0M458.0 679.1h0M459.8 679.8h0M464.7 680.4h0M462.7 682.6h0M473.8 681.9h0M478.4 682.6h0M460.9 680.1h0M459.9 679.5h0M514.6 680.8h0M463.5 680.9h0M456.4 679.1h0M464.6 682.1h0M465.9 682.1h0M464.7 681.1h0M471.2 680.4h0M471.6 678.7h0M459.7 678.9h0M456.2 682.0h0M489.1 682.1h0M470.4 678.6h0M477.4 680.6h0M517.7 681.3h0M484.6 679.8h0M491.6 682.5h0M464.2 680.6h0M458.3 681.9h0M461.6 680.5h0M461.2 682.2h0M499.6 678.9h0M458.6 681.5h0M457.1 679.1h0M485.8 680.8h0M463.9 682.8h0M494.9 681.4h0M473.3 682.6h0M495.7 679.6h0M480.9 679.7h0M464.9 679.4h0M469.9 679.6h0M504.6 680.9h0M458.0 680.1h0M460.4 679.8h0M456.7 681.4h0M477.9 679.8h0M481.4 681.5h0M461.8 680.0h0M462.2 682.5h0M505.8 681.0h0M459.1 681.1h0M476.8 679.2h0M496.8 679.5h0M460.1 678.9h0M466.1 681.1h0M472.3 680.4h0M462.5 679.2h0M467.6 681.7h0M492.2 678.8h0M473.7 682.1h0M456.8 680.5h0M475.3 681.6h0M476.5 681.5h0M473.0 681.5h0M458.9 682.5h0M471.2 679.8h0M477.9 680.3h0M476.1 681.6h0M474.1 679.4h0M483.3 681.1h0M486.5 679.2h0M458.9 679.4h0M511.6 681.6h0M473.8 679.1h0M485.7 680.1h0M460.8 681.0h0M459.2 681.2h0M474.8 679.4h0M473.7 679.9h0M462.4 681.2h0M463.4 678.8h0M460.2 682.2h0M456.6 682.8h0M493.6 681.7h0M472.9 679.5h0M468.8 682.8h0M485.3 681.2h0M476.2 681.1h0M486.0 679.2h0M461.3 679.6h0M458.1 680.4h0M456.3 680.0h0M480.0 680.6h0M474.3 681.4h0M469.9 680.7h0M468.6 681.0h0M460.2 679.4h0M479.7 680.5h0M462.9 681.5h0M465.4 682.0h0M462.5 680.4h0M458.3 680.4h0M465.3 680.7h0M462.6 682.7h0M467.0 679.8h0M464.5 681.8h0M489.2 679.0h0M472.0 680.3h0M465.0 678.9h0M463.7 682.6h0M465.4 680.8h0M460.7 680.2h0M456.8 680.6h0M456.2 682.8h0M459.7 678.8h0M487.7 680.0h0M473.2 680.7h0M463.9 681.3h0M501.8 681.1h0M465.6 681.2h0M458.5 681.8h0M458.1 681.6h0M476.6 678.8h0M460.0 680.4h0M461.9 679.4h0M456.6 679.1h0M509.4 680.2h0M458.5 681.8h0M474.4 680.2h0M465.0 680.9h0M459.4 678.9h0M480.0 681.7h0M470.0 680.8h0M473.5 679.6h0M475.6 679.4h0M458.5 681.6h0M469.8 681.2h0M474.6 680.7h0M511.6 682.3h0M476.2 679.1h0M462.4 681.9h0M510.7 682.0h0M469.0 679.8h0M466.6 682.8h0M487.8 679.1h0M464.3 679.3h0M465.6 680.0h0M461.0 680.2h0M470.7 681.5h0M472.9 681.3h0M463.1 682.3h0M462.2 681.0h0M462.5 682.7h0M479.4 682.1h0M456.1 682.8h0M469.3 678.7h0M553.1 682.0h0M473.2 679.0h0M517.4 680.7h0M490.9 679.9h0M457.1 680.4h0M472.6 681.9h0M460.7 680.0h0M460.4 681.4h0M461.2 682.2h0M528.5 679.3h0M483.9 682.6h0M458.1 680.9h0M459.2 681.6h0M513.7 679.3h0M460.5 680.4h0M457.1 681.3h0M481.4 682.1h0M467.1 681.3h0M470.1 680.2h0M462.9 678.6h0M497.1 680.9h0M467.4 680.1h0M489.8 679.8h0M457.4 680.9h0M472.7 678.9h0M476.9 680.5h0M472.8 679.1h0M482.6 679.6h0M513.1 680.7h0M460.7 679.7h0M462.7 680.3h0M480.7 681.3h0M471.2 679.3h0M463.4 680.1h0M459.9 680.1h0M469.0 681.7h0M458.5 681.3h0M458.6 682.6h0M468.2 679.8h0M473.7 679.9h0M490.0 680.3h0M483.2 682.8h0M479.9 682.0h0M465.4 680.7h0M493.1 680.6h0M498.3 679.5h0M459.2 679.0h0M484.0 682.3h0M482.9 679.0h0M495.3 682.6h0M487.7 680.6h0M464.0 678.8h0M470.7 678.7h0M470.0 682.6h0M462.4 680.1h0M496.5 679.8h0M462.7 682.3h0M493.9 679.8h0M484.0 682.3h0M500.8 681.3h0M466.9 679.6h0M462.0 682.0h0M460.7 681.4h0M470.9 682.7h0M475.0 679.2h0M478.6 680.7h0M460.8 682.1h0M473.6 682.1h0M463.3 682.0h0M491.9 680.4h0M479.0 679.5h0M527.8 679.2h0M456.3 679.4h0M456.0 681.7h0M472.4 679.3h0M460.1 682.8h0M462.9 681.2h0M488.2 679.8h0M520.6 681.3h0M470.7 682.1h0M561.2 682.3h0M558.8 679.4h0M528.8 681.9h0M546.2 679.4h0M472.7 682.4h0M462.6 682.4h0M528.3 681.2h0M472.8 679.7h0M457.5 679.7h0M551.6 680.2h0M457.3 680.5h0M511.9 681.6h0M487.0 681.3h0M523.6 680.2h0M504.8 680.7h0M458.8 681.4h0M468.7 680.4h0M548.4 679.1h0M521.5 680.0h0M473.2 679.2h0M555.1 682.1h0M456.3 663.2h0M473.0 662.6h0M476.6 660.9h0M461.9 664.6h0M463.9 664.5h0M462.3 664.7h0M456.9 662.1h0M460.9 662.9h0M462.2 664.8h0M456.5 664.1h0M464.4 661.1h0M461.3 662.1h0M458.7 663.8h0M458.3 664.6h0M457.6 662.4h0M479.0 661.0h0M457.4 662.7h0M467.9 663.1h0M460.3 664.6h0M469.2 661.3h0M461.2 662.3h0M457.7 661.5h0M467.2 662.0h0M464.1 663.2h0M457.3 664.4h0M456.7 664.2h0M460.9 664.6h0M467.2 664.5h0M461.1 663.9h0M460.3 661.1h0M483.0 662.1h0M457.8 662.8h0M483.3 661.4h0M456.3 663.2h0M458.1 661.9h0M472.8 663.1h0M495.6 663.1h0M461.3 661.7h0M467.6 661.3h0M471.1 662.2h0M479.5 663.5h0M467.1 662.3h0M459.1 663.6h0M457.5 662.7h0M476.7 661.3h0M482.4 661.3h0M461.6 662.9h0M458.7 661.5h0M484.3 663.1h0M458.9 663.8h0M469.9 661.3h0M480.1 662.8h0M456.8 664.0h0M456.1 662.7h0M469.8 663.3h0M457.0 661.8h0M456.3 661.8h0M480.3 661.7h0M462.6 663.2h0M473.0 665.0h0M458.9 662.1h0M472.4 664.7h0M477.2 664.3h0M456.2 663.6h0M457.2 664.1h0M458.4 664.7h0M464.9 661.6h0M457.9 663.6h0M474.2 662.0h0M472.3 663.4h0M468.3 662.2h0M458.2 661.7h0M469.4 661.0h0M469.9 665.0h0M465.1 662.5h0M457.7 662.6h0M456.7 661.3h0M464.4 663.0h0M456.8 662.8h0M473.9 663.5h0M469.0 662.0h0M488.0 661.1h0M461.0 662.7h0M456.8 662.5h0M456.3 665.0h0M490.4 661.8h0M457.1 662.3h0M464.1 662.8h0M477.0 661.7h0M476.8 661.2h0M465.5 664.2h0M457.5 662.3h0M460.8 662.7h0M464.8 662.6h0M472.7 661.3h0M456.2 662.1h0M458.5 663.5h0M468.4 662.5h0M456.6 661.1h0M460.7 664.9h0M472.5 661.3h0M458.1 664.7h0M461.4 663.8h0M464.9 663.4h0M457.3 662.3h0M459.0 665.0h0M463.7 661.3h0M477.9 665.0h0M460.6 663.4h0M467.9 665.1h0M474.5 662.8h0M464.9 662.0h0M463.7 662.8h0M459.7 662.2h0M459.0 664.9h0M476.2 662.8h0M459.8 662.3h0M457.4 665.0h0M464.6 661.2h0M487.9 662.9h0M458.7 664.1h0M474.3 663.1h0M473.3 664.5h0M461.1 663.1h0M478.9 661.1h0M482.6 661.2h0M456.6 663.8h0M457.8 662.4h0M471.9 665.1h0M486.5 661.6h0M505.2 661.1h0M495.4 660.9h0M528.2 661.6h0M534.5 665.0h0M483.7 662.7h0M484.6 661.6h0M559.1 662.0h0M456.0 662.9h0M506.9 663.8h0M456.7 649.5h0M468.2 650.4h0M457.8 650.0h0M463.3 648.8h0M456.2 650.8h0M460.1 652.5h0M458.4 651.2h0M459.5 648.4h0M456.3 652.3h0M459.8 649.2h0M468.4 651.0h0M461.2 649.9h0M456.4 651.1h0M463.3 648.9h0M457.6 650.1h0M475.8 650.9h0M464.7 650.9h0M457.2 652.1h0M461.6 650.9h0M461.4 652.3h0M457.8 649.6h0M462.5 649.2h0M459.4 649.6h0M470.4 650.3h0M461.8 652.1h0M456.1 651.1h0M465.3 649.7h0M465.8 652.2h0M456.9 652.0h0M464.5 652.6h0M460.0 650.7h0M456.6 650.8h0M456.3 651.3h0M460.8 650.8h0M473.1 650.7h0M457.5 650.4h0M456.2 642.6h0M457.8 639.6h0M458.7 642.6h0M456.1 642.4h0M465.7 642.8h0M467.1 640.9h0M461.6 641.4h0M465.3 640.4h0M456.2 642.7h0M456.9 642.1h0M468.5 640.2h0M461.3 641.7h0M456.3 642.5h0M456.4 642.4h0M458.7 639.9h0M458.4 639.6h0M456.7 642.1h0M560.1 638.9h0M557.1 640.1h0M484.7 640.6h0M462.2 634.4h0M459.2 633.3h0M456.8 632.5h0M456.4 632.1h0M457.3 632.8h0M458.3 633.2h0M457.0 634.4h0M461.6 632.7h0M456.4 630.8h0M457.2 625.3h0M457.2 624.6h0M456.9 625.1h0M458.8 622.3h0" stroke="#00BFC4" stroke-width="1.24" stroke-linecap="round" fill="none" opacity="1.00"/><path d="M486.1 741.4h0M491.4 739.2h0M493.0 740.0h0M532.1 739.0h0M475.1 739.5h0M479.8 741.6h0M471.7 739.9h0M462.6 742.3h0M492.3 740.5h0M459.9 742.7h0M521.4 741.0h0M477.6 741.2h0M483.8 739.1h0M514.9 743.0h0M481.4 741.9h0M547.0 740.5h0M472.8 739.9h0M499.6 740.6h0M472.0 739.8h0M518.4 740.6h0M507.4 740.4h0M513.5 739.2h0M507.0 739.5h0M544.9 742.7h0M456.6 742.3h0M480.6 741.7h0M456.7 742.3h0M478.8 739.9h0M476.3 742.2h0M509.1 739.1h0M528.9 741.8h0M467.1 740.3h0M511.4 742.9h0M535.8 741.2h0M481.7 742.1h0M458.3 741.8h0M457.6 740.3h0M481.6 742.3h0M462.2 742.0h0M488.1 742.3h0M481.0 743.0h0M507.6 741.7h0M470.5 740.8h0M488.0 741.0h0M459.3 740.4h0M502.1 740.4h0M498.3 742.3h0M506.5 742.6h0M463.3 740.1h0M501.5 740.7h0M488.0 740.9h0M473.3 740.3h0M485.1 740.5h0M477.5 739.5h0M469.6 739.5h0M487.6 739.9h0M471.5 739.7h0M538.1 739.8h0M473.6 739.1h0M519.7 742.8h0M523.0 739.1h0M513.3 740.8h0M514.3 739.9h0M488.2 740.7h0M473.0 742.0h0M478.7 742.8h0M464.2 742.9h0M472.6 739.2h0M460.6 741.9h0M550.9 743.2h0M502.6 739.1h0M489.4 740.0h0M517.9 739.7h0M489.7 743.0h0M461.0 740.0h0M544.3 740.8h0M471.0 740.2h0M476.7 742.4h0M485.9 741.1h0M462.3 741.5h0M494.3 740.7h0M497.9 741.7h0M486.2 742.5h0M490.0 739.5h0M491.9 739.5h0M476.9 742.0h0M481.5 741.9h0M464.7 740.9h0M484.9 739.4h0M494.9 741.7h0M491.5 740.8h0M467.6 743.0h0M488.8 741.5h0M484.9 740.4h0M493.2 743.2h0M470.9 741.8h0M478.4 741.8h0M501.8 741.1h0M460.3 742.6h0M521.0 740.6h0M463.3 739.4h0M488.3 741.8h0M487.1 740.9h0M534.5 741.3h0M492.5 739.2h0M495.2 743.2h0M519.0 739.0h0M486.2 740.4h0M478.3 740.1h0M467.7 740.1h0M531.4 743.2h0M481.7 739.1h0M481.0 741.2h0M472.5 742.4h0M478.6 742.3h0M484.1 739.4h0M463.1 739.0h0M507.9 740.4h0M471.0 740.8h0M483.2 740.0h0M466.0 739.9h0M458.8 742.9h0M482.1 740.0h0M474.6 742.8h0M463.1 742.9h0M458.9 740.1h0M475.6 739.3h0M566.0 741.7h0M480.5 742.3h0M458.2 740.1h0M484.4 742.4h0M495.2 743.1h0M463.6 739.7h0M464.2 741.9h0M497.8 739.8h0M472.0 740.8h0M465.9 740.9h0M475.3 742.7h0M510.0 739.7h0M491.8 739.3h0M471.8 742.8h0M464.6 739.9h0M491.3 740.7h0M551.2 742.9h0M476.2 742.0h0M458.9 739.9h0M456.6 740.2h0M503.6 739.6h0M469.3 742.8h0M479.4 742.5h0M495.3 739.7h0M501.5 743.1h0M464.0 741.8h0M479.9 739.0h0M525.1 742.3h0M519.4 739.3h0M532.8 742.0h0M579.0 739.3h0M466.0 742.6h0M562.9 741.5h0M549.7 743.0h0M526.9 740.6h0M507.9 742.3h0M558.3 739.6h0M554.5 741.5h0M459.3 739.2h0M549.3 739.4h0M499.2 739.4h0M556.6 742.6h0M523.0 739.5h0M555.4 742.3h0M490.7 742.5h0M523.5 740.5h0M505.0 740.4h0M574.9 742.8h0M533.2 742.0h0M538.0 742.4h0M492.4 740.6h0M528.0 740.9h0M527.4 739.1h0M479.8 742.1h0M535.7 740.6h0M550.6 741.8h0M624.9 742.9h0M572.8 741.0h0M511.7 739.5h0M596.2 740.6h0M510.6 742.8h0M569.3 740.8h0M472.5 711.2h0M459.1 709.7h0M492.8 711.7h0M476.2 712.5h0M513.9 711.0h0M479.4 709.8h0M495.1 709.8h0M531.6 712.6h0M505.2 709.4h0M487.3 708.8h0M537.1 709.7h0M478.5 713.0h0M519.3 709.2h0M460.0 709.7h0M495.1 709.0h0M475.4 710.1h0M468.6 709.5h0M467.1 712.1h0M475.2 711.6h0M474.0 709.3h0M539.4 711.9h0M477.0 709.5h0M487.4 708.9h0M465.8 711.5h0M525.8 710.2h0M471.5 712.3h0M457.7 712.0h0M503.1 711.9h0M508.1 712.9h0M462.1 712.9h0M515.6 709.7h0M462.8 711.2h0M514.3 709.8h0M479.6 711.8h0M488.9 709.1h0M496.5 710.9h0M483.4 711.8h0M467.0 713.0h0M468.8 712.3h0M473.3 712.2h0M457.5 711.2h0M470.9 710.8h0M535.3 712.3h0M462.4 709.9h0M459.1 711.8h0M461.9 710.5h0M471.7 709.2h0M475.7 710.9h0M503.7 709.1h0M457.8 712.8h0M480.1 710.2h0M471.8 710.9h0M483.3 709.6h0M483.9 709.7h0M471.6 709.0h0M530.5 712.7h0M512.9 712.3h0M460.1 712.1h0M472.9 710.3h0M481.0 712.6h0M457.9 711.4h0M482.6 712.1h0M487.3 712.3h0M492.1 709.1h0M475.2 712.9h0M507.1 712.4h0M493.2 710.5h0M505.7 712.8h0M527.0 709.4h0M471.6 711.2h0M492.2 710.2h0M503.8 709.1h0M485.9 708.9h0M551.4 710.6h0M478.0 710.0h0M482.1 712.7h0M465.0 712.2h0M492.9 710.9h0M491.9 709.0h0M464.5 711.0h0M518.4 709.1h0M461.5 710.8h0M479.2 709.0h0M497.9 711.1h0M469.9 709.9h0M500.2 711.3h0M461.2 711.2h0M521.3 712.2h0M498.0 710.3h0M462.4 710.4h0M483.9 711.3h0M480.1 712.7h0M502.5 712.4h0M495.4 712.1h0M503.3 712.7h0M462.4 712.0h0M472.8 712.1h0M459.6 709.2h0M469.5 709.6h0M553.6 712.6h0M492.3 709.2h0M474.8 709.6h0M456.7 710.7h0M506.9 710.0h0M477.0 709.7h0M466.3 711.6h0M467.8 710.6h0M468.4 712.4h0M488.5 711.1h0M561.8 709.9h0M567.2 709.2h0M561.6 712.8h0M535.4 712.7h0M542.5 711.1h0M517.9 709.8h0M561.1 709.7h0M528.1 712.7h0M566.7 712.0h0M546.4 709.8h0M573.8 712.7h0M538.5 710.9h0M563.2 709.9h0M548.0 711.9h0M536.3 711.1h0M503.8 709.2h0M552.3 709.3h0M558.3 710.0h0M538.4 712.7h0M570.6 709.3h0M502.5 710.4h0M486.9 711.4h0M575.1 709.2h0M514.6 710.4h0M549.7 712.5h0M486.7 709.0h0M533.7 711.4h0M531.1 710.4h0M502.5 711.9h0M495.8 709.1h0M534.6 711.7h0M533.3 708.9h0M571.6 710.2h0M561.8 709.5h0M570.5 709.0h0M563.2 712.9h0M533.8 709.5h0M470.1 710.7h0M514.3 712.8h0M556.8 711.6h0M568.2 709.0h0M556.3 713.0h0M574.4 712.9h0M558.8 709.8h0M572.1 712.5h0M492.2 709.9h0M498.3 709.6h0M598.8 710.2h0M608.3 712.7h0M472.7 679.5h0M478.2 680.6h0M479.1 682.4h0M465.2 682.3h0M507.6 681.4h0M516.5 681.6h0M474.8 681.1h0M517.6 680.8h0M470.9 680.7h0M457.1 680.9h0M474.7 681.2h0M484.7 680.8h0M482.3 681.4h0M476.3 679.5h0M473.1 680.8h0M537.3 680.6h0M516.6 679.8h0M468.5 679.7h0M503.2 678.7h0M469.2 678.8h0M479.3 679.9h0M468.2 680.8h0M479.6 682.3h0M461.0 680.3h0M474.5 680.0h0M462.0 679.4h0M548.8 679.8h0M460.0 681.8h0M497.4 679.6h0M494.1 680.2h0M462.8 682.7h0M460.9 682.6h0M462.3 679.2h0M489.9 680.2h0M493.7 681.4h0M532.0 680.9h0M485.0 682.8h0M459.1 680.9h0M486.8 680.7h0M479.3 682.8h0M478.9 680.7h0M519.3 680.5h0M486.8 679.4h0M480.7 680.3h0M494.1 681.3h0M527.2 682.1h0M543.5 679.7h0M521.3 682.0h0M551.5 682.3h0M535.2 680.0h0M548.9 680.3h0M532.4 680.1h0M509.0 679.7h0M543.3 682.0h0M487.5 681.9h0M473.7 680.8h0M558.2 680.8h0M526.7 681.5h0M546.2 679.5h0M468.7 682.1h0M549.8 682.8h0M522.8 679.8h0M532.1 678.7h0M618.3 678.5h0M485.6 663.7h0M459.4 663.6h0M458.4 663.4h0M465.1 662.1h0M492.5 663.2h0M493.5 664.6h0M468.7 664.9h0M467.9 661.2h0M456.0 662.8h0M461.2 664.3h0M457.1 664.2h0M462.9 664.8h0M463.6 663.1h0M465.0 662.2h0M471.6 662.5h0M460.6 661.3h0M459.0 663.9h0M491.8 661.0h0M457.2 662.0h0M478.0 663.5h0M457.6 661.2h0M541.2 663.0h0M486.6 662.6h0M533.3 664.4h0M556.4 662.4h0M492.7 663.9h0M463.4 661.9h0M482.0 651.1h0M456.8 648.9h0M456.7 652.4h0M457.1 650.8h0M457.6 649.3h0M457.4 651.1h0M463.5 650.5h0M462.4 650.5h0M460.4 651.0h0M459.9 648.9h0M466.7 650.7h0M465.4 649.2h0M497.7 648.9h0M503.2 650.9h0M460.0 642.6h0M466.8 640.7h0M458.3 638.7h0M458.7 640.8h0M456.5 641.9h0M461.5 640.3h0M459.1 639.7h0M456.6 640.9h0M490.3 639.3h0M544.7 640.9h0M458.8 631.3h0M457.9 634.6h0M459.4 631.7h0M456.1 624.1h0M459.4 625.8h0M456.1 627.8h0M463.5 627.4h0M457.7 620.0h0M459.3 621.6h0M457.9 616.2h0M456.6 606.0h0" stroke="#F8766D" stroke-width="1.10" stroke-linecap="round" fill="none" opacity="1.00"/><path d="M456.0 711.0C456.2 711.5 456.7 713.1 457.5 714.0C458.3 714.9 458.9 715.5 461.0 716.2C463.1 716.9 466.0 717.5 470.0 718.2C474.0 718.9 479.3 719.6 485.0 720.3C490.7 721.0 496.5 721.6 504.0 722.3C511.5 722.9 522.0 723.8 530.0 724.2C538.0 724.7 543.7 724.8 552.0 725.0C560.3 725.2 571.2 725.3 580.0 725.2C588.8 725.1 596.8 724.9 605.0 724.6C613.2 724.3 625.0 723.6 629.0 723.4" stroke="#111" stroke-width="0.75" fill="none"/><text x="644.3" y="666.7" font-size="4.80" text-anchor="start" fill="#000" stroke="#000" stroke-width="0.04" font-weight="normal" >celltype</text><circle cx="647.8" cy="673.0" r="0.55" fill="#F8766D"/><circle cx="647.8" cy="680.3" r="0.55" fill="#00BFC4"/><text x="654.2" y="674.5" font-size="4.20" text-anchor="start" fill="#000" stroke="#000" stroke-width="0.04" font-weight="normal" >Macrophages</text><text x="654.2" y="681.8" font-size="4.20" text-anchor="start" fill="#000" stroke="#000" stroke-width="0.04" font-weight="normal" >Microglia</text>
<g stroke="#999" stroke-width="0.35"><rect x="137.0" y="430.10" width="72.9" height="3.81" fill="#d83329"/><rect x="209.9" y="430.10" width="72.9" height="3.81" fill="#4878b5"/><rect x="137.0" y="433.91" width="72.9" height="3.81" fill="#e45239"/><rect x="209.9" y="433.91" width="72.9" height="3.81" fill="#6797c6"/><rect x="137.0" y="437.72" width="72.9" height="3.81" fill="#e85a3e"/><rect x="209.9" y="437.72" width="72.9" height="3.81" fill="#76a4cd"/><rect x="137.0" y="441.53" width="72.9" height="3.81" fill="#fc925c"/><rect x="209.9" y="441.53" width="72.9" height="3.81" fill="#95c2dd"/><rect x="137.0" y="445.34" width="72.9" height="3.81" fill="#fc9961"/><rect x="209.9" y="445.34" width="72.9" height="3.81" fill="#95c2dd"/><rect x="137.0" y="449.15" width="72.9" height="3.81" fill="#fdad6e"/><rect x="209.9" y="449.15" width="72.9" height="3.81" fill="#bedceb"/><rect x="137.0" y="452.96" width="72.9" height="3.81" fill="#fc9d64"/><rect x="209.9" y="452.96" width="72.9" height="3.81" fill="#a8cee3"/><rect x="137.0" y="456.77" width="72.9" height="3.81" fill="#fca166"/><rect x="209.9" y="456.77" width="72.9" height="3.81" fill="#afd3e6"/><rect x="137.0" y="460.58" width="72.9" height="3.81" fill="#fca166"/><rect x="209.9" y="460.58" width="72.9" height="3.81" fill="#a0c9e1"/><rect x="137.0" y="464.39" width="72.9" height="3.81" fill="#fda569"/><rect x="209.9" y="464.39" width="72.9" height="3.81" fill="#a4cce2"/><rect x="137.0" y="468.20" width="72.9" height="3.81" fill="#eff9dc"/><rect x="209.9" y="468.20" width="72.9" height="3.81" fill="#fee99e"/><rect x="137.0" y="472.01" width="72.9" height="3.81" fill="#eff9dc"/><rect x="209.9" y="472.01" width="72.9" height="3.81" fill="#fee99e"/><rect x="137.0" y="475.82" width="72.9" height="3.81" fill="#eef8df"/><rect x="209.9" y="475.82" width="72.9" height="3.81" fill="#fee79a"/><rect x="137.0" y="479.63" width="72.9" height="3.81" fill="#e4f4f1"/><rect x="209.9" y="479.63" width="72.9" height="3.81" fill="#fed78a"/><rect x="137.0" y="483.44" width="72.9" height="3.81" fill="#e4f4f1"/><rect x="209.9" y="483.44" width="72.9" height="3.81" fill="#fedb8c"/><rect x="137.0" y="487.25" width="72.9" height="3.81" fill="#e8f6e9"/><rect x="209.9" y="487.25" width="72.9" height="3.81" fill="#fee496"/><rect x="137.0" y="491.06" width="72.9" height="3.81" fill="#e8f6e9"/><rect x="209.9" y="491.06" width="72.9" height="3.81" fill="#fee598"/><rect x="137.0" y="494.87" width="72.9" height="3.81" fill="#c1dfed"/><rect x="209.9" y="494.87" width="72.9" height="3.81" fill="#fda96b"/><rect x="137.0" y="498.68" width="72.9" height="3.81" fill="#8ebcda"/><rect x="209.9" y="498.68" width="72.9" height="3.81" fill="#f78153"/><rect x="137.0" y="502.49" width="72.9" height="3.81" fill="#8bb9d8"/><rect x="209.9" y="502.49" width="72.9" height="3.81" fill="#f57d50"/><rect x="137.0" y="506.31" width="72.9" height="3.81" fill="#fee496"/><rect x="209.9" y="506.31" width="72.9" height="3.81" fill="#e7f6ec"/><rect x="137.0" y="510.12" width="72.9" height="3.81" fill="#fee598"/><rect x="209.9" y="510.12" width="72.9" height="3.81" fill="#e7f6ec"/><rect x="137.0" y="513.93" width="72.9" height="3.81" fill="#fee79a"/><rect x="209.9" y="513.93" width="72.9" height="3.81" fill="#e8f6e9"/><rect x="137.0" y="517.74" width="72.9" height="3.81" fill="#fff5b0"/><rect x="209.9" y="517.74" width="72.9" height="3.81" fill="#ffffbf"/><rect x="137.0" y="521.55" width="72.9" height="3.81" fill="#fff5b0"/><rect x="209.9" y="521.55" width="72.9" height="3.81" fill="#ffffbf"/><rect x="137.0" y="525.36" width="72.9" height="3.81" fill="#fff5b0"/><rect x="209.9" y="525.36" width="72.9" height="3.81" fill="#ffffbf"/><rect x="137.0" y="529.17" width="72.9" height="3.81" fill="#fff5b0"/><rect x="209.9" y="529.17" width="72.9" height="3.81" fill="#ffffbf"/><rect x="137.0" y="532.98" width="72.9" height="3.81" fill="#fff2ab"/><rect x="209.9" y="532.98" width="72.9" height="3.81" fill="#f6fccf"/><rect x="137.0" y="536.79" width="72.9" height="3.81" fill="#fff2ab"/><rect x="209.9" y="536.79" width="72.9" height="3.81" fill="#f6fccf"/><rect x="137.0" y="540.60" width="72.9" height="3.81" fill="#fff4ae"/><rect x="209.9" y="540.60" width="72.9" height="3.81" fill="#f5fbd1"/><rect x="137.0" y="544.41" width="72.9" height="3.81" fill="#fff4ae"/><rect x="209.9" y="544.41" width="72.9" height="3.81" fill="#f5fbd1"/><rect x="137.0" y="548.22" width="72.9" height="3.81" fill="#fff6b2"/><rect x="209.9" y="548.22" width="72.9" height="3.81" fill="#fffbb8"/><rect x="137.0" y="552.03" width="72.9" height="3.81" fill="#fff6b2"/><rect x="209.9" y="552.03" width="72.9" height="3.81" fill="#fffbb8"/><rect x="137.0" y="555.84" width="72.9" height="3.81" fill="#fff6b2"/><rect x="209.9" y="555.84" width="72.9" height="3.81" fill="#fffbb8"/><rect x="137.0" y="559.65" width="72.9" height="3.81" fill="#fff6b2"/><rect x="209.9" y="559.65" width="72.9" height="3.81" fill="#fffbb8"/><rect x="137.0" y="563.46" width="72.9" height="3.81" fill="#fff6b2"/><rect x="209.9" y="563.46" width="72.9" height="3.81" fill="#fffbb8"/><rect x="137.0" y="567.27" width="72.9" height="3.81" fill="#fff6b2"/><rect x="209.9" y="567.27" width="72.9" height="3.81" fill="#fffbb8"/><rect x="137.0" y="571.08" width="72.9" height="3.81" fill="#fff6b2"/><rect x="209.9" y="571.08" width="72.9" height="3.81" fill="#fffbb8"/><rect x="137.0" y="574.89" width="72.9" height="3.81" fill="#fff6b2"/><rect x="209.9" y="574.89" width="72.9" height="3.81" fill="#fffbb8"/><rect x="137.0" y="578.70" width="72.9" height="3.81" fill="#fff6b2"/><rect x="209.9" y="578.70" width="72.9" height="3.81" fill="#fffbb8"/><rect x="137.0" y="582.51" width="72.9" height="3.81" fill="#fff6b2"/><rect x="209.9" y="582.51" width="72.9" height="3.81" fill="#fffbb8"/><rect x="137.0" y="586.32" width="72.9" height="3.81" fill="#fff6b2"/><rect x="209.9" y="586.32" width="72.9" height="3.81" fill="#fffbb8"/><rect x="137.0" y="590.13" width="72.9" height="3.81" fill="#fff6b2"/><rect x="209.9" y="590.13" width="72.9" height="3.81" fill="#fffbb8"/><rect x="137.0" y="593.94" width="72.9" height="3.81" fill="#fff6b2"/><rect x="209.9" y="593.94" width="72.9" height="3.81" fill="#fffbb8"/><rect x="137.0" y="597.75" width="72.9" height="3.81" fill="#fff6b2"/><rect x="209.9" y="597.75" width="72.9" height="3.81" fill="#fffbb8"/><rect x="137.0" y="601.56" width="72.9" height="3.81" fill="#fff6b2"/><rect x="209.9" y="601.56" width="72.9" height="3.81" fill="#fffbb8"/><rect x="137.0" y="605.37" width="72.9" height="3.81" fill="#fff6b2"/><rect x="209.9" y="605.37" width="72.9" height="3.81" fill="#fffbb8"/><rect x="137.0" y="609.18" width="72.9" height="3.81" fill="#fff6b2"/><rect x="209.9" y="609.18" width="72.9" height="3.81" fill="#fffbb8"/><rect x="137.0" y="612.99" width="72.9" height="3.81" fill="#fff6b2"/><rect x="209.9" y="612.99" width="72.9" height="3.81" fill="#fffbb8"/><rect x="137.0" y="616.80" width="72.9" height="3.81" fill="#f4fbd4"/><rect x="209.9" y="616.80" width="72.9" height="3.81" fill="#fee99e"/><rect x="137.0" y="620.61" width="72.9" height="3.81" fill="#f4fbd4"/><rect x="209.9" y="620.61" width="72.9" height="3.81" fill="#fee99e"/><rect x="137.0" y="624.42" width="72.9" height="3.81" fill="#f4fbd4"/><rect x="209.9" y="624.42" width="72.9" height="3.81" fill="#fee99e"/><rect x="137.0" y="628.23" width="72.9" height="3.81" fill="#f4fbd4"/><rect x="209.9" y="628.23" width="72.9" height="3.81" fill="#fee99e"/><rect x="137.0" y="632.04" width="72.9" height="3.81" fill="#f4fbd4"/><rect x="209.9" y="632.04" width="72.9" height="3.81" fill="#fee99e"/><rect x="137.0" y="635.85" width="72.9" height="3.81" fill="#f4fbd4"/><rect x="209.9" y="635.85" width="72.9" height="3.81" fill="#fee99e"/><rect x="137.0" y="639.66" width="72.9" height="3.81" fill="#f4fbd4"/><rect x="209.9" y="639.66" width="72.9" height="3.81" fill="#fee99e"/><rect x="137.0" y="643.47" width="72.9" height="3.81" fill="#f4fbd4"/><rect x="209.9" y="643.47" width="72.9" height="3.81" fill="#fee99e"/><rect x="137.0" y="647.28" width="72.9" height="3.81" fill="#f4fbd4"/><rect x="209.9" y="647.28" width="72.9" height="3.81" fill="#fee99e"/><rect x="137.0" y="651.09" width="72.9" height="3.81" fill="#f4fbd4"/><rect x="209.9" y="651.09" width="72.9" height="3.81" fill="#fee99e"/><rect x="137.0" y="654.91" width="72.9" height="3.81" fill="#f4fbd4"/><rect x="209.9" y="654.91" width="72.9" height="3.81" fill="#fee99e"/><rect x="137.0" y="658.72" width="72.9" height="3.81" fill="#f9fdcb"/><rect x="209.9" y="658.72" width="72.9" height="3.81" fill="#feeba1"/><rect x="137.0" y="662.53" width="72.9" height="3.81" fill="#f9fdcb"/><rect x="209.9" y="662.53" width="72.9" height="3.81" fill="#feeba1"/><rect x="137.0" y="666.34" width="72.9" height="3.81" fill="#f9fdcb"/><rect x="209.9" y="666.34" width="72.9" height="3.81" fill="#feeba1"/><rect x="137.0" y="670.15" width="72.9" height="3.81" fill="#f9fdcb"/><rect x="209.9" y="670.15" width="72.9" height="3.81" fill="#feeba1"/><rect x="137.0" y="673.96" width="72.9" height="3.81" fill="#f9fdcb"/><rect x="209.9" y="673.96" width="72.9" height="3.81" fill="#feeba1"/><rect x="137.0" y="677.77" width="72.9" height="3.81" fill="#f9fdcb"/><rect x="209.9" y="677.77" width="72.9" height="3.81" fill="#feeba1"/><rect x="137.0" y="681.58" width="72.9" height="3.81" fill="#f9fdcb"/><rect x="209.9" y="681.58" width="72.9" height="3.81" fill="#feeba1"/><rect x="137.0" y="685.39" width="72.9" height="3.81" fill="#f9fdcb"/><rect x="209.9" y="685.39" width="72.9" height="3.81" fill="#feeba1"/><rect x="137.0" y="689.20" width="72.9" height="3.81" fill="#f9fdcb"/><rect x="209.9" y="689.20" width="72.9" height="3.81" fill="#feeba1"/><rect x="137.0" y="693.01" width="72.9" height="3.81" fill="#f9fdcb"/><rect x="209.9" y="693.01" width="72.9" height="3.81" fill="#feeba1"/><rect x="137.0" y="696.82" width="72.9" height="3.81" fill="#f9fdcb"/><rect x="209.9" y="696.82" width="72.9" height="3.81" fill="#feeba1"/><rect x="137.0" y="700.63" width="72.9" height="3.81" fill="#f9fdcb"/><rect x="209.9" y="700.63" width="72.9" height="3.81" fill="#feeba1"/><rect x="137.0" y="704.44" width="72.9" height="3.81" fill="#f9fdcb"/><rect x="209.9" y="704.44" width="72.9" height="3.81" fill="#feeba1"/><rect x="137.0" y="708.25" width="72.9" height="3.81" fill="#f9fdcb"/><rect x="209.9" y="708.25" width="72.9" height="3.81" fill="#feeba1"/><rect x="137.0" y="712.06" width="72.9" height="3.81" fill="#f9fdcb"/><rect x="209.9" y="712.06" width="72.9" height="3.81" fill="#feeba1"/><rect x="137.0" y="715.87" width="72.9" height="3.81" fill="#f9fdcb"/><rect x="209.9" y="715.87" width="72.9" height="3.81" fill="#feeba1"/><rect x="137.0" y="719.68" width="72.9" height="3.81" fill="#f9fdcb"/><rect x="209.9" y="719.68" width="72.9" height="3.81" fill="#feeba1"/><rect x="137.0" y="723.49" width="72.9" height="3.81" fill="#f9fdcb"/><rect x="209.9" y="723.49" width="72.9" height="3.81" fill="#feeba1"/></g>
<g font-size="5.05" fill="#000" stroke="#000" stroke-width="0.05"><text x="284.7" y="433.86">Module 77</text><text x="284.7" y="437.67">Module 21</text><text x="284.7" y="441.48">Module 50</text><text x="284.7" y="445.29">Module 59</text><text x="284.7" y="449.10">Module 47</text><text x="284.7" y="452.91">Module 72</text><text x="284.7" y="456.72">Module 40</text><text x="284.7" y="460.53">Module 70</text><text x="284.7" y="464.34">Module 23</text><text x="284.7" y="468.15">Module 32</text><text x="284.7" y="471.96">Module 6</text><text x="284.7" y="475.77">Module 3</text><text x="284.7" y="479.58">Module 62</text><text x="284.7" y="483.39">Module 48</text><text x="284.7" y="487.20">Module 10</text><text x="284.7" y="491.01">Module 17</text><text x="284.7" y="494.82">Module 60</text><text x="284.7" y="498.63">Module 45</text><text x="284.7" y="502.44">Module 38</text><text x="284.7" y="506.25">Module 30</text><text x="284.7" y="510.06">Module 12</text><text x="284.7" y="513.87">Module 49</text><text x="284.7" y="517.68">Module 75</text><text x="284.7" y="521.49">Module 20</text><text x="284.7" y="525.30">Module 53</text><text x="284.7" y="529.11">Module 14</text><text x="284.7" y="532.92">Module 4</text><text x="284.7" y="536.73">Module 9</text><text x="284.7" y="540.54">Module 16</text><text x="284.7" y="544.35">Module 1</text><text x="284.7" y="548.16">Module 25</text><text x="284.7" y="551.97">Module 36</text><text x="284.7" y="555.78">Module 13</text><text x="284.7" y="559.59">Module 35</text><text x="284.7" y="563.40">Module 27</text><text x="284.7" y="567.21">Module 8</text><text x="284.7" y="571.02">Module 56</text><text x="284.7" y="574.83">Module 66</text><text x="284.7" y="578.64">Module 41</text><text x="284.7" y="582.46">Module 28</text><text x="284.7" y="586.27">Module 71</text><text x="284.7" y="590.08">Module 19</text><text x="284.7" y="593.89">Module 33</text><text x="284.7" y="597.70">Module 64</text><text x="284.7" y="601.51">Module 52</text><text x="284.7" y="605.32">Module 2</text><text x="284.7" y="609.13">Module 44</text><text x="284.7" y="612.94">Module 67</text><text x="284.7" y="616.75">Module 31</text><text x="284.7" y="620.56">Module 58</text><text x="284.7" y="624.37">Module 22</text><text x="284.7" y="628.18">Module 73</text><text x="284.7" y="631.99">Module 5</text><text x="284.7" y="635.80">Module 46</text><text x="284.7" y="639.61">Module 63</text><text x="284.7" y="643.42">Module 15</text><text x="284.7" y="647.23">Module 79</text><text x="284.7" y="651.04">Module 37</text><text x="284.7" y="654.85">Module 69</text><text x="284.7" y="658.66">Module 26</text><text x="284.7" y="662.47">Module 54</text><text x="284.7" y="666.28">Module 11</text><text x="284.7" y="670.09">Module 80</text><text x="284.7" y="673.90">Module 42</text><text x="284.7" y="677.71">Module 7</text><text x="284.7" y="681.52">Module 61</text><text x="284.7" y="685.33">Module 34</text><text x="284.7" y="689.14">Module 74</text><text x="284.7" y="692.95">Module 18</text><text x="284.7" y="696.76">Module 57</text><text x="284.7" y="700.57">Module 29</text><text x="284.7" y="704.38">Module 81</text><text x="284.7" y="708.19">Module 43</text><text x="284.7" y="712.00">Module 68</text><text x="284.7" y="715.81">Module 24</text><text x="284.7" y="719.62">Module 76</text><text x="284.7" y="723.43">Module 51</text><text x="284.7" y="727.24">Module 84</text></g>
<text transform="translate(171.3 729.3) rotate(90)" font-size="4.95" stroke="#000" stroke-width="0.04">Macrophages</text>
<text transform="translate(244.3 729.3) rotate(90)" font-size="4.95" stroke="#000" stroke-width="0.04">Microglia</text>
<path d="M173.4 430.1V403.4H246.6V430.1" stroke="#555" stroke-width="0.55" fill="none"/>
<path d="M131.5 442.0H110.5V528.6H125.2M134.5 434.7H131.5V449.4H133.5M137.0 432.0H134.5V437.6H136.0M137.0 435.8H136.0V439.5H137.0M135.5 443.5H133.5V456.0H135.0M137.0 441.6H135.5V446.0H137.0M137.0 450.0H135.0V462.0H136.2M137.0 458.0H136.2V466.0H137.0M131.5 488.2H125.2V568.0H128.3M134.0 472.5H131.5V498.1H135.0M135.5 468.0H134.0V480.0H135.5M137.0 466.0H135.5V472.0H137.0M137.0 476.0H135.5V486.0H137.0M137.0 494.5H135.0V502.5H136.0M137.0 500.5H136.0V504.0H137.0M133.6 519.7H128.3V616.2H132.5M135.5 510.3H133.6V529.2H135.0M137.0 507.5H135.5V513.5H137.0M136.2 522.0H135.0V538.0H136.0M137.0 532.0H136.0V545.0H137.0M135.0 574.2H132.5V659.2H134.5M136.0 560.0H135.0V590.0H136.0M137.0 552.0H136.0V568.0H137.0M137.0 580.0H136.0V600.0H137.0M135.8 633.0H134.5V685.5H135.8M137.0 625.0H135.8V641.0H137.0M137.0 668.0H135.8V703.0H136.4M137.0 694.0H136.4V714.0H137.0" stroke="#555" stroke-width="0.5" fill="none"/>
<defs><linearGradient id="hm" x1="0" y1="0" x2="0" y2="1"><stop offset="0.000" stop-color="#d73027"/><stop offset="0.167" stop-color="#fc8d59"/><stop offset="0.333" stop-color="#fee090"/><stop offset="0.500" stop-color="#ffffbf"/><stop offset="0.667" stop-color="#e0f3f8"/><stop offset="0.833" stop-color="#91bfdb"/><stop offset="1.000" stop-color="#4575b4"/></linearGradient></defs>
<rect x="311" y="430.1" width="5.2" height="74.8" fill="url(#hm)"/>
<text x="318.4" y="434.9" font-size="5.00" text-anchor="start" fill="#000" stroke="#000" stroke-width="0.04" font-weight="normal" >3</text>
<text x="318.4" y="446.5" font-size="5.00" text-anchor="start" fill="#000" stroke="#000" stroke-width="0.04" font-weight="normal" >2</text>
<text x="318.4" y="458.0" font-size="5.00" text-anchor="start" fill="#000" stroke="#000" stroke-width="0.04" font-weight="normal" >1</text>
<text x="318.4" y="469.6" font-size="5.00" text-anchor="start" fill="#000" stroke="#000" stroke-width="0.04" font-weight="normal" >0</text>
<text x="318.4" y="481.2" font-size="5.00" text-anchor="start" fill="#000" stroke="#000" stroke-width="0.04" font-weight="normal" >−1</text>
<text x="318.4" y="492.8" font-size="5.00" text-anchor="start" fill="#000" stroke="#000" stroke-width="0.04" font-weight="normal" >−2</text>
<text x="318.4" y="504.3" font-size="5.00" text-anchor="start" fill="#000" stroke="#000" stroke-width="0.04" font-weight="normal" >−3</text>
</g></svg>
</body></html>
